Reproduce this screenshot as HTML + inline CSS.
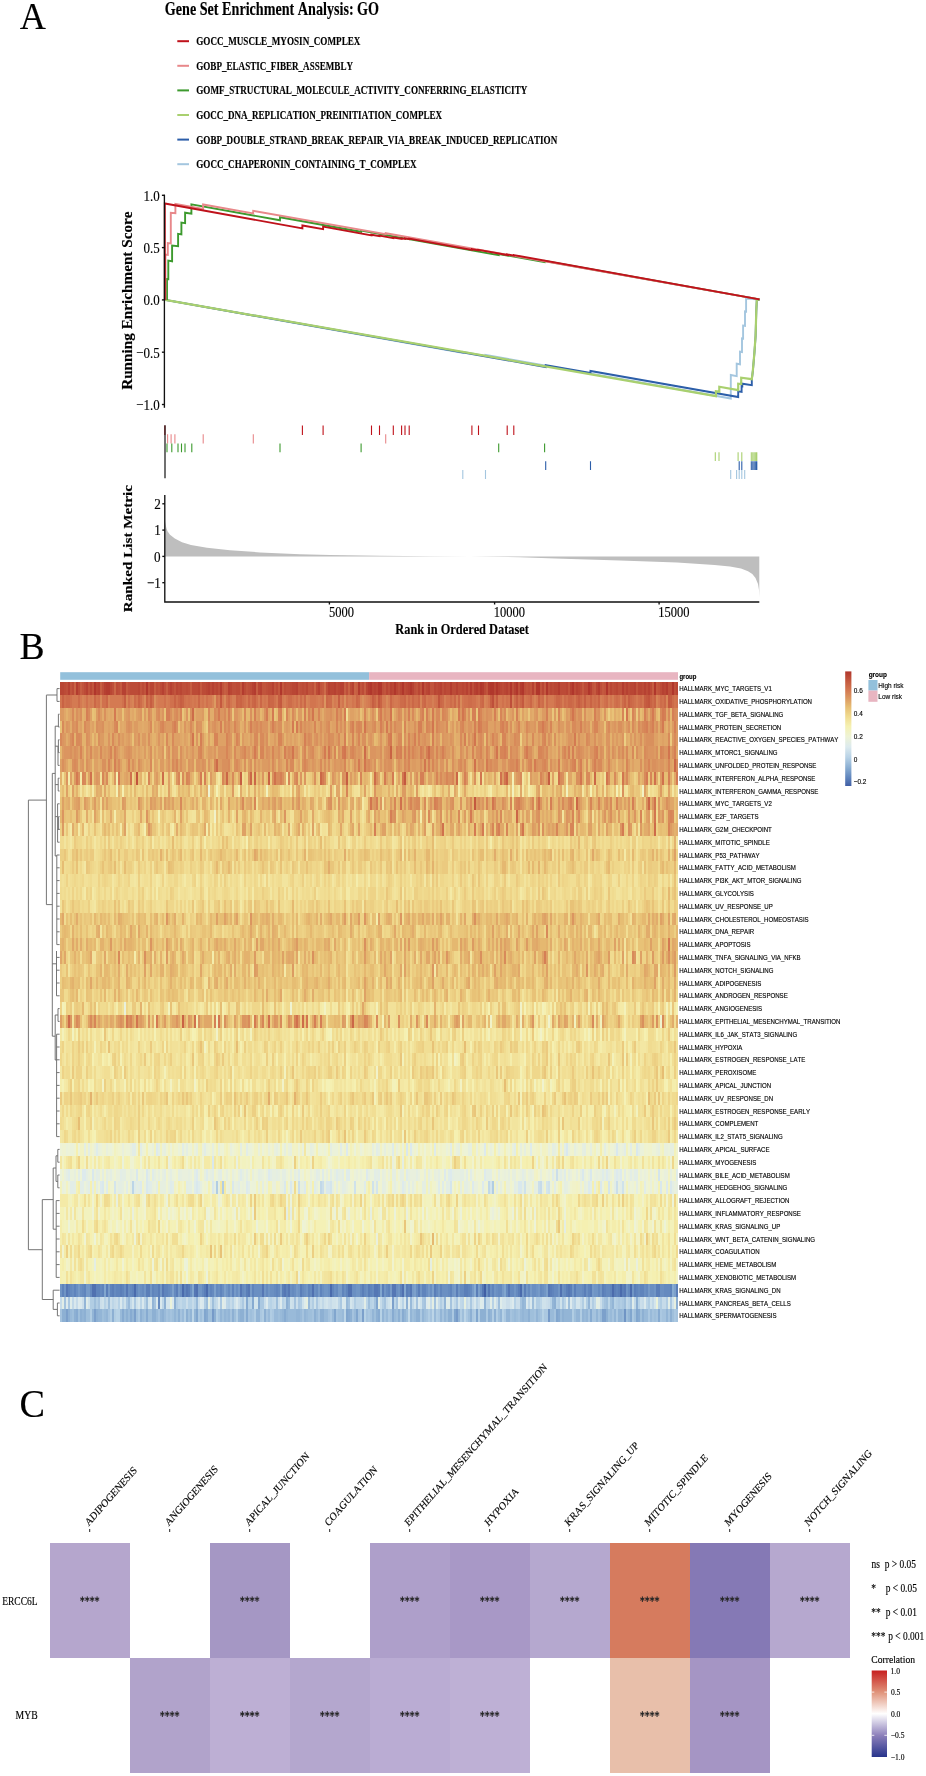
<!DOCTYPE html>
<html><head><meta charset="utf-8"><style>
html,body{margin:0;padding:0;background:#fff;width:926px;height:1776px;overflow:hidden}
svg{display:block;will-change:transform}
text{font-family:"Liberation Serif",serif;font-kerning:none;stroke:#000;stroke-width:0.18px;stroke-opacity:0.8}
.ss{font-family:"Liberation Sans",sans-serif}
</style></head><body>
<svg width="926" height="1776" viewBox="0 0 926 1776">
<rect width="926" height="1776" fill="#fff"/>
<text transform="translate(19.65 29.00) scale(0.9588 1)" font-size="37.870">A</text>
<text transform="translate(164.81 14.70) scale(0.7666 1)" font-size="18.448" font-weight="bold">Gene Set Enrichment Analysis: GO</text>
<rect x="177.3" y="40.20" width="11.7" height="2" fill="#bf121b"/>
<text transform="translate(196.25 45.20) scale(0.7856 1)" font-size="11.629" font-weight="bold">GOCC_MUSCLE_MYOSIN_COMPLEX</text>
<rect x="177.3" y="64.80" width="11.7" height="2" fill="#e8888a"/>
<text transform="translate(196.26 69.80) scale(0.7808 1)" font-size="11.629" font-weight="bold">GOBP_ELASTIC_FIBER_ASSEMBLY</text>
<rect x="177.3" y="89.40" width="11.7" height="2" fill="#3d9a2e"/>
<text transform="translate(196.25 94.40) scale(0.7845 1)" font-size="11.629" font-weight="bold">GOMF_STRUCTURAL_MOLECULE_ACTIVITY_CONFERRING_ELASTICITY</text>
<rect x="177.3" y="114.00" width="11.7" height="2" fill="#a9d06f"/>
<text transform="translate(196.26 119.00) scale(0.7794 1)" font-size="11.629" font-weight="bold">GOCC_DNA_REPLICATION_PREINITIATION_COMPLEX</text>
<rect x="177.3" y="138.60" width="11.7" height="2" fill="#2c5ea9"/>
<text transform="translate(196.26 143.60) scale(0.7828 1)" font-size="11.629" font-weight="bold">GOBP_DOUBLE_STRAND_BREAK_REPAIR_VIA_BREAK_INDUCED_REPLICATION</text>
<rect x="177.3" y="163.20" width="11.7" height="2" fill="#a4c6df"/>
<text transform="translate(196.26 168.20) scale(0.7826 1)" font-size="11.629" font-weight="bold">GOCC_CHAPERONIN_CONTAINING_T_COMPLEX</text>
<text transform="translate(131.80 389.86) rotate(-90) scale(1.0669 1)" font-size="14.268" font-weight="bold">Running Enrichment Score</text>
<g fill="none" stroke-width="1.9" stroke-linejoin="miter">
<path d="M165.20 299.90 462.80 352.83 462.80 351.83 485.50 355.87 485.50 354.87 730.80 398.50 730.80 375.00 736.70 376.20 736.70 363.70 740.00 364.30 740.00 351.60 742.00 352.00 742.00 338.40 743.10 338.60 743.10 325.50 745.00 325.80 745.00 311.50 746.10 311.70 746.10 298.60 759.50 299.50" stroke="#a4c6df"/>
<path d="M165.20 299.90 545.70 367.04 545.70 365.04 590.50 372.94 590.50 370.94 738.20 397.00 738.20 391.30 741.60 391.90 741.60 386.00 742.30 386.20 742.30 383.70 751.80 385.20 751.80 380.00 752.90 370.50 754.40 353.00 755.60 336.00 756.30 311.00 756.80 300.20 759.50 299.60" stroke="#2c5ea9"/>
<path d="M165.20 299.90 715.90 396.20 715.90 391.30 719.30 391.70 719.30 386.70 738.20 390.20 738.20 383.70 741.20 384.00 741.20 377.70 751.80 379.20 752.90 370.10 754.40 352.70 755.60 335.40 756.30 310.40 756.80 300.00 759.50 299.60" stroke="#a9d06f" stroke-width="2.2"/>
<path d="M167.00 299.90 167.00 279.00 168.30 279.20 168.30 260.60 172.10 261.30 172.10 245.50 178.10 246.20 178.10 233.90 181.40 234.40 181.40 222.60 185.10 223.20 185.10 212.70 191.40 213.60 191.40 204.40 280.00 220.25 280.00 217.25 361.10 231.75 361.10 230.55 498.70 255.16 498.70 253.96 544.60 262.17 544.60 260.97 759.50 299.40" stroke="#3d9a2e"/>
<path d="M165.40 299.90 165.40 254.60 167.80 254.90 167.80 243.00 170.80 243.40 170.80 212.70 175.40 213.20 175.40 204.00 203.10 208.90 203.10 204.50 253.20 213.37 253.20 210.77 385.70 234.23 385.70 233.23 759.50 299.40" stroke="#e8888a"/>
<path d="M164.80 299.90 164.80 203.50 302.40 228.35 302.40 225.45 323.10 229.19 323.10 226.59 371.50 235.33 371.50 234.73 379.50 236.17 379.50 235.57 393.30 238.07 393.30 237.47 401.60 238.96 401.60 238.36 405.00 238.98 405.00 238.38 409.20 239.14 409.20 238.54 471.90 249.86 471.90 249.26 478.50 250.45 478.50 249.85 507.20 255.04 507.20 254.44 513.80 255.63 513.80 255.03 759.50 299.40" stroke="#bf121b"/>
</g>
<g stroke="#111" stroke-width="1.35" fill="none">
<path d="M164.4 194.6V407.8"/>
<path d="M161.9 195.30H164.4"/>
<path d="M161.9 247.60H164.4"/>
<path d="M161.9 299.90H164.4"/>
<path d="M161.9 352.20H164.4"/>
<path d="M161.9 404.50H164.4"/>
</g>
<text transform="translate(143.51 200.60) scale(0.8350 1)" font-size="15.600">1.0</text>
<text transform="translate(143.53 252.90) scale(0.8350 1)" font-size="15.600">0.5</text>
<text transform="translate(143.51 305.20) scale(0.8350 1)" font-size="15.600">0.0</text>
<text transform="translate(136.18 357.50) scale(0.8350 1)" font-size="15.600">−0.5</text>
<text transform="translate(136.17 409.80) scale(0.8350 1)" font-size="15.600">−1.0</text>
<g stroke-width="1.1">
<path d="M164.9 425.5V435.0M302.4 425.5V435.0M323.1 425.5V435.0M371.5 425.5V435.0M379.5 425.5V435.0M393.3 425.5V435.0M401.6 425.5V435.0M405.0 425.5V435.0M409.2 425.5V435.0M471.9 425.5V435.0M478.5 425.5V435.0M507.2 425.5V435.0M513.8 425.5V435.0" stroke="#bf121b"/>
<path d="M167.6 434.2V443.5M171.1 434.2V443.5M174.9 434.2V443.5M203.2 434.2V443.5M253.3 434.2V443.5M385.7 434.2V443.5" stroke="#e8888a"/>
<path d="M167.0 443.5V452.2M171.8 443.5V452.2M178.0 443.5V452.2M181.5 443.5V452.2M185.0 443.5V452.2M191.8 443.5V452.2M280.0 443.5V452.2M361.1 443.5V452.2M498.7 443.5V452.2M544.6 443.5V452.2" stroke="#3d9a2e"/>
<path d="M715.3 452.2V460.9M719.0 452.2V460.9M738.1 452.2V460.9M741.8 452.2V460.9M751.3 452.2V460.9M752.8 452.2V460.9M754.2 452.2V460.9M755.7 452.2V460.9M756.8 452.2V460.9" stroke="#a9d06f"/>
<path d="M545.7 461.2V469.9M590.5 461.2V469.9M739.2 461.2V469.9M741.8 461.2V469.9M751.3 461.2V469.9M752.8 461.2V469.9M754.2 461.2V469.9M755.7 461.2V469.9M756.8 461.2V469.9" stroke="#2c5ea9"/>
<path d="M462.8 469.9V479.0M485.5 469.9V479.0M730.7 469.9V479.0M736.6 469.9V479.0M739.2 469.9V479.0M741.8 469.9V479.0M744.7 469.9V479.0" stroke="#a4c6df"/>
</g>
<path d="M165 425.3V478.3" stroke="#111" stroke-width="1.2"/>
<path d="M164.8 556.4 L164.8 520.5 L165.6 524.5 L166.5 528.5 L167.5 531.3 L170.0 534.8 L174.8 538.6 L182.0 542.3 L191.0 545.0 L207.0 547.8 L230.0 550.2 L260.0 552.4 L300.0 554.2 L330.0 555.0 L380.0 555.8 L430.0 556.2 L470.0 556.5 L520.0 557.2 L563.0 558.8 L620.0 560.6 L677.0 562.4 L714.5 565.0 L730.0 566.6 L741.0 568.6 L748.0 571.2 L752.3 574.0 L755.5 578.0 L758.0 584.0 L759.0 590.0 L759.3 597.2 L759.3 556.4Z" fill="#bebebe"/>
<g stroke="#111" stroke-width="1.35" fill="none">
<path d="M164.8 495.0V602.0H759.3"/>
<path d="M162.3 503.80H164.8"/>
<path d="M162.3 530.10H164.8"/>
<path d="M162.3 556.40H164.8"/>
<path d="M162.3 582.70H164.8"/>
<path d="M329.4 602V604.5"/>
<path d="M494.6 602V604.5"/>
<path d="M659.1 602V604.5"/>
</g>
<text transform="translate(154.25 509.00) scale(0.8600 1)" font-size="15.300">2</text>
<text transform="translate(154.31 535.30) scale(0.8600 1)" font-size="15.300">1</text>
<text transform="translate(154.02 561.60) scale(0.8600 1)" font-size="15.300">0</text>
<text transform="translate(146.89 587.90) scale(0.8600 1)" font-size="15.300">−1</text>
<text transform="translate(329.07 617.30) scale(0.8000 1)" font-size="15.600">5000</text>
<text transform="translate(493.80 617.30) scale(0.8000 1)" font-size="15.600">10000</text>
<text transform="translate(658.30 617.30) scale(0.8000 1)" font-size="15.600">15000</text>
<text transform="translate(132.10 612.26) rotate(-90) scale(1.1713 1)" font-size="12.971" font-weight="bold">Ranked List Metric</text>
<text transform="translate(395.29 633.90) scale(0.8259 1)" font-size="14.989" font-weight="bold">Rank in Ordered Dataset</text>
<text transform="translate(19.41 658.60) scale(0.9945 1)" font-size="37.875">B</text>
<rect x="60.2" y="672.2" width="308.9" height="7.6" fill="#93c0db"/>
<rect x="369.1" y="672.2" width="308.9" height="7.6" fill="#e8b5c1"/>
<g stroke-width="12.80" fill="none" shape-rendering="crispEdges">
<path stroke="#b94634" d="M60.2 688.60h4.00M90.2 688.60h2.00M96.2 688.60h2.00M110.2 688.60h2.00M138.2 688.60h2.00M150.2 688.60h4.00M176.2 688.60h2.00M180.2 688.60h2.00M198.2 688.60h2.00M206.2 688.60h2.00M216.1 688.60h2.00M230.1 688.60h2.00M258.1 688.60h2.00M292.1 688.60h4.00M306.1 688.60h2.00M330.1 688.60h4.00M338.1 688.60h2.00M366.1 688.60h2.00M372.1 688.60h2.00M376.1 688.60h2.00M386.1 688.60h2.00M392.1 688.60h2.00M396.1 688.60h2.00M400.1 688.60h2.00M406.1 688.60h2.00M418.1 688.60h2.00M426.1 688.60h2.00M434.1 688.60h2.00M438.1 688.60h2.00M444.1 688.60h2.00M462.1 688.60h2.00M478.1 688.60h2.00M494.1 688.60h2.00M500.1 688.60h2.00M504.1 688.60h2.00M542.0 688.60h2.00M550.0 688.60h2.00M554.0 688.60h4.00M566.0 688.60h2.00M578.0 688.60h2.00M596.0 688.60h2.00M610.0 688.60h2.00M616.0 688.60h2.00M630.0 688.60h4.00M638.0 688.60h4.00M664.0 688.60h2.00M676.0 688.60h2.00"/>
<path stroke="#bc4b37" d="M64.2 688.60h2.00M72.2 688.60h2.00M78.2 688.60h2.00M84.2 688.60h2.00M116.2 688.60h2.00M130.2 688.60h8.00M142.2 688.60h2.00M160.2 688.60h2.00M168.2 688.60h2.00M172.2 688.60h2.00M178.2 688.60h2.00M186.2 688.60h2.00M192.2 688.60h6.00M202.2 688.60h4.00M210.2 688.60h2.00M214.2 688.60h2.00M236.1 688.60h4.00M244.1 688.60h2.00M250.1 688.60h2.00M268.1 688.60h4.00M276.1 688.60h2.00M284.1 688.60h2.00M290.1 688.60h2.00M302.1 688.60h2.00M316.1 688.60h2.00M336.1 688.60h2.00M350.1 688.60h2.00M362.1 688.60h2.00M404.1 688.60h2.00M436.1 688.60h2.00M446.1 688.60h4.00M452.1 688.60h4.00M458.1 688.60h4.00M464.1 688.60h2.00M484.1 688.60h2.00M502.1 688.60h2.00M508.1 688.60h2.00M552.0 688.60h2.00M560.0 688.60h6.00M574.0 688.60h2.00M580.0 688.60h2.00M584.0 688.60h4.00M614.0 688.60h2.00M624.0 688.60h2.00M628.0 688.60h2.00M642.0 688.60h2.00M646.0 688.60h2.00M650.0 688.60h2.00M660.0 688.60h2.00"/>
<path stroke="#be4f3a" d="M66.2 688.60h2.00M102.2 688.60h2.00M112.2 688.60h2.00M118.2 688.60h2.00M128.2 688.60h2.00M156.2 688.60h2.00M164.2 688.60h2.00M182.2 688.60h4.00M188.2 688.60h2.00M218.1 688.60h2.00M232.1 688.60h4.00M248.1 688.60h2.00M266.1 688.60h2.00M286.1 688.60h4.00M300.1 688.60h2.00M304.1 688.60h2.00M312.1 688.60h2.00M326.1 688.60h2.00M346.1 688.60h2.00M382.1 688.60h2.00M388.1 688.60h2.00M398.1 688.60h2.00M414.1 688.60h2.00M424.1 688.60h2.00M442.1 688.60h2.00M468.1 688.60h2.00M472.1 688.60h2.00M512.1 688.60h2.00M518.1 688.60h2.00M524.0 688.60h2.00M528.0 688.60h2.00M548.0 688.60h2.00M600.0 688.60h2.00M612.0 688.60h2.00M618.0 688.60h4.00M668.0 688.60h4.00M674.0 688.60h2.00M492.1 701.40h2.00M510.1 701.40h2.00"/>
<path stroke="#b64132" d="M68.2 688.60h2.00M86.2 688.60h2.00M98.2 688.60h2.00M104.2 688.60h2.00M122.2 688.60h4.00M162.2 688.60h2.00M170.2 688.60h2.00M208.2 688.60h2.00M212.2 688.60h2.00M228.1 688.60h2.00M252.1 688.60h2.00M260.1 688.60h2.00M272.1 688.60h2.00M296.1 688.60h2.00M318.1 688.60h2.00M328.1 688.60h2.00M334.1 688.60h2.00M340.1 688.60h4.00M352.1 688.60h2.00M374.1 688.60h2.00M390.1 688.60h2.00M408.1 688.60h2.00M412.1 688.60h2.00M428.1 688.60h2.00M440.1 688.60h2.00M456.1 688.60h2.00M466.1 688.60h2.00M474.1 688.60h2.00M498.1 688.60h2.00M506.1 688.60h2.00M514.1 688.60h2.00M532.0 688.60h2.00M570.0 688.60h2.00M576.0 688.60h2.00M590.0 688.60h2.00M626.0 688.60h2.00M634.0 688.60h2.00M644.0 688.60h2.00M648.0 688.60h2.00M662.0 688.60h2.00"/>
<path stroke="#c1543c" d="M70.2 688.60h2.00M82.2 688.60h2.00M88.2 688.60h2.00M92.2 688.60h2.00M140.2 688.60h2.00M144.2 688.60h2.00M148.2 688.60h2.00M158.2 688.60h2.00M174.2 688.60h2.00M222.1 688.60h2.00M246.1 688.60h2.00M262.1 688.60h4.00M274.1 688.60h2.00M298.1 688.60h2.00M308.1 688.60h4.00M320.1 688.60h2.00M360.1 688.60h2.00M384.1 688.60h2.00M416.1 688.60h2.00M420.1 688.60h2.00M430.1 688.60h4.00M486.1 688.60h2.00M526.0 688.60h2.00M530.0 688.60h2.00M540.0 688.60h2.00M568.0 688.60h2.00M592.0 688.60h2.00M604.0 688.60h2.00M608.0 688.60h2.00M636.0 688.60h2.00M658.0 688.60h2.00M438.1 701.40h2.00M648.0 701.40h2.00M136.2 778.20h2.00"/>
<path stroke="#c96344" d="M74.2 688.60h2.00M314.1 688.60h2.00M348.1 688.60h2.00M354.1 688.60h2.00M62.2 701.40h2.00M138.2 701.40h2.00M146.2 701.40h2.00M174.2 701.40h2.00M182.2 701.40h2.00M236.1 701.40h2.00M240.1 701.40h2.00M254.1 701.40h2.00M268.1 701.40h2.00M380.1 701.40h2.00M538.0 701.40h2.00M590.0 701.40h2.00M598.0 701.40h2.00M624.0 701.40h2.00M650.0 701.40h2.00M654.0 701.40h2.00M390.1 752.60h2.00M268.1 778.20h2.00M506.1 778.20h2.00M182.2 1021.40h2.00"/>
<path stroke="#b33c2f" d="M76.2 688.60h2.00M106.2 688.60h4.00M220.1 688.60h2.00M242.1 688.60h2.00M254.1 688.60h2.00M358.1 688.60h2.00M368.1 688.60h2.00M450.1 688.60h2.00M470.1 688.60h2.00M476.1 688.60h2.00M482.1 688.60h2.00M488.1 688.60h2.00M520.1 688.60h2.00M558.0 688.60h2.00M598.0 688.60h2.00M622.0 688.60h2.00M666.0 688.60h2.00"/>
<path stroke="#c65e42" d="M80.2 688.60h2.00M100.2 688.60h2.00M154.2 688.60h2.00M166.2 688.60h2.00M190.2 688.60h2.00M224.1 688.60h2.00M256.1 688.60h2.00M344.1 688.60h2.00M356.1 688.60h2.00M364.1 688.60h2.00M652.0 688.60h2.00M124.2 701.40h2.00M150.2 701.40h2.00M180.2 701.40h2.00M278.1 701.40h2.00M338.1 701.40h2.00M372.1 701.40h2.00M490.1 701.40h2.00M496.1 701.40h2.00M516.1 701.40h2.00M578.0 701.40h2.00M584.0 701.40h2.00M628.0 701.40h2.00M644.0 701.40h2.00M670.0 701.40h2.00M240.1 778.20h2.00M346.1 778.20h2.00M548.0 778.20h2.00"/>
<path stroke="#b0362c" d="M94.2 688.60h2.00M496.1 688.60h2.00M510.1 688.60h2.00M516.1 688.60h2.00M522.1 688.60h2.00M538.0 688.60h2.00M572.0 688.60h2.00M606.0 688.60h2.00"/>
<path stroke="#cb6747" d="M114.2 688.60h2.00M94.2 701.40h2.00M106.2 701.40h2.00M178.2 701.40h2.00M198.2 701.40h2.00M228.1 701.40h2.00M238.1 701.40h2.00M248.1 701.40h2.00M252.1 701.40h2.00M260.1 701.40h2.00M270.1 701.40h4.00M304.1 701.40h2.00M326.1 701.40h2.00M356.1 701.40h2.00M374.1 701.40h2.00M390.1 701.40h2.00M404.1 701.40h2.00M412.1 701.40h2.00M418.1 701.40h2.00M424.1 701.40h2.00M440.1 701.40h2.00M454.1 701.40h2.00M458.1 701.40h2.00M482.1 701.40h2.00M520.1 701.40h2.00M530.0 701.40h2.00M556.0 701.40h4.00M568.0 701.40h4.00M576.0 701.40h2.00M580.0 701.40h2.00M630.0 701.40h2.00M664.0 701.40h2.00M674.0 765.40h2.00M226.1 778.20h2.00M250.1 778.20h2.00M254.1 778.20h2.00M320.1 778.20h2.00M456.1 778.20h2.00M594.0 778.20h2.00M576.0 803.80h2.00M648.0 803.80h2.00M516.1 816.60h2.00M352.1 1021.40h2.00"/>
<path stroke="#c4593f" d="M120.2 688.60h2.00M126.2 688.60h2.00M200.2 688.60h2.00M226.1 688.60h2.00M240.1 688.60h2.00M278.1 688.60h2.00M282.1 688.60h2.00M322.1 688.60h2.00M534.0 688.60h2.00M544.0 688.60h2.00M582.0 688.60h2.00M594.0 688.60h2.00M602.0 688.60h2.00M656.0 688.60h2.00M220.1 701.40h2.00M280.1 701.40h2.00M378.1 701.40h2.00M522.1 701.40h2.00M646.0 701.40h2.00M668.0 701.40h2.00M404.1 778.20h2.00M474.1 803.80h2.00"/>
<path stroke="#b0372c" d="M146.2 688.60h2.00M280.1 688.60h2.00M370.1 688.60h2.00M378.1 688.60h4.00M394.1 688.60h2.00M402.1 688.60h2.00M410.1 688.60h2.00M422.1 688.60h2.00M480.1 688.60h2.00M490.1 688.60h4.00M536.0 688.60h2.00M546.0 688.60h2.00M588.0 688.60h2.00M654.0 688.60h2.00M672.0 688.60h2.00"/>
<path stroke="#cd6c4a" d="M324.1 688.60h2.00M66.2 701.40h4.00M78.2 701.40h2.00M134.2 701.40h2.00M140.2 701.40h2.00M152.2 701.40h2.00M242.1 701.40h2.00M288.1 701.40h4.00M300.1 701.40h2.00M328.1 701.40h4.00M358.1 701.40h2.00M400.1 701.40h4.00M408.1 701.40h2.00M422.1 701.40h2.00M442.1 701.40h2.00M450.1 701.40h2.00M468.1 701.40h4.00M480.1 701.40h2.00M514.1 701.40h2.00M542.0 701.40h2.00M546.0 701.40h2.00M560.0 701.40h2.00M564.0 701.40h2.00M572.0 701.40h2.00M594.0 701.40h2.00M606.0 701.40h2.00M616.0 701.40h2.00M622.0 701.40h2.00M632.0 701.40h2.00M640.0 701.40h2.00M652.0 701.40h2.00M660.0 701.40h2.00M672.0 701.40h2.00M192.2 714.20h2.00M364.1 752.60h2.00M428.1 752.60h2.00M216.1 765.40h2.00M162.2 778.20h2.00M374.1 778.20h2.00M654.0 829.40h2.00M68.2 1021.40h2.00M302.1 1021.40h2.00"/>
<path stroke="#d2754f" d="M60.2 701.40h2.00M96.2 701.40h2.00M136.2 701.40h2.00M186.2 701.40h2.00M190.2 701.40h2.00M194.2 701.40h2.00M202.2 701.40h2.00M230.1 701.40h2.00M250.1 701.40h2.00M264.1 701.40h2.00M286.1 701.40h2.00M292.1 701.40h2.00M310.1 701.40h6.00M342.1 701.40h2.00M346.1 701.40h2.00M352.1 701.40h2.00M376.1 701.40h2.00M392.1 701.40h2.00M398.1 701.40h2.00M410.1 701.40h2.00M428.1 701.40h4.00M434.1 701.40h2.00M446.1 701.40h4.00M452.1 701.40h2.00M462.1 701.40h2.00M488.1 701.40h2.00M508.1 701.40h2.00M526.0 701.40h2.00M574.0 701.40h2.00M610.0 701.40h2.00M626.0 701.40h2.00M642.0 701.40h2.00M674.0 701.40h2.00M312.1 714.20h2.00M390.1 714.20h2.00M462.1 714.20h2.00M572.0 714.20h2.00M626.0 714.20h2.00M364.1 727.00h2.00M432.1 727.00h2.00M192.2 739.80h2.00M474.1 739.80h2.00M292.1 752.60h2.00M328.1 752.60h2.00M344.1 752.60h2.00M496.1 752.60h2.00M668.0 752.60h2.00M364.1 765.40h2.00M424.1 765.40h2.00M402.1 778.20h2.00M480.1 778.20h2.00M504.1 778.20h2.00M580.0 778.20h2.00M606.0 778.20h2.00M622.0 778.20h2.00M370.1 803.80h2.00M492.1 803.80h2.00M654.0 816.60h2.00M522.1 829.40h2.00M136.2 1021.40h2.00M218.1 1021.40h2.00M306.1 1021.40h2.00"/>
<path stroke="#d0714d" d="M64.2 701.40h2.00M70.2 701.40h2.00M86.2 701.40h2.00M98.2 701.40h2.00M102.2 701.40h4.00M122.2 701.40h2.00M128.2 701.40h2.00M148.2 701.40h2.00M164.2 701.40h2.00M170.2 701.40h4.00M176.2 701.40h2.00M184.2 701.40h2.00M188.2 701.40h2.00M206.2 701.40h2.00M216.1 701.40h2.00M226.1 701.40h2.00M244.1 701.40h2.00M256.1 701.40h2.00M274.1 701.40h2.00M296.1 701.40h2.00M322.1 701.40h2.00M370.1 701.40h2.00M414.1 701.40h4.00M436.1 701.40h2.00M464.1 701.40h4.00M472.1 701.40h4.00M494.1 701.40h2.00M502.1 701.40h2.00M506.1 701.40h2.00M518.1 701.40h2.00M528.0 701.40h2.00M540.0 701.40h2.00M554.0 701.40h2.00M566.0 701.40h2.00M582.0 701.40h2.00M586.0 701.40h4.00M592.0 701.40h2.00M596.0 701.40h2.00M604.0 701.40h2.00M614.0 701.40h2.00M618.0 701.40h2.00M634.0 701.40h2.00M638.0 701.40h2.00M662.0 701.40h2.00M676.0 701.40h2.00M474.1 765.40h2.00M90.2 778.20h2.00M130.2 778.20h2.00M274.1 778.20h2.00M500.1 778.20h2.00M558.0 778.20h2.00M654.0 778.20h2.00M662.0 778.20h2.00M400.1 803.80h2.00M538.0 803.80h2.00M654.0 803.80h2.00M442.1 829.40h2.00M194.2 1021.40h2.00M268.1 1021.40h2.00M296.1 1021.40h2.00"/>
<path stroke="#d47a52" d="M72.2 701.40h6.00M80.2 701.40h2.00M90.2 701.40h2.00M110.2 701.40h12.00M142.2 701.40h2.00M158.2 701.40h6.00M168.2 701.40h2.00M192.2 701.40h2.00M196.2 701.40h2.00M200.2 701.40h2.00M208.2 701.40h4.00M218.1 701.40h2.00M222.1 701.40h2.00M246.1 701.40h2.00M262.1 701.40h2.00M266.1 701.40h2.00M276.1 701.40h2.00M282.1 701.40h2.00M294.1 701.40h2.00M302.1 701.40h2.00M316.1 701.40h2.00M320.1 701.40h2.00M334.1 701.40h2.00M354.1 701.40h2.00M368.1 701.40h2.00M382.1 701.40h4.00M394.1 701.40h4.00M406.1 701.40h2.00M426.1 701.40h2.00M476.1 701.40h2.00M498.1 701.40h4.00M504.1 701.40h2.00M524.0 701.40h2.00M532.0 701.40h2.00M536.0 701.40h2.00M548.0 701.40h6.00M562.0 701.40h2.00M602.0 701.40h2.00M636.0 701.40h2.00M658.0 701.40h2.00M114.2 714.20h2.00M218.1 714.20h2.00M266.1 714.20h2.00M272.1 714.20h2.00M344.1 714.20h2.00M380.1 714.20h2.00M432.1 714.20h2.00M458.1 714.20h2.00M478.1 714.20h2.00M652.0 714.20h2.00M662.0 714.20h2.00M292.1 727.00h2.00M296.1 727.00h2.00M386.1 727.00h2.00M478.1 727.00h2.00M542.0 727.00h2.00M662.0 727.00h2.00M390.1 739.80h2.00M574.0 739.80h2.00M254.1 752.60h2.00M324.1 752.60h2.00M342.1 752.60h2.00M526.0 752.60h2.00M358.1 765.40h2.00M486.1 765.40h2.00M534.0 765.40h2.00M76.2 778.20h2.00M118.2 778.20h2.00M200.2 778.20h2.00M322.1 778.20h2.00M384.1 778.20h2.00M392.1 778.20h2.00M646.0 778.20h2.00M676.0 778.20h2.00M470.1 816.60h2.00M474.1 829.40h2.00M482.1 829.40h2.00M622.0 829.40h2.00M668.0 944.60h2.00M126.2 1021.40h2.00M156.2 1021.40h2.00M254.1 1021.40h2.00"/>
<path stroke="#d78557" d="M82.2 701.40h2.00M108.2 701.40h2.00M126.2 701.40h2.00M132.2 701.40h2.00M212.2 701.40h2.00M306.1 701.40h2.00M332.1 701.40h2.00M360.1 701.40h2.00M364.1 701.40h2.00M420.1 701.40h2.00M484.1 701.40h2.00M534.0 701.40h2.00M656.0 701.40h2.00M666.0 701.40h2.00M180.2 714.20h2.00M278.1 714.20h2.00M286.1 714.20h2.00M308.1 714.20h2.00M318.1 714.20h2.00M364.1 714.20h2.00M442.1 714.20h2.00M464.1 714.20h2.00M480.1 714.20h2.00M500.1 714.20h2.00M558.0 714.20h2.00M622.0 714.20h2.00M632.0 714.20h2.00M116.2 727.00h2.00M162.2 727.00h2.00M234.1 727.00h2.00M300.1 727.00h2.00M314.1 727.00h2.00M336.1 727.00h2.00M358.1 727.00h2.00M390.1 727.00h2.00M404.1 727.00h2.00M426.1 727.00h2.00M436.1 727.00h2.00M462.1 727.00h2.00M500.1 727.00h2.00M506.1 727.00h2.00M518.1 727.00h2.00M550.0 727.00h2.00M594.0 727.00h4.00M644.0 727.00h2.00M72.2 739.80h2.00M214.2 739.80h4.00M226.1 739.80h2.00M236.1 739.80h2.00M278.1 739.80h4.00M352.1 739.80h2.00M358.1 739.80h2.00M408.1 739.80h2.00M418.1 739.80h2.00M492.1 739.80h2.00M502.1 739.80h4.00M544.0 739.80h2.00M80.2 752.60h2.00M110.2 752.60h2.00M114.2 752.60h2.00M200.2 752.60h2.00M226.1 752.60h2.00M244.1 752.60h2.00M260.1 752.60h4.00M272.1 752.60h2.00M304.1 752.60h2.00M334.1 752.60h2.00M352.1 752.60h2.00M398.1 752.60h2.00M412.1 752.60h2.00M436.1 752.60h2.00M472.1 752.60h2.00M480.1 752.60h2.00M486.1 752.60h2.00M500.1 752.60h4.00M538.0 752.60h4.00M564.0 752.60h2.00M594.0 752.60h2.00M660.0 752.60h2.00M108.2 765.40h2.00M128.2 765.40h2.00M176.2 765.40h2.00M214.2 765.40h2.00M286.1 765.40h2.00M304.1 765.40h2.00M344.1 765.40h2.00M408.1 765.40h2.00M432.1 765.40h2.00M530.0 765.40h2.00M544.0 765.40h2.00M572.0 765.40h2.00M626.0 765.40h2.00M648.0 765.40h2.00M668.0 765.40h2.00M82.2 778.20h2.00M102.2 778.20h2.00M148.2 778.20h2.00M178.2 778.20h2.00M186.2 778.20h2.00M222.1 778.20h2.00M288.1 778.20h2.00M296.1 778.20h2.00M360.1 778.20h2.00M436.1 778.20h2.00M446.1 778.20h2.00M452.1 778.20h2.00M540.0 778.20h2.00M650.0 778.20h2.00M346.1 791.00h2.00M254.1 803.80h2.00M394.1 803.80h2.00M410.1 803.80h2.00M436.1 803.80h2.00M486.1 803.80h2.00M510.1 803.80h2.00M516.1 803.80h2.00M532.0 803.80h2.00M590.0 803.80h2.00M598.0 803.80h2.00M616.0 803.80h2.00M572.0 816.60h2.00M640.0 816.60h2.00M670.0 816.60h2.00M492.1 829.40h2.00M506.1 829.40h2.00M556.0 829.40h2.00M570.0 829.40h4.00M668.0 829.40h2.00M94.2 1021.40h2.00M130.2 1021.40h2.00M262.1 1021.40h2.00M294.1 1021.40h2.00M364.1 1021.40h2.00"/>
<path stroke="#d57f55" d="M84.2 701.40h2.00M88.2 701.40h2.00M92.2 701.40h2.00M130.2 701.40h2.00M156.2 701.40h2.00M166.2 701.40h2.00M204.2 701.40h2.00M232.1 701.40h4.00M258.1 701.40h2.00M284.1 701.40h2.00M298.1 701.40h2.00M308.1 701.40h2.00M318.1 701.40h2.00M336.1 701.40h2.00M340.1 701.40h2.00M348.1 701.40h4.00M366.1 701.40h2.00M388.1 701.40h2.00M432.1 701.40h2.00M444.1 701.40h2.00M456.1 701.40h2.00M478.1 701.40h2.00M486.1 701.40h2.00M512.1 701.40h2.00M600.0 701.40h2.00M608.0 701.40h2.00M612.0 701.40h2.00M620.0 701.40h2.00M86.2 714.20h2.00M166.2 714.20h4.00M228.1 714.20h2.00M254.1 714.20h2.00M280.1 714.20h2.00M304.1 714.20h2.00M336.1 714.20h2.00M408.1 714.20h2.00M422.1 714.20h2.00M426.1 714.20h2.00M472.1 714.20h4.00M494.1 714.20h2.00M516.1 714.20h2.00M546.0 714.20h2.00M594.0 714.20h2.00M644.0 714.20h2.00M664.0 714.20h2.00M672.0 714.20h2.00M174.2 727.00h2.00M220.1 727.00h2.00M250.1 727.00h2.00M272.1 727.00h2.00M352.1 727.00h2.00M380.1 727.00h2.00M418.1 727.00h4.00M474.1 727.00h2.00M480.1 727.00h2.00M502.1 727.00h2.00M580.0 727.00h2.00M646.0 727.00h2.00M652.0 727.00h2.00M674.0 727.00h2.00M200.2 739.80h2.00M304.1 739.80h2.00M344.1 739.80h2.00M388.1 739.80h2.00M414.1 739.80h2.00M432.1 739.80h2.00M464.1 739.80h2.00M284.1 752.60h2.00M396.1 752.60h2.00M400.1 752.60h2.00M404.1 752.60h2.00M408.1 752.60h2.00M420.1 752.60h2.00M426.1 752.60h2.00M442.1 752.60h2.00M504.1 752.60h2.00M568.0 752.60h2.00M572.0 752.60h2.00M596.0 752.60h2.00M674.0 752.60h2.00M114.2 765.40h2.00M428.1 765.40h2.00M516.1 765.40h2.00M558.0 765.40h2.00M574.0 765.40h2.00M580.0 765.40h2.00M594.0 765.40h2.00M204.2 778.20h2.00M280.1 778.20h2.00M420.1 778.20h4.00M464.1 778.20h2.00M668.0 778.20h2.00M376.1 803.80h2.00M434.1 803.80h2.00M518.1 803.80h2.00M550.0 803.80h2.00M570.0 803.80h2.00M632.0 803.80h2.00M390.1 816.60h2.00M374.1 829.40h2.00M498.1 829.40h2.00M544.0 957.40h2.00M214.2 1021.40h2.00M314.1 1021.40h2.00M320.1 1021.40h2.00"/>
<path stroke="#d88a5a" d="M100.2 701.40h2.00M144.2 701.40h2.00M224.1 701.40h2.00M386.1 701.40h2.00M460.1 701.40h2.00M544.0 701.40h2.00M72.2 714.20h2.00M88.2 714.20h2.00M98.2 714.20h2.00M148.2 714.20h2.00M158.2 714.20h2.00M176.2 714.20h2.00M208.2 714.20h2.00M214.2 714.20h2.00M224.1 714.20h2.00M244.1 714.20h2.00M292.1 714.20h2.00M340.1 714.20h2.00M378.1 714.20h2.00M384.1 714.20h2.00M398.1 714.20h2.00M412.1 714.20h2.00M420.1 714.20h2.00M436.1 714.20h4.00M444.1 714.20h2.00M504.1 714.20h2.00M570.0 714.20h2.00M574.0 714.20h2.00M660.0 714.20h2.00M668.0 714.20h2.00M674.0 714.20h2.00M62.2 727.00h2.00M76.2 727.00h2.00M84.2 727.00h2.00M114.2 727.00h2.00M150.2 727.00h2.00M160.2 727.00h2.00M172.2 727.00h2.00M190.2 727.00h2.00M224.1 727.00h2.00M228.1 727.00h2.00M256.1 727.00h2.00M260.1 727.00h2.00M328.1 727.00h2.00M344.1 727.00h2.00M350.1 727.00h2.00M356.1 727.00h2.00M360.1 727.00h2.00M374.1 727.00h2.00M394.1 727.00h2.00M428.1 727.00h2.00M446.1 727.00h2.00M460.1 727.00h2.00M486.1 727.00h2.00M526.0 727.00h2.00M538.0 727.00h4.00M544.0 727.00h2.00M572.0 727.00h4.00M608.0 727.00h2.00M632.0 727.00h2.00M638.0 727.00h2.00M642.0 727.00h2.00M650.0 727.00h2.00M60.2 739.80h2.00M76.2 739.80h4.00M112.2 739.80h2.00M166.2 739.80h2.00M172.2 739.80h2.00M254.1 739.80h4.00M260.1 739.80h4.00M308.1 739.80h2.00M328.1 739.80h2.00M338.1 739.80h2.00M398.1 739.80h4.00M460.1 739.80h2.00M480.1 739.80h2.00M486.1 739.80h2.00M514.1 739.80h2.00M532.0 739.80h2.00M542.0 739.80h2.00M586.0 739.80h2.00M668.0 739.80h2.00M674.0 739.80h2.00M90.2 752.60h2.00M100.2 752.60h2.00M198.2 752.60h2.00M234.1 752.60h2.00M288.1 752.60h2.00M312.1 752.60h2.00M350.1 752.60h2.00M388.1 752.60h2.00M422.1 752.60h2.00M430.1 752.60h4.00M506.1 752.60h2.00M510.1 752.60h2.00M524.0 752.60h2.00M542.0 752.60h2.00M546.0 752.60h2.00M578.0 752.60h2.00M622.0 752.60h2.00M626.0 752.60h2.00M632.0 752.60h2.00M644.0 752.60h2.00M662.0 752.60h2.00M74.2 765.40h2.00M118.2 765.40h2.00M150.2 765.40h2.00M172.2 765.40h2.00M228.1 765.40h2.00M236.1 765.40h2.00M272.1 765.40h2.00M290.1 765.40h4.00M320.1 765.40h2.00M368.1 765.40h2.00M404.1 765.40h2.00M460.1 765.40h2.00M464.1 765.40h2.00M490.1 765.40h2.00M510.1 765.40h4.00M528.0 765.40h2.00M542.0 765.40h2.00M598.0 765.40h4.00M608.0 765.40h2.00M676.0 765.40h2.00M84.2 778.20h2.00M106.2 778.20h2.00M182.2 778.20h2.00M188.2 778.20h2.00M232.1 778.20h2.00M276.1 778.20h4.00M324.1 778.20h2.00M440.1 778.20h2.00M520.1 778.20h2.00M560.0 778.20h2.00M586.0 778.20h4.00M608.0 778.20h2.00M614.0 778.20h2.00M626.0 778.20h2.00M644.0 778.20h2.00M180.2 803.80h2.00M242.1 803.80h2.00M416.1 803.80h4.00M424.1 803.80h2.00M470.1 803.80h2.00M494.1 803.80h2.00M562.0 803.80h2.00M568.0 803.80h2.00M610.0 803.80h2.00M428.1 816.60h2.00M458.1 816.60h2.00M500.1 816.60h2.00M578.0 816.60h2.00M668.0 816.60h2.00M672.0 816.60h2.00M496.1 829.40h2.00M546.0 931.80h2.00M118.2 957.40h2.00M504.1 957.40h2.00M632.0 957.40h2.00M76.2 1021.40h2.00M90.2 1021.40h2.00M248.1 1021.40h2.00M280.1 1021.40h2.00M366.1 1021.40h2.00M376.1 1021.40h2.00M426.1 1021.40h2.00M592.0 1021.40h2.00M662.0 1021.40h2.00"/>
<path stroke="#d9905d" d="M154.2 701.40h2.00M344.1 701.40h2.00M362.1 701.40h2.00M76.2 714.20h2.00M80.2 714.20h2.00M104.2 714.20h2.00M156.2 714.20h2.00M170.2 714.20h2.00M174.2 714.20h2.00M190.2 714.20h2.00M216.1 714.20h2.00M250.1 714.20h2.00M264.1 714.20h2.00M330.1 714.20h2.00M372.1 714.20h2.00M400.1 714.20h2.00M404.1 714.20h2.00M446.1 714.20h2.00M468.1 714.20h2.00M486.1 714.20h2.00M578.0 714.20h4.00M584.0 714.20h2.00M598.0 714.20h2.00M650.0 714.20h2.00M676.0 714.20h2.00M72.2 727.00h2.00M96.2 727.00h2.00M102.2 727.00h2.00M128.2 727.00h2.00M176.2 727.00h2.00M196.2 727.00h2.00M214.2 727.00h2.00M254.1 727.00h2.00M274.1 727.00h2.00M278.1 727.00h4.00M304.1 727.00h2.00M320.1 727.00h2.00M326.1 727.00h2.00M340.1 727.00h2.00M372.1 727.00h2.00M382.1 727.00h2.00M414.1 727.00h2.00M438.1 727.00h2.00M482.1 727.00h4.00M504.1 727.00h2.00M510.1 727.00h2.00M546.0 727.00h2.00M558.0 727.00h2.00M584.0 727.00h2.00M618.0 727.00h4.00M628.0 727.00h2.00M656.0 727.00h2.00M660.0 727.00h2.00M70.2 739.80h2.00M80.2 739.80h2.00M86.2 739.80h2.00M98.2 739.80h2.00M118.2 739.80h2.00M138.2 739.80h2.00M148.2 739.80h2.00M228.1 739.80h2.00M238.1 739.80h2.00M266.1 739.80h2.00M310.1 739.80h2.00M316.1 739.80h2.00M330.1 739.80h4.00M362.1 739.80h4.00M404.1 739.80h2.00M424.1 739.80h2.00M468.1 739.80h2.00M472.1 739.80h2.00M478.1 739.80h2.00M496.1 739.80h2.00M516.1 739.80h4.00M548.0 739.80h2.00M554.0 739.80h2.00M578.0 739.80h2.00M588.0 739.80h2.00M594.0 739.80h2.00M640.0 739.80h2.00M646.0 739.80h8.00M70.2 752.60h2.00M74.2 752.60h2.00M128.2 752.60h2.00M150.2 752.60h2.00M168.2 752.60h2.00M172.2 752.60h2.00M180.2 752.60h2.00M242.1 752.60h2.00M256.1 752.60h2.00M266.1 752.60h2.00M278.1 752.60h2.00M290.1 752.60h2.00M310.1 752.60h2.00M330.1 752.60h2.00M338.1 752.60h2.00M354.1 752.60h2.00M380.1 752.60h2.00M386.1 752.60h2.00M414.1 752.60h2.00M440.1 752.60h2.00M444.1 752.60h2.00M452.1 752.60h2.00M460.1 752.60h2.00M466.1 752.60h2.00M476.1 752.60h4.00M494.1 752.60h2.00M516.1 752.60h2.00M528.0 752.60h4.00M562.0 752.60h2.00M576.0 752.60h2.00M580.0 752.60h2.00M600.0 752.60h2.00M608.0 752.60h2.00M612.0 752.60h2.00M618.0 752.60h2.00M636.0 752.60h2.00M646.0 752.60h2.00M656.0 752.60h2.00M672.0 752.60h2.00M62.2 765.40h2.00M72.2 765.40h2.00M76.2 765.40h2.00M86.2 765.40h2.00M102.2 765.40h4.00M132.2 765.40h2.00M138.2 765.40h2.00M180.2 765.40h2.00M202.2 765.40h2.00M222.1 765.40h6.00M234.1 765.40h2.00M244.1 765.40h2.00M250.1 765.40h2.00M254.1 765.40h2.00M302.1 765.40h2.00M306.1 765.40h2.00M324.1 765.40h2.00M328.1 765.40h2.00M354.1 765.40h2.00M366.1 765.40h2.00M374.1 765.40h2.00M384.1 765.40h2.00M388.1 765.40h4.00M398.1 765.40h2.00M420.1 765.40h2.00M436.1 765.40h2.00M446.1 765.40h2.00M452.1 765.40h2.00M458.1 765.40h2.00M478.1 765.40h2.00M482.1 765.40h2.00M488.1 765.40h2.00M494.1 765.40h4.00M508.1 765.40h2.00M514.1 765.40h2.00M518.1 765.40h2.00M536.0 765.40h2.00M546.0 765.40h2.00M550.0 765.40h2.00M566.0 765.40h2.00M570.0 765.40h2.00M578.0 765.40h2.00M586.0 765.40h2.00M592.0 765.40h2.00M640.0 765.40h2.00M644.0 765.40h2.00M652.0 765.40h4.00M78.2 778.20h2.00M248.1 778.20h2.00M272.1 778.20h2.00M282.1 778.20h2.00M294.1 778.20h2.00M314.1 778.20h2.00M342.1 778.20h2.00M376.1 778.20h2.00M416.1 778.20h2.00M448.1 778.20h4.00M474.1 778.20h2.00M562.0 778.20h2.00M576.0 778.20h4.00M622.0 791.00h2.00M330.1 803.80h2.00M414.1 803.80h2.00M440.1 803.80h2.00M452.1 803.80h2.00M478.1 803.80h2.00M502.1 803.80h2.00M514.1 803.80h2.00M520.1 803.80h2.00M536.0 803.80h2.00M606.0 803.80h2.00M646.0 803.80h2.00M666.0 803.80h2.00M394.1 816.60h2.00M440.1 816.60h2.00M538.0 816.60h2.00M610.0 816.60h2.00M538.0 829.40h2.00M542.0 829.40h2.00M628.0 829.40h2.00M474.1 919.00h2.00M364.1 944.60h2.00M144.2 957.40h2.00M312.1 957.40h2.00M480.1 957.40h2.00M668.0 957.40h2.00M120.2 1021.40h2.00M128.2 1021.40h2.00M198.2 1021.40h2.00M224.1 1021.40h2.00M288.1 1021.40h2.00M398.1 1021.40h2.00M642.0 1021.40h2.00M656.0 1021.40h2.00"/>
<path stroke="#dc9b62" d="M214.2 701.40h2.00M60.2 714.20h4.00M78.2 714.20h2.00M96.2 714.20h2.00M100.2 714.20h2.00M126.2 714.20h2.00M138.2 714.20h2.00M144.2 714.20h2.00M178.2 714.20h2.00M202.2 714.20h2.00M258.1 714.20h2.00M294.1 714.20h2.00M298.1 714.20h4.00M324.1 714.20h2.00M332.1 714.20h2.00M382.1 714.20h2.00M396.1 714.20h2.00M428.1 714.20h2.00M484.1 714.20h2.00M502.1 714.20h2.00M534.0 714.20h2.00M542.0 714.20h4.00M554.0 714.20h2.00M566.0 714.20h2.00M576.0 714.20h2.00M638.0 714.20h2.00M68.2 727.00h2.00M134.2 727.00h4.00M148.2 727.00h2.00M158.2 727.00h2.00M166.2 727.00h6.00M192.2 727.00h2.00M216.1 727.00h2.00M230.1 727.00h2.00M238.1 727.00h2.00M248.1 727.00h2.00M276.1 727.00h2.00M286.1 727.00h2.00M302.1 727.00h2.00M306.1 727.00h2.00M310.1 727.00h2.00M324.1 727.00h2.00M368.1 727.00h4.00M408.1 727.00h2.00M422.1 727.00h2.00M444.1 727.00h2.00M452.1 727.00h2.00M456.1 727.00h2.00M464.1 727.00h2.00M476.1 727.00h2.00M530.0 727.00h4.00M560.0 727.00h4.00M582.0 727.00h2.00M586.0 727.00h2.00M598.0 727.00h2.00M612.0 727.00h2.00M622.0 727.00h2.00M626.0 727.00h2.00M634.0 727.00h2.00M654.0 727.00h2.00M668.0 727.00h2.00M672.0 727.00h2.00M676.0 727.00h2.00M64.2 739.80h2.00M100.2 739.80h4.00M122.2 739.80h2.00M128.2 739.80h2.00M134.2 739.80h2.00M142.2 739.80h4.00M202.2 739.80h2.00M242.1 739.80h2.00M250.1 739.80h2.00M264.1 739.80h2.00M274.1 739.80h2.00M282.1 739.80h2.00M326.1 739.80h2.00M336.1 739.80h2.00M356.1 739.80h2.00M368.1 739.80h2.00M386.1 739.80h2.00M396.1 739.80h2.00M410.1 739.80h2.00M420.1 739.80h2.00M426.1 739.80h4.00M438.1 739.80h2.00M444.1 739.80h4.00M452.1 739.80h2.00M490.1 739.80h2.00M506.1 739.80h2.00M510.1 739.80h4.00M538.0 739.80h2.00M550.0 739.80h2.00M572.0 739.80h2.00M598.0 739.80h4.00M612.0 739.80h2.00M616.0 739.80h2.00M630.0 739.80h2.00M672.0 739.80h2.00M676.0 739.80h2.00M62.2 752.60h2.00M72.2 752.60h2.00M94.2 752.60h4.00M104.2 752.60h2.00M124.2 752.60h2.00M144.2 752.60h2.00M166.2 752.60h2.00M186.2 752.60h2.00M202.2 752.60h2.00M208.2 752.60h4.00M230.1 752.60h2.00M246.1 752.60h2.00M274.1 752.60h4.00M294.1 752.60h2.00M340.1 752.60h2.00M356.1 752.60h2.00M360.1 752.60h2.00M366.1 752.60h2.00M376.1 752.60h4.00M406.1 752.60h2.00M418.1 752.60h2.00M424.1 752.60h2.00M438.1 752.60h2.00M446.1 752.60h4.00M462.1 752.60h2.00M482.1 752.60h2.00M566.0 752.60h2.00M586.0 752.60h2.00M606.0 752.60h2.00M614.0 752.60h2.00M620.0 752.60h2.00M654.0 752.60h2.00M64.2 765.40h2.00M80.2 765.40h2.00M88.2 765.40h2.00M110.2 765.40h2.00M116.2 765.40h2.00M140.2 765.40h2.00M160.2 765.40h4.00M190.2 765.40h2.00M200.2 765.40h2.00M218.1 765.40h4.00M248.1 765.40h2.00M258.1 765.40h2.00M262.1 765.40h6.00M274.1 765.40h2.00M280.1 765.40h2.00M308.1 765.40h2.00M314.1 765.40h2.00M336.1 765.40h4.00M342.1 765.40h2.00M360.1 765.40h2.00M400.1 765.40h2.00M412.1 765.40h4.00M434.1 765.40h2.00M462.1 765.40h2.00M526.0 765.40h2.00M554.0 765.40h2.00M562.0 765.40h2.00M622.0 765.40h2.00M628.0 765.40h2.00M650.0 765.40h2.00M658.0 765.40h2.00M666.0 765.40h2.00M74.2 778.20h2.00M98.2 778.20h2.00M156.2 778.20h2.00M210.2 778.20h2.00M224.1 778.20h2.00M350.1 778.20h2.00M410.1 778.20h2.00M442.1 778.20h2.00M502.1 778.20h2.00M516.1 778.20h2.00M530.0 778.20h2.00M660.0 778.20h2.00M232.1 791.00h2.00M330.1 791.00h2.00M402.1 791.00h4.00M416.1 791.00h2.00M660.0 791.00h2.00M78.2 803.80h2.00M84.2 803.80h2.00M94.2 803.80h2.00M122.2 803.80h2.00M150.2 803.80h2.00M164.2 803.80h2.00M274.1 803.80h2.00M280.1 803.80h2.00M292.1 803.80h2.00M372.1 803.80h2.00M390.1 803.80h2.00M412.1 803.80h2.00M466.1 803.80h2.00M476.1 803.80h2.00M504.1 803.80h2.00M522.1 803.80h2.00M530.0 803.80h2.00M604.0 803.80h2.00M668.0 803.80h2.00M76.2 816.60h2.00M412.1 816.60h2.00M450.1 816.60h2.00M464.1 816.60h2.00M568.0 816.60h2.00M618.0 816.60h2.00M648.0 816.60h2.00M658.0 816.60h2.00M62.2 829.40h2.00M424.1 829.40h2.00M432.1 829.40h2.00M440.1 829.40h2.00M532.0 829.40h2.00M630.0 829.40h2.00M640.0 829.40h2.00M670.0 829.40h2.00M344.1 919.00h2.00M358.1 919.00h2.00M110.2 944.60h2.00M166.2 944.60h2.00M256.1 944.60h2.00M296.1 944.60h2.00M408.1 944.60h2.00M432.1 944.60h2.00M472.1 944.60h2.00M526.0 944.60h2.00M166.2 957.40h2.00M254.1 957.40h2.00M364.1 957.40h2.00M608.0 957.40h2.00M652.0 957.40h2.00M662.0 957.40h2.00M674.0 957.40h2.00M254.1 970.20h2.00M292.1 970.20h2.00M674.0 970.20h2.00M118.2 1021.40h2.00M122.2 1021.40h2.00M140.2 1021.40h2.00M164.2 1021.40h2.00M246.1 1021.40h2.00M276.1 1021.40h2.00M342.1 1021.40h2.00M456.1 1021.40h2.00M652.0 1021.40h2.00"/>
<path stroke="#db9560" d="M324.1 701.40h2.00M128.2 714.20h2.00M140.2 714.20h2.00M150.2 714.20h2.00M162.2 714.20h2.00M186.2 714.20h2.00M220.1 714.20h4.00M230.1 714.20h2.00M234.1 714.20h4.00M310.1 714.20h2.00M326.1 714.20h4.00M338.1 714.20h2.00M386.1 714.20h4.00M460.1 714.20h2.00M482.1 714.20h2.00M488.1 714.20h4.00M512.1 714.20h2.00M536.0 714.20h2.00M596.0 714.20h2.00M604.0 714.20h2.00M634.0 714.20h2.00M646.0 714.20h2.00M654.0 714.20h2.00M66.2 727.00h2.00M74.2 727.00h2.00M86.2 727.00h4.00M98.2 727.00h4.00M126.2 727.00h2.00M130.2 727.00h2.00M164.2 727.00h2.00M184.2 727.00h2.00M198.2 727.00h4.00M208.2 727.00h2.00M212.2 727.00h2.00M226.1 727.00h2.00M236.1 727.00h2.00M244.1 727.00h2.00M252.1 727.00h2.00M258.1 727.00h2.00M262.1 727.00h6.00M270.1 727.00h2.00M308.1 727.00h2.00M366.1 727.00h2.00M396.1 727.00h6.00M430.1 727.00h2.00M440.1 727.00h4.00M468.1 727.00h4.00M494.1 727.00h2.00M516.1 727.00h2.00M528.0 727.00h2.00M534.0 727.00h2.00M566.0 727.00h4.00M576.0 727.00h4.00M588.0 727.00h2.00M592.0 727.00h2.00M606.0 727.00h2.00M614.0 727.00h2.00M640.0 727.00h2.00M648.0 727.00h2.00M62.2 739.80h2.00M88.2 739.80h2.00M108.2 739.80h2.00M158.2 739.80h2.00M190.2 739.80h2.00M196.2 739.80h2.00M230.1 739.80h2.00M306.1 739.80h2.00M314.1 739.80h2.00M320.1 739.80h2.00M324.1 739.80h2.00M370.1 739.80h2.00M380.1 739.80h2.00M412.1 739.80h2.00M422.1 739.80h2.00M436.1 739.80h2.00M442.1 739.80h2.00M450.1 739.80h2.00M482.1 739.80h2.00M494.1 739.80h2.00M526.0 739.80h2.00M568.0 739.80h4.00M606.0 739.80h4.00M622.0 739.80h2.00M634.0 739.80h2.00M644.0 739.80h2.00M64.2 752.60h6.00M76.2 752.60h2.00M86.2 752.60h2.00M108.2 752.60h2.00M116.2 752.60h2.00M126.2 752.60h2.00M130.2 752.60h2.00M162.2 752.60h2.00M174.2 752.60h4.00M192.2 752.60h2.00M214.2 752.60h2.00M218.1 752.60h8.00M228.1 752.60h2.00M240.1 752.60h2.00M248.1 752.60h2.00M252.1 752.60h2.00M268.1 752.60h2.00M286.1 752.60h2.00M296.1 752.60h2.00M302.1 752.60h2.00M308.1 752.60h2.00M322.1 752.60h2.00M346.1 752.60h2.00M358.1 752.60h2.00M370.1 752.60h6.00M384.1 752.60h2.00M410.1 752.60h2.00M416.1 752.60h2.00M488.1 752.60h2.00M512.1 752.60h4.00M544.0 752.60h2.00M558.0 752.60h2.00M582.0 752.60h2.00M590.0 752.60h4.00M602.0 752.60h2.00M648.0 752.60h6.00M664.0 752.60h4.00M82.2 765.40h2.00M168.2 765.40h2.00M174.2 765.40h2.00M188.2 765.40h2.00M192.2 765.40h2.00M196.2 765.40h4.00M204.2 765.40h2.00M208.2 765.40h2.00M238.1 765.40h2.00M268.1 765.40h2.00M278.1 765.40h2.00M312.1 765.40h2.00M334.1 765.40h2.00M340.1 765.40h2.00M370.1 765.40h2.00M380.1 765.40h2.00M386.1 765.40h2.00M406.1 765.40h2.00M440.1 765.40h4.00M480.1 765.40h2.00M492.1 765.40h2.00M502.1 765.40h4.00M522.1 765.40h2.00M538.0 765.40h4.00M564.0 765.40h2.00M596.0 765.40h2.00M646.0 765.40h2.00M656.0 765.40h2.00M660.0 765.40h4.00M66.2 778.20h2.00M96.2 778.20h2.00M114.2 778.20h2.00M176.2 778.20h2.00M262.1 778.20h2.00M300.1 778.20h2.00M304.1 778.20h2.00M332.1 778.20h2.00M344.1 778.20h2.00M444.1 778.20h2.00M466.1 778.20h2.00M518.1 778.20h2.00M542.0 778.20h2.00M546.0 778.20h2.00M374.1 791.00h2.00M138.2 803.80h2.00M298.1 803.80h2.00M328.1 803.80h2.00M338.1 803.80h2.00M374.1 803.80h2.00M380.1 803.80h2.00M404.1 803.80h2.00M408.1 803.80h2.00M430.1 803.80h2.00M438.1 803.80h2.00M450.1 803.80h2.00M460.1 803.80h2.00M482.1 803.80h2.00M540.0 803.80h2.00M558.0 803.80h2.00M572.0 803.80h2.00M578.0 803.80h2.00M628.0 803.80h2.00M652.0 803.80h2.00M658.0 803.80h2.00M62.2 816.60h2.00M146.2 816.60h2.00M284.1 816.60h2.00M392.1 816.60h2.00M414.1 816.60h2.00M496.1 816.60h2.00M536.0 816.60h2.00M558.0 816.60h2.00M566.0 816.60h2.00M604.0 816.60h2.00M628.0 816.60h2.00M634.0 816.60h2.00M662.0 816.60h2.00M148.2 829.40h2.00M520.1 829.40h2.00M566.0 829.40h2.00M620.0 829.40h2.00M166.2 919.00h2.00M250.1 919.00h2.00M364.1 919.00h2.00M400.1 919.00h2.00M572.0 919.00h2.00M150.2 944.60h2.00M446.1 957.40h2.00M634.0 957.40h2.00M432.1 970.20h2.00M586.0 970.20h2.00M70.2 1021.40h2.00M78.2 1021.40h2.00M148.2 1021.40h2.00M176.2 1021.40h2.00M188.2 1021.40h2.00M242.1 1021.40h4.00M274.1 1021.40h2.00M298.1 1021.40h2.00M350.1 1021.40h2.00M416.1 1021.40h2.00M532.0 1021.40h2.00"/>
<path stroke="#e0a768" d="M64.2 714.20h2.00M68.2 714.20h2.00M74.2 714.20h2.00M106.2 714.20h2.00M110.2 714.20h2.00M132.2 714.20h2.00M240.1 714.20h2.00M268.1 714.20h2.00M342.1 714.20h2.00M354.1 714.20h2.00M366.1 714.20h2.00M394.1 714.20h2.00M410.1 714.20h2.00M418.1 714.20h2.00M448.1 714.20h2.00M452.1 714.20h2.00M466.1 714.20h2.00M492.1 714.20h2.00M508.1 714.20h2.00M518.1 714.20h2.00M530.0 714.20h2.00M548.0 714.20h2.00M560.0 714.20h2.00M588.0 714.20h4.00M666.0 714.20h2.00M64.2 727.00h2.00M78.2 727.00h2.00M90.2 727.00h2.00M104.2 727.00h4.00M110.2 727.00h2.00M120.2 727.00h2.00M124.2 727.00h2.00M132.2 727.00h2.00M138.2 727.00h4.00M144.2 727.00h4.00M156.2 727.00h2.00M180.2 727.00h2.00M186.2 727.00h2.00M316.1 727.00h2.00M330.1 727.00h2.00M376.1 727.00h2.00M384.1 727.00h2.00M434.1 727.00h2.00M450.1 727.00h2.00M458.1 727.00h2.00M508.1 727.00h2.00M520.1 727.00h2.00M552.0 727.00h2.00M556.0 727.00h2.00M570.0 727.00h2.00M664.0 727.00h2.00M90.2 739.80h2.00M94.2 739.80h2.00M116.2 739.80h2.00M124.2 739.80h2.00M130.2 739.80h2.00M150.2 739.80h2.00M156.2 739.80h2.00M160.2 739.80h2.00M168.2 739.80h2.00M180.2 739.80h2.00M186.2 739.80h2.00M244.1 739.80h4.00M252.1 739.80h2.00M270.1 739.80h4.00M276.1 739.80h2.00M288.1 739.80h2.00M296.1 739.80h2.00M300.1 739.80h2.00M312.1 739.80h2.00M322.1 739.80h2.00M340.1 739.80h4.00M350.1 739.80h2.00M360.1 739.80h2.00M378.1 739.80h2.00M394.1 739.80h2.00M406.1 739.80h2.00M434.1 739.80h2.00M476.1 739.80h2.00M488.1 739.80h2.00M498.1 739.80h2.00M508.1 739.80h2.00M522.1 739.80h2.00M534.0 739.80h4.00M540.0 739.80h2.00M546.0 739.80h2.00M562.0 739.80h2.00M576.0 739.80h2.00M584.0 739.80h2.00M596.0 739.80h2.00M602.0 739.80h2.00M614.0 739.80h2.00M618.0 739.80h2.00M636.0 739.80h2.00M642.0 739.80h2.00M660.0 739.80h2.00M664.0 739.80h4.00M92.2 752.60h2.00M98.2 752.60h2.00M112.2 752.60h2.00M122.2 752.60h2.00M132.2 752.60h2.00M140.2 752.60h2.00M188.2 752.60h2.00M194.2 752.60h4.00M206.2 752.60h2.00M250.1 752.60h2.00M298.1 752.60h2.00M316.1 752.60h2.00M332.1 752.60h2.00M394.1 752.60h2.00M402.1 752.60h2.00M450.1 752.60h2.00M454.1 752.60h2.00M468.1 752.60h2.00M474.1 752.60h2.00M484.1 752.60h2.00M492.1 752.60h2.00M498.1 752.60h2.00M522.1 752.60h2.00M548.0 752.60h2.00M554.0 752.60h2.00M570.0 752.60h2.00M574.0 752.60h2.00M588.0 752.60h2.00M624.0 752.60h2.00M676.0 752.60h2.00M66.2 765.40h2.00M100.2 765.40h2.00M106.2 765.40h2.00M130.2 765.40h2.00M142.2 765.40h2.00M146.2 765.40h2.00M156.2 765.40h2.00M210.2 765.40h2.00M230.1 765.40h2.00M256.1 765.40h2.00M260.1 765.40h2.00M270.1 765.40h2.00M282.1 765.40h2.00M316.1 765.40h2.00M322.1 765.40h2.00M326.1 765.40h2.00M352.1 765.40h2.00M362.1 765.40h2.00M378.1 765.40h2.00M382.1 765.40h2.00M402.1 765.40h2.00M456.1 765.40h2.00M466.1 765.40h2.00M472.1 765.40h2.00M476.1 765.40h2.00M498.1 765.40h4.00M506.1 765.40h2.00M532.0 765.40h2.00M556.0 765.40h2.00M582.0 765.40h2.00M590.0 765.40h2.00M614.0 765.40h2.00M618.0 765.40h4.00M672.0 765.40h2.00M104.2 778.20h2.00M124.2 778.20h2.00M154.2 778.20h2.00M198.2 778.20h2.00M228.1 778.20h2.00M238.1 778.20h2.00M258.1 778.20h2.00M284.1 778.20h2.00M338.1 778.20h2.00M424.1 778.20h2.00M454.1 778.20h2.00M462.1 778.20h2.00M534.0 778.20h4.00M544.0 778.20h2.00M568.0 778.20h4.00M582.0 778.20h2.00M674.0 778.20h2.00M104.2 791.00h2.00M336.1 791.00h4.00M454.1 791.00h2.00M464.1 791.00h2.00M520.1 791.00h2.00M560.0 791.00h2.00M74.2 803.80h2.00M86.2 803.80h2.00M140.2 803.80h2.00M152.2 803.80h2.00M220.1 803.80h2.00M240.1 803.80h2.00M262.1 803.80h2.00M278.1 803.80h2.00M310.1 803.80h2.00M342.1 803.80h2.00M352.1 803.80h2.00M358.1 803.80h2.00M368.1 803.80h2.00M384.1 803.80h2.00M468.1 803.80h2.00M488.1 803.80h2.00M498.1 803.80h2.00M524.0 803.80h2.00M588.0 803.80h2.00M600.0 803.80h2.00M608.0 803.80h2.00M618.0 803.80h2.00M634.0 803.80h2.00M664.0 803.80h2.00M670.0 803.80h4.00M124.2 816.60h2.00M140.2 816.60h2.00M274.1 816.60h2.00M312.1 816.60h2.00M342.1 816.60h2.00M368.1 816.60h2.00M378.1 816.60h2.00M436.1 816.60h2.00M472.1 816.60h2.00M508.1 816.60h2.00M522.1 816.60h2.00M528.0 816.60h2.00M550.0 816.60h2.00M602.0 816.60h2.00M660.0 816.60h2.00M204.2 829.40h2.00M288.1 829.40h2.00M298.1 829.40h2.00M340.1 829.40h2.00M352.1 829.40h2.00M410.1 829.40h2.00M450.1 829.40h4.00M468.1 829.40h2.00M500.1 829.40h4.00M576.0 829.40h2.00M598.0 829.40h2.00M672.0 829.40h2.00M254.1 855.00h2.00M592.0 855.00h2.00M62.2 919.00h2.00M330.1 919.00h2.00M350.1 919.00h2.00M408.1 919.00h2.00M422.1 919.00h2.00M432.1 919.00h2.00M464.1 919.00h2.00M496.1 919.00h2.00M506.1 919.00h2.00M542.0 919.00h2.00M550.0 919.00h2.00M598.0 919.00h2.00M648.0 919.00h2.00M674.0 919.00h2.00M130.2 931.80h2.00M138.2 931.80h2.00M250.1 931.80h2.00M394.1 931.80h2.00M518.1 931.80h2.00M532.0 931.80h2.00M72.2 944.60h2.00M124.2 944.60h2.00M216.1 944.60h2.00M234.1 944.60h2.00M260.1 944.60h4.00M278.1 944.60h2.00M328.1 944.60h2.00M334.1 944.60h2.00M400.1 944.60h2.00M464.1 944.60h2.00M496.1 944.60h2.00M536.0 944.60h2.00M564.0 944.60h2.00M598.0 944.60h2.00M618.0 944.60h2.00M672.0 944.60h2.00M60.2 957.40h2.00M64.2 957.40h2.00M90.2 957.40h2.00M104.2 957.40h2.00M182.2 957.40h2.00M288.1 957.40h2.00M292.1 957.40h2.00M296.1 957.40h2.00M380.1 957.40h2.00M404.1 957.40h2.00M420.1 957.40h2.00M426.1 957.40h4.00M438.1 957.40h2.00M468.1 957.40h2.00M500.1 957.40h2.00M574.0 957.40h2.00M672.0 957.40h2.00M150.2 970.20h2.00M200.2 970.20h2.00M384.1 970.20h2.00M400.1 970.20h2.00M500.1 970.20h2.00M518.1 970.20h2.00M644.0 970.20h2.00M654.0 970.20h4.00M90.2 983.00h2.00M386.1 983.00h2.00M468.1 983.00h2.00M280.1 995.80h2.00M362.1 1008.60h2.00M66.2 1021.40h2.00M74.2 1021.40h2.00M92.2 1021.40h2.00M110.2 1021.40h2.00M116.2 1021.40h2.00M142.2 1021.40h2.00M172.2 1021.40h4.00M178.2 1021.40h2.00M204.2 1021.40h8.00M312.1 1021.40h2.00M360.1 1021.40h2.00M368.1 1021.40h2.00M434.1 1021.40h2.00M454.1 1021.40h2.00M458.1 1021.40h2.00M502.1 1021.40h4.00M552.0 1021.40h2.00M566.0 1021.40h2.00M618.0 1021.40h2.00"/>
<path stroke="#e3b26d" d="M66.2 714.20h2.00M82.2 714.20h2.00M134.2 714.20h2.00M146.2 714.20h2.00M152.2 714.20h2.00M184.2 714.20h2.00M252.1 714.20h2.00M270.1 714.20h2.00M290.1 714.20h2.00M306.1 714.20h2.00M362.1 714.20h2.00M402.1 714.20h2.00M454.1 714.20h2.00M524.0 714.20h2.00M538.0 714.20h2.00M564.0 714.20h2.00M592.0 714.20h2.00M618.0 714.20h2.00M628.0 714.20h2.00M642.0 714.20h2.00M82.2 727.00h2.00M94.2 727.00h2.00M182.2 727.00h2.00M202.2 727.00h2.00M240.1 727.00h2.00M246.1 727.00h2.00M454.1 727.00h2.00M512.1 727.00h2.00M590.0 727.00h2.00M630.0 727.00h2.00M666.0 727.00h2.00M670.0 727.00h2.00M74.2 739.80h2.00M82.2 739.80h4.00M152.2 739.80h4.00M188.2 739.80h2.00M204.2 739.80h2.00M212.2 739.80h2.00M268.1 739.80h2.00M284.1 739.80h2.00M298.1 739.80h2.00M366.1 739.80h2.00M384.1 739.80h2.00M392.1 739.80h2.00M454.1 739.80h2.00M466.1 739.80h2.00M556.0 739.80h2.00M560.0 739.80h2.00M604.0 739.80h2.00M610.0 739.80h2.00M628.0 739.80h2.00M146.2 752.60h2.00M156.2 752.60h2.00M170.2 752.60h2.00M204.2 752.60h2.00M232.1 752.60h2.00M318.1 752.60h2.00M362.1 752.60h2.00M456.1 752.60h4.00M490.1 752.60h2.00M508.1 752.60h2.00M534.0 752.60h2.00M556.0 752.60h2.00M642.0 752.60h2.00M658.0 752.60h2.00M70.2 765.40h2.00M112.2 765.40h2.00M122.2 765.40h4.00M136.2 765.40h2.00M144.2 765.40h2.00M164.2 765.40h2.00M212.2 765.40h2.00M242.1 765.40h2.00M276.1 765.40h2.00M346.1 765.40h2.00M444.1 765.40h2.00M450.1 765.40h2.00M524.0 765.40h2.00M548.0 765.40h2.00M560.0 765.40h2.00M576.0 765.40h2.00M604.0 765.40h2.00M624.0 765.40h2.00M60.2 778.20h2.00M122.2 778.20h2.00M140.2 778.20h2.00M158.2 778.20h2.00M212.2 778.20h4.00M230.1 778.20h2.00M352.1 778.20h2.00M356.1 778.20h2.00M364.1 778.20h2.00M388.1 778.20h2.00M484.1 778.20h2.00M488.1 778.20h2.00M510.1 778.20h2.00M76.2 791.00h2.00M98.2 791.00h2.00M118.2 791.00h2.00M188.2 791.00h2.00M200.2 791.00h2.00M206.2 791.00h2.00M388.1 791.00h2.00M410.1 791.00h2.00M552.0 791.00h2.00M556.0 791.00h2.00M574.0 791.00h2.00M580.0 791.00h2.00M586.0 791.00h2.00M602.0 791.00h2.00M606.0 791.00h2.00M66.2 803.80h2.00M72.2 803.80h2.00M88.2 803.80h2.00M92.2 803.80h2.00M98.2 803.80h2.00M146.2 803.80h2.00M156.2 803.80h2.00M170.2 803.80h2.00M184.2 803.80h2.00M202.2 803.80h4.00M210.2 803.80h2.00M264.1 803.80h4.00M304.1 803.80h2.00M334.1 803.80h2.00M392.1 803.80h2.00M398.1 803.80h2.00M402.1 803.80h2.00M422.1 803.80h2.00M472.1 803.80h2.00M490.1 803.80h2.00M542.0 803.80h2.00M582.0 803.80h2.00M626.0 803.80h2.00M650.0 803.80h2.00M676.0 803.80h2.00M78.2 816.60h2.00M174.2 816.60h2.00M228.1 816.60h2.00M244.1 816.60h2.00M260.1 816.60h2.00M272.1 816.60h2.00M388.1 816.60h2.00M422.1 816.60h2.00M430.1 816.60h2.00M438.1 816.60h2.00M468.1 816.60h2.00M482.1 816.60h2.00M490.1 816.60h2.00M494.1 816.60h2.00M506.1 816.60h2.00M564.0 816.60h2.00M580.0 816.60h2.00M588.0 816.60h2.00M612.0 816.60h2.00M632.0 816.60h2.00M274.1 829.40h2.00M302.1 829.40h2.00M350.1 829.40h2.00M380.1 829.40h2.00M398.1 829.40h2.00M406.1 829.40h2.00M418.1 829.40h2.00M436.1 829.40h4.00M456.1 829.40h2.00M478.1 829.40h2.00M536.0 829.40h2.00M558.0 829.40h2.00M674.0 829.40h2.00M674.0 842.20h2.00M160.2 855.00h2.00M256.1 855.00h2.00M304.1 855.00h2.00M400.1 855.00h2.00M414.1 855.00h2.00M550.0 855.00h2.00M572.0 855.00h2.00M652.0 855.00h2.00M668.0 855.00h2.00M432.1 867.80h2.00M538.0 867.80h2.00M120.2 919.00h2.00M156.2 919.00h2.00M182.2 919.00h2.00M226.1 919.00h2.00M230.1 919.00h2.00M234.1 919.00h2.00M262.1 919.00h2.00M268.1 919.00h2.00M308.1 919.00h2.00M316.1 919.00h2.00M328.1 919.00h2.00M342.1 919.00h2.00M386.1 919.00h2.00M390.1 919.00h2.00M406.1 919.00h2.00M412.1 919.00h2.00M418.1 919.00h2.00M426.1 919.00h4.00M436.1 919.00h2.00M446.1 919.00h4.00M460.1 919.00h2.00M504.1 919.00h2.00M508.1 919.00h2.00M516.1 919.00h2.00M526.0 919.00h2.00M534.0 919.00h2.00M564.0 919.00h4.00M570.0 919.00h2.00M574.0 919.00h2.00M580.0 919.00h2.00M632.0 919.00h2.00M72.2 931.80h2.00M96.2 931.80h2.00M146.2 931.80h2.00M260.1 931.80h2.00M268.1 931.80h2.00M274.1 931.80h2.00M378.1 931.80h4.00M498.1 931.80h2.00M576.0 931.80h2.00M580.0 931.80h2.00M638.0 931.80h2.00M654.0 931.80h2.00M668.0 931.80h2.00M62.2 944.60h2.00M100.2 944.60h4.00M120.2 944.60h2.00M128.2 944.60h4.00M168.2 944.60h2.00M176.2 944.60h2.00M192.2 944.60h2.00M200.2 944.60h2.00M208.2 944.60h2.00M214.2 944.60h2.00M220.1 944.60h2.00M244.1 944.60h2.00M250.1 944.60h2.00M268.1 944.60h2.00M292.1 944.60h2.00M304.1 944.60h2.00M326.1 944.60h2.00M380.1 944.60h2.00M388.1 944.60h2.00M396.1 944.60h2.00M418.1 944.60h2.00M422.1 944.60h2.00M466.1 944.60h2.00M538.0 944.60h2.00M546.0 944.60h2.00M566.0 944.60h2.00M572.0 944.60h2.00M590.0 944.60h2.00M622.0 944.60h2.00M664.0 944.60h2.00M74.2 957.40h2.00M114.2 957.40h2.00M138.2 957.40h2.00M160.2 957.40h2.00M192.2 957.40h2.00M218.1 957.40h2.00M226.1 957.40h2.00M244.1 957.40h6.00M272.1 957.40h2.00M278.1 957.40h2.00M308.1 957.40h2.00M330.1 957.40h2.00M432.1 957.40h2.00M448.1 957.40h2.00M464.1 957.40h4.00M474.1 957.40h2.00M478.1 957.40h2.00M492.1 957.40h2.00M496.1 957.40h2.00M508.1 957.40h2.00M558.0 957.40h2.00M594.0 957.40h2.00M600.0 957.40h2.00M646.0 957.40h2.00M100.2 970.20h2.00M160.2 970.20h4.00M172.2 970.20h2.00M248.1 970.20h2.00M272.1 970.20h2.00M472.1 970.20h2.00M478.1 970.20h2.00M486.1 970.20h2.00M512.1 970.20h4.00M542.0 970.20h2.00M600.0 970.20h2.00M660.0 970.20h2.00M668.0 970.20h2.00M72.2 983.00h2.00M118.2 983.00h2.00M126.2 983.00h2.00M170.2 983.00h2.00M208.2 983.00h2.00M214.2 983.00h2.00M244.1 983.00h2.00M258.1 983.00h2.00M306.1 983.00h2.00M316.1 983.00h2.00M372.1 983.00h2.00M398.1 983.00h2.00M420.1 983.00h2.00M466.1 983.00h2.00M494.1 983.00h2.00M544.0 983.00h2.00M572.0 983.00h2.00M632.0 983.00h2.00M644.0 983.00h2.00M114.2 995.80h2.00M118.2 995.80h2.00M446.1 995.80h2.00M460.1 995.80h2.00M488.1 995.80h2.00M570.0 995.80h2.00M586.0 995.80h2.00M662.0 995.80h2.00M674.0 995.80h2.00M140.2 1008.60h2.00M434.1 1008.60h2.00M100.2 1021.40h2.00M104.2 1021.40h2.00M158.2 1021.40h2.00M162.2 1021.40h2.00M170.2 1021.40h2.00M220.1 1021.40h2.00M370.1 1021.40h2.00M440.1 1021.40h2.00M484.1 1021.40h2.00M530.0 1021.40h2.00M572.0 1021.40h2.00M676.0 1021.40h2.00M90.2 1098.20h2.00M294.1 1098.20h2.00"/>
<path stroke="#dea165" d="M70.2 714.20h2.00M90.2 714.20h2.00M118.2 714.20h4.00M124.2 714.20h2.00M136.2 714.20h2.00M160.2 714.20h2.00M172.2 714.20h2.00M196.2 714.20h6.00M226.1 714.20h2.00M238.1 714.20h2.00M256.1 714.20h2.00M288.1 714.20h2.00M314.1 714.20h4.00M320.1 714.20h2.00M334.1 714.20h2.00M350.1 714.20h4.00M358.1 714.20h2.00M370.1 714.20h2.00M374.1 714.20h2.00M406.1 714.20h2.00M414.1 714.20h2.00M434.1 714.20h2.00M496.1 714.20h2.00M510.1 714.20h2.00M522.1 714.20h2.00M550.0 714.20h2.00M568.0 714.20h2.00M80.2 727.00h2.00M92.2 727.00h2.00M108.2 727.00h2.00M112.2 727.00h2.00M154.2 727.00h2.00M188.2 727.00h2.00M210.2 727.00h2.00M218.1 727.00h2.00M232.1 727.00h2.00M284.1 727.00h2.00M288.1 727.00h2.00M298.1 727.00h2.00M312.1 727.00h2.00M318.1 727.00h2.00M322.1 727.00h2.00M332.1 727.00h4.00M338.1 727.00h2.00M342.1 727.00h2.00M348.1 727.00h2.00M354.1 727.00h2.00M378.1 727.00h2.00M388.1 727.00h2.00M392.1 727.00h2.00M410.1 727.00h4.00M416.1 727.00h2.00M466.1 727.00h2.00M472.1 727.00h2.00M488.1 727.00h6.00M496.1 727.00h4.00M514.1 727.00h2.00M524.0 727.00h2.00M548.0 727.00h2.00M600.0 727.00h4.00M610.0 727.00h2.00M616.0 727.00h2.00M68.2 739.80h2.00M114.2 739.80h2.00M120.2 739.80h2.00M126.2 739.80h2.00M136.2 739.80h2.00M162.2 739.80h2.00M174.2 739.80h6.00M184.2 739.80h2.00M208.2 739.80h2.00M218.1 739.80h8.00M234.1 739.80h2.00M286.1 739.80h2.00M290.1 739.80h2.00M294.1 739.80h2.00M302.1 739.80h2.00M318.1 739.80h2.00M334.1 739.80h2.00M348.1 739.80h2.00M372.1 739.80h2.00M416.1 739.80h2.00M448.1 739.80h2.00M462.1 739.80h2.00M470.1 739.80h2.00M558.0 739.80h2.00M566.0 739.80h2.00M580.0 739.80h4.00M590.0 739.80h4.00M620.0 739.80h2.00M638.0 739.80h2.00M654.0 739.80h4.00M662.0 739.80h2.00M78.2 752.60h2.00M82.2 752.60h2.00M88.2 752.60h2.00M102.2 752.60h2.00M106.2 752.60h2.00M118.2 752.60h2.00M134.2 752.60h2.00M138.2 752.60h2.00M148.2 752.60h2.00M154.2 752.60h2.00M158.2 752.60h4.00M182.2 752.60h2.00M190.2 752.60h2.00M212.2 752.60h2.00M236.1 752.60h4.00M264.1 752.60h2.00M270.1 752.60h2.00M280.1 752.60h2.00M314.1 752.60h2.00M320.1 752.60h2.00M326.1 752.60h2.00M348.1 752.60h2.00M392.1 752.60h2.00M434.1 752.60h2.00M518.1 752.60h2.00M532.0 752.60h2.00M550.0 752.60h2.00M584.0 752.60h2.00M598.0 752.60h2.00M638.0 752.60h4.00M670.0 752.60h2.00M60.2 765.40h2.00M90.2 765.40h2.00M94.2 765.40h4.00M120.2 765.40h2.00M126.2 765.40h2.00M134.2 765.40h2.00M154.2 765.40h2.00M166.2 765.40h2.00M178.2 765.40h2.00M182.2 765.40h4.00M240.1 765.40h2.00M288.1 765.40h2.00M298.1 765.40h2.00M310.1 765.40h2.00M318.1 765.40h2.00M332.1 765.40h2.00M348.1 765.40h2.00M356.1 765.40h2.00M372.1 765.40h2.00M392.1 765.40h2.00M396.1 765.40h2.00M410.1 765.40h2.00M416.1 765.40h4.00M422.1 765.40h2.00M426.1 765.40h2.00M430.1 765.40h2.00M454.1 765.40h2.00M552.0 765.40h2.00M568.0 765.40h2.00M602.0 765.40h2.00M606.0 765.40h2.00M610.0 765.40h2.00M632.0 765.40h2.00M664.0 765.40h2.00M670.0 765.40h2.00M70.2 778.20h2.00M88.2 778.20h2.00M94.2 778.20h2.00M126.2 778.20h2.00M168.2 778.20h2.00M334.1 778.20h2.00M354.1 778.20h2.00M378.1 778.20h2.00M386.1 778.20h2.00M398.1 778.20h2.00M414.1 778.20h2.00M428.1 778.20h4.00M434.1 778.20h2.00M438.1 778.20h2.00M494.1 778.20h2.00M552.0 778.20h2.00M624.0 778.20h2.00M638.0 778.20h2.00M66.2 791.00h2.00M72.2 791.00h2.00M168.2 791.00h2.00M298.1 791.00h2.00M364.1 791.00h2.00M538.0 791.00h2.00M644.0 791.00h2.00M668.0 791.00h2.00M62.2 803.80h2.00M76.2 803.80h2.00M102.2 803.80h2.00M106.2 803.80h2.00M124.2 803.80h2.00M154.2 803.80h2.00M160.2 803.80h2.00M168.2 803.80h2.00M172.2 803.80h2.00M228.1 803.80h2.00M250.1 803.80h2.00M268.1 803.80h2.00M272.1 803.80h2.00M296.1 803.80h2.00M446.1 803.80h2.00M480.1 803.80h2.00M546.0 803.80h2.00M564.0 803.80h4.00M580.0 803.80h2.00M620.0 803.80h2.00M624.0 803.80h2.00M94.2 816.60h2.00M180.2 816.60h2.00M236.1 816.60h2.00M300.1 816.60h2.00M350.1 816.60h2.00M374.1 816.60h2.00M402.1 816.60h2.00M424.1 816.60h2.00M446.1 816.60h2.00M492.1 816.60h2.00M526.0 816.60h2.00M532.0 816.60h2.00M560.0 816.60h2.00M576.0 816.60h2.00M590.0 816.60h2.00M608.0 816.60h2.00M646.0 816.60h2.00M124.2 829.40h2.00M242.1 829.40h4.00M250.1 829.40h2.00M312.1 829.40h2.00M358.1 829.40h2.00M382.1 829.40h4.00M458.1 829.40h2.00M480.1 829.40h2.00M490.1 829.40h2.00M516.1 829.40h2.00M534.0 829.40h2.00M548.0 829.40h2.00M552.0 829.40h2.00M588.0 829.40h4.00M606.0 829.40h2.00M648.0 829.40h2.00M674.0 855.00h2.00M216.1 919.00h2.00M224.1 919.00h2.00M236.1 919.00h2.00M378.1 919.00h2.00M440.1 919.00h2.00M544.0 919.00h2.00M660.0 919.00h2.00M668.0 919.00h2.00M492.1 931.80h2.00M536.0 931.80h2.00M404.1 944.60h2.00M436.1 944.60h2.00M460.1 944.60h2.00M500.1 944.60h2.00M504.1 944.60h2.00M516.1 944.60h2.00M614.0 944.60h2.00M650.0 944.60h2.00M662.0 944.60h2.00M282.1 957.40h2.00M390.1 957.40h2.00M434.1 957.40h2.00M534.0 957.40h2.00M542.0 957.40h2.00M546.0 957.40h2.00M598.0 957.40h2.00M622.0 957.40h2.00M640.0 957.40h2.00M144.2 970.20h2.00M256.1 970.20h2.00M404.1 970.20h2.00M494.1 970.20h2.00M546.0 970.20h2.00M364.1 983.00h2.00M432.1 983.00h2.00M654.0 983.00h2.00M364.1 995.80h2.00M60.2 1021.40h2.00M88.2 1021.40h2.00M98.2 1021.40h2.00M132.2 1021.40h2.00M138.2 1021.40h2.00M190.2 1021.40h2.00M234.1 1021.40h2.00M256.1 1021.40h2.00M260.1 1021.40h2.00M290.1 1021.40h2.00M344.1 1021.40h2.00M358.1 1021.40h2.00M362.1 1021.40h2.00M388.1 1021.40h2.00M462.1 1021.40h2.00M558.0 1021.40h2.00M564.0 1021.40h2.00M578.0 1021.40h2.00M602.0 1021.40h2.00M640.0 1021.40h2.00"/>
<path stroke="#e1ac6b" d="M84.2 714.20h2.00M102.2 714.20h2.00M108.2 714.20h2.00M112.2 714.20h2.00M116.2 714.20h2.00M130.2 714.20h2.00M154.2 714.20h2.00M194.2 714.20h2.00M210.2 714.20h4.00M262.1 714.20h2.00M322.1 714.20h2.00M348.1 714.20h2.00M356.1 714.20h2.00M430.1 714.20h2.00M440.1 714.20h2.00M526.0 714.20h2.00M532.0 714.20h2.00M540.0 714.20h2.00M586.0 714.20h2.00M600.0 714.20h2.00M614.0 714.20h2.00M648.0 714.20h2.00M70.2 727.00h2.00M122.2 727.00h2.00M142.2 727.00h2.00M222.1 727.00h2.00M242.1 727.00h2.00M268.1 727.00h2.00M290.1 727.00h2.00M362.1 727.00h2.00M406.1 727.00h2.00M424.1 727.00h2.00M522.1 727.00h2.00M536.0 727.00h2.00M554.0 727.00h2.00M564.0 727.00h2.00M624.0 727.00h2.00M636.0 727.00h2.00M658.0 727.00h2.00M66.2 739.80h2.00M104.2 739.80h4.00M110.2 739.80h2.00M140.2 739.80h2.00M146.2 739.80h2.00M170.2 739.80h2.00M182.2 739.80h2.00M248.1 739.80h2.00M258.1 739.80h2.00M292.1 739.80h2.00M354.1 739.80h2.00M382.1 739.80h2.00M456.1 739.80h4.00M524.0 739.80h2.00M528.0 739.80h4.00M564.0 739.80h2.00M626.0 739.80h2.00M632.0 739.80h2.00M658.0 739.80h2.00M120.2 752.60h2.00M136.2 752.60h2.00M142.2 752.60h2.00M184.2 752.60h2.00M216.1 752.60h2.00M282.1 752.60h2.00M306.1 752.60h2.00M382.1 752.60h2.00M464.1 752.60h2.00M470.1 752.60h2.00M536.0 752.60h2.00M552.0 752.60h2.00M560.0 752.60h2.00M610.0 752.60h2.00M616.0 752.60h2.00M628.0 752.60h4.00M78.2 765.40h2.00M98.2 765.40h2.00M148.2 765.40h2.00M170.2 765.40h2.00M284.1 765.40h2.00M296.1 765.40h2.00M330.1 765.40h2.00M438.1 765.40h2.00M484.1 765.40h2.00M612.0 765.40h2.00M630.0 765.40h2.00M634.0 765.40h6.00M642.0 765.40h2.00M120.2 778.20h2.00M128.2 778.20h2.00M190.2 778.20h2.00M390.1 778.20h2.00M406.1 778.20h2.00M508.1 778.20h2.00M514.1 778.20h2.00M532.0 778.20h2.00M616.0 778.20h2.00M628.0 778.20h2.00M642.0 778.20h2.00M656.0 778.20h2.00M670.0 778.20h2.00M96.2 791.00h2.00M100.2 791.00h2.00M152.2 791.00h2.00M156.2 791.00h2.00M240.1 791.00h2.00M254.1 791.00h2.00M296.1 791.00h2.00M396.1 791.00h2.00M448.1 791.00h2.00M536.0 791.00h2.00M596.0 791.00h2.00M68.2 803.80h2.00M166.2 803.80h2.00M192.2 803.80h2.00M196.2 803.80h2.00M236.1 803.80h2.00M246.1 803.80h4.00M302.1 803.80h2.00M312.1 803.80h2.00M326.1 803.80h2.00M344.1 803.80h2.00M350.1 803.80h2.00M428.1 803.80h2.00M432.1 803.80h2.00M448.1 803.80h2.00M496.1 803.80h2.00M500.1 803.80h2.00M506.1 803.80h2.00M528.0 803.80h2.00M552.0 803.80h2.00M560.0 803.80h2.00M592.0 803.80h2.00M596.0 803.80h2.00M642.0 803.80h2.00M662.0 803.80h2.00M86.2 816.60h2.00M110.2 816.60h2.00M338.1 816.60h2.00M404.1 816.60h2.00M418.1 816.60h2.00M480.1 816.60h2.00M488.1 816.60h2.00M504.1 816.60h2.00M510.1 816.60h2.00M518.1 816.60h2.00M534.0 816.60h2.00M542.0 816.60h2.00M546.0 816.60h2.00M570.0 816.60h2.00M598.0 816.60h2.00M614.0 816.60h2.00M652.0 816.60h2.00M72.2 829.40h2.00M150.2 829.40h2.00M176.2 829.40h2.00M412.1 829.40h2.00M486.1 829.40h2.00M546.0 829.40h2.00M550.0 829.40h2.00M554.0 829.40h2.00M564.0 829.40h2.00M644.0 829.40h4.00M676.0 829.40h2.00M344.1 855.00h2.00M494.1 855.00h2.00M510.1 855.00h2.00M328.1 867.80h2.00M76.2 919.00h2.00M118.2 919.00h2.00M174.2 919.00h2.00M266.1 919.00h2.00M272.1 919.00h2.00M320.1 919.00h2.00M388.1 919.00h2.00M472.1 919.00h2.00M478.1 919.00h2.00M546.0 919.00h2.00M618.0 919.00h2.00M652.0 919.00h2.00M656.0 919.00h2.00M662.0 919.00h2.00M672.0 919.00h2.00M98.2 931.80h2.00M272.1 931.80h2.00M350.1 931.80h2.00M412.1 931.80h2.00M506.1 931.80h2.00M558.0 931.80h2.00M646.0 931.80h4.00M76.2 944.60h2.00M80.2 944.60h2.00M86.2 944.60h2.00M180.2 944.60h2.00M224.1 944.60h2.00M272.1 944.60h2.00M294.1 944.60h2.00M324.1 944.60h2.00M370.1 944.60h2.00M420.1 944.60h2.00M478.1 944.60h2.00M488.1 944.60h2.00M492.1 944.60h2.00M506.1 944.60h4.00M532.0 944.60h4.00M550.0 944.60h2.00M580.0 944.60h2.00M674.0 944.60h2.00M150.2 957.40h2.00M154.2 957.40h2.00M172.2 957.40h2.00M202.2 957.40h2.00M228.1 957.40h2.00M234.1 957.40h2.00M286.1 957.40h2.00M290.1 957.40h2.00M304.1 957.40h2.00M384.1 957.40h2.00M414.1 957.40h2.00M460.1 957.40h2.00M510.1 957.40h2.00M586.0 957.40h2.00M596.0 957.40h2.00M666.0 957.40h2.00M118.2 970.20h2.00M126.2 970.20h2.00M170.2 970.20h2.00M230.1 970.20h2.00M234.1 970.20h2.00M436.1 970.20h2.00M482.1 970.20h2.00M576.0 970.20h2.00M594.0 970.20h2.00M602.0 970.20h2.00M626.0 970.20h2.00M646.0 970.20h2.00M216.1 983.00h2.00M226.1 983.00h2.00M328.1 983.00h2.00M390.1 983.00h2.00M442.1 983.00h2.00M496.1 983.00h2.00M546.0 983.00h2.00M598.0 983.00h2.00M662.0 983.00h2.00M674.0 983.00h2.00M266.1 995.80h2.00M304.1 995.80h2.00M312.1 995.80h2.00M106.2 1021.40h2.00M112.2 1021.40h2.00M152.2 1021.40h2.00M184.2 1021.40h2.00M200.2 1021.40h2.00M226.1 1021.40h2.00M272.1 1021.40h2.00M316.1 1021.40h2.00M410.1 1021.40h2.00M498.1 1021.40h2.00M516.1 1021.40h2.00M522.1 1021.40h2.00M596.0 1021.40h2.00M672.0 1021.40h2.00M268.1 1098.20h2.00"/>
<path stroke="#e8c277" d="M92.2 714.20h2.00M122.2 714.20h2.00M164.2 714.20h2.00M188.2 714.20h2.00M206.2 714.20h2.00M360.1 714.20h2.00M498.1 714.20h2.00M556.0 714.20h2.00M562.0 714.20h2.00M612.0 714.20h2.00M658.0 714.20h2.00M60.2 727.00h2.00M178.2 727.00h2.00M204.2 727.00h2.00M402.1 727.00h2.00M604.0 727.00h2.00M132.2 739.80h2.00M346.1 739.80h2.00M484.1 739.80h2.00M394.1 765.40h2.00M64.2 778.20h2.00M112.2 778.20h2.00M196.2 778.20h2.00M256.1 778.20h2.00M326.1 778.20h2.00M368.1 778.20h2.00M400.1 778.20h2.00M408.1 778.20h2.00M426.1 778.20h2.00M486.1 778.20h2.00M572.0 778.20h2.00M632.0 778.20h2.00M130.2 791.00h2.00M186.2 791.00h2.00M204.2 791.00h2.00M262.1 791.00h2.00M350.1 791.00h2.00M360.1 791.00h2.00M400.1 791.00h2.00M434.1 791.00h2.00M546.0 791.00h2.00M564.0 791.00h2.00M576.0 791.00h2.00M614.0 791.00h2.00M60.2 803.80h2.00M80.2 803.80h2.00M112.2 803.80h4.00M130.2 803.80h2.00M148.2 803.80h2.00M186.2 803.80h2.00M212.2 803.80h2.00M222.1 803.80h2.00M234.1 803.80h2.00M238.1 803.80h2.00M282.1 803.80h2.00M290.1 803.80h2.00M454.1 803.80h4.00M612.0 803.80h2.00M638.0 803.80h4.00M660.0 803.80h2.00M64.2 816.60h2.00M98.2 816.60h2.00M120.2 816.60h2.00M152.2 816.60h2.00M198.2 816.60h2.00M222.1 816.60h2.00M246.1 816.60h2.00M294.1 816.60h4.00M324.1 816.60h2.00M330.1 816.60h2.00M380.1 816.60h4.00M444.1 816.60h2.00M448.1 816.60h2.00M456.1 816.60h2.00M582.0 816.60h2.00M620.0 816.60h2.00M626.0 816.60h2.00M76.2 829.40h2.00M94.2 829.40h2.00M116.2 829.40h2.00M168.2 829.40h2.00M192.2 829.40h2.00M202.2 829.40h2.00M236.1 829.40h2.00M258.1 829.40h2.00M276.1 829.40h2.00M330.1 829.40h2.00M388.1 829.40h2.00M408.1 829.40h2.00M414.1 829.40h2.00M448.1 829.40h2.00M470.1 829.40h2.00M488.1 829.40h2.00M524.0 829.40h2.00M568.0 829.40h2.00M592.0 829.40h2.00M614.0 829.40h4.00M658.0 829.40h2.00M662.0 829.40h4.00M222.1 842.20h2.00M226.1 842.20h2.00M118.2 855.00h2.00M142.2 855.00h2.00M172.2 855.00h2.00M192.2 855.00h2.00M244.1 855.00h2.00M264.1 855.00h2.00M276.1 855.00h2.00M288.1 855.00h2.00M308.1 855.00h4.00M324.1 855.00h2.00M328.1 855.00h2.00M348.1 855.00h2.00M366.1 855.00h2.00M388.1 855.00h2.00M472.1 855.00h2.00M534.0 855.00h2.00M542.0 855.00h2.00M558.0 855.00h2.00M578.0 855.00h2.00M586.0 855.00h2.00M598.0 855.00h2.00M660.0 855.00h2.00M76.2 867.80h2.00M102.2 867.80h2.00M170.2 867.80h2.00M262.1 867.80h2.00M280.1 867.80h2.00M306.1 867.80h2.00M324.1 867.80h2.00M390.1 867.80h2.00M396.1 867.80h2.00M428.1 867.80h2.00M558.0 867.80h2.00M606.0 867.80h2.00M644.0 867.80h2.00M660.0 867.80h2.00M666.0 867.80h2.00M674.0 880.60h2.00M674.0 893.40h2.00M114.2 906.20h2.00M224.1 906.20h2.00M254.1 906.20h2.00M266.1 906.20h2.00M278.1 906.20h2.00M328.1 906.20h2.00M344.1 906.20h2.00M364.1 906.20h2.00M408.1 906.20h2.00M440.1 906.20h2.00M472.1 906.20h2.00M522.1 906.20h2.00M526.0 906.20h2.00M570.0 906.20h4.00M646.0 906.20h2.00M652.0 906.20h2.00M668.0 906.20h2.00M66.2 919.00h2.00M74.2 919.00h2.00M80.2 919.00h2.00M90.2 919.00h2.00M102.2 919.00h2.00M124.2 919.00h4.00M132.2 919.00h2.00M140.2 919.00h4.00M198.2 919.00h2.00M218.1 919.00h2.00M228.1 919.00h2.00M244.1 919.00h2.00M282.1 919.00h2.00M304.1 919.00h2.00M314.1 919.00h2.00M324.1 919.00h2.00M332.1 919.00h2.00M374.1 919.00h2.00M384.1 919.00h2.00M424.1 919.00h2.00M452.1 919.00h2.00M494.1 919.00h2.00M522.1 919.00h2.00M536.0 919.00h2.00M558.0 919.00h2.00M576.0 919.00h4.00M584.0 919.00h4.00M590.0 919.00h6.00M626.0 919.00h2.00M640.0 919.00h2.00M68.2 931.80h2.00M76.2 931.80h2.00M86.2 931.80h2.00M108.2 931.80h4.00M122.2 931.80h2.00M140.2 931.80h2.00M202.2 931.80h4.00M232.1 931.80h2.00M240.1 931.80h2.00M244.1 931.80h2.00M254.1 931.80h2.00M266.1 931.80h2.00M370.1 931.80h2.00M376.1 931.80h2.00M392.1 931.80h2.00M398.1 931.80h2.00M406.1 931.80h4.00M464.1 931.80h2.00M480.1 931.80h2.00M490.1 931.80h2.00M500.1 931.80h2.00M504.1 931.80h2.00M516.1 931.80h2.00M538.0 931.80h2.00M568.0 931.80h2.00M578.0 931.80h2.00M614.0 931.80h2.00M620.0 931.80h4.00M640.0 931.80h2.00M670.0 931.80h4.00M74.2 944.60h2.00M92.2 944.60h2.00M104.2 944.60h2.00M118.2 944.60h2.00M198.2 944.60h2.00M232.1 944.60h2.00M236.1 944.60h2.00M266.1 944.60h2.00M270.1 944.60h2.00M280.1 944.60h2.00M286.1 944.60h2.00M290.1 944.60h2.00M302.1 944.60h2.00M322.1 944.60h2.00M352.1 944.60h4.00M362.1 944.60h2.00M406.1 944.60h2.00M412.1 944.60h2.00M426.1 944.60h2.00M430.1 944.60h2.00M442.1 944.60h2.00M446.1 944.60h2.00M476.1 944.60h2.00M490.1 944.60h2.00M558.0 944.60h2.00M570.0 944.60h2.00M594.0 944.60h4.00M628.0 944.60h2.00M638.0 944.60h6.00M648.0 944.60h2.00M660.0 944.60h2.00M666.0 944.60h2.00M670.0 944.60h2.00M62.2 957.40h2.00M72.2 957.40h2.00M82.2 957.40h2.00M100.2 957.40h2.00M108.2 957.40h2.00M112.2 957.40h2.00M132.2 957.40h2.00M180.2 957.40h2.00M188.2 957.40h2.00M204.2 957.40h2.00M210.2 957.40h2.00M224.1 957.40h2.00M250.1 957.40h2.00M280.1 957.40h2.00M300.1 957.40h2.00M320.1 957.40h2.00M326.1 957.40h2.00M358.1 957.40h2.00M362.1 957.40h2.00M382.1 957.40h2.00M386.1 957.40h2.00M398.1 957.40h4.00M424.1 957.40h2.00M436.1 957.40h2.00M444.1 957.40h2.00M450.1 957.40h2.00M484.1 957.40h2.00M506.1 957.40h2.00M516.1 957.40h2.00M528.0 957.40h2.00M532.0 957.40h2.00M664.0 957.40h2.00M66.2 970.20h2.00M74.2 970.20h2.00M78.2 970.20h2.00M88.2 970.20h2.00M96.2 970.20h4.00M134.2 970.20h2.00M156.2 970.20h2.00M166.2 970.20h4.00M180.2 970.20h2.00M184.2 970.20h2.00M216.1 970.20h2.00M258.1 970.20h4.00M266.1 970.20h2.00M276.1 970.20h2.00M312.1 970.20h2.00M336.1 970.20h2.00M344.1 970.20h2.00M354.1 970.20h2.00M382.1 970.20h2.00M388.1 970.20h2.00M416.1 970.20h2.00M424.1 970.20h2.00M430.1 970.20h2.00M452.1 970.20h2.00M456.1 970.20h2.00M484.1 970.20h2.00M492.1 970.20h2.00M496.1 970.20h2.00M508.1 970.20h2.00M538.0 970.20h2.00M544.0 970.20h2.00M550.0 970.20h2.00M554.0 970.20h2.00M562.0 970.20h4.00M592.0 970.20h2.00M620.0 970.20h2.00M640.0 970.20h4.00M672.0 970.20h2.00M64.2 983.00h2.00M74.2 983.00h4.00M106.2 983.00h2.00M114.2 983.00h4.00M130.2 983.00h2.00M160.2 983.00h2.00M168.2 983.00h2.00M174.2 983.00h2.00M184.2 983.00h2.00M198.2 983.00h2.00M220.1 983.00h2.00M230.1 983.00h2.00M238.1 983.00h2.00M260.1 983.00h4.00M266.1 983.00h2.00M278.1 983.00h2.00M286.1 983.00h2.00M296.1 983.00h2.00M308.1 983.00h6.00M318.1 983.00h2.00M322.1 983.00h4.00M330.1 983.00h2.00M356.1 983.00h2.00M362.1 983.00h2.00M400.1 983.00h2.00M408.1 983.00h2.00M414.1 983.00h2.00M418.1 983.00h2.00M440.1 983.00h2.00M456.1 983.00h2.00M464.1 983.00h2.00M508.1 983.00h2.00M558.0 983.00h4.00M568.0 983.00h2.00M576.0 983.00h2.00M592.0 983.00h2.00M612.0 983.00h4.00M634.0 983.00h2.00M640.0 983.00h2.00M648.0 983.00h2.00M70.2 995.80h2.00M86.2 995.80h2.00M100.2 995.80h2.00M150.2 995.80h2.00M160.2 995.80h2.00M174.2 995.80h4.00M202.2 995.80h2.00M210.2 995.80h2.00M224.1 995.80h2.00M232.1 995.80h2.00M238.1 995.80h2.00M302.1 995.80h2.00M322.1 995.80h2.00M334.1 995.80h2.00M344.1 995.80h2.00M372.1 995.80h2.00M386.1 995.80h2.00M398.1 995.80h2.00M462.1 995.80h2.00M472.1 995.80h4.00M486.1 995.80h2.00M532.0 995.80h4.00M544.0 995.80h2.00M558.0 995.80h2.00M566.0 995.80h4.00M578.0 995.80h2.00M646.0 995.80h2.00M656.0 995.80h2.00M90.2 1008.60h2.00M94.2 1008.60h2.00M148.2 1008.60h2.00M170.2 1008.60h2.00M178.2 1008.60h2.00M236.1 1008.60h2.00M274.1 1008.60h2.00M380.1 1008.60h2.00M502.1 1008.60h4.00M560.0 1008.60h2.00M564.0 1008.60h2.00M80.2 1021.40h2.00M102.2 1021.40h2.00M166.2 1021.40h2.00M192.2 1021.40h2.00M228.1 1021.40h2.00M304.1 1021.40h2.00M330.1 1021.40h4.00M430.1 1021.40h4.00M436.1 1021.40h2.00M452.1 1021.40h2.00M478.1 1021.40h2.00M482.1 1021.40h2.00M500.1 1021.40h2.00M518.1 1021.40h2.00M562.0 1021.40h2.00M576.0 1021.40h2.00M590.0 1021.40h2.00M606.0 1021.40h2.00M616.0 1021.40h2.00M670.0 1021.40h2.00M108.2 1047.00h2.00M200.2 1047.00h2.00M432.1 1047.00h2.00M592.0 1072.60h2.00M234.1 1098.20h2.00M564.0 1098.20h2.00M244.1 1111.00h2.00M542.0 1111.00h2.00M344.1 1136.60h2.00M210.2 1251.80h2.00M220.1 1251.80h2.00"/>
<path stroke="#e6bd73" d="M94.2 714.20h2.00M142.2 714.20h2.00M204.2 714.20h2.00M242.1 714.20h2.00M276.1 714.20h2.00M296.1 714.20h2.00M302.1 714.20h2.00M392.1 714.20h2.00M450.1 714.20h2.00M470.1 714.20h2.00M506.1 714.20h2.00M520.1 714.20h2.00M620.0 714.20h2.00M640.0 714.20h2.00M118.2 727.00h2.00M294.1 727.00h2.00M92.2 739.80h2.00M206.2 739.80h2.00M240.1 739.80h2.00M374.1 739.80h2.00M300.1 752.60h2.00M336.1 752.60h2.00M604.0 752.60h2.00M634.0 752.60h2.00M92.2 765.40h2.00M194.2 765.40h2.00M300.1 765.40h2.00M376.1 765.40h2.00M588.0 765.40h2.00M616.0 765.40h2.00M138.2 778.20h2.00M206.2 778.20h2.00M260.1 778.20h2.00M266.1 778.20h2.00M330.1 778.20h2.00M348.1 778.20h2.00M362.1 778.20h2.00M372.1 778.20h2.00M382.1 778.20h2.00M396.1 778.20h2.00M574.0 778.20h2.00M610.0 778.20h4.00M630.0 778.20h2.00M652.0 778.20h2.00M664.0 778.20h4.00M62.2 791.00h2.00M108.2 791.00h2.00M146.2 791.00h2.00M182.2 791.00h2.00M194.2 791.00h2.00M212.2 791.00h2.00M248.1 791.00h2.00M274.1 791.00h4.00M342.1 791.00h2.00M392.1 791.00h2.00M408.1 791.00h2.00M412.1 791.00h2.00M542.0 791.00h4.00M630.0 791.00h2.00M646.0 791.00h2.00M658.0 791.00h2.00M96.2 803.80h2.00M104.2 803.80h2.00M118.2 803.80h2.00M174.2 803.80h2.00M178.2 803.80h2.00M182.2 803.80h2.00M230.1 803.80h4.00M244.1 803.80h2.00M286.1 803.80h2.00M294.1 803.80h2.00M300.1 803.80h2.00M340.1 803.80h2.00M378.1 803.80h2.00M386.1 803.80h4.00M396.1 803.80h2.00M442.1 803.80h2.00M544.0 803.80h2.00M554.0 803.80h2.00M630.0 803.80h2.00M674.0 803.80h2.00M70.2 816.60h2.00M102.2 816.60h2.00M206.2 816.60h2.00M298.1 816.60h2.00M306.1 816.60h2.00M326.1 816.60h2.00M340.1 816.60h2.00M358.1 816.60h2.00M384.1 816.60h2.00M398.1 816.60h2.00M476.1 816.60h2.00M552.0 816.60h2.00M556.0 816.60h2.00M606.0 816.60h2.00M622.0 816.60h2.00M630.0 816.60h2.00M636.0 816.60h2.00M644.0 816.60h2.00M676.0 816.60h2.00M108.2 829.40h2.00M122.2 829.40h2.00M146.2 829.40h2.00M208.2 829.40h2.00M446.1 829.40h2.00M464.1 829.40h2.00M510.1 829.40h2.00M528.0 829.40h2.00M544.0 829.40h2.00M584.0 829.40h2.00M594.0 829.40h2.00M602.0 829.40h2.00M642.0 829.40h2.00M652.0 829.40h2.00M660.0 829.40h2.00M666.0 829.40h2.00M172.2 842.20h2.00M320.1 842.20h2.00M432.1 842.20h2.00M76.2 855.00h2.00M110.2 855.00h2.00M166.2 855.00h2.00M280.1 855.00h2.00M364.1 855.00h2.00M380.1 855.00h2.00M404.1 855.00h2.00M408.1 855.00h2.00M432.1 855.00h2.00M480.1 855.00h4.00M502.1 855.00h2.00M526.0 855.00h2.00M548.0 855.00h2.00M562.0 855.00h2.00M596.0 855.00h2.00M608.0 855.00h2.00M618.0 855.00h2.00M672.0 855.00h2.00M62.2 867.80h2.00M114.2 867.80h2.00M124.2 867.80h2.00M168.2 867.80h2.00M414.1 867.80h2.00M572.0 867.80h2.00M396.1 906.20h2.00M70.2 919.00h2.00M104.2 919.00h2.00M108.2 919.00h2.00M122.2 919.00h2.00M144.2 919.00h2.00M150.2 919.00h2.00M162.2 919.00h2.00M172.2 919.00h2.00M220.1 919.00h4.00M252.1 919.00h2.00M256.1 919.00h2.00M292.1 919.00h2.00M310.1 919.00h2.00M326.1 919.00h2.00M372.1 919.00h2.00M438.1 919.00h2.00M480.1 919.00h2.00M488.1 919.00h2.00M512.1 919.00h4.00M532.0 919.00h2.00M540.0 919.00h2.00M554.0 919.00h2.00M582.0 919.00h2.00M604.0 919.00h2.00M608.0 919.00h4.00M620.0 919.00h4.00M62.2 931.80h2.00M66.2 931.80h2.00M80.2 931.80h2.00M124.2 931.80h2.00M132.2 931.80h4.00M248.1 931.80h2.00M252.1 931.80h2.00M292.1 931.80h2.00M296.1 931.80h2.00M332.1 931.80h2.00M340.1 931.80h2.00M352.1 931.80h2.00M358.1 931.80h2.00M368.1 931.80h2.00M404.1 931.80h2.00M414.1 931.80h2.00M438.1 931.80h2.00M450.1 931.80h2.00M466.1 931.80h2.00M474.1 931.80h2.00M486.1 931.80h2.00M496.1 931.80h2.00M522.1 931.80h2.00M530.0 931.80h2.00M550.0 931.80h2.00M564.0 931.80h2.00M584.0 931.80h2.00M598.0 931.80h4.00M610.0 931.80h2.00M656.0 931.80h2.00M660.0 931.80h4.00M64.2 944.60h2.00M88.2 944.60h2.00M108.2 944.60h2.00M114.2 944.60h2.00M134.2 944.60h2.00M138.2 944.60h2.00M142.2 944.60h4.00M156.2 944.60h2.00M174.2 944.60h2.00M182.2 944.60h2.00M190.2 944.60h2.00M222.1 944.60h2.00M226.1 944.60h2.00M230.1 944.60h2.00M264.1 944.60h2.00M276.1 944.60h2.00M298.1 944.60h2.00M312.1 944.60h2.00M320.1 944.60h2.00M338.1 944.60h2.00M358.1 944.60h2.00M390.1 944.60h2.00M414.1 944.60h2.00M434.1 944.60h2.00M438.1 944.60h2.00M486.1 944.60h2.00M510.1 944.60h2.00M524.0 944.60h2.00M528.0 944.60h2.00M574.0 944.60h2.00M578.0 944.60h2.00M586.0 944.60h2.00M600.0 944.60h2.00M632.0 944.60h2.00M646.0 944.60h2.00M652.0 944.60h6.00M78.2 957.40h2.00M86.2 957.40h2.00M110.2 957.40h2.00M122.2 957.40h2.00M128.2 957.40h2.00M190.2 957.40h2.00M200.2 957.40h2.00M214.2 957.40h2.00M242.1 957.40h2.00M276.1 957.40h2.00M316.1 957.40h2.00M324.1 957.40h2.00M336.1 957.40h2.00M344.1 957.40h2.00M360.1 957.40h2.00M368.1 957.40h2.00M388.1 957.40h2.00M396.1 957.40h2.00M408.1 957.40h2.00M482.1 957.40h2.00M486.1 957.40h2.00M512.1 957.40h2.00M572.0 957.40h2.00M576.0 957.40h2.00M582.0 957.40h2.00M590.0 957.40h2.00M604.0 957.40h4.00M614.0 957.40h2.00M626.0 957.40h2.00M108.2 970.20h2.00M114.2 970.20h2.00M130.2 970.20h2.00M176.2 970.20h2.00M182.2 970.20h2.00M262.1 970.20h2.00M274.1 970.20h2.00M304.1 970.20h2.00M370.1 970.20h4.00M380.1 970.20h2.00M386.1 970.20h2.00M390.1 970.20h2.00M460.1 970.20h2.00M480.1 970.20h2.00M488.1 970.20h2.00M502.1 970.20h2.00M510.1 970.20h2.00M558.0 970.20h2.00M578.0 970.20h2.00M582.0 970.20h2.00M590.0 970.20h2.00M622.0 970.20h2.00M664.0 970.20h2.00M62.2 983.00h2.00M78.2 983.00h2.00M86.2 983.00h2.00M138.2 983.00h2.00M180.2 983.00h2.00M192.2 983.00h2.00M200.2 983.00h2.00M234.1 983.00h4.00M248.1 983.00h2.00M254.1 983.00h2.00M280.1 983.00h2.00M292.1 983.00h4.00M302.1 983.00h2.00M326.1 983.00h2.00M338.1 983.00h2.00M342.1 983.00h2.00M388.1 983.00h2.00M404.1 983.00h2.00M416.1 983.00h2.00M430.1 983.00h2.00M478.1 983.00h2.00M498.1 983.00h2.00M502.1 983.00h2.00M516.1 983.00h2.00M522.1 983.00h2.00M526.0 983.00h4.00M618.0 983.00h2.00M626.0 983.00h2.00M646.0 983.00h2.00M650.0 983.00h4.00M72.2 995.80h2.00M168.2 995.80h2.00M172.2 995.80h2.00M274.1 995.80h2.00M278.1 995.80h2.00M292.1 995.80h2.00M306.1 995.80h2.00M328.1 995.80h2.00M352.1 995.80h2.00M366.1 995.80h4.00M414.1 995.80h2.00M422.1 995.80h2.00M426.1 995.80h2.00M444.1 995.80h2.00M478.1 995.80h2.00M512.1 995.80h4.00M592.0 995.80h2.00M666.0 995.80h2.00M220.1 1008.60h2.00M262.1 1008.60h2.00M602.0 1008.60h2.00M606.0 1008.60h2.00M62.2 1021.40h2.00M108.2 1021.40h2.00M250.1 1021.40h2.00M278.1 1021.40h2.00M286.1 1021.40h2.00M324.1 1021.40h2.00M336.1 1021.40h2.00M418.1 1021.40h2.00M424.1 1021.40h2.00M488.1 1021.40h2.00M496.1 1021.40h2.00M506.1 1021.40h2.00M646.0 1021.40h2.00M650.0 1021.40h2.00M236.1 1047.00h2.00M464.1 1047.00h2.00M662.0 1072.60h2.00M504.1 1085.40h2.00M648.0 1098.20h2.00M78.2 1123.80h2.00"/>
<path stroke="#e9c67b" d="M182.2 714.20h2.00M232.1 714.20h2.00M274.1 714.20h2.00M476.1 714.20h2.00M528.0 714.20h2.00M552.0 714.20h2.00M402.1 739.80h2.00M152.2 765.40h2.00M72.2 778.20h2.00M86.2 778.20h2.00M144.2 778.20h2.00M236.1 778.20h2.00M252.1 778.20h2.00M298.1 778.20h2.00M316.1 778.20h2.00M492.1 778.20h2.00M526.0 778.20h2.00M596.0 778.20h4.00M602.0 778.20h2.00M74.2 791.00h2.00M126.2 791.00h2.00M142.2 791.00h2.00M180.2 791.00h2.00M184.2 791.00h2.00M210.2 791.00h2.00M222.1 791.00h2.00M270.1 791.00h2.00M278.1 791.00h2.00M300.1 791.00h2.00M344.1 791.00h2.00M382.1 791.00h4.00M406.1 791.00h2.00M462.1 791.00h2.00M496.1 791.00h2.00M510.1 791.00h2.00M550.0 791.00h2.00M608.0 791.00h2.00M636.0 791.00h4.00M662.0 791.00h2.00M116.2 803.80h2.00M126.2 803.80h2.00M134.2 803.80h2.00M188.2 803.80h2.00M194.2 803.80h2.00M206.2 803.80h2.00M252.1 803.80h2.00M306.1 803.80h2.00M332.1 803.80h2.00M462.1 803.80h4.00M66.2 816.60h4.00M80.2 816.60h2.00M122.2 816.60h2.00M162.2 816.60h2.00M182.2 816.60h2.00M186.2 816.60h2.00M196.2 816.60h2.00M252.1 816.60h2.00M266.1 816.60h4.00M282.1 816.60h2.00M302.1 816.60h2.00M356.1 816.60h2.00M416.1 816.60h2.00M478.1 816.60h2.00M524.0 816.60h2.00M600.0 816.60h2.00M66.2 829.40h2.00M102.2 829.40h2.00M112.2 829.40h2.00M136.2 829.40h2.00M152.2 829.40h4.00M162.2 829.40h2.00M182.2 829.40h2.00M194.2 829.40h4.00M248.1 829.40h2.00M280.1 829.40h2.00M294.1 829.40h2.00M304.1 829.40h2.00M316.1 829.40h2.00M368.1 829.40h2.00M376.1 829.40h2.00M396.1 829.40h2.00M472.1 829.40h2.00M494.1 829.40h2.00M508.1 829.40h2.00M578.0 829.40h2.00M650.0 829.40h2.00M200.2 842.20h2.00M338.1 842.20h2.00M400.1 842.20h2.00M502.1 842.20h2.00M512.1 842.20h2.00M516.1 842.20h2.00M594.0 842.20h2.00M64.2 855.00h2.00M72.2 855.00h2.00M80.2 855.00h2.00M104.2 855.00h2.00M136.2 855.00h2.00M152.2 855.00h2.00M178.2 855.00h2.00M210.2 855.00h2.00M218.1 855.00h2.00M222.1 855.00h4.00M248.1 855.00h2.00M252.1 855.00h2.00M266.1 855.00h2.00M296.1 855.00h2.00M312.1 855.00h2.00M320.1 855.00h2.00M352.1 855.00h2.00M360.1 855.00h2.00M368.1 855.00h2.00M398.1 855.00h2.00M452.1 855.00h2.00M478.1 855.00h2.00M486.1 855.00h2.00M504.1 855.00h4.00M530.0 855.00h2.00M538.0 855.00h2.00M546.0 855.00h2.00M610.0 855.00h2.00M642.0 855.00h2.00M648.0 855.00h4.00M86.2 867.80h2.00M110.2 867.80h2.00M156.2 867.80h2.00M172.2 867.80h2.00M222.1 867.80h2.00M230.1 867.80h2.00M270.1 867.80h2.00M292.1 867.80h2.00M326.1 867.80h2.00M330.1 867.80h4.00M338.1 867.80h2.00M352.1 867.80h2.00M370.1 867.80h2.00M380.1 867.80h2.00M386.1 867.80h2.00M420.1 867.80h2.00M436.1 867.80h2.00M460.1 867.80h2.00M464.1 867.80h2.00M468.1 867.80h2.00M478.1 867.80h2.00M512.1 867.80h2.00M546.0 867.80h2.00M570.0 867.80h2.00M472.1 880.60h2.00M478.1 880.60h2.00M386.1 893.40h2.00M400.1 893.40h2.00M542.0 893.40h2.00M608.0 893.40h2.00M62.2 906.20h2.00M72.2 906.20h2.00M118.2 906.20h2.00M128.2 906.20h2.00M166.2 906.20h2.00M192.2 906.20h2.00M202.2 906.20h2.00M218.1 906.20h2.00M230.1 906.20h2.00M250.1 906.20h2.00M316.1 906.20h2.00M404.1 906.20h2.00M412.1 906.20h2.00M452.1 906.20h2.00M474.1 906.20h2.00M482.1 906.20h2.00M502.1 906.20h2.00M510.1 906.20h2.00M578.0 906.20h2.00M628.0 906.20h2.00M648.0 906.20h2.00M662.0 906.20h2.00M84.2 919.00h2.00M96.2 919.00h2.00M128.2 919.00h2.00M136.2 919.00h2.00M212.2 919.00h4.00M246.1 919.00h2.00M274.1 919.00h2.00M286.1 919.00h2.00M312.1 919.00h2.00M334.1 919.00h2.00M352.1 919.00h2.00M368.1 919.00h2.00M394.1 919.00h2.00M398.1 919.00h2.00M430.1 919.00h2.00M482.1 919.00h4.00M492.1 919.00h2.00M560.0 919.00h4.00M606.0 919.00h2.00M638.0 919.00h2.00M650.0 919.00h2.00M664.0 919.00h2.00M102.2 931.80h2.00M116.2 931.80h2.00M128.2 931.80h2.00M142.2 931.80h2.00M152.2 931.80h2.00M156.2 931.80h2.00M164.2 931.80h2.00M170.2 931.80h4.00M176.2 931.80h2.00M190.2 931.80h2.00M208.2 931.80h2.00M258.1 931.80h2.00M262.1 931.80h2.00M280.1 931.80h4.00M286.1 931.80h2.00M306.1 931.80h4.00M312.1 931.80h2.00M318.1 931.80h4.00M328.1 931.80h4.00M342.1 931.80h4.00M366.1 931.80h2.00M372.1 931.80h2.00M430.1 931.80h2.00M434.1 931.80h2.00M458.1 931.80h6.00M472.1 931.80h2.00M514.1 931.80h2.00M528.0 931.80h2.00M534.0 931.80h2.00M540.0 931.80h4.00M624.0 931.80h2.00M628.0 931.80h4.00M634.0 931.80h2.00M644.0 931.80h2.00M664.0 931.80h2.00M68.2 944.60h4.00M82.2 944.60h2.00M106.2 944.60h2.00M112.2 944.60h2.00M148.2 944.60h2.00M158.2 944.60h4.00M188.2 944.60h2.00M202.2 944.60h2.00M212.2 944.60h2.00M240.1 944.60h2.00M258.1 944.60h2.00M310.1 944.60h2.00M336.1 944.60h2.00M342.1 944.60h2.00M384.1 944.60h2.00M410.1 944.60h2.00M450.1 944.60h2.00M494.1 944.60h2.00M498.1 944.60h2.00M530.0 944.60h2.00M548.0 944.60h2.00M554.0 944.60h2.00M604.0 944.60h2.00M610.0 944.60h2.00M70.2 957.40h2.00M76.2 957.40h2.00M84.2 957.40h2.00M98.2 957.40h2.00M130.2 957.40h2.00M142.2 957.40h2.00M206.2 957.40h4.00M236.1 957.40h2.00M252.1 957.40h2.00M284.1 957.40h2.00M294.1 957.40h2.00M322.1 957.40h2.00M338.1 957.40h2.00M342.1 957.40h2.00M354.1 957.40h2.00M378.1 957.40h2.00M406.1 957.40h2.00M412.1 957.40h2.00M462.1 957.40h2.00M472.1 957.40h2.00M488.1 957.40h2.00M514.1 957.40h2.00M526.0 957.40h2.00M550.0 957.40h2.00M562.0 957.40h4.00M568.0 957.40h2.00M580.0 957.40h2.00M592.0 957.40h2.00M654.0 957.40h2.00M676.0 957.40h2.00M80.2 970.20h2.00M112.2 970.20h2.00M138.2 970.20h2.00M192.2 970.20h2.00M212.2 970.20h2.00M228.1 970.20h2.00M238.1 970.20h2.00M264.1 970.20h2.00M280.1 970.20h2.00M286.1 970.20h4.00M316.1 970.20h2.00M324.1 970.20h4.00M342.1 970.20h2.00M358.1 970.20h2.00M368.1 970.20h2.00M398.1 970.20h2.00M406.1 970.20h2.00M418.1 970.20h2.00M440.1 970.20h2.00M464.1 970.20h2.00M498.1 970.20h2.00M526.0 970.20h4.00M650.0 970.20h2.00M666.0 970.20h2.00M66.2 983.00h2.00M88.2 983.00h2.00M100.2 983.00h2.00M110.2 983.00h2.00M142.2 983.00h2.00M148.2 983.00h2.00M172.2 983.00h2.00M196.2 983.00h2.00M242.1 983.00h2.00M250.1 983.00h2.00M268.1 983.00h2.00M272.1 983.00h2.00M284.1 983.00h2.00M334.1 983.00h2.00M350.1 983.00h2.00M354.1 983.00h2.00M368.1 983.00h4.00M378.1 983.00h2.00M412.1 983.00h2.00M422.1 983.00h2.00M444.1 983.00h4.00M450.1 983.00h2.00M472.1 983.00h2.00M476.1 983.00h2.00M488.1 983.00h2.00M512.1 983.00h2.00M520.1 983.00h2.00M530.0 983.00h2.00M534.0 983.00h2.00M562.0 983.00h4.00M570.0 983.00h2.00M580.0 983.00h2.00M584.0 983.00h2.00M594.0 983.00h4.00M600.0 983.00h2.00M638.0 983.00h2.00M642.0 983.00h2.00M666.0 983.00h2.00M60.2 995.80h4.00M88.2 995.80h4.00M120.2 995.80h2.00M126.2 995.80h2.00M132.2 995.80h2.00M144.2 995.80h2.00M162.2 995.80h2.00M166.2 995.80h2.00M170.2 995.80h2.00M188.2 995.80h2.00M206.2 995.80h2.00M226.1 995.80h2.00M256.1 995.80h2.00M296.1 995.80h2.00M318.1 995.80h4.00M338.1 995.80h2.00M370.1 995.80h2.00M380.1 995.80h2.00M388.1 995.80h2.00M394.1 995.80h2.00M404.1 995.80h2.00M432.1 995.80h2.00M436.1 995.80h2.00M464.1 995.80h2.00M476.1 995.80h2.00M492.1 995.80h2.00M496.1 995.80h2.00M502.1 995.80h2.00M562.0 995.80h2.00M594.0 995.80h2.00M600.0 995.80h2.00M606.0 995.80h2.00M618.0 995.80h2.00M622.0 995.80h2.00M632.0 995.80h2.00M654.0 995.80h2.00M672.0 995.80h2.00M238.1 1008.60h2.00M364.1 1008.60h2.00M386.1 1008.60h2.00M458.1 1008.60h2.00M498.1 1008.60h2.00M614.0 1008.60h2.00M642.0 1008.60h2.00M672.0 1008.60h2.00M86.2 1021.40h2.00M114.2 1021.40h2.00M124.2 1021.40h2.00M160.2 1021.40h2.00M180.2 1021.40h2.00M292.1 1021.40h2.00M310.1 1021.40h2.00M328.1 1021.40h2.00M444.1 1021.40h2.00M476.1 1021.40h2.00M554.0 1021.40h2.00M580.0 1021.40h2.00M664.0 1021.40h2.00M104.2 1034.20h2.00M430.1 1034.20h2.00M674.0 1047.00h2.00M192.2 1059.80h2.00M400.1 1059.80h2.00M558.0 1059.80h2.00M608.0 1059.80h2.00M622.0 1059.80h2.00M292.1 1072.60h2.00M432.1 1072.60h2.00M496.1 1072.60h2.00M544.0 1072.60h2.00M656.0 1072.60h2.00M70.2 1098.20h2.00M142.2 1098.20h2.00M166.2 1098.20h2.00M182.2 1098.20h2.00M186.2 1098.20h2.00M286.1 1098.20h2.00M306.1 1098.20h2.00M352.1 1098.20h2.00M372.1 1098.20h2.00M386.1 1098.20h2.00M416.1 1098.20h2.00M424.1 1098.20h4.00M452.1 1098.20h2.00M518.1 1098.20h2.00M658.0 1098.20h2.00M400.1 1111.00h2.00M474.1 1111.00h2.00M510.1 1111.00h2.00M214.2 1123.80h2.00M432.1 1123.80h2.00M562.0 1123.80h2.00M652.0 1123.80h2.00M404.1 1136.60h2.00M404.1 1226.20h2.00M558.0 1226.20h2.00M420.1 1239.00h2.00"/>
<path stroke="#e5b870" d="M246.1 714.20h4.00M260.1 714.20h2.00M282.1 714.20h2.00M368.1 714.20h2.00M416.1 714.20h2.00M424.1 714.20h2.00M456.1 714.20h2.00M514.1 714.20h2.00M582.0 714.20h2.00M602.0 714.20h2.00M606.0 714.20h2.00M610.0 714.20h2.00M616.0 714.20h2.00M656.0 714.20h2.00M670.0 714.20h2.00M152.2 727.00h2.00M194.2 727.00h2.00M282.1 727.00h2.00M346.1 727.00h2.00M448.1 727.00h2.00M96.2 739.80h2.00M164.2 739.80h2.00M194.2 739.80h2.00M198.2 739.80h2.00M210.2 739.80h2.00M232.1 739.80h2.00M376.1 739.80h2.00M430.1 739.80h2.00M440.1 739.80h2.00M500.1 739.80h2.00M552.0 739.80h2.00M60.2 752.60h2.00M84.2 752.60h2.00M152.2 752.60h2.00M178.2 752.60h2.00M258.1 752.60h2.00M368.1 752.60h2.00M520.1 752.60h2.00M68.2 765.40h2.00M84.2 765.40h2.00M158.2 765.40h2.00M186.2 765.40h2.00M206.2 765.40h2.00M232.1 765.40h2.00M246.1 765.40h2.00M252.1 765.40h2.00M294.1 765.40h2.00M350.1 765.40h2.00M448.1 765.40h2.00M468.1 765.40h4.00M520.1 765.40h2.00M584.0 765.40h2.00M134.2 778.20h2.00M150.2 778.20h2.00M184.2 778.20h2.00M192.2 778.20h2.00M234.1 778.20h2.00M292.1 778.20h2.00M312.1 778.20h2.00M336.1 778.20h2.00M366.1 778.20h2.00M418.1 778.20h2.00M432.1 778.20h2.00M472.1 778.20h2.00M490.1 778.20h2.00M538.0 778.20h2.00M564.0 778.20h2.00M590.0 778.20h2.00M640.0 778.20h2.00M134.2 791.00h2.00M154.2 791.00h2.00M178.2 791.00h2.00M258.1 791.00h2.00M272.1 791.00h2.00M292.1 791.00h2.00M376.1 791.00h6.00M442.1 791.00h2.00M456.1 791.00h2.00M506.1 791.00h2.00M558.0 791.00h2.00M578.0 791.00h2.00M632.0 791.00h2.00M64.2 803.80h2.00M108.2 803.80h4.00M142.2 803.80h2.00M158.2 803.80h2.00M176.2 803.80h2.00M190.2 803.80h2.00M216.1 803.80h2.00M258.1 803.80h4.00M270.1 803.80h2.00M276.1 803.80h2.00M284.1 803.80h2.00M288.1 803.80h2.00M318.1 803.80h4.00M346.1 803.80h2.00M356.1 803.80h2.00M360.1 803.80h2.00M406.1 803.80h2.00M444.1 803.80h2.00M484.1 803.80h2.00M526.0 803.80h2.00M556.0 803.80h2.00M584.0 803.80h2.00M594.0 803.80h2.00M602.0 803.80h2.00M614.0 803.80h2.00M622.0 803.80h2.00M60.2 816.60h2.00M96.2 816.60h2.00M148.2 816.60h2.00M204.2 816.60h2.00M242.1 816.60h2.00M250.1 816.60h2.00M280.1 816.60h2.00M304.1 816.60h2.00M328.1 816.60h2.00M366.1 816.60h2.00M376.1 816.60h2.00M400.1 816.60h2.00M406.1 816.60h6.00M452.1 816.60h4.00M462.1 816.60h2.00M498.1 816.60h2.00M540.0 816.60h2.00M544.0 816.60h2.00M548.0 816.60h2.00M594.0 816.60h2.00M666.0 816.60h2.00M82.2 829.40h2.00M104.2 829.40h2.00M138.2 829.40h2.00M180.2 829.40h2.00M264.1 829.40h2.00M278.1 829.40h2.00M296.1 829.40h2.00M318.1 829.40h2.00M328.1 829.40h2.00M370.1 829.40h2.00M390.1 829.40h2.00M394.1 829.40h2.00M422.1 829.40h2.00M460.1 829.40h2.00M512.1 829.40h2.00M530.0 829.40h2.00M560.0 829.40h4.00M580.0 829.40h4.00M608.0 829.40h4.00M636.0 829.40h2.00M578.0 842.20h2.00M180.2 855.00h2.00M200.2 855.00h2.00M220.1 855.00h2.00M236.1 855.00h2.00M260.1 855.00h2.00M426.1 855.00h4.00M516.1 855.00h2.00M544.0 855.00h2.00M570.0 855.00h2.00M632.0 855.00h2.00M656.0 855.00h2.00M216.1 867.80h2.00M228.1 867.80h2.00M426.1 867.80h2.00M502.1 867.80h4.00M528.0 867.80h2.00M532.0 867.80h2.00M544.0 867.80h2.00M608.0 867.80h2.00M662.0 867.80h2.00M674.0 867.80h2.00M668.0 893.40h2.00M292.1 906.20h2.00M60.2 919.00h2.00M94.2 919.00h2.00M100.2 919.00h2.00M114.2 919.00h2.00M138.2 919.00h2.00M154.2 919.00h2.00M168.2 919.00h2.00M196.2 919.00h2.00M200.2 919.00h2.00M210.2 919.00h2.00M254.1 919.00h2.00M260.1 919.00h2.00M264.1 919.00h2.00M278.1 919.00h4.00M296.1 919.00h2.00M306.1 919.00h2.00M336.1 919.00h4.00M354.1 919.00h4.00M366.1 919.00h2.00M404.1 919.00h2.00M414.1 919.00h2.00M420.1 919.00h2.00M442.1 919.00h2.00M476.1 919.00h2.00M486.1 919.00h2.00M490.1 919.00h2.00M500.1 919.00h4.00M538.0 919.00h2.00M596.0 919.00h2.00M634.0 919.00h2.00M642.0 919.00h4.00M654.0 919.00h2.00M64.2 931.80h2.00M106.2 931.80h2.00M120.2 931.80h2.00M150.2 931.80h2.00M174.2 931.80h2.00M210.2 931.80h2.00M242.1 931.80h2.00M276.1 931.80h2.00M284.1 931.80h2.00M310.1 931.80h2.00M338.1 931.80h2.00M402.1 931.80h2.00M410.1 931.80h2.00M424.1 931.80h2.00M440.1 931.80h2.00M470.1 931.80h2.00M478.1 931.80h2.00M488.1 931.80h2.00M510.1 931.80h2.00M570.0 931.80h4.00M588.0 931.80h4.00M604.0 931.80h2.00M616.0 931.80h2.00M652.0 931.80h2.00M676.0 931.80h2.00M60.2 944.60h2.00M90.2 944.60h2.00M94.2 944.60h2.00M126.2 944.60h2.00M132.2 944.60h2.00M152.2 944.60h2.00M162.2 944.60h2.00M170.2 944.60h2.00M218.1 944.60h2.00M238.1 944.60h2.00M248.1 944.60h2.00M274.1 944.60h2.00M288.1 944.60h2.00M300.1 944.60h2.00M306.1 944.60h2.00M316.1 944.60h4.00M344.1 944.60h2.00M366.1 944.60h2.00M372.1 944.60h2.00M382.1 944.60h2.00M386.1 944.60h2.00M394.1 944.60h2.00M424.1 944.60h2.00M428.1 944.60h2.00M452.1 944.60h6.00M462.1 944.60h2.00M474.1 944.60h2.00M480.1 944.60h2.00M502.1 944.60h2.00M518.1 944.60h2.00M540.0 944.60h6.00M560.0 944.60h2.00M576.0 944.60h2.00M584.0 944.60h2.00M592.0 944.60h2.00M606.0 944.60h4.00M626.0 944.60h2.00M644.0 944.60h2.00M676.0 944.60h2.00M88.2 957.40h2.00M146.2 957.40h4.00M170.2 957.40h2.00M174.2 957.40h2.00M184.2 957.40h2.00M232.1 957.40h2.00M238.1 957.40h2.00M264.1 957.40h6.00M274.1 957.40h2.00M314.1 957.40h2.00M328.1 957.40h2.00M352.1 957.40h2.00M366.1 957.40h2.00M374.1 957.40h2.00M442.1 957.40h2.00M476.1 957.40h2.00M490.1 957.40h2.00M502.1 957.40h2.00M518.1 957.40h2.00M522.1 957.40h2.00M538.0 957.40h4.00M566.0 957.40h2.00M578.0 957.40h2.00M660.0 957.40h2.00M670.0 957.40h2.00M104.2 970.20h4.00M174.2 970.20h2.00M214.2 970.20h2.00M218.1 970.20h4.00M224.1 970.20h2.00M242.1 970.20h4.00M278.1 970.20h2.00M282.1 970.20h2.00M302.1 970.20h2.00M306.1 970.20h2.00M320.1 970.20h2.00M328.1 970.20h2.00M338.1 970.20h2.00M364.1 970.20h2.00M408.1 970.20h2.00M420.1 970.20h2.00M446.1 970.20h2.00M454.1 970.20h2.00M468.1 970.20h2.00M474.1 970.20h2.00M504.1 970.20h2.00M516.1 970.20h2.00M532.0 970.20h2.00M572.0 970.20h4.00M596.0 970.20h2.00M608.0 970.20h2.00M648.0 970.20h2.00M662.0 970.20h2.00M70.2 983.00h2.00M96.2 983.00h2.00M102.2 983.00h4.00M108.2 983.00h2.00M128.2 983.00h2.00M144.2 983.00h2.00M190.2 983.00h2.00M224.1 983.00h2.00M274.1 983.00h2.00M304.1 983.00h2.00M314.1 983.00h2.00M344.1 983.00h2.00M358.1 983.00h2.00M366.1 983.00h2.00M380.1 983.00h2.00M428.1 983.00h2.00M452.1 983.00h2.00M474.1 983.00h2.00M500.1 983.00h2.00M504.1 983.00h2.00M510.1 983.00h2.00M518.1 983.00h2.00M532.0 983.00h2.00M550.0 983.00h2.00M566.0 983.00h2.00M578.0 983.00h2.00M608.0 983.00h2.00M668.0 983.00h2.00M76.2 995.80h2.00M104.2 995.80h2.00M136.2 995.80h2.00M254.1 995.80h2.00M262.1 995.80h2.00M400.1 995.80h2.00M434.1 995.80h2.00M518.1 995.80h2.00M542.0 995.80h2.00M584.0 995.80h2.00M598.0 995.80h2.00M652.0 995.80h2.00M668.0 995.80h2.00M82.2 1008.60h2.00M96.2 1021.40h2.00M134.2 1021.40h2.00M144.2 1021.40h2.00M202.2 1021.40h2.00M236.1 1021.40h2.00M240.1 1021.40h2.00M266.1 1021.40h2.00M322.1 1021.40h2.00M334.1 1021.40h2.00M338.1 1021.40h2.00M354.1 1021.40h4.00M384.1 1021.40h2.00M468.1 1021.40h4.00M508.1 1021.40h2.00M560.0 1021.40h2.00M604.0 1021.40h2.00M644.0 1021.40h2.00M432.1 1239.00h2.00"/>
<path stroke="#eccf83" d="M284.1 714.20h2.00M608.0 714.20h2.00M206.2 727.00h2.00M520.1 739.80h2.00M624.0 739.80h2.00M160.2 778.20h2.00M244.1 778.20h2.00M270.1 778.20h2.00M302.1 778.20h2.00M308.1 778.20h2.00M318.1 778.20h2.00M412.1 778.20h2.00M460.1 778.20h2.00M468.1 778.20h2.00M592.0 778.20h2.00M672.0 778.20h2.00M68.2 791.00h2.00M78.2 791.00h2.00M82.2 791.00h2.00M90.2 791.00h2.00M106.2 791.00h2.00M114.2 791.00h2.00M136.2 791.00h2.00M160.2 791.00h2.00M202.2 791.00h2.00M228.1 791.00h2.00M244.1 791.00h2.00M260.1 791.00h2.00M268.1 791.00h2.00M322.1 791.00h2.00M332.1 791.00h2.00M362.1 791.00h2.00M432.1 791.00h2.00M444.1 791.00h4.00M472.1 791.00h2.00M484.1 791.00h2.00M554.0 791.00h2.00M570.0 791.00h2.00M584.0 791.00h2.00M674.0 791.00h2.00M120.2 803.80h2.00M136.2 803.80h2.00M144.2 803.80h2.00M162.2 803.80h2.00M586.0 803.80h2.00M636.0 803.80h2.00M132.2 816.60h2.00M138.2 816.60h2.00M142.2 816.60h2.00M160.2 816.60h2.00M164.2 816.60h2.00M220.1 816.60h2.00M230.1 816.60h2.00M264.1 816.60h2.00M314.1 816.60h2.00M332.1 816.60h2.00M352.1 816.60h2.00M370.1 816.60h2.00M386.1 816.60h2.00M434.1 816.60h2.00M466.1 816.60h2.00M486.1 816.60h2.00M512.1 816.60h2.00M574.0 816.60h2.00M638.0 816.60h2.00M674.0 816.60h2.00M60.2 829.40h2.00M88.2 829.40h2.00M118.2 829.40h2.00M238.1 829.40h2.00M246.1 829.40h2.00M254.1 829.40h2.00M260.1 829.40h2.00M284.1 829.40h2.00M338.1 829.40h2.00M342.1 829.40h2.00M356.1 829.40h2.00M372.1 829.40h2.00M386.1 829.40h2.00M400.1 829.40h2.00M504.1 829.40h2.00M514.1 829.40h2.00M526.0 829.40h2.00M586.0 829.40h2.00M618.0 829.40h2.00M86.2 842.20h2.00M104.2 842.20h2.00M120.2 842.20h2.00M136.2 842.20h2.00M142.2 842.20h2.00M150.2 842.20h2.00M180.2 842.20h2.00M192.2 842.20h2.00M248.1 842.20h2.00M256.1 842.20h2.00M282.1 842.20h2.00M290.1 842.20h2.00M308.1 842.20h2.00M344.1 842.20h2.00M386.1 842.20h2.00M404.1 842.20h2.00M408.1 842.20h2.00M412.1 842.20h2.00M444.1 842.20h2.00M478.1 842.20h2.00M494.1 842.20h2.00M510.1 842.20h2.00M538.0 842.20h2.00M574.0 842.20h2.00M584.0 842.20h2.00M610.0 842.20h2.00M632.0 842.20h4.00M650.0 842.20h2.00M60.2 855.00h4.00M84.2 855.00h2.00M102.2 855.00h2.00M114.2 855.00h2.00M132.2 855.00h2.00M150.2 855.00h2.00M154.2 855.00h2.00M170.2 855.00h2.00M184.2 855.00h2.00M204.2 855.00h2.00M208.2 855.00h2.00M214.2 855.00h2.00M228.1 855.00h2.00M242.1 855.00h2.00M258.1 855.00h2.00M274.1 855.00h2.00M286.1 855.00h2.00M290.1 855.00h2.00M316.1 855.00h2.00M330.1 855.00h2.00M336.1 855.00h2.00M372.1 855.00h2.00M376.1 855.00h2.00M384.1 855.00h2.00M410.1 855.00h2.00M418.1 855.00h4.00M440.1 855.00h4.00M454.1 855.00h4.00M460.1 855.00h2.00M464.1 855.00h2.00M468.1 855.00h2.00M474.1 855.00h2.00M488.1 855.00h2.00M528.0 855.00h2.00M540.0 855.00h2.00M566.0 855.00h2.00M576.0 855.00h2.00M606.0 855.00h2.00M626.0 855.00h2.00M100.2 867.80h2.00M118.2 867.80h2.00M128.2 867.80h4.00M150.2 867.80h2.00M154.2 867.80h2.00M180.2 867.80h2.00M190.2 867.80h2.00M202.2 867.80h2.00M218.1 867.80h2.00M224.1 867.80h2.00M248.1 867.80h2.00M260.1 867.80h2.00M264.1 867.80h4.00M286.1 867.80h2.00M294.1 867.80h2.00M300.1 867.80h4.00M310.1 867.80h2.00M364.1 867.80h2.00M374.1 867.80h2.00M440.1 867.80h2.00M462.1 867.80h2.00M480.1 867.80h2.00M486.1 867.80h2.00M496.1 867.80h2.00M522.1 867.80h2.00M526.0 867.80h2.00M534.0 867.80h2.00M542.0 867.80h2.00M552.0 867.80h4.00M566.0 867.80h2.00M580.0 867.80h2.00M592.0 867.80h2.00M612.0 867.80h2.00M628.0 867.80h2.00M638.0 867.80h2.00M652.0 867.80h6.00M664.0 867.80h2.00M670.0 867.80h4.00M138.2 880.60h2.00M224.1 880.60h2.00M302.1 880.60h2.00M388.1 880.60h2.00M400.1 880.60h2.00M420.1 880.60h2.00M426.1 880.60h2.00M538.0 880.60h2.00M578.0 880.60h2.00M618.0 880.60h2.00M648.0 880.60h2.00M654.0 880.60h2.00M142.2 893.40h2.00M170.2 893.40h2.00M200.2 893.40h2.00M262.1 893.40h2.00M278.1 893.40h2.00M314.1 893.40h2.00M404.1 893.40h2.00M414.1 893.40h4.00M432.1 893.40h2.00M446.1 893.40h2.00M494.1 893.40h2.00M504.1 893.40h2.00M544.0 893.40h2.00M578.0 893.40h4.00M586.0 893.40h2.00M594.0 893.40h2.00M600.0 893.40h2.00M78.2 906.20h2.00M88.2 906.20h2.00M102.2 906.20h2.00M132.2 906.20h2.00M142.2 906.20h2.00M150.2 906.20h2.00M200.2 906.20h2.00M208.2 906.20h2.00M214.2 906.20h4.00M234.1 906.20h2.00M244.1 906.20h2.00M308.1 906.20h4.00M318.1 906.20h2.00M358.1 906.20h4.00M370.1 906.20h4.00M400.1 906.20h2.00M418.1 906.20h2.00M428.1 906.20h2.00M446.1 906.20h2.00M464.1 906.20h2.00M478.1 906.20h2.00M490.1 906.20h2.00M494.1 906.20h4.00M504.1 906.20h4.00M528.0 906.20h2.00M532.0 906.20h2.00M540.0 906.20h2.00M546.0 906.20h2.00M576.0 906.20h2.00M588.0 906.20h2.00M592.0 906.20h2.00M600.0 906.20h2.00M622.0 906.20h2.00M68.2 919.00h2.00M72.2 919.00h2.00M82.2 919.00h2.00M98.2 919.00h2.00M110.2 919.00h2.00M130.2 919.00h2.00M152.2 919.00h2.00M178.2 919.00h4.00M190.2 919.00h2.00M204.2 919.00h2.00M242.1 919.00h2.00M300.1 919.00h2.00M340.1 919.00h2.00M382.1 919.00h2.00M458.1 919.00h2.00M616.0 919.00h2.00M636.0 919.00h2.00M658.0 919.00h2.00M78.2 931.80h2.00M82.2 931.80h4.00M92.2 931.80h2.00M158.2 931.80h2.00M162.2 931.80h2.00M168.2 931.80h2.00M196.2 931.80h4.00M212.2 931.80h2.00M218.1 931.80h2.00M228.1 931.80h2.00M234.1 931.80h2.00M238.1 931.80h2.00M264.1 931.80h2.00M270.1 931.80h2.00M298.1 931.80h4.00M304.1 931.80h2.00M314.1 931.80h2.00M326.1 931.80h2.00M346.1 931.80h4.00M362.1 931.80h2.00M374.1 931.80h2.00M396.1 931.80h2.00M422.1 931.80h2.00M436.1 931.80h2.00M442.1 931.80h2.00M454.1 931.80h4.00M468.1 931.80h2.00M476.1 931.80h2.00M548.0 931.80h2.00M552.0 931.80h4.00M574.0 931.80h2.00M582.0 931.80h2.00M592.0 931.80h2.00M612.0 931.80h2.00M632.0 931.80h2.00M642.0 931.80h2.00M658.0 931.80h2.00M674.0 931.80h2.00M84.2 944.60h2.00M98.2 944.60h2.00M136.2 944.60h2.00M140.2 944.60h2.00M164.2 944.60h2.00M186.2 944.60h2.00M196.2 944.60h2.00M346.1 944.60h2.00M350.1 944.60h2.00M360.1 944.60h2.00M398.1 944.60h2.00M416.1 944.60h2.00M458.1 944.60h2.00M482.1 944.60h2.00M514.1 944.60h2.00M520.1 944.60h2.00M602.0 944.60h2.00M616.0 944.60h2.00M634.0 944.60h2.00M222.1 957.40h2.00M258.1 957.40h2.00M270.1 957.40h2.00M318.1 957.40h2.00M332.1 957.40h2.00M372.1 957.40h2.00M520.1 957.40h2.00M530.0 957.40h2.00M536.0 957.40h2.00M554.0 957.40h2.00M90.2 970.20h2.00M110.2 970.20h2.00M120.2 970.20h2.00M136.2 970.20h2.00M142.2 970.20h2.00M152.2 970.20h2.00M190.2 970.20h2.00M222.1 970.20h2.00M236.1 970.20h2.00M240.1 970.20h2.00M246.1 970.20h2.00M290.1 970.20h2.00M314.1 970.20h2.00M330.1 970.20h4.00M350.1 970.20h4.00M360.1 970.20h2.00M376.1 970.20h2.00M414.1 970.20h2.00M442.1 970.20h4.00M470.1 970.20h2.00M522.1 970.20h2.00M534.0 970.20h2.00M548.0 970.20h2.00M610.0 970.20h2.00M616.0 970.20h2.00M630.0 970.20h4.00M676.0 970.20h2.00M60.2 983.00h2.00M94.2 983.00h2.00M156.2 983.00h2.00M166.2 983.00h2.00M182.2 983.00h2.00M188.2 983.00h2.00M218.1 983.00h2.00M228.1 983.00h2.00M240.1 983.00h2.00M252.1 983.00h2.00M276.1 983.00h2.00M332.1 983.00h2.00M434.1 983.00h4.00M462.1 983.00h2.00M480.1 983.00h2.00M540.0 983.00h2.00M574.0 983.00h2.00M582.0 983.00h2.00M620.0 983.00h2.00M670.0 983.00h4.00M68.2 995.80h2.00M80.2 995.80h2.00M96.2 995.80h2.00M108.2 995.80h2.00M122.2 995.80h2.00M142.2 995.80h2.00M152.2 995.80h2.00M190.2 995.80h4.00M212.2 995.80h2.00M222.1 995.80h2.00M236.1 995.80h2.00M240.1 995.80h2.00M244.1 995.80h2.00M248.1 995.80h2.00M258.1 995.80h4.00M270.1 995.80h4.00M290.1 995.80h2.00M294.1 995.80h2.00M300.1 995.80h2.00M314.1 995.80h4.00M326.1 995.80h2.00M348.1 995.80h2.00M354.1 995.80h2.00M392.1 995.80h2.00M396.1 995.80h2.00M424.1 995.80h2.00M452.1 995.80h2.00M482.1 995.80h2.00M504.1 995.80h2.00M526.0 995.80h2.00M572.0 995.80h2.00M582.0 995.80h2.00M626.0 995.80h4.00M634.0 995.80h2.00M66.2 1008.60h2.00M74.2 1008.60h2.00M78.2 1008.60h2.00M160.2 1008.60h2.00M360.1 1008.60h2.00M384.1 1008.60h2.00M400.1 1008.60h2.00M410.1 1008.60h2.00M462.1 1008.60h2.00M480.1 1008.60h2.00M490.1 1008.60h2.00M516.1 1008.60h2.00M556.0 1008.60h2.00M562.0 1008.60h2.00M572.0 1008.60h2.00M586.0 1008.60h2.00M590.0 1008.60h2.00M596.0 1008.60h2.00M604.0 1008.60h2.00M150.2 1021.40h2.00M168.2 1021.40h2.00M264.1 1021.40h2.00M300.1 1021.40h2.00M318.1 1021.40h2.00M340.1 1021.40h2.00M348.1 1021.40h2.00M386.1 1021.40h2.00M402.1 1021.40h2.00M442.1 1021.40h2.00M446.1 1021.40h2.00M450.1 1021.40h2.00M544.0 1021.40h2.00M610.0 1021.40h2.00M628.0 1021.40h2.00M638.0 1021.40h2.00M668.0 1021.40h2.00M78.2 1034.20h2.00M180.2 1034.20h2.00M220.1 1034.20h2.00M236.1 1034.20h2.00M254.1 1034.20h2.00M408.1 1034.20h2.00M454.1 1034.20h2.00M462.1 1034.20h2.00M602.0 1034.20h2.00M82.2 1047.00h2.00M86.2 1047.00h2.00M214.2 1047.00h2.00M244.1 1047.00h2.00M264.1 1047.00h2.00M280.1 1047.00h2.00M296.1 1047.00h2.00M318.1 1047.00h2.00M332.1 1047.00h2.00M338.1 1047.00h2.00M344.1 1047.00h2.00M354.1 1047.00h2.00M364.1 1047.00h2.00M378.1 1047.00h2.00M388.1 1047.00h2.00M400.1 1047.00h2.00M422.1 1047.00h2.00M446.1 1047.00h2.00M474.1 1047.00h2.00M478.1 1047.00h2.00M514.1 1047.00h4.00M542.0 1047.00h2.00M576.0 1047.00h2.00M78.2 1059.80h2.00M114.2 1059.80h2.00M170.2 1059.80h2.00M266.1 1059.80h2.00M272.1 1059.80h2.00M344.1 1059.80h2.00M414.1 1059.80h2.00M460.1 1059.80h2.00M654.0 1059.80h2.00M86.2 1072.60h2.00M114.2 1072.60h2.00M230.1 1072.60h2.00M280.1 1072.60h2.00M314.1 1072.60h2.00M328.1 1072.60h4.00M390.1 1072.60h2.00M464.1 1072.60h2.00M506.1 1072.60h2.00M542.0 1072.60h2.00M550.0 1072.60h2.00M558.0 1072.60h2.00M586.0 1072.60h2.00M598.0 1072.60h2.00M674.0 1072.60h2.00M70.2 1085.40h2.00M104.2 1085.40h2.00M206.2 1085.40h2.00M268.1 1085.40h2.00M572.0 1085.40h4.00M78.2 1098.20h2.00M112.2 1098.20h2.00M118.2 1098.20h2.00M190.2 1098.20h2.00M226.1 1098.20h2.00M230.1 1098.20h2.00M240.1 1098.20h2.00M254.1 1098.20h4.00M276.1 1098.20h2.00M340.1 1098.20h2.00M350.1 1098.20h2.00M378.1 1098.20h2.00M400.1 1098.20h2.00M428.1 1098.20h2.00M434.1 1098.20h2.00M454.1 1098.20h2.00M532.0 1098.20h2.00M562.0 1098.20h2.00M570.0 1098.20h2.00M576.0 1098.20h2.00M598.0 1098.20h2.00M138.2 1111.00h2.00M208.2 1111.00h2.00M234.1 1111.00h2.00M238.1 1111.00h2.00M252.1 1111.00h4.00M280.1 1111.00h2.00M320.1 1111.00h2.00M436.1 1111.00h2.00M480.1 1111.00h2.00M492.1 1111.00h2.00M526.0 1111.00h2.00M534.0 1111.00h2.00M580.0 1111.00h2.00M594.0 1111.00h2.00M138.2 1123.80h2.00M192.2 1123.80h2.00M256.1 1123.80h2.00M262.1 1123.80h2.00M266.1 1123.80h2.00M350.1 1123.80h2.00M558.0 1123.80h2.00M578.0 1123.80h2.00M608.0 1123.80h2.00M668.0 1123.80h2.00M138.2 1136.60h2.00M266.1 1136.60h2.00M414.1 1136.60h2.00M526.0 1136.60h2.00M546.0 1136.60h2.00M558.0 1136.60h2.00M634.0 1136.60h2.00M294.1 1162.20h2.00M454.1 1162.20h2.00M298.1 1200.60h2.00M602.0 1200.60h2.00M622.0 1200.60h2.00M306.1 1239.00h2.00M66.2 1251.80h2.00M312.1 1251.80h2.00M386.1 1251.80h2.00M464.1 1277.40h2.00"/>
<path stroke="#f1de94" d="M346.1 714.20h2.00M216.1 778.20h2.00M242.1 778.20h2.00M88.2 791.00h2.00M234.1 791.00h2.00M294.1 791.00h2.00M394.1 791.00h2.00M414.1 791.00h2.00M474.1 791.00h2.00M478.1 791.00h2.00M532.0 791.00h2.00M540.0 791.00h2.00M100.2 803.80h2.00M218.1 803.80h2.00M324.1 803.80h2.00M134.2 816.60h2.00M188.2 816.60h2.00M318.1 816.60h2.00M354.1 816.60h2.00M372.1 816.60h2.00M484.1 816.60h2.00M586.0 816.60h2.00M90.2 829.40h2.00M164.2 829.40h2.00M186.2 829.40h2.00M218.1 829.40h2.00M230.1 829.40h2.00M262.1 829.40h2.00M266.1 829.40h2.00M300.1 829.40h2.00M306.1 829.40h2.00M346.1 829.40h2.00M362.1 829.40h2.00M402.1 829.40h2.00M426.1 829.40h4.00M518.1 829.40h2.00M574.0 829.40h2.00M634.0 829.40h2.00M72.2 842.20h2.00M82.2 842.20h2.00M92.2 842.20h2.00M96.2 842.20h2.00M102.2 842.20h2.00M130.2 842.20h2.00M134.2 842.20h2.00M144.2 842.20h2.00M156.2 842.20h2.00M162.2 842.20h2.00M174.2 842.20h2.00M182.2 842.20h2.00M190.2 842.20h2.00M208.2 842.20h2.00M214.2 842.20h2.00M220.1 842.20h2.00M244.1 842.20h2.00M288.1 842.20h2.00M330.1 842.20h4.00M340.1 842.20h2.00M368.1 842.20h2.00M374.1 842.20h2.00M378.1 842.20h2.00M384.1 842.20h2.00M406.1 842.20h2.00M410.1 842.20h2.00M416.1 842.20h2.00M446.1 842.20h2.00M456.1 842.20h4.00M462.1 842.20h2.00M466.1 842.20h2.00M476.1 842.20h2.00M550.0 842.20h2.00M560.0 842.20h2.00M566.0 842.20h2.00M582.0 842.20h2.00M600.0 842.20h2.00M604.0 842.20h2.00M614.0 842.20h2.00M618.0 842.20h2.00M622.0 842.20h2.00M640.0 842.20h2.00M70.2 855.00h2.00M96.2 855.00h2.00M116.2 855.00h2.00M164.2 855.00h2.00M194.2 855.00h2.00M246.1 855.00h2.00M294.1 855.00h2.00M406.1 855.00h2.00M484.1 855.00h2.00M524.0 855.00h2.00M604.0 855.00h2.00M64.2 867.80h2.00M78.2 867.80h2.00M96.2 867.80h2.00M136.2 867.80h2.00M148.2 867.80h2.00M184.2 867.80h2.00M188.2 867.80h2.00M196.2 867.80h2.00M206.2 867.80h2.00M242.1 867.80h2.00M282.1 867.80h2.00M320.1 867.80h2.00M340.1 867.80h2.00M366.1 867.80h2.00M382.1 867.80h4.00M408.1 867.80h2.00M448.1 867.80h2.00M454.1 867.80h2.00M482.1 867.80h4.00M508.1 867.80h2.00M560.0 867.80h2.00M564.0 867.80h2.00M602.0 867.80h2.00M622.0 867.80h2.00M634.0 867.80h2.00M60.2 880.60h2.00M64.2 880.60h2.00M70.2 880.60h2.00M78.2 880.60h2.00M88.2 880.60h2.00M100.2 880.60h2.00M116.2 880.60h2.00M144.2 880.60h4.00M172.2 880.60h2.00M180.2 880.60h2.00M202.2 880.60h2.00M208.2 880.60h2.00M234.1 880.60h2.00M248.1 880.60h2.00M276.1 880.60h2.00M288.1 880.60h2.00M298.1 880.60h2.00M308.1 880.60h2.00M314.1 880.60h2.00M322.1 880.60h2.00M326.1 880.60h2.00M354.1 880.60h2.00M378.1 880.60h2.00M396.1 880.60h2.00M402.1 880.60h2.00M406.1 880.60h2.00M448.1 880.60h4.00M470.1 880.60h2.00M536.0 880.60h2.00M552.0 880.60h4.00M570.0 880.60h6.00M582.0 880.60h2.00M606.0 880.60h2.00M646.0 880.60h2.00M62.2 893.40h2.00M78.2 893.40h2.00M96.2 893.40h2.00M100.2 893.40h2.00M122.2 893.40h2.00M160.2 893.40h2.00M174.2 893.40h4.00M184.2 893.40h2.00M194.2 893.40h2.00M210.2 893.40h2.00M216.1 893.40h2.00M234.1 893.40h2.00M244.1 893.40h2.00M304.1 893.40h2.00M320.1 893.40h4.00M326.1 893.40h2.00M330.1 893.40h2.00M336.1 893.40h2.00M350.1 893.40h4.00M362.1 893.40h2.00M384.1 893.40h2.00M410.1 893.40h2.00M434.1 893.40h2.00M440.1 893.40h2.00M452.1 893.40h2.00M456.1 893.40h2.00M468.1 893.40h2.00M490.1 893.40h2.00M512.1 893.40h2.00M518.1 893.40h2.00M558.0 893.40h2.00M582.0 893.40h2.00M610.0 893.40h2.00M614.0 893.40h2.00M624.0 893.40h2.00M654.0 893.40h2.00M666.0 893.40h2.00M152.2 906.20h2.00M160.2 906.20h2.00M164.2 906.20h2.00M190.2 906.20h2.00M204.2 906.20h2.00M246.1 906.20h2.00M286.1 906.20h2.00M294.1 906.20h2.00M298.1 906.20h2.00M306.1 906.20h2.00M332.1 906.20h2.00M346.1 906.20h2.00M388.1 906.20h2.00M450.1 906.20h2.00M484.1 906.20h2.00M498.1 906.20h2.00M534.0 906.20h2.00M562.0 906.20h2.00M596.0 906.20h2.00M602.0 906.20h2.00M614.0 906.20h2.00M620.0 906.20h2.00M188.2 919.00h2.00M206.2 919.00h2.00M240.1 919.00h2.00M298.1 919.00h2.00M370.1 919.00h2.00M402.1 919.00h2.00M588.0 919.00h2.00M160.2 931.80h2.00M182.2 931.80h2.00M188.2 931.80h2.00M222.1 931.80h2.00M256.1 931.80h2.00M626.0 931.80h2.00M252.1 944.60h2.00M636.0 944.60h2.00M68.2 957.40h2.00M152.2 957.40h2.00M164.2 957.40h2.00M194.2 957.40h2.00M262.1 957.40h2.00M356.1 957.40h2.00M416.1 957.40h2.00M84.2 970.20h2.00M210.2 970.20h2.00M392.1 970.20h2.00M458.1 970.20h2.00M490.1 970.20h2.00M580.0 970.20h2.00M194.2 983.00h2.00M630.0 983.00h2.00M106.2 995.80h2.00M140.2 995.80h2.00M148.2 995.80h2.00M158.2 995.80h2.00M184.2 995.80h2.00M418.1 995.80h2.00M430.1 995.80h2.00M448.1 995.80h2.00M498.1 995.80h2.00M506.1 995.80h2.00M614.0 995.80h2.00M630.0 995.80h2.00M658.0 995.80h2.00M664.0 995.80h2.00M138.2 1008.60h2.00M154.2 1008.60h2.00M164.2 1008.60h2.00M176.2 1008.60h2.00M192.2 1008.60h2.00M242.1 1008.60h2.00M268.1 1008.60h2.00M350.1 1008.60h2.00M368.1 1008.60h2.00M402.1 1008.60h2.00M414.1 1008.60h4.00M426.1 1008.60h4.00M436.1 1008.60h2.00M452.1 1008.60h4.00M470.1 1008.60h2.00M478.1 1008.60h2.00M492.1 1008.60h2.00M510.1 1008.60h2.00M522.1 1008.60h2.00M584.0 1008.60h2.00M630.0 1008.60h4.00M646.0 1008.60h2.00M282.1 1021.40h2.00M394.1 1021.40h2.00M428.1 1021.40h2.00M438.1 1021.40h2.00M492.1 1021.40h4.00M556.0 1021.40h2.00M586.0 1021.40h2.00M630.0 1021.40h2.00M674.0 1021.40h2.00M70.2 1034.20h2.00M82.2 1034.20h2.00M170.2 1034.20h2.00M208.2 1034.20h2.00M218.1 1034.20h2.00M252.1 1034.20h2.00M274.1 1034.20h2.00M280.1 1034.20h2.00M294.1 1034.20h2.00M300.1 1034.20h2.00M320.1 1034.20h2.00M332.1 1034.20h2.00M352.1 1034.20h2.00M368.1 1034.20h2.00M374.1 1034.20h2.00M398.1 1034.20h2.00M414.1 1034.20h2.00M422.1 1034.20h2.00M432.1 1034.20h2.00M484.1 1034.20h2.00M510.1 1034.20h2.00M516.1 1034.20h4.00M572.0 1034.20h2.00M578.0 1034.20h2.00M598.0 1034.20h2.00M674.0 1034.20h2.00M74.2 1047.00h2.00M102.2 1047.00h2.00M116.2 1047.00h2.00M170.2 1047.00h2.00M180.2 1047.00h4.00M196.2 1047.00h2.00M256.1 1047.00h2.00M278.1 1047.00h2.00M282.1 1047.00h2.00M288.1 1047.00h2.00M292.1 1047.00h4.00M298.1 1047.00h2.00M302.1 1047.00h2.00M306.1 1047.00h2.00M310.1 1047.00h2.00M316.1 1047.00h2.00M324.1 1047.00h2.00M342.1 1047.00h2.00M350.1 1047.00h2.00M370.1 1047.00h2.00M380.1 1047.00h4.00M404.1 1047.00h2.00M414.1 1047.00h2.00M424.1 1047.00h8.00M462.1 1047.00h2.00M476.1 1047.00h2.00M484.1 1047.00h4.00M498.1 1047.00h2.00M528.0 1047.00h2.00M532.0 1047.00h2.00M550.0 1047.00h2.00M562.0 1047.00h2.00M572.0 1047.00h2.00M584.0 1047.00h2.00M610.0 1047.00h2.00M618.0 1047.00h2.00M626.0 1047.00h2.00M652.0 1047.00h4.00M74.2 1059.80h2.00M82.2 1059.80h2.00M138.2 1059.80h2.00M184.2 1059.80h2.00M208.2 1059.80h2.00M242.1 1059.80h4.00M256.1 1059.80h4.00M278.1 1059.80h4.00M288.1 1059.80h2.00M326.1 1059.80h2.00M332.1 1059.80h2.00M358.1 1059.80h4.00M366.1 1059.80h2.00M384.1 1059.80h2.00M398.1 1059.80h2.00M404.1 1059.80h2.00M416.1 1059.80h2.00M420.1 1059.80h2.00M452.1 1059.80h2.00M474.1 1059.80h2.00M504.1 1059.80h2.00M526.0 1059.80h4.00M578.0 1059.80h2.00M600.0 1059.80h2.00M610.0 1059.80h2.00M632.0 1059.80h2.00M646.0 1059.80h2.00M650.0 1059.80h2.00M658.0 1059.80h2.00M668.0 1059.80h2.00M672.0 1059.80h2.00M676.0 1059.80h2.00M64.2 1072.60h2.00M88.2 1072.60h2.00M104.2 1072.60h6.00M168.2 1072.60h2.00M172.2 1072.60h2.00M176.2 1072.60h4.00M204.2 1072.60h2.00M210.2 1072.60h4.00M220.1 1072.60h2.00M246.1 1072.60h4.00M278.1 1072.60h2.00M282.1 1072.60h2.00M296.1 1072.60h2.00M324.1 1072.60h2.00M332.1 1072.60h2.00M354.1 1072.60h2.00M374.1 1072.60h2.00M386.1 1072.60h4.00M396.1 1072.60h2.00M492.1 1072.60h2.00M504.1 1072.60h2.00M518.1 1072.60h2.00M546.0 1072.60h2.00M562.0 1072.60h4.00M568.0 1072.60h2.00M578.0 1072.60h2.00M582.0 1072.60h2.00M602.0 1072.60h2.00M626.0 1072.60h2.00M632.0 1072.60h2.00M650.0 1072.60h2.00M666.0 1072.60h2.00M100.2 1085.40h2.00M134.2 1085.40h2.00M138.2 1085.40h2.00M158.2 1085.40h2.00M164.2 1085.40h2.00M180.2 1085.40h4.00M198.2 1085.40h2.00M208.2 1085.40h2.00M212.2 1085.40h2.00M252.1 1085.40h4.00M266.1 1085.40h2.00M284.1 1085.40h2.00M308.1 1085.40h2.00M316.1 1085.40h2.00M384.1 1085.40h2.00M408.1 1085.40h2.00M416.1 1085.40h2.00M462.1 1085.40h2.00M476.1 1085.40h2.00M492.1 1085.40h2.00M514.1 1085.40h2.00M562.0 1085.40h2.00M584.0 1085.40h2.00M596.0 1085.40h2.00M640.0 1085.40h2.00M660.0 1085.40h2.00M106.2 1098.20h2.00M122.2 1098.20h2.00M192.2 1098.20h2.00M202.2 1098.20h2.00M216.1 1098.20h4.00M238.1 1098.20h2.00M242.1 1098.20h2.00M258.1 1098.20h2.00M270.1 1098.20h2.00M278.1 1098.20h2.00M288.1 1098.20h2.00M292.1 1098.20h2.00M316.1 1098.20h4.00M322.1 1098.20h2.00M360.1 1098.20h2.00M366.1 1098.20h4.00M396.1 1098.20h2.00M418.1 1098.20h4.00M474.1 1098.20h2.00M482.1 1098.20h2.00M492.1 1098.20h4.00M566.0 1098.20h2.00M584.0 1098.20h2.00M618.0 1098.20h2.00M638.0 1098.20h2.00M664.0 1098.20h2.00M72.2 1111.00h2.00M124.2 1111.00h2.00M130.2 1111.00h2.00M154.2 1111.00h2.00M212.2 1111.00h2.00M216.1 1111.00h2.00M226.1 1111.00h2.00M230.1 1111.00h2.00M248.1 1111.00h4.00M260.1 1111.00h2.00M266.1 1111.00h2.00M272.1 1111.00h2.00M286.1 1111.00h2.00M314.1 1111.00h2.00M324.1 1111.00h2.00M336.1 1111.00h2.00M350.1 1111.00h2.00M358.1 1111.00h2.00M372.1 1111.00h4.00M386.1 1111.00h2.00M420.1 1111.00h2.00M424.1 1111.00h2.00M450.1 1111.00h2.00M460.1 1111.00h2.00M488.1 1111.00h2.00M522.1 1111.00h2.00M536.0 1111.00h2.00M586.0 1111.00h2.00M598.0 1111.00h2.00M622.0 1111.00h2.00M638.0 1111.00h2.00M642.0 1111.00h2.00M664.0 1111.00h4.00M62.2 1123.80h2.00M72.2 1123.80h2.00M86.2 1123.80h4.00M102.2 1123.80h2.00M108.2 1123.80h4.00M126.2 1123.80h4.00M134.2 1123.80h2.00M156.2 1123.80h2.00M160.2 1123.80h2.00M170.2 1123.80h2.00M178.2 1123.80h2.00M184.2 1123.80h2.00M200.2 1123.80h2.00M218.1 1123.80h2.00M234.1 1123.80h2.00M250.1 1123.80h2.00M272.1 1123.80h4.00M280.1 1123.80h2.00M314.1 1123.80h2.00M380.1 1123.80h2.00M398.1 1123.80h2.00M444.1 1123.80h4.00M458.1 1123.80h2.00M472.1 1123.80h2.00M480.1 1123.80h2.00M528.0 1123.80h2.00M544.0 1123.80h2.00M550.0 1123.80h2.00M570.0 1123.80h2.00M598.0 1123.80h2.00M604.0 1123.80h2.00M622.0 1123.80h2.00M626.0 1123.80h2.00M646.0 1123.80h2.00M660.0 1123.80h4.00M88.2 1136.60h2.00M104.2 1136.60h2.00M108.2 1136.60h2.00M132.2 1136.60h2.00M160.2 1136.60h2.00M168.2 1136.60h2.00M188.2 1136.60h2.00M200.2 1136.60h2.00M254.1 1136.60h2.00M296.1 1136.60h2.00M304.1 1136.60h2.00M308.1 1136.60h2.00M312.1 1136.60h2.00M320.1 1136.60h2.00M342.1 1136.60h2.00M380.1 1136.60h2.00M386.1 1136.60h2.00M398.1 1136.60h2.00M416.1 1136.60h2.00M422.1 1136.60h2.00M428.1 1136.60h2.00M432.1 1136.60h2.00M440.1 1136.60h4.00M452.1 1136.60h2.00M472.1 1136.60h4.00M492.1 1136.60h2.00M504.1 1136.60h2.00M510.1 1136.60h2.00M542.0 1136.60h2.00M586.0 1136.60h2.00M614.0 1136.60h2.00M648.0 1136.60h4.00M656.0 1136.60h2.00M666.0 1136.60h2.00M70.2 1162.20h2.00M86.2 1162.20h2.00M220.1 1162.20h2.00M456.1 1162.20h4.00M464.1 1162.20h2.00M84.2 1200.60h2.00M108.2 1200.60h2.00M138.2 1200.60h2.00M154.2 1200.60h2.00M176.2 1200.60h2.00M188.2 1200.60h2.00M282.1 1200.60h4.00M332.1 1200.60h2.00M364.1 1200.60h2.00M404.1 1200.60h2.00M414.1 1200.60h2.00M434.1 1200.60h2.00M446.1 1200.60h2.00M484.1 1200.60h2.00M552.0 1200.60h2.00M584.0 1200.60h2.00M592.0 1200.60h4.00M330.1 1213.40h2.00M650.0 1213.40h2.00M94.2 1226.20h2.00M148.2 1226.20h2.00M338.1 1226.20h2.00M506.1 1226.20h2.00M166.2 1239.00h2.00M172.2 1239.00h6.00M304.1 1239.00h2.00M330.1 1239.00h2.00M486.1 1239.00h2.00M546.0 1239.00h2.00M574.0 1239.00h2.00M656.0 1239.00h2.00M674.0 1239.00h2.00M88.2 1251.80h2.00M110.2 1251.80h2.00M230.1 1251.80h2.00M262.1 1251.80h4.00M320.1 1251.80h2.00M338.1 1251.80h2.00M342.1 1251.80h2.00M350.1 1251.80h2.00M358.1 1251.80h2.00M364.1 1251.80h2.00M378.1 1251.80h2.00M418.1 1251.80h2.00M422.1 1251.80h2.00M426.1 1251.80h2.00M458.1 1251.80h2.00M502.1 1251.80h2.00M572.0 1251.80h2.00M594.0 1251.80h2.00M634.0 1251.80h2.00M652.0 1251.80h2.00M156.2 1264.60h2.00M272.1 1264.60h2.00M428.1 1264.60h2.00M544.0 1264.60h2.00M126.2 1277.40h2.00M150.2 1277.40h2.00M180.2 1277.40h2.00M262.1 1277.40h2.00M400.1 1277.40h2.00M576.0 1277.40h2.00M644.0 1277.40h2.00M660.0 1277.40h2.00"/>
<path stroke="#ebca7f" d="M376.1 714.20h2.00M630.0 714.20h2.00M636.0 714.20h2.00M670.0 739.80h2.00M164.2 752.60h2.00M92.2 778.20h2.00M108.2 778.20h2.00M170.2 778.20h2.00M174.2 778.20h2.00M264.1 778.20h2.00M310.1 778.20h2.00M496.1 778.20h2.00M584.0 778.20h2.00M618.0 778.20h2.00M636.0 778.20h2.00M648.0 778.20h2.00M60.2 791.00h2.00M94.2 791.00h2.00M120.2 791.00h2.00M124.2 791.00h2.00M170.2 791.00h2.00M196.2 791.00h2.00M220.1 791.00h2.00M226.1 791.00h2.00M230.1 791.00h2.00M302.1 791.00h2.00M314.1 791.00h2.00M318.1 791.00h2.00M348.1 791.00h2.00M368.1 791.00h2.00M386.1 791.00h2.00M390.1 791.00h2.00M440.1 791.00h2.00M466.1 791.00h2.00M524.0 791.00h2.00M548.0 791.00h2.00M568.0 791.00h2.00M572.0 791.00h2.00M588.0 791.00h2.00M592.0 791.00h2.00M598.0 791.00h2.00M628.0 791.00h2.00M634.0 791.00h2.00M670.0 791.00h2.00M70.2 803.80h2.00M82.2 803.80h2.00M90.2 803.80h2.00M128.2 803.80h2.00M132.2 803.80h2.00M198.2 803.80h2.00M308.1 803.80h2.00M314.1 803.80h2.00M420.1 803.80h2.00M458.1 803.80h2.00M508.1 803.80h2.00M534.0 803.80h2.00M548.0 803.80h2.00M644.0 803.80h2.00M72.2 816.60h4.00M90.2 816.60h2.00M106.2 816.60h4.00M112.2 816.60h2.00M116.2 816.60h4.00M172.2 816.60h2.00M208.2 816.60h2.00M216.1 816.60h2.00M262.1 816.60h2.00M322.1 816.60h2.00M474.1 816.60h2.00M502.1 816.60h2.00M514.1 816.60h2.00M520.1 816.60h2.00M554.0 816.60h2.00M616.0 816.60h2.00M664.0 816.60h2.00M74.2 829.40h2.00M106.2 829.40h2.00M134.2 829.40h2.00M166.2 829.40h2.00M184.2 829.40h2.00M190.2 829.40h2.00M200.2 829.40h2.00M216.1 829.40h2.00M220.1 829.40h2.00M256.1 829.40h2.00M268.1 829.40h2.00M308.1 829.40h2.00M348.1 829.40h2.00M366.1 829.40h2.00M378.1 829.40h2.00M434.1 829.40h2.00M444.1 829.40h2.00M462.1 829.40h2.00M476.1 829.40h2.00M600.0 829.40h2.00M624.0 829.40h2.00M74.2 842.20h2.00M108.2 842.20h2.00M280.1 842.20h2.00M296.1 842.20h2.00M304.1 842.20h2.00M324.1 842.20h2.00M364.1 842.20h2.00M380.1 842.20h2.00M414.1 842.20h2.00M426.1 842.20h2.00M452.1 842.20h2.00M486.1 842.20h2.00M532.0 842.20h2.00M570.0 842.20h2.00M586.0 842.20h2.00M592.0 842.20h2.00M668.0 842.20h2.00M74.2 855.00h2.00M86.2 855.00h2.00M90.2 855.00h4.00M108.2 855.00h2.00M124.2 855.00h4.00M138.2 855.00h2.00M148.2 855.00h2.00M156.2 855.00h2.00M162.2 855.00h2.00M174.2 855.00h2.00M190.2 855.00h2.00M216.1 855.00h2.00M230.1 855.00h2.00M234.1 855.00h2.00M262.1 855.00h2.00M270.1 855.00h2.00M282.1 855.00h2.00M302.1 855.00h2.00M314.1 855.00h2.00M318.1 855.00h2.00M334.1 855.00h2.00M358.1 855.00h2.00M362.1 855.00h2.00M382.1 855.00h2.00M386.1 855.00h2.00M390.1 855.00h2.00M396.1 855.00h2.00M412.1 855.00h2.00M424.1 855.00h2.00M436.1 855.00h2.00M444.1 855.00h4.00M492.1 855.00h2.00M496.1 855.00h2.00M500.1 855.00h2.00M512.1 855.00h2.00M522.1 855.00h2.00M532.0 855.00h2.00M536.0 855.00h2.00M554.0 855.00h2.00M590.0 855.00h2.00M594.0 855.00h2.00M622.0 855.00h2.00M628.0 855.00h2.00M640.0 855.00h2.00M644.0 855.00h2.00M662.0 855.00h2.00M72.2 867.80h2.00M88.2 867.80h2.00M108.2 867.80h2.00M138.2 867.80h2.00M200.2 867.80h2.00M214.2 867.80h2.00M226.1 867.80h2.00M234.1 867.80h2.00M238.1 867.80h2.00M244.1 867.80h2.00M272.1 867.80h2.00M342.1 867.80h4.00M358.1 867.80h4.00M388.1 867.80h2.00M400.1 867.80h2.00M404.1 867.80h2.00M442.1 867.80h6.00M452.1 867.80h2.00M494.1 867.80h2.00M500.1 867.80h2.00M506.1 867.80h2.00M510.1 867.80h2.00M514.1 867.80h2.00M568.0 867.80h2.00M574.0 867.80h2.00M584.0 867.80h4.00M632.0 867.80h2.00M640.0 867.80h2.00M648.0 867.80h4.00M668.0 867.80h2.00M432.1 880.60h2.00M436.1 880.60h2.00M460.1 880.60h2.00M504.1 880.60h2.00M516.1 880.60h2.00M558.0 880.60h2.00M464.1 893.40h2.00M472.1 893.40h2.00M502.1 893.40h2.00M538.0 893.40h2.00M644.0 893.40h2.00M652.0 893.40h2.00M662.0 893.40h2.00M672.0 893.40h2.00M138.2 906.20h2.00M236.1 906.20h2.00M248.1 906.20h2.00M256.1 906.20h4.00M270.1 906.20h4.00M312.1 906.20h2.00M352.1 906.20h2.00M356.1 906.20h2.00M386.1 906.20h2.00M420.1 906.20h2.00M424.1 906.20h4.00M432.1 906.20h2.00M436.1 906.20h2.00M480.1 906.20h2.00M486.1 906.20h2.00M536.0 906.20h4.00M550.0 906.20h2.00M566.0 906.20h2.00M574.0 906.20h2.00M580.0 906.20h2.00M608.0 906.20h2.00M644.0 906.20h2.00M674.0 906.20h2.00M78.2 919.00h2.00M86.2 919.00h4.00M106.2 919.00h2.00M116.2 919.00h2.00M160.2 919.00h2.00M170.2 919.00h2.00M184.2 919.00h2.00M202.2 919.00h2.00M208.2 919.00h2.00M238.1 919.00h2.00M258.1 919.00h2.00M270.1 919.00h2.00M276.1 919.00h2.00M288.1 919.00h2.00M302.1 919.00h2.00M346.1 919.00h2.00M410.1 919.00h2.00M416.1 919.00h2.00M454.1 919.00h2.00M462.1 919.00h2.00M498.1 919.00h2.00M510.1 919.00h2.00M548.0 919.00h2.00M552.0 919.00h2.00M624.0 919.00h2.00M646.0 919.00h2.00M666.0 919.00h2.00M60.2 931.80h2.00M74.2 931.80h2.00M118.2 931.80h2.00M144.2 931.80h2.00M154.2 931.80h2.00M166.2 931.80h2.00M178.2 931.80h2.00M186.2 931.80h2.00M192.2 931.80h4.00M200.2 931.80h2.00M206.2 931.80h2.00M220.1 931.80h2.00M246.1 931.80h2.00M288.1 931.80h2.00M316.1 931.80h2.00M322.1 931.80h2.00M334.1 931.80h2.00M390.1 931.80h2.00M420.1 931.80h2.00M428.1 931.80h2.00M432.1 931.80h2.00M448.1 931.80h2.00M452.1 931.80h2.00M482.1 931.80h2.00M494.1 931.80h2.00M502.1 931.80h2.00M520.1 931.80h2.00M524.0 931.80h2.00M556.0 931.80h2.00M560.0 931.80h4.00M602.0 931.80h2.00M608.0 931.80h2.00M618.0 931.80h2.00M666.0 931.80h2.00M78.2 944.60h2.00M116.2 944.60h2.00M122.2 944.60h2.00M154.2 944.60h2.00M204.2 944.60h2.00M210.2 944.60h2.00M228.1 944.60h2.00M246.1 944.60h2.00M254.1 944.60h2.00M284.1 944.60h2.00M308.1 944.60h2.00M314.1 944.60h2.00M330.1 944.60h2.00M356.1 944.60h2.00M368.1 944.60h2.00M374.1 944.60h2.00M378.1 944.60h2.00M468.1 944.60h4.00M512.1 944.60h2.00M522.1 944.60h2.00M562.0 944.60h2.00M582.0 944.60h2.00M612.0 944.60h2.00M620.0 944.60h2.00M96.2 957.40h2.00M116.2 957.40h2.00M124.2 957.40h4.00M136.2 957.40h2.00M156.2 957.40h2.00M216.1 957.40h2.00M230.1 957.40h2.00M256.1 957.40h2.00M260.1 957.40h2.00M302.1 957.40h2.00M306.1 957.40h2.00M310.1 957.40h2.00M340.1 957.40h2.00M370.1 957.40h2.00M418.1 957.40h2.00M422.1 957.40h2.00M430.1 957.40h2.00M452.1 957.40h2.00M498.1 957.40h2.00M570.0 957.40h2.00M584.0 957.40h2.00M602.0 957.40h2.00M618.0 957.40h2.00M648.0 957.40h2.00M656.0 957.40h2.00M60.2 970.20h2.00M72.2 970.20h2.00M76.2 970.20h2.00M82.2 970.20h2.00M116.2 970.20h2.00M128.2 970.20h2.00M132.2 970.20h2.00M148.2 970.20h2.00M154.2 970.20h2.00M158.2 970.20h2.00M186.2 970.20h2.00M202.2 970.20h2.00M208.2 970.20h2.00M268.1 970.20h4.00M296.1 970.20h2.00M300.1 970.20h2.00M308.1 970.20h4.00M318.1 970.20h2.00M340.1 970.20h2.00M356.1 970.20h2.00M362.1 970.20h2.00M366.1 970.20h2.00M374.1 970.20h2.00M394.1 970.20h4.00M412.1 970.20h2.00M422.1 970.20h2.00M426.1 970.20h2.00M438.1 970.20h2.00M462.1 970.20h2.00M506.1 970.20h2.00M530.0 970.20h2.00M540.0 970.20h2.00M566.0 970.20h4.00M584.0 970.20h2.00M598.0 970.20h2.00M634.0 970.20h2.00M652.0 970.20h2.00M68.2 983.00h2.00M82.2 983.00h2.00M92.2 983.00h2.00M98.2 983.00h2.00M154.2 983.00h2.00M178.2 983.00h2.00M210.2 983.00h2.00M246.1 983.00h2.00M256.1 983.00h2.00M270.1 983.00h2.00M282.1 983.00h2.00M288.1 983.00h4.00M298.1 983.00h2.00M320.1 983.00h2.00M352.1 983.00h2.00M374.1 983.00h2.00M396.1 983.00h2.00M426.1 983.00h2.00M438.1 983.00h2.00M460.1 983.00h2.00M482.1 983.00h2.00M486.1 983.00h2.00M542.0 983.00h2.00M548.0 983.00h2.00M554.0 983.00h2.00M590.0 983.00h2.00M616.0 983.00h2.00M636.0 983.00h2.00M656.0 983.00h2.00M660.0 983.00h2.00M664.0 983.00h2.00M74.2 995.80h2.00M138.2 995.80h2.00M146.2 995.80h2.00M180.2 995.80h4.00M198.2 995.80h4.00M218.1 995.80h4.00M230.1 995.80h2.00M234.1 995.80h2.00M242.1 995.80h2.00M250.1 995.80h2.00M268.1 995.80h2.00M276.1 995.80h2.00M308.1 995.80h2.00M336.1 995.80h2.00M342.1 995.80h2.00M360.1 995.80h2.00M384.1 995.80h2.00M390.1 995.80h2.00M416.1 995.80h2.00M420.1 995.80h2.00M428.1 995.80h2.00M440.1 995.80h2.00M454.1 995.80h2.00M470.1 995.80h2.00M480.1 995.80h2.00M490.1 995.80h2.00M494.1 995.80h2.00M516.1 995.80h2.00M538.0 995.80h2.00M546.0 995.80h2.00M554.0 995.80h2.00M574.0 995.80h4.00M602.0 995.80h2.00M608.0 995.80h2.00M616.0 995.80h2.00M642.0 995.80h4.00M648.0 995.80h2.00M660.0 995.80h2.00M70.2 1008.60h2.00M76.2 1008.60h2.00M132.2 1008.60h4.00M162.2 1008.60h2.00M206.2 1008.60h2.00M228.1 1008.60h2.00M338.1 1008.60h2.00M352.1 1008.60h2.00M518.1 1008.60h2.00M612.0 1008.60h2.00M634.0 1008.60h2.00M652.0 1008.60h2.00M662.0 1008.60h2.00M186.2 1021.40h2.00M230.1 1021.40h2.00M270.1 1021.40h2.00M466.1 1021.40h2.00M510.1 1021.40h2.00M528.0 1021.40h2.00M538.0 1021.40h2.00M570.0 1021.40h2.00M588.0 1021.40h2.00M614.0 1021.40h2.00M620.0 1021.40h2.00M632.0 1021.40h2.00M648.0 1021.40h2.00M658.0 1021.40h2.00M380.1 1034.20h2.00M532.0 1034.20h2.00M668.0 1034.20h2.00M78.2 1047.00h2.00M150.2 1047.00h2.00M500.1 1047.00h2.00M510.1 1047.00h2.00M546.0 1047.00h2.00M578.0 1047.00h2.00M622.0 1047.00h2.00M634.0 1047.00h2.00M144.2 1059.80h2.00M216.1 1059.80h2.00M222.1 1059.80h2.00M462.1 1059.80h2.00M546.0 1059.80h2.00M626.0 1059.80h2.00M72.2 1072.60h2.00M124.2 1072.60h2.00M336.1 1072.60h2.00M364.1 1072.60h2.00M412.1 1072.60h2.00M420.1 1072.60h2.00M426.1 1072.60h2.00M500.1 1072.60h2.00M572.0 1072.60h2.00M296.1 1085.40h2.00M398.1 1085.40h2.00M656.0 1085.40h2.00M60.2 1098.20h2.00M80.2 1098.20h2.00M96.2 1098.20h2.00M220.1 1098.20h2.00M246.1 1098.20h2.00M274.1 1098.20h2.00M296.1 1098.20h2.00M320.1 1098.20h2.00M364.1 1098.20h2.00M380.1 1098.20h2.00M390.1 1098.20h2.00M440.1 1098.20h2.00M526.0 1098.20h2.00M554.0 1098.20h2.00M574.0 1098.20h2.00M590.0 1098.20h2.00M602.0 1098.20h2.00M606.0 1098.20h2.00M654.0 1098.20h2.00M302.1 1111.00h2.00M472.1 1111.00h2.00M544.0 1111.00h2.00M644.0 1111.00h2.00M652.0 1111.00h2.00M336.1 1123.80h2.00M486.1 1123.80h2.00M674.0 1123.80h2.00M300.1 1136.60h2.00M328.1 1136.60h2.00M364.1 1136.60h2.00M668.0 1136.60h2.00M254.1 1200.60h2.00M254.1 1213.40h2.00M254.1 1239.00h2.00M280.1 1239.00h2.00M646.0 1239.00h2.00M430.1 1251.80h2.00"/>
<path stroke="#eed387" d="M624.0 714.20h2.00M152.2 778.20h2.00M166.2 778.20h2.00M306.1 778.20h2.00M380.1 778.20h2.00M550.0 778.20h2.00M600.0 778.20h2.00M634.0 778.20h2.00M658.0 778.20h2.00M64.2 791.00h2.00M102.2 791.00h2.00M140.2 791.00h2.00M148.2 791.00h4.00M164.2 791.00h2.00M190.2 791.00h2.00M242.1 791.00h2.00M256.1 791.00h2.00M264.1 791.00h2.00M284.1 791.00h2.00M288.1 791.00h2.00M306.1 791.00h2.00M316.1 791.00h2.00M324.1 791.00h2.00M372.1 791.00h2.00M398.1 791.00h2.00M418.1 791.00h2.00M494.1 791.00h2.00M498.1 791.00h2.00M504.1 791.00h2.00M514.1 791.00h2.00M526.0 791.00h2.00M600.0 791.00h2.00M610.0 791.00h2.00M618.0 791.00h2.00M226.1 803.80h2.00M322.1 803.80h2.00M426.1 803.80h2.00M574.0 803.80h2.00M656.0 803.80h2.00M88.2 816.60h2.00M136.2 816.60h2.00M150.2 816.60h2.00M154.2 816.60h2.00M170.2 816.60h2.00M202.2 816.60h2.00M226.1 816.60h2.00M286.1 816.60h4.00M316.1 816.60h2.00M320.1 816.60h2.00M344.1 816.60h2.00M396.1 816.60h2.00M442.1 816.60h2.00M460.1 816.60h2.00M530.0 816.60h2.00M584.0 816.60h2.00M596.0 816.60h2.00M624.0 816.60h2.00M80.2 829.40h2.00M156.2 829.40h2.00M160.2 829.40h2.00M174.2 829.40h2.00M178.2 829.40h2.00M270.1 829.40h2.00M292.1 829.40h2.00M336.1 829.40h2.00M364.1 829.40h2.00M420.1 829.40h2.00M454.1 829.40h2.00M626.0 829.40h2.00M632.0 829.40h2.00M656.0 829.40h2.00M76.2 842.20h2.00M90.2 842.20h2.00M116.2 842.20h2.00M168.2 842.20h2.00M176.2 842.20h2.00M218.1 842.20h2.00M224.1 842.20h2.00M254.1 842.20h2.00M260.1 842.20h2.00M286.1 842.20h2.00M310.1 842.20h2.00M314.1 842.20h2.00M318.1 842.20h2.00M328.1 842.20h2.00M342.1 842.20h2.00M352.1 842.20h4.00M388.1 842.20h2.00M398.1 842.20h2.00M418.1 842.20h2.00M428.1 842.20h4.00M440.1 842.20h4.00M460.1 842.20h2.00M464.1 842.20h2.00M474.1 842.20h2.00M480.1 842.20h4.00M496.1 842.20h2.00M504.1 842.20h2.00M508.1 842.20h2.00M518.1 842.20h2.00M528.0 842.20h2.00M542.0 842.20h4.00M628.0 842.20h2.00M642.0 842.20h2.00M654.0 842.20h2.00M662.0 842.20h2.00M66.2 855.00h2.00M78.2 855.00h2.00M88.2 855.00h2.00M106.2 855.00h2.00M202.2 855.00h2.00M212.2 855.00h2.00M226.1 855.00h2.00M238.1 855.00h2.00M250.1 855.00h2.00M268.1 855.00h2.00M284.1 855.00h2.00M322.1 855.00h2.00M326.1 855.00h2.00M338.1 855.00h4.00M350.1 855.00h2.00M378.1 855.00h2.00M416.1 855.00h2.00M422.1 855.00h2.00M430.1 855.00h2.00M438.1 855.00h2.00M462.1 855.00h2.00M490.1 855.00h2.00M498.1 855.00h2.00M518.1 855.00h2.00M580.0 855.00h2.00M600.0 855.00h2.00M620.0 855.00h2.00M634.0 855.00h2.00M654.0 855.00h2.00M658.0 855.00h2.00M676.0 855.00h2.00M90.2 867.80h2.00M104.2 867.80h4.00M112.2 867.80h2.00M126.2 867.80h2.00M144.2 867.80h2.00M158.2 867.80h4.00M166.2 867.80h2.00M174.2 867.80h4.00M182.2 867.80h2.00M212.2 867.80h2.00M250.1 867.80h2.00M254.1 867.80h2.00M258.1 867.80h2.00M274.1 867.80h2.00M296.1 867.80h2.00M304.1 867.80h2.00M308.1 867.80h2.00M316.1 867.80h2.00M334.1 867.80h2.00M350.1 867.80h2.00M354.1 867.80h2.00M372.1 867.80h2.00M378.1 867.80h2.00M398.1 867.80h2.00M410.1 867.80h4.00M416.1 867.80h4.00M422.1 867.80h2.00M430.1 867.80h2.00M434.1 867.80h2.00M438.1 867.80h2.00M458.1 867.80h2.00M474.1 867.80h2.00M518.1 867.80h2.00M536.0 867.80h2.00M548.0 867.80h2.00M590.0 867.80h2.00M598.0 867.80h2.00M604.0 867.80h2.00M624.0 867.80h2.00M66.2 880.60h2.00M98.2 880.60h2.00M104.2 880.60h2.00M118.2 880.60h2.00M128.2 880.60h2.00M150.2 880.60h2.00M162.2 880.60h2.00M194.2 880.60h2.00M200.2 880.60h2.00M214.2 880.60h2.00M244.1 880.60h2.00M266.1 880.60h2.00M292.1 880.60h2.00M316.1 880.60h2.00M324.1 880.60h2.00M328.1 880.60h2.00M338.1 880.60h2.00M390.1 880.60h2.00M416.1 880.60h2.00M452.1 880.60h2.00M464.1 880.60h2.00M474.1 880.60h2.00M486.1 880.60h2.00M494.1 880.60h4.00M518.1 880.60h2.00M532.0 880.60h2.00M542.0 880.60h2.00M546.0 880.60h2.00M550.0 880.60h2.00M562.0 880.60h2.00M576.0 880.60h2.00M584.0 880.60h2.00M594.0 880.60h2.00M600.0 880.60h2.00M608.0 880.60h2.00M632.0 880.60h2.00M640.0 880.60h2.00M650.0 880.60h2.00M656.0 880.60h2.00M668.0 880.60h2.00M72.2 893.40h2.00M86.2 893.40h2.00M90.2 893.40h2.00M116.2 893.40h2.00M138.2 893.40h2.00M172.2 893.40h2.00M292.1 893.40h2.00M364.1 893.40h2.00M370.1 893.40h6.00M388.1 893.40h2.00M428.1 893.40h2.00M436.1 893.40h2.00M454.1 893.40h2.00M478.1 893.40h2.00M482.1 893.40h2.00M500.1 893.40h2.00M510.1 893.40h2.00M516.1 893.40h2.00M526.0 893.40h2.00M574.0 893.40h2.00M596.0 893.40h2.00M64.2 906.20h2.00M70.2 906.20h2.00M74.2 906.20h4.00M98.2 906.20h2.00M104.2 906.20h2.00M108.2 906.20h2.00M130.2 906.20h2.00M180.2 906.20h2.00M198.2 906.20h2.00M226.1 906.20h4.00M264.1 906.20h2.00M296.1 906.20h2.00M300.1 906.20h2.00M304.1 906.20h2.00M324.1 906.20h2.00M334.1 906.20h2.00M366.1 906.20h4.00M384.1 906.20h2.00M406.1 906.20h2.00M416.1 906.20h2.00M434.1 906.20h2.00M438.1 906.20h2.00M444.1 906.20h2.00M462.1 906.20h2.00M466.1 906.20h4.00M488.1 906.20h2.00M492.1 906.20h2.00M500.1 906.20h2.00M508.1 906.20h2.00M516.1 906.20h2.00M524.0 906.20h2.00M544.0 906.20h2.00M586.0 906.20h2.00M594.0 906.20h2.00M598.0 906.20h2.00M606.0 906.20h2.00M630.0 906.20h2.00M634.0 906.20h2.00M642.0 906.20h2.00M650.0 906.20h2.00M654.0 906.20h4.00M676.0 906.20h2.00M164.2 919.00h2.00M192.2 919.00h2.00M232.1 919.00h2.00M290.1 919.00h2.00M294.1 919.00h2.00M318.1 919.00h2.00M322.1 919.00h2.00M360.1 919.00h4.00M380.1 919.00h2.00M434.1 919.00h2.00M444.1 919.00h2.00M450.1 919.00h2.00M466.1 919.00h6.00M518.1 919.00h4.00M556.0 919.00h2.00M602.0 919.00h2.00M612.0 919.00h4.00M628.0 919.00h2.00M676.0 919.00h2.00M88.2 931.80h2.00M94.2 931.80h2.00M104.2 931.80h2.00M112.2 931.80h2.00M148.2 931.80h2.00M180.2 931.80h2.00M216.1 931.80h2.00M224.1 931.80h2.00M230.1 931.80h2.00M236.1 931.80h2.00M302.1 931.80h2.00M336.1 931.80h2.00M356.1 931.80h2.00M384.1 931.80h2.00M426.1 931.80h2.00M526.0 931.80h2.00M566.0 931.80h2.00M636.0 931.80h2.00M650.0 931.80h2.00M66.2 944.60h2.00M172.2 944.60h2.00M178.2 944.60h2.00M194.2 944.60h2.00M242.1 944.60h2.00M282.1 944.60h2.00M392.1 944.60h2.00M440.1 944.60h2.00M444.1 944.60h2.00M552.0 944.60h2.00M588.0 944.60h2.00M630.0 944.60h2.00M66.2 957.40h2.00M102.2 957.40h2.00M162.2 957.40h2.00M168.2 957.40h2.00M334.1 957.40h2.00M350.1 957.40h2.00M402.1 957.40h2.00M556.0 957.40h2.00M642.0 957.40h4.00M650.0 957.40h2.00M62.2 970.20h2.00M70.2 970.20h2.00M94.2 970.20h2.00M124.2 970.20h2.00M140.2 970.20h2.00M146.2 970.20h2.00M188.2 970.20h2.00M196.2 970.20h4.00M204.2 970.20h2.00M226.1 970.20h2.00M322.1 970.20h2.00M348.1 970.20h2.00M428.1 970.20h2.00M450.1 970.20h2.00M466.1 970.20h2.00M476.1 970.20h2.00M536.0 970.20h2.00M552.0 970.20h2.00M556.0 970.20h2.00M604.0 970.20h2.00M628.0 970.20h2.00M636.0 970.20h4.00M670.0 970.20h2.00M112.2 983.00h2.00M122.2 983.00h2.00M136.2 983.00h2.00M146.2 983.00h2.00M150.2 983.00h2.00M162.2 983.00h2.00M176.2 983.00h2.00M202.2 983.00h2.00M222.1 983.00h2.00M336.1 983.00h2.00M340.1 983.00h2.00M360.1 983.00h2.00M384.1 983.00h2.00M406.1 983.00h2.00M492.1 983.00h2.00M506.1 983.00h2.00M538.0 983.00h2.00M552.0 983.00h2.00M586.0 983.00h2.00M602.0 983.00h2.00M606.0 983.00h2.00M610.0 983.00h2.00M622.0 983.00h2.00M676.0 983.00h2.00M94.2 995.80h2.00M112.2 995.80h2.00M116.2 995.80h2.00M130.2 995.80h2.00M156.2 995.80h2.00M164.2 995.80h2.00M178.2 995.80h2.00M216.1 995.80h2.00M228.1 995.80h2.00M252.1 995.80h2.00M286.1 995.80h2.00M324.1 995.80h2.00M374.1 995.80h6.00M408.1 995.80h6.00M450.1 995.80h2.00M530.0 995.80h2.00M540.0 995.80h2.00M596.0 995.80h2.00M612.0 995.80h2.00M60.2 1008.60h2.00M68.2 1008.60h2.00M80.2 1008.60h2.00M98.2 1008.60h2.00M112.2 1008.60h2.00M180.2 1008.60h4.00M186.2 1008.60h2.00M266.1 1008.60h2.00M278.1 1008.60h2.00M356.1 1008.60h2.00M404.1 1008.60h2.00M418.1 1008.60h2.00M442.1 1008.60h2.00M464.1 1008.60h2.00M514.1 1008.60h2.00M532.0 1008.60h2.00M552.0 1008.60h2.00M558.0 1008.60h2.00M570.0 1008.60h2.00M580.0 1008.60h2.00M608.0 1008.60h2.00M640.0 1008.60h2.00M644.0 1008.60h2.00M648.0 1008.60h4.00M660.0 1008.60h2.00M64.2 1021.40h2.00M84.2 1021.40h2.00M238.1 1021.40h2.00M380.1 1021.40h2.00M400.1 1021.40h2.00M406.1 1021.40h2.00M464.1 1021.40h2.00M480.1 1021.40h2.00M524.0 1021.40h2.00M568.0 1021.40h2.00M584.0 1021.40h2.00M598.0 1021.40h2.00M608.0 1021.40h2.00M612.0 1021.40h2.00M634.0 1021.40h2.00M268.1 1034.20h2.00M322.1 1034.20h2.00M420.1 1034.20h2.00M452.1 1034.20h2.00M502.1 1034.20h2.00M592.0 1034.20h2.00M606.0 1034.20h2.00M62.2 1047.00h2.00M72.2 1047.00h2.00M100.2 1047.00h2.00M138.2 1047.00h2.00M162.2 1047.00h2.00M166.2 1047.00h2.00M184.2 1047.00h2.00M198.2 1047.00h2.00M224.1 1047.00h2.00M266.1 1047.00h2.00M274.1 1047.00h2.00M308.1 1047.00h2.00M312.1 1047.00h2.00M328.1 1047.00h2.00M366.1 1047.00h2.00M386.1 1047.00h2.00M418.1 1047.00h4.00M480.1 1047.00h2.00M494.1 1047.00h2.00M502.1 1047.00h2.00M534.0 1047.00h2.00M544.0 1047.00h2.00M660.0 1047.00h2.00M72.2 1059.80h2.00M112.2 1059.80h2.00M158.2 1059.80h2.00M202.2 1059.80h2.00M218.1 1059.80h2.00M296.1 1059.80h2.00M302.1 1059.80h2.00M328.1 1059.80h2.00M364.1 1059.80h2.00M368.1 1059.80h2.00M436.1 1059.80h2.00M472.1 1059.80h2.00M480.1 1059.80h2.00M532.0 1059.80h2.00M538.0 1059.80h2.00M570.0 1059.80h2.00M592.0 1059.80h2.00M644.0 1059.80h2.00M652.0 1059.80h2.00M656.0 1059.80h2.00M674.0 1059.80h2.00M62.2 1072.60h2.00M76.2 1072.60h6.00M154.2 1072.60h2.00M184.2 1072.60h2.00M216.1 1072.60h2.00M250.1 1072.60h2.00M308.1 1072.60h2.00M318.1 1072.60h2.00M342.1 1072.60h2.00M350.1 1072.60h2.00M366.1 1072.60h2.00M422.1 1072.60h2.00M428.1 1072.60h4.00M436.1 1072.60h2.00M442.1 1072.60h2.00M462.1 1072.60h2.00M476.1 1072.60h2.00M480.1 1072.60h2.00M508.1 1072.60h2.00M526.0 1072.60h2.00M622.0 1072.60h2.00M654.0 1072.60h2.00M660.0 1072.60h2.00M78.2 1085.40h2.00M156.2 1085.40h2.00M220.1 1085.40h2.00M306.1 1085.40h2.00M312.1 1085.40h2.00M386.1 1085.40h2.00M558.0 1085.40h2.00M618.0 1085.40h2.00M652.0 1085.40h2.00M64.2 1098.20h4.00M74.2 1098.20h4.00M84.2 1098.20h2.00M102.2 1098.20h2.00M128.2 1098.20h2.00M132.2 1098.20h2.00M138.2 1098.20h2.00M148.2 1098.20h4.00M160.2 1098.20h2.00M164.2 1098.20h2.00M172.2 1098.20h2.00M178.2 1098.20h2.00M200.2 1098.20h2.00M228.1 1098.20h2.00M236.1 1098.20h2.00M260.1 1098.20h2.00M266.1 1098.20h2.00M284.1 1098.20h2.00M298.1 1098.20h2.00M362.1 1098.20h2.00M384.1 1098.20h2.00M410.1 1098.20h2.00M430.1 1098.20h2.00M446.1 1098.20h2.00M462.1 1098.20h2.00M508.1 1098.20h2.00M522.1 1098.20h2.00M530.0 1098.20h2.00M544.0 1098.20h2.00M568.0 1098.20h2.00M616.0 1098.20h2.00M630.0 1098.20h2.00M662.0 1098.20h2.00M668.0 1098.20h2.00M80.2 1111.00h2.00M88.2 1111.00h2.00M214.2 1111.00h2.00M222.1 1111.00h2.00M292.1 1111.00h2.00M328.1 1111.00h2.00M344.1 1111.00h2.00M422.1 1111.00h2.00M426.1 1111.00h4.00M446.1 1111.00h2.00M464.1 1111.00h2.00M486.1 1111.00h2.00M496.1 1111.00h2.00M516.1 1111.00h2.00M572.0 1111.00h2.00M90.2 1123.80h2.00M114.2 1123.80h2.00M216.1 1123.80h2.00M224.1 1123.80h2.00M228.1 1123.80h2.00M264.1 1123.80h2.00M286.1 1123.80h2.00M302.1 1123.80h2.00M306.1 1123.80h2.00M326.1 1123.80h4.00M338.1 1123.80h2.00M352.1 1123.80h2.00M358.1 1123.80h2.00M364.1 1123.80h2.00M420.1 1123.80h2.00M476.1 1123.80h2.00M502.1 1123.80h2.00M600.0 1123.80h2.00M110.2 1136.60h2.00M150.2 1136.60h2.00M166.2 1136.60h2.00M174.2 1136.60h2.00M314.1 1136.60h2.00M322.1 1136.60h2.00M326.1 1136.60h2.00M338.1 1136.60h2.00M352.1 1136.60h2.00M426.1 1136.60h2.00M462.1 1136.60h2.00M478.1 1136.60h2.00M572.0 1136.60h2.00M596.0 1136.60h2.00M652.0 1136.60h4.00M78.2 1162.20h2.00M312.1 1162.20h2.00M532.0 1162.20h2.00M606.0 1162.20h2.00M200.2 1200.60h2.00M250.1 1200.60h2.00M280.1 1200.60h2.00M360.1 1200.60h2.00M402.1 1200.60h2.00M456.1 1200.60h2.00M284.1 1213.40h2.00M200.2 1239.00h2.00M328.1 1239.00h2.00M364.1 1239.00h2.00M474.1 1239.00h2.00M478.1 1239.00h2.00M572.0 1239.00h2.00M266.1 1251.80h2.00M440.1 1251.80h2.00M432.1 1277.40h2.00"/>
<path stroke="#f2e199" d="M62.2 778.20h2.00M100.2 778.20h2.00M146.2 778.20h2.00M328.1 778.20h2.00M394.1 778.20h2.00M470.1 778.20h2.00M478.1 778.20h2.00M482.1 778.20h2.00M158.2 791.00h2.00M162.2 791.00h2.00M172.2 791.00h2.00M218.1 791.00h2.00M236.1 791.00h2.00M282.1 791.00h2.00M354.1 791.00h4.00M420.1 791.00h2.00M426.1 791.00h2.00M450.1 791.00h2.00M624.0 791.00h2.00M652.0 791.00h2.00M256.1 803.80h2.00M92.2 816.60h2.00M176.2 816.60h2.00M190.2 816.60h2.00M200.2 816.60h2.00M212.2 816.60h2.00M290.1 816.60h4.00M432.1 816.60h2.00M592.0 816.60h2.00M650.0 816.60h2.00M68.2 829.40h2.00M100.2 829.40h2.00M132.2 829.40h2.00M142.2 829.40h2.00M158.2 829.40h2.00M228.1 829.40h2.00M234.1 829.40h2.00M322.1 829.40h4.00M484.1 829.40h2.00M68.2 842.20h2.00M84.2 842.20h2.00M98.2 842.20h2.00M194.2 842.20h2.00M198.2 842.20h2.00M240.1 842.20h2.00M252.1 842.20h2.00M272.1 842.20h4.00M294.1 842.20h2.00M298.1 842.20h4.00M316.1 842.20h2.00M322.1 842.20h2.00M350.1 842.20h2.00M360.1 842.20h2.00M396.1 842.20h2.00M484.1 842.20h2.00M488.1 842.20h2.00M498.1 842.20h2.00M530.0 842.20h2.00M556.0 842.20h2.00M564.0 842.20h2.00M568.0 842.20h2.00M590.0 842.20h2.00M68.2 855.00h2.00M94.2 855.00h2.00M146.2 855.00h2.00M206.2 855.00h2.00M240.1 855.00h2.00M278.1 855.00h2.00M306.1 855.00h2.00M392.1 855.00h2.00M450.1 855.00h2.00M470.1 855.00h2.00M552.0 855.00h2.00M588.0 855.00h2.00M630.0 855.00h2.00M636.0 855.00h2.00M82.2 867.80h2.00M146.2 867.80h2.00M204.2 867.80h2.00M220.1 867.80h2.00M252.1 867.80h2.00M268.1 867.80h2.00M276.1 867.80h2.00M290.1 867.80h2.00M346.1 867.80h4.00M368.1 867.80h2.00M588.0 867.80h2.00M630.0 867.80h2.00M636.0 867.80h2.00M62.2 880.60h2.00M68.2 880.60h2.00M84.2 880.60h4.00M92.2 880.60h6.00M114.2 880.60h2.00M122.2 880.60h2.00M142.2 880.60h2.00M148.2 880.60h2.00M154.2 880.60h2.00M160.2 880.60h2.00M166.2 880.60h2.00M178.2 880.60h2.00M186.2 880.60h4.00M212.2 880.60h2.00M232.1 880.60h2.00M238.1 880.60h2.00M246.1 880.60h2.00M252.1 880.60h2.00M262.1 880.60h2.00M270.1 880.60h2.00M274.1 880.60h2.00M294.1 880.60h4.00M334.1 880.60h2.00M340.1 880.60h2.00M348.1 880.60h2.00M358.1 880.60h4.00M366.1 880.60h2.00M384.1 880.60h2.00M438.1 880.60h2.00M454.1 880.60h2.00M476.1 880.60h2.00M492.1 880.60h2.00M500.1 880.60h2.00M506.1 880.60h2.00M528.0 880.60h2.00M548.0 880.60h2.00M602.0 880.60h2.00M616.0 880.60h2.00M622.0 880.60h4.00M628.0 880.60h4.00M664.0 880.60h4.00M66.2 893.40h2.00M70.2 893.40h2.00M74.2 893.40h2.00M102.2 893.40h2.00M106.2 893.40h4.00M120.2 893.40h2.00M128.2 893.40h4.00M134.2 893.40h2.00M144.2 893.40h2.00M148.2 893.40h2.00M162.2 893.40h4.00M168.2 893.40h2.00M180.2 893.40h4.00M186.2 893.40h2.00M192.2 893.40h2.00M196.2 893.40h4.00M218.1 893.40h4.00M230.1 893.40h2.00M238.1 893.40h2.00M274.1 893.40h4.00M294.1 893.40h2.00M300.1 893.40h2.00M310.1 893.40h2.00M318.1 893.40h2.00M332.1 893.40h2.00M338.1 893.40h2.00M354.1 893.40h4.00M392.1 893.40h2.00M396.1 893.40h2.00M406.1 893.40h2.00M448.1 893.40h2.00M470.1 893.40h2.00M484.1 893.40h2.00M496.1 893.40h2.00M524.0 893.40h2.00M540.0 893.40h2.00M556.0 893.40h2.00M560.0 893.40h2.00M570.0 893.40h2.00M576.0 893.40h2.00M606.0 893.40h2.00M620.0 893.40h2.00M636.0 893.40h4.00M660.0 893.40h2.00M60.2 906.20h2.00M66.2 906.20h2.00M90.2 906.20h2.00M120.2 906.20h2.00M136.2 906.20h2.00M144.2 906.20h2.00M156.2 906.20h4.00M162.2 906.20h2.00M174.2 906.20h2.00M178.2 906.20h2.00M182.2 906.20h2.00M210.2 906.20h4.00M220.1 906.20h2.00M242.1 906.20h2.00M276.1 906.20h2.00M284.1 906.20h2.00M348.1 906.20h2.00M382.1 906.20h2.00M410.1 906.20h2.00M458.1 906.20h2.00M476.1 906.20h2.00M552.0 906.20h2.00M604.0 906.20h2.00M624.0 906.20h2.00M658.0 906.20h2.00M664.0 906.20h2.00M630.0 919.00h2.00M508.1 931.80h2.00M346.1 957.40h2.00M552.0 957.40h2.00M636.0 957.40h2.00M252.1 970.20h2.00M402.1 970.20h2.00M658.0 983.00h2.00M78.2 995.80h2.00M84.2 995.80h2.00M128.2 995.80h2.00M194.2 995.80h2.00M282.1 995.80h2.00M298.1 995.80h2.00M382.1 995.80h2.00M466.1 995.80h2.00M552.0 995.80h2.00M588.0 995.80h2.00M620.0 995.80h2.00M84.2 1008.60h4.00M122.2 1008.60h2.00M128.2 1008.60h2.00M136.2 1008.60h2.00M156.2 1008.60h4.00M166.2 1008.60h2.00M218.1 1008.60h2.00M226.1 1008.60h2.00M230.1 1008.60h4.00M250.1 1008.60h2.00M276.1 1008.60h2.00M284.1 1008.60h2.00M296.1 1008.60h2.00M316.1 1008.60h2.00M340.1 1008.60h2.00M344.1 1008.60h2.00M374.1 1008.60h2.00M388.1 1008.60h8.00M438.1 1008.60h2.00M448.1 1008.60h2.00M456.1 1008.60h2.00M500.1 1008.60h2.00M526.0 1008.60h2.00M530.0 1008.60h2.00M548.0 1008.60h2.00M568.0 1008.60h2.00M592.0 1008.60h2.00M626.0 1008.60h2.00M664.0 1008.60h2.00M72.2 1021.40h2.00M212.2 1021.40h2.00M308.1 1021.40h2.00M374.1 1021.40h2.00M390.1 1021.40h4.00M408.1 1021.40h2.00M526.0 1021.40h2.00M534.0 1021.40h2.00M582.0 1021.40h2.00M626.0 1021.40h2.00M96.2 1034.20h4.00M106.2 1034.20h2.00M132.2 1034.20h2.00M140.2 1034.20h2.00M144.2 1034.20h2.00M148.2 1034.20h2.00M152.2 1034.20h2.00M162.2 1034.20h2.00M186.2 1034.20h2.00M206.2 1034.20h2.00M226.1 1034.20h2.00M230.1 1034.20h2.00M240.1 1034.20h2.00M246.1 1034.20h2.00M258.1 1034.20h2.00M262.1 1034.20h2.00M266.1 1034.20h2.00M270.1 1034.20h2.00M284.1 1034.20h2.00M288.1 1034.20h2.00M304.1 1034.20h2.00M310.1 1034.20h2.00M314.1 1034.20h2.00M344.1 1034.20h2.00M356.1 1034.20h2.00M362.1 1034.20h2.00M370.1 1034.20h2.00M378.1 1034.20h2.00M390.1 1034.20h2.00M394.1 1034.20h2.00M416.1 1034.20h2.00M426.1 1034.20h2.00M446.1 1034.20h2.00M458.1 1034.20h2.00M474.1 1034.20h4.00M490.1 1034.20h2.00M496.1 1034.20h2.00M506.1 1034.20h2.00M544.0 1034.20h2.00M558.0 1034.20h2.00M564.0 1034.20h2.00M614.0 1034.20h2.00M620.0 1034.20h2.00M654.0 1034.20h2.00M666.0 1034.20h2.00M66.2 1047.00h4.00M88.2 1047.00h2.00M92.2 1047.00h2.00M96.2 1047.00h2.00M110.2 1047.00h2.00M124.2 1047.00h2.00M130.2 1047.00h2.00M140.2 1047.00h2.00M146.2 1047.00h4.00M154.2 1047.00h2.00M160.2 1047.00h2.00M172.2 1047.00h6.00M220.1 1047.00h2.00M262.1 1047.00h2.00M270.1 1047.00h2.00M314.1 1047.00h2.00M320.1 1047.00h2.00M330.1 1047.00h2.00M368.1 1047.00h2.00M390.1 1047.00h4.00M396.1 1047.00h2.00M436.1 1047.00h2.00M440.1 1047.00h2.00M458.1 1047.00h2.00M466.1 1047.00h4.00M472.1 1047.00h2.00M506.1 1047.00h2.00M536.0 1047.00h2.00M566.0 1047.00h2.00M586.0 1047.00h2.00M590.0 1047.00h2.00M606.0 1047.00h4.00M620.0 1047.00h2.00M638.0 1047.00h2.00M656.0 1047.00h2.00M676.0 1047.00h2.00M62.2 1059.80h2.00M68.2 1059.80h2.00M98.2 1059.80h4.00M116.2 1059.80h2.00M126.2 1059.80h2.00M136.2 1059.80h2.00M142.2 1059.80h2.00M172.2 1059.80h4.00M190.2 1059.80h2.00M220.1 1059.80h2.00M224.1 1059.80h2.00M248.1 1059.80h2.00M254.1 1059.80h2.00M274.1 1059.80h2.00M286.1 1059.80h2.00M300.1 1059.80h2.00M308.1 1059.80h2.00M318.1 1059.80h2.00M322.1 1059.80h2.00M340.1 1059.80h2.00M352.1 1059.80h4.00M362.1 1059.80h2.00M372.1 1059.80h2.00M378.1 1059.80h2.00M392.1 1059.80h4.00M418.1 1059.80h2.00M422.1 1059.80h2.00M426.1 1059.80h2.00M444.1 1059.80h4.00M476.1 1059.80h2.00M486.1 1059.80h2.00M490.1 1059.80h2.00M500.1 1059.80h4.00M506.1 1059.80h2.00M512.1 1059.80h6.00M568.0 1059.80h2.00M586.0 1059.80h2.00M594.0 1059.80h2.00M602.0 1059.80h4.00M620.0 1059.80h2.00M648.0 1059.80h2.00M74.2 1072.60h2.00M102.2 1072.60h2.00M118.2 1072.60h2.00M132.2 1072.60h2.00M144.2 1072.60h4.00M150.2 1072.60h2.00M170.2 1072.60h2.00M174.2 1072.60h2.00M190.2 1072.60h2.00M198.2 1072.60h2.00M218.1 1072.60h2.00M234.1 1072.60h4.00M240.1 1072.60h2.00M244.1 1072.60h2.00M252.1 1072.60h2.00M260.1 1072.60h2.00M266.1 1072.60h2.00M300.1 1072.60h2.00M304.1 1072.60h2.00M362.1 1072.60h2.00M418.1 1072.60h2.00M446.1 1072.60h2.00M452.1 1072.60h4.00M458.1 1072.60h2.00M486.1 1072.60h2.00M490.1 1072.60h2.00M540.0 1072.60h2.00M566.0 1072.60h2.00M580.0 1072.60h2.00M588.0 1072.60h2.00M618.0 1072.60h2.00M628.0 1072.60h2.00M640.0 1072.60h2.00M652.0 1072.60h2.00M676.0 1072.60h2.00M86.2 1085.40h2.00M98.2 1085.40h2.00M106.2 1085.40h4.00M116.2 1085.40h4.00M154.2 1085.40h2.00M176.2 1085.40h2.00M184.2 1085.40h2.00M192.2 1085.40h2.00M202.2 1085.40h2.00M226.1 1085.40h2.00M262.1 1085.40h2.00M270.1 1085.40h2.00M278.1 1085.40h2.00M314.1 1085.40h2.00M356.1 1085.40h2.00M362.1 1085.40h2.00M368.1 1085.40h2.00M380.1 1085.40h2.00M422.1 1085.40h2.00M456.1 1085.40h2.00M464.1 1085.40h2.00M484.1 1085.40h2.00M502.1 1085.40h2.00M532.0 1085.40h2.00M548.0 1085.40h2.00M586.0 1085.40h4.00M622.0 1085.40h2.00M632.0 1085.40h2.00M642.0 1085.40h2.00M650.0 1085.40h2.00M654.0 1085.40h2.00M658.0 1085.40h2.00M662.0 1085.40h2.00M670.0 1085.40h2.00M86.2 1098.20h2.00M92.2 1098.20h2.00M114.2 1098.20h2.00M158.2 1098.20h2.00M174.2 1098.20h2.00M194.2 1098.20h2.00M198.2 1098.20h2.00M204.2 1098.20h2.00M208.2 1098.20h2.00M312.1 1098.20h4.00M330.1 1098.20h2.00M336.1 1098.20h2.00M436.1 1098.20h2.00M448.1 1098.20h2.00M460.1 1098.20h2.00M466.1 1098.20h2.00M478.1 1098.20h2.00M486.1 1098.20h2.00M496.1 1098.20h2.00M510.1 1098.20h2.00M528.0 1098.20h2.00M560.0 1098.20h2.00M586.0 1098.20h2.00M600.0 1098.20h2.00M620.0 1098.20h2.00M628.0 1098.20h2.00M640.0 1098.20h2.00M644.0 1098.20h2.00M670.0 1098.20h2.00M60.2 1111.00h2.00M74.2 1111.00h2.00M94.2 1111.00h2.00M98.2 1111.00h2.00M112.2 1111.00h2.00M132.2 1111.00h2.00M150.2 1111.00h2.00M156.2 1111.00h4.00M166.2 1111.00h4.00M176.2 1111.00h2.00M184.2 1111.00h2.00M236.1 1111.00h2.00M256.1 1111.00h2.00M268.1 1111.00h2.00M296.1 1111.00h2.00M318.1 1111.00h2.00M322.1 1111.00h2.00M354.1 1111.00h2.00M364.1 1111.00h2.00M370.1 1111.00h2.00M392.1 1111.00h2.00M398.1 1111.00h2.00M404.1 1111.00h2.00M412.1 1111.00h2.00M418.1 1111.00h2.00M454.1 1111.00h2.00M466.1 1111.00h2.00M478.1 1111.00h2.00M482.1 1111.00h2.00M508.1 1111.00h2.00M518.1 1111.00h2.00M552.0 1111.00h2.00M564.0 1111.00h4.00M570.0 1111.00h2.00M576.0 1111.00h2.00M606.0 1111.00h2.00M640.0 1111.00h2.00M672.0 1111.00h2.00M676.0 1111.00h2.00M96.2 1123.80h2.00M124.2 1123.80h2.00M136.2 1123.80h2.00M142.2 1123.80h2.00M150.2 1123.80h2.00M174.2 1123.80h2.00M190.2 1123.80h2.00M226.1 1123.80h2.00M230.1 1123.80h2.00M248.1 1123.80h2.00M258.1 1123.80h2.00M276.1 1123.80h2.00M294.1 1123.80h2.00M300.1 1123.80h2.00M332.1 1123.80h2.00M342.1 1123.80h2.00M366.1 1123.80h2.00M378.1 1123.80h2.00M388.1 1123.80h2.00M404.1 1123.80h2.00M410.1 1123.80h2.00M428.1 1123.80h2.00M434.1 1123.80h4.00M440.1 1123.80h2.00M460.1 1123.80h2.00M468.1 1123.80h2.00M490.1 1123.80h2.00M534.0 1123.80h2.00M538.0 1123.80h2.00M548.0 1123.80h2.00M572.0 1123.80h6.00M586.0 1123.80h2.00M616.0 1123.80h2.00M640.0 1123.80h2.00M644.0 1123.80h2.00M76.2 1136.60h2.00M80.2 1136.60h2.00M98.2 1136.60h6.00M130.2 1136.60h2.00M178.2 1136.60h2.00M222.1 1136.60h2.00M232.1 1136.60h2.00M260.1 1136.60h2.00M272.1 1136.60h4.00M280.1 1136.60h2.00M290.1 1136.60h2.00M306.1 1136.60h2.00M310.1 1136.60h2.00M324.1 1136.60h2.00M336.1 1136.60h2.00M394.1 1136.60h2.00M468.1 1136.60h2.00M502.1 1136.60h2.00M516.1 1136.60h2.00M534.0 1136.60h4.00M550.0 1136.60h2.00M574.0 1136.60h2.00M660.0 1136.60h2.00M664.0 1136.60h2.00M68.2 1162.20h2.00M166.2 1162.20h2.00M280.1 1162.20h2.00M370.1 1162.20h2.00M382.1 1162.20h2.00M504.1 1162.20h2.00M572.0 1162.20h2.00M614.0 1162.20h2.00M642.0 1162.20h2.00M658.0 1162.20h2.00M136.2 1200.60h2.00M146.2 1200.60h2.00M198.2 1200.60h2.00M226.1 1200.60h2.00M318.1 1200.60h2.00M336.1 1200.60h2.00M354.1 1200.60h2.00M378.1 1200.60h2.00M382.1 1200.60h2.00M390.1 1200.60h2.00M416.1 1200.60h2.00M440.1 1200.60h2.00M464.1 1200.60h2.00M504.1 1200.60h2.00M514.1 1200.60h2.00M540.0 1200.60h2.00M606.0 1200.60h2.00M612.0 1200.60h2.00M626.0 1200.60h2.00M630.0 1200.60h2.00M650.0 1200.60h2.00M654.0 1200.60h2.00M670.0 1200.60h2.00M96.2 1213.40h2.00M120.2 1213.40h2.00M154.2 1213.40h2.00M344.1 1213.40h2.00M364.1 1213.40h2.00M548.0 1213.40h2.00M630.0 1213.40h2.00M104.2 1226.20h2.00M130.2 1226.20h2.00M240.1 1226.20h2.00M276.1 1226.20h2.00M374.1 1226.20h2.00M388.1 1226.20h2.00M454.1 1226.20h2.00M606.0 1226.20h2.00M622.0 1226.20h2.00M654.0 1226.20h2.00M78.2 1239.00h2.00M110.2 1239.00h2.00M224.1 1239.00h4.00M238.1 1239.00h2.00M296.1 1239.00h2.00M344.1 1239.00h2.00M462.1 1239.00h4.00M468.1 1239.00h2.00M480.1 1239.00h2.00M494.1 1239.00h2.00M502.1 1239.00h2.00M512.1 1239.00h2.00M542.0 1239.00h2.00M550.0 1239.00h2.00M668.0 1239.00h2.00M60.2 1251.80h2.00M74.2 1251.80h2.00M98.2 1251.80h2.00M118.2 1251.80h2.00M122.2 1251.80h2.00M158.2 1251.80h2.00M218.1 1251.80h2.00M242.1 1251.80h2.00M276.1 1251.80h2.00M296.1 1251.80h2.00M348.1 1251.80h2.00M368.1 1251.80h2.00M446.1 1251.80h4.00M456.1 1251.80h2.00M462.1 1251.80h4.00M484.1 1251.80h2.00M560.0 1251.80h2.00M642.0 1251.80h2.00M646.0 1251.80h2.00M658.0 1251.80h2.00M668.0 1251.80h2.00M74.2 1264.60h2.00M78.2 1264.60h2.00M138.2 1264.60h2.00M280.1 1264.60h2.00M292.1 1264.60h2.00M364.1 1264.60h2.00M474.1 1264.60h2.00M534.0 1264.60h2.00M642.0 1264.60h2.00M674.0 1264.60h2.00M66.2 1277.40h2.00M70.2 1277.40h2.00M170.2 1277.40h4.00M198.2 1277.40h2.00M270.1 1277.40h2.00M328.1 1277.40h2.00M342.1 1277.40h2.00M356.1 1277.40h2.00M474.1 1277.40h2.00M502.1 1277.40h2.00M518.1 1277.40h2.00M526.0 1277.40h2.00M544.0 1277.40h4.00M558.0 1277.40h2.00M592.0 1277.40h4.00M600.0 1277.40h2.00"/>
<path stroke="#f4edac" d="M68.2 778.20h2.00M490.1 791.00h2.00M528.0 791.00h2.00M114.2 816.60h2.00M420.1 816.60h2.00M172.2 829.40h2.00M206.2 829.40h2.00M204.2 842.20h2.00M490.1 842.20h2.00M356.1 880.60h2.00M156.2 893.40h2.00M376.1 919.00h2.00M134.2 957.40h2.00M212.2 957.40h2.00M96.2 1008.60h2.00M116.2 1008.60h2.00M212.2 1008.60h2.00M282.1 1008.60h2.00M322.1 1008.60h2.00M346.1 1008.60h2.00M550.0 1008.60h2.00M554.0 1008.60h2.00M594.0 1008.60h2.00M598.0 1008.60h2.00M460.1 1021.40h2.00M666.0 1021.40h2.00M88.2 1034.20h2.00M108.2 1034.20h2.00M182.2 1034.20h2.00M202.2 1034.20h2.00M228.1 1034.20h2.00M244.1 1034.20h2.00M308.1 1034.20h2.00M342.1 1034.20h2.00M392.1 1034.20h2.00M436.1 1034.20h2.00M450.1 1034.20h2.00M460.1 1034.20h2.00M482.1 1034.20h2.00M486.1 1034.20h2.00M524.0 1034.20h2.00M554.0 1034.20h2.00M590.0 1034.20h2.00M608.0 1034.20h2.00M622.0 1034.20h2.00M646.0 1034.20h2.00M672.0 1034.20h2.00M194.2 1047.00h2.00M206.2 1047.00h2.00M232.1 1047.00h2.00M336.1 1047.00h2.00M394.1 1047.00h2.00M568.0 1047.00h2.00M600.0 1047.00h2.00M624.0 1047.00h2.00M628.0 1047.00h2.00M84.2 1059.80h2.00M186.2 1059.80h2.00M194.2 1059.80h2.00M212.2 1059.80h2.00M298.1 1059.80h2.00M310.1 1059.80h2.00M380.1 1059.80h2.00M434.1 1059.80h2.00M458.1 1059.80h2.00M466.1 1059.80h2.00M484.1 1059.80h2.00M510.1 1059.80h2.00M554.0 1059.80h2.00M670.0 1059.80h2.00M112.2 1072.60h2.00M152.2 1072.60h2.00M182.2 1072.60h2.00M348.1 1072.60h2.00M450.1 1072.60h2.00M616.0 1072.60h2.00M636.0 1072.60h2.00M60.2 1085.40h2.00M90.2 1085.40h2.00M142.2 1085.40h2.00M204.2 1085.40h2.00M244.1 1085.40h2.00M264.1 1085.40h2.00M290.1 1085.40h2.00M332.1 1085.40h2.00M346.1 1085.40h2.00M352.1 1085.40h2.00M370.1 1085.40h2.00M432.1 1085.40h2.00M446.1 1085.40h2.00M508.1 1085.40h2.00M518.1 1085.40h2.00M544.0 1085.40h2.00M554.0 1085.40h2.00M564.0 1085.40h2.00M672.0 1085.40h4.00M406.1 1098.20h2.00M488.1 1098.20h2.00M550.0 1098.20h2.00M92.2 1111.00h2.00M104.2 1111.00h2.00M188.2 1111.00h2.00M198.2 1111.00h2.00M206.2 1111.00h2.00M264.1 1111.00h2.00M274.1 1111.00h2.00M284.1 1111.00h2.00M288.1 1111.00h4.00M310.1 1111.00h2.00M356.1 1111.00h2.00M470.1 1111.00h2.00M494.1 1111.00h2.00M498.1 1111.00h2.00M582.0 1111.00h4.00M588.0 1111.00h6.00M626.0 1111.00h4.00M66.2 1123.80h2.00M194.2 1123.80h2.00M212.2 1123.80h2.00M222.1 1123.80h2.00M246.1 1123.80h2.00M260.1 1123.80h2.00M356.1 1123.80h2.00M372.1 1123.80h2.00M456.1 1123.80h2.00M484.1 1123.80h2.00M530.0 1123.80h2.00M580.0 1123.80h2.00M614.0 1123.80h2.00M620.0 1123.80h2.00M624.0 1123.80h2.00M628.0 1123.80h4.00M658.0 1123.80h2.00M84.2 1136.60h4.00M176.2 1136.60h2.00M190.2 1136.60h2.00M202.2 1136.60h2.00M294.1 1136.60h2.00M346.1 1136.60h2.00M464.1 1136.60h2.00M518.1 1136.60h6.00M548.0 1136.60h2.00M556.0 1136.60h2.00M604.0 1136.60h2.00M618.0 1136.60h2.00M624.0 1136.60h2.00M670.0 1136.60h2.00M600.0 1149.40h2.00M104.2 1162.20h2.00M120.2 1162.20h2.00M154.2 1162.20h2.00M178.2 1162.20h2.00M218.1 1162.20h2.00M238.1 1162.20h2.00M252.1 1162.20h2.00M296.1 1162.20h2.00M300.1 1162.20h2.00M318.1 1162.20h2.00M354.1 1162.20h2.00M362.1 1162.20h2.00M430.1 1162.20h2.00M496.1 1162.20h2.00M506.1 1162.20h2.00M512.1 1162.20h2.00M516.1 1162.20h2.00M526.0 1162.20h2.00M538.0 1162.20h2.00M616.0 1162.20h4.00M628.0 1162.20h2.00M636.0 1162.20h2.00M664.0 1162.20h2.00M668.0 1162.20h2.00M78.2 1187.80h2.00M368.1 1187.80h2.00M82.2 1200.60h2.00M98.2 1200.60h2.00M102.2 1200.60h2.00M110.2 1200.60h2.00M180.2 1200.60h2.00M204.2 1200.60h4.00M240.1 1200.60h2.00M256.1 1200.60h2.00M268.1 1200.60h2.00M276.1 1200.60h2.00M310.1 1200.60h2.00M316.1 1200.60h2.00M326.1 1200.60h2.00M346.1 1200.60h2.00M358.1 1200.60h2.00M398.1 1200.60h2.00M470.1 1200.60h2.00M498.1 1200.60h2.00M568.0 1200.60h4.00M590.0 1200.60h2.00M614.0 1200.60h2.00M108.2 1213.40h2.00M130.2 1213.40h2.00M136.2 1213.40h2.00M148.2 1213.40h2.00M160.2 1213.40h2.00M198.2 1213.40h2.00M202.2 1213.40h2.00M240.1 1213.40h2.00M244.1 1213.40h2.00M250.1 1213.40h2.00M258.1 1213.40h2.00M282.1 1213.40h2.00M354.1 1213.40h2.00M362.1 1213.40h2.00M368.1 1213.40h2.00M398.1 1213.40h2.00M416.1 1213.40h2.00M424.1 1213.40h2.00M456.1 1213.40h2.00M480.1 1213.40h2.00M504.1 1213.40h2.00M542.0 1213.40h2.00M554.0 1213.40h2.00M570.0 1213.40h2.00M584.0 1213.40h4.00M600.0 1213.40h2.00M622.0 1213.40h2.00M676.0 1213.40h2.00M60.2 1226.20h2.00M98.2 1226.20h2.00M124.2 1226.20h2.00M182.2 1226.20h2.00M238.1 1226.20h2.00M244.1 1226.20h2.00M250.1 1226.20h2.00M270.1 1226.20h2.00M274.1 1226.20h2.00M280.1 1226.20h4.00M294.1 1226.20h2.00M334.1 1226.20h2.00M346.1 1226.20h2.00M360.1 1226.20h2.00M382.1 1226.20h2.00M434.1 1226.20h2.00M514.1 1226.20h2.00M520.1 1226.20h2.00M530.0 1226.20h2.00M594.0 1226.20h4.00M608.0 1226.20h2.00M612.0 1226.20h4.00M668.0 1226.20h2.00M60.2 1239.00h2.00M76.2 1239.00h2.00M96.2 1239.00h2.00M128.2 1239.00h2.00M146.2 1239.00h4.00M152.2 1239.00h2.00M170.2 1239.00h2.00M180.2 1239.00h2.00M188.2 1239.00h2.00M220.1 1239.00h2.00M228.1 1239.00h2.00M232.1 1239.00h2.00M278.1 1239.00h2.00M294.1 1239.00h2.00M310.1 1239.00h2.00M316.1 1239.00h2.00M326.1 1239.00h2.00M338.1 1239.00h2.00M374.1 1239.00h2.00M386.1 1239.00h2.00M396.1 1239.00h2.00M406.1 1239.00h2.00M414.1 1239.00h2.00M444.1 1239.00h2.00M506.1 1239.00h2.00M522.1 1239.00h2.00M554.0 1239.00h2.00M570.0 1239.00h2.00M584.0 1239.00h2.00M590.0 1239.00h2.00M628.0 1239.00h2.00M666.0 1239.00h2.00M80.2 1251.80h2.00M94.2 1251.80h4.00M142.2 1251.80h4.00M160.2 1251.80h2.00M172.2 1251.80h4.00M188.2 1251.80h2.00M202.2 1251.80h4.00M240.1 1251.80h2.00M256.1 1251.80h2.00M282.1 1251.80h4.00M288.1 1251.80h2.00M298.1 1251.80h2.00M314.1 1251.80h2.00M336.1 1251.80h2.00M354.1 1251.80h4.00M360.1 1251.80h2.00M370.1 1251.80h4.00M400.1 1251.80h2.00M432.1 1251.80h2.00M470.1 1251.80h2.00M474.1 1251.80h2.00M480.1 1251.80h2.00M490.1 1251.80h2.00M494.1 1251.80h2.00M504.1 1251.80h2.00M514.1 1251.80h2.00M524.0 1251.80h2.00M542.0 1251.80h2.00M568.0 1251.80h2.00M578.0 1251.80h2.00M618.0 1251.80h2.00M644.0 1251.80h2.00M650.0 1251.80h2.00M664.0 1251.80h2.00M674.0 1251.80h2.00M62.2 1264.60h2.00M108.2 1264.60h2.00M140.2 1264.60h2.00M148.2 1264.60h2.00M202.2 1264.60h2.00M222.1 1264.60h2.00M236.1 1264.60h2.00M258.1 1264.60h2.00M274.1 1264.60h2.00M290.1 1264.60h2.00M320.1 1264.60h2.00M324.1 1264.60h4.00M366.1 1264.60h2.00M394.1 1264.60h2.00M400.1 1264.60h2.00M416.1 1264.60h2.00M424.1 1264.60h2.00M432.1 1264.60h2.00M446.1 1264.60h2.00M476.1 1264.60h2.00M482.1 1264.60h2.00M496.1 1264.60h2.00M516.1 1264.60h2.00M520.1 1264.60h2.00M558.0 1264.60h2.00M74.2 1277.40h2.00M78.2 1277.40h2.00M108.2 1277.40h2.00M112.2 1277.40h2.00M118.2 1277.40h2.00M124.2 1277.40h2.00M160.2 1277.40h2.00M212.2 1277.40h2.00M228.1 1277.40h2.00M246.1 1277.40h2.00M252.1 1277.40h2.00M286.1 1277.40h2.00M292.1 1277.40h2.00M304.1 1277.40h2.00M338.1 1277.40h2.00M350.1 1277.40h4.00M358.1 1277.40h2.00M380.1 1277.40h4.00M398.1 1277.40h2.00M438.1 1277.40h2.00M442.1 1277.40h2.00M486.1 1277.40h2.00M500.1 1277.40h2.00M514.1 1277.40h4.00M562.0 1277.40h2.00M566.0 1277.40h2.00M580.0 1277.40h2.00M608.0 1277.40h4.00M622.0 1277.40h4.00M642.0 1277.40h2.00M656.0 1277.40h2.00M664.0 1277.40h2.00M668.0 1277.40h2.00M674.0 1277.40h2.00"/>
<path stroke="#f4eaa7" d="M80.2 778.20h2.00M172.2 778.20h2.00M286.1 778.20h2.00M92.2 791.00h2.00M290.1 791.00h2.00M428.1 791.00h2.00M458.1 791.00h2.00M522.1 791.00h2.00M362.1 803.80h2.00M70.2 829.40h2.00M78.2 829.40h2.00M120.2 829.40h2.00M210.2 829.40h2.00M214.2 829.40h2.00M152.2 842.20h2.00M268.1 842.20h2.00M348.1 842.20h2.00M402.1 842.20h2.00M548.0 842.20h2.00M402.1 855.00h2.00M624.0 855.00h2.00M156.2 880.60h2.00M184.2 880.60h2.00M196.2 880.60h2.00M240.1 880.60h2.00M264.1 880.60h2.00M368.1 880.60h2.00M588.0 880.60h2.00M84.2 893.40h2.00M92.2 893.40h2.00M112.2 893.40h2.00M206.2 893.40h2.00M252.1 893.40h2.00M346.1 893.40h4.00M402.1 893.40h2.00M450.1 893.40h2.00M520.1 893.40h2.00M548.0 893.40h2.00M588.0 893.40h2.00M240.1 906.20h2.00M284.1 970.20h2.00M434.1 970.20h2.00M142.2 1008.60h2.00M146.2 1008.60h2.00M174.2 1008.60h2.00M200.2 1008.60h2.00M208.2 1008.60h2.00M224.1 1008.60h2.00M304.1 1008.60h2.00M320.1 1008.60h2.00M326.1 1008.60h4.00M332.1 1008.60h2.00M336.1 1008.60h2.00M412.1 1008.60h2.00M444.1 1008.60h2.00M482.1 1008.60h2.00M538.0 1008.60h2.00M620.0 1008.60h4.00M638.0 1008.60h2.00M154.2 1021.40h2.00M346.1 1021.40h2.00M448.1 1021.40h2.00M486.1 1021.40h2.00M536.0 1021.40h2.00M624.0 1021.40h2.00M64.2 1034.20h2.00M94.2 1034.20h2.00M114.2 1034.20h4.00M128.2 1034.20h2.00M142.2 1034.20h2.00M168.2 1034.20h2.00M172.2 1034.20h2.00M176.2 1034.20h2.00M190.2 1034.20h2.00M196.2 1034.20h2.00M290.1 1034.20h4.00M316.1 1034.20h4.00M348.1 1034.20h2.00M354.1 1034.20h2.00M372.1 1034.20h2.00M376.1 1034.20h2.00M396.1 1034.20h2.00M418.1 1034.20h2.00M464.1 1034.20h2.00M468.1 1034.20h2.00M472.1 1034.20h2.00M494.1 1034.20h2.00M522.1 1034.20h2.00M536.0 1034.20h2.00M566.0 1034.20h2.00M586.0 1034.20h2.00M660.0 1034.20h2.00M106.2 1047.00h2.00M120.2 1047.00h2.00M128.2 1047.00h2.00M144.2 1047.00h2.00M156.2 1047.00h2.00M188.2 1047.00h2.00M212.2 1047.00h2.00M284.1 1047.00h2.00M290.1 1047.00h2.00M410.1 1047.00h2.00M448.1 1047.00h2.00M524.0 1047.00h2.00M530.0 1047.00h2.00M554.0 1047.00h2.00M564.0 1047.00h2.00M582.0 1047.00h2.00M588.0 1047.00h2.00M598.0 1047.00h2.00M630.0 1047.00h2.00M666.0 1047.00h2.00M104.2 1059.80h2.00M110.2 1059.80h2.00M134.2 1059.80h2.00M148.2 1059.80h2.00M152.2 1059.80h2.00M188.2 1059.80h2.00M204.2 1059.80h2.00M210.2 1059.80h2.00M230.1 1059.80h2.00M240.1 1059.80h2.00M252.1 1059.80h2.00M262.1 1059.80h4.00M270.1 1059.80h2.00M342.1 1059.80h2.00M348.1 1059.80h2.00M356.1 1059.80h2.00M374.1 1059.80h4.00M488.1 1059.80h2.00M498.1 1059.80h2.00M520.1 1059.80h4.00M548.0 1059.80h2.00M576.0 1059.80h2.00M582.0 1059.80h2.00M598.0 1059.80h2.00M614.0 1059.80h2.00M188.2 1072.60h2.00M372.1 1072.60h2.00M384.1 1072.60h2.00M392.1 1072.60h2.00M398.1 1072.60h2.00M468.1 1072.60h4.00M522.1 1072.60h2.00M530.0 1072.60h2.00M548.0 1072.60h2.00M624.0 1072.60h2.00M638.0 1072.60h2.00M664.0 1072.60h2.00M670.0 1072.60h2.00M64.2 1085.40h2.00M160.2 1085.40h2.00M168.2 1085.40h2.00M186.2 1085.40h2.00M256.1 1085.40h4.00M288.1 1085.40h2.00M324.1 1085.40h2.00M342.1 1085.40h2.00M348.1 1085.40h2.00M404.1 1085.40h4.00M410.1 1085.40h2.00M444.1 1085.40h2.00M452.1 1085.40h2.00M480.1 1085.40h2.00M500.1 1085.40h2.00M516.1 1085.40h2.00M528.0 1085.40h2.00M540.0 1085.40h2.00M566.0 1085.40h4.00M638.0 1085.40h2.00M130.2 1098.20h2.00M168.2 1098.20h2.00M222.1 1098.20h2.00M232.1 1098.20h2.00M272.1 1098.20h2.00M376.1 1098.20h2.00M438.1 1098.20h2.00M472.1 1098.20h2.00M538.0 1098.20h2.00M542.0 1098.20h2.00M578.0 1098.20h2.00M614.0 1098.20h2.00M146.2 1111.00h2.00M152.2 1111.00h2.00M174.2 1111.00h2.00M186.2 1111.00h2.00M232.1 1111.00h2.00M246.1 1111.00h2.00M294.1 1111.00h2.00M304.1 1111.00h2.00M330.1 1111.00h4.00M362.1 1111.00h2.00M376.1 1111.00h2.00M380.1 1111.00h4.00M406.1 1111.00h2.00M410.1 1111.00h2.00M430.1 1111.00h2.00M434.1 1111.00h2.00M458.1 1111.00h2.00M484.1 1111.00h2.00M524.0 1111.00h2.00M530.0 1111.00h2.00M562.0 1111.00h2.00M610.0 1111.00h2.00M616.0 1111.00h2.00M624.0 1111.00h2.00M646.0 1111.00h2.00M112.2 1123.80h2.00M120.2 1123.80h2.00M154.2 1123.80h2.00M252.1 1123.80h2.00M282.1 1123.80h2.00M288.1 1123.80h2.00M312.1 1123.80h2.00M450.1 1123.80h2.00M482.1 1123.80h2.00M536.0 1123.80h2.00M554.0 1123.80h2.00M588.0 1123.80h2.00M618.0 1123.80h2.00M670.0 1123.80h2.00M90.2 1136.60h2.00M120.2 1136.60h2.00M134.2 1136.60h2.00M186.2 1136.60h2.00M212.2 1136.60h2.00M240.1 1136.60h2.00M252.1 1136.60h2.00M262.1 1136.60h2.00M268.1 1136.60h2.00M276.1 1136.60h2.00M288.1 1136.60h2.00M332.1 1136.60h4.00M370.1 1136.60h2.00M378.1 1136.60h2.00M382.1 1136.60h2.00M410.1 1136.60h2.00M446.1 1136.60h2.00M458.1 1136.60h2.00M470.1 1136.60h2.00M476.1 1136.60h2.00M480.1 1136.60h2.00M484.1 1136.60h2.00M512.1 1136.60h2.00M524.0 1136.60h2.00M552.0 1136.60h2.00M576.0 1136.60h2.00M582.0 1136.60h2.00M588.0 1136.60h2.00M606.0 1136.60h2.00M620.0 1136.60h2.00M636.0 1136.60h2.00M642.0 1136.60h2.00M558.0 1149.40h2.00M94.2 1162.20h2.00M98.2 1162.20h2.00M106.2 1162.20h2.00M174.2 1162.20h2.00M190.2 1162.20h2.00M198.2 1162.20h2.00M204.2 1162.20h6.00M224.1 1162.20h2.00M234.1 1162.20h2.00M268.1 1162.20h2.00M282.1 1162.20h2.00M306.1 1162.20h2.00M320.1 1162.20h2.00M348.1 1162.20h2.00M366.1 1162.20h2.00M378.1 1162.20h4.00M404.1 1162.20h2.00M410.1 1162.20h2.00M474.1 1162.20h2.00M480.1 1162.20h2.00M518.1 1162.20h2.00M576.0 1162.20h2.00M584.0 1162.20h2.00M648.0 1162.20h2.00M224.1 1187.80h2.00M598.0 1187.80h2.00M60.2 1200.60h8.00M114.2 1200.60h2.00M120.2 1200.60h2.00M150.2 1200.60h2.00M162.2 1200.60h2.00M186.2 1200.60h2.00M194.2 1200.60h2.00M212.2 1200.60h4.00M224.1 1200.60h2.00M234.1 1200.60h2.00M244.1 1200.60h2.00M294.1 1200.60h2.00M302.1 1200.60h4.00M322.1 1200.60h2.00M344.1 1200.60h2.00M356.1 1200.60h2.00M376.1 1200.60h2.00M408.1 1200.60h2.00M442.1 1200.60h2.00M466.1 1200.60h2.00M472.1 1200.60h2.00M478.1 1200.60h2.00M500.1 1200.60h4.00M506.1 1200.60h2.00M518.1 1200.60h2.00M526.0 1200.60h2.00M536.0 1200.60h2.00M542.0 1200.60h2.00M554.0 1200.60h2.00M580.0 1200.60h2.00M624.0 1200.60h2.00M656.0 1200.60h2.00M70.2 1213.40h2.00M94.2 1213.40h2.00M146.2 1213.40h2.00M150.2 1213.40h2.00M178.2 1213.40h2.00M192.2 1213.40h2.00M268.1 1213.40h6.00M288.1 1213.40h2.00M308.1 1213.40h2.00M372.1 1213.40h2.00M388.1 1213.40h2.00M446.1 1213.40h2.00M486.1 1213.40h2.00M518.1 1213.40h2.00M540.0 1213.40h2.00M552.0 1213.40h2.00M590.0 1213.40h2.00M626.0 1213.40h2.00M632.0 1213.40h2.00M670.0 1213.40h2.00M76.2 1226.20h2.00M84.2 1226.20h2.00M106.2 1226.20h2.00M136.2 1226.20h2.00M168.2 1226.20h2.00M248.1 1226.20h2.00M284.1 1226.20h2.00M296.1 1226.20h2.00M314.1 1226.20h2.00M416.1 1226.20h2.00M420.1 1226.20h2.00M536.0 1226.20h2.00M544.0 1226.20h2.00M562.0 1226.20h2.00M570.0 1226.20h2.00M618.0 1226.20h2.00M102.2 1239.00h2.00M112.2 1239.00h2.00M158.2 1239.00h4.00M212.2 1239.00h4.00M240.1 1239.00h2.00M250.1 1239.00h2.00M282.1 1239.00h2.00M340.1 1239.00h2.00M366.1 1239.00h4.00M416.1 1239.00h2.00M426.1 1239.00h2.00M460.1 1239.00h2.00M504.1 1239.00h2.00M516.1 1239.00h2.00M530.0 1239.00h4.00M558.0 1239.00h2.00M594.0 1239.00h2.00M618.0 1239.00h2.00M622.0 1239.00h2.00M64.2 1251.80h2.00M114.2 1251.80h2.00M124.2 1251.80h8.00M134.2 1251.80h4.00M164.2 1251.80h2.00M186.2 1251.80h2.00M192.2 1251.80h2.00M200.2 1251.80h2.00M208.2 1251.80h2.00M226.1 1251.80h2.00M234.1 1251.80h2.00M268.1 1251.80h2.00M274.1 1251.80h2.00M278.1 1251.80h2.00M286.1 1251.80h2.00M316.1 1251.80h2.00M324.1 1251.80h2.00M340.1 1251.80h2.00M388.1 1251.80h4.00M394.1 1251.80h2.00M406.1 1251.80h2.00M434.1 1251.80h4.00M468.1 1251.80h2.00M516.1 1251.80h2.00M552.0 1251.80h2.00M558.0 1251.80h2.00M562.0 1251.80h2.00M566.0 1251.80h2.00M574.0 1251.80h2.00M592.0 1251.80h2.00M606.0 1251.80h6.00M620.0 1251.80h2.00M636.0 1251.80h2.00M656.0 1251.80h2.00M672.0 1251.80h2.00M104.2 1264.60h2.00M126.2 1264.60h2.00M180.2 1264.60h2.00M190.2 1264.60h2.00M216.1 1264.60h2.00M226.1 1264.60h2.00M238.1 1264.60h2.00M250.1 1264.60h2.00M260.1 1264.60h2.00M266.1 1264.60h2.00M328.1 1264.60h2.00M354.1 1264.60h2.00M358.1 1264.60h2.00M388.1 1264.60h4.00M404.1 1264.60h6.00M420.1 1264.60h2.00M436.1 1264.60h2.00M442.1 1264.60h2.00M480.1 1264.60h2.00M486.1 1264.60h2.00M510.1 1264.60h2.00M532.0 1264.60h2.00M574.0 1264.60h2.00M580.0 1264.60h2.00M610.0 1264.60h2.00M646.0 1264.60h2.00M656.0 1264.60h2.00M668.0 1264.60h2.00M72.2 1277.40h2.00M86.2 1277.40h2.00M104.2 1277.40h2.00M116.2 1277.40h2.00M120.2 1277.40h2.00M156.2 1277.40h2.00M168.2 1277.40h2.00M192.2 1277.40h2.00M202.2 1277.40h2.00M214.2 1277.40h2.00M232.1 1277.40h4.00M238.1 1277.40h2.00M258.1 1277.40h2.00M280.1 1277.40h2.00M294.1 1277.40h2.00M318.1 1277.40h2.00M332.1 1277.40h2.00M364.1 1277.40h2.00M374.1 1277.40h2.00M378.1 1277.40h2.00M384.1 1277.40h2.00M420.1 1277.40h4.00M426.1 1277.40h2.00M436.1 1277.40h2.00M472.1 1277.40h2.00M504.1 1277.40h6.00M534.0 1277.40h2.00M572.0 1277.40h2.00M578.0 1277.40h2.00M640.0 1277.40h2.00"/>
<path stroke="#efd78b" d="M110.2 778.20h2.00M132.2 778.20h2.00M164.2 778.20h2.00M194.2 778.20h2.00M202.2 778.20h2.00M220.1 778.20h2.00M246.1 778.20h2.00M290.1 778.20h2.00M340.1 778.20h2.00M358.1 778.20h2.00M476.1 778.20h2.00M524.0 778.20h2.00M554.0 778.20h2.00M620.0 778.20h2.00M110.2 791.00h4.00M128.2 791.00h2.00M138.2 791.00h2.00M176.2 791.00h2.00M198.2 791.00h2.00M250.1 791.00h4.00M312.1 791.00h2.00M366.1 791.00h2.00M438.1 791.00h2.00M460.1 791.00h2.00M468.1 791.00h4.00M476.1 791.00h2.00M480.1 791.00h2.00M492.1 791.00h2.00M500.1 791.00h2.00M534.0 791.00h2.00M656.0 791.00h2.00M666.0 791.00h2.00M200.2 803.80h2.00M208.2 803.80h2.00M224.1 803.80h2.00M316.1 803.80h2.00M336.1 803.80h2.00M348.1 803.80h2.00M366.1 803.80h2.00M512.1 803.80h2.00M144.2 816.60h2.00M156.2 816.60h2.00M168.2 816.60h2.00M178.2 816.60h2.00M184.2 816.60h2.00M234.1 816.60h2.00M238.1 816.60h4.00M248.1 816.60h2.00M254.1 816.60h2.00M258.1 816.60h2.00M276.1 816.60h2.00M308.1 816.60h2.00M346.1 816.60h4.00M642.0 816.60h2.00M96.2 829.40h2.00M110.2 829.40h2.00M114.2 829.40h2.00M128.2 829.40h2.00M188.2 829.40h2.00M198.2 829.40h2.00M212.2 829.40h2.00M222.1 829.40h2.00M232.1 829.40h2.00M252.1 829.40h2.00M272.1 829.40h2.00M286.1 829.40h2.00M360.1 829.40h2.00M404.1 829.40h2.00M416.1 829.40h2.00M430.1 829.40h2.00M540.0 829.40h2.00M604.0 829.40h2.00M612.0 829.40h2.00M78.2 842.20h4.00M100.2 842.20h2.00M114.2 842.20h2.00M122.2 842.20h2.00M128.2 842.20h2.00M138.2 842.20h2.00M158.2 842.20h2.00M228.1 842.20h4.00M234.1 842.20h2.00M238.1 842.20h2.00M250.1 842.20h2.00M266.1 842.20h2.00M270.1 842.20h2.00M278.1 842.20h2.00M284.1 842.20h2.00M326.1 842.20h2.00M370.1 842.20h2.00M390.1 842.20h2.00M422.1 842.20h4.00M436.1 842.20h4.00M450.1 842.20h2.00M472.1 842.20h2.00M506.1 842.20h2.00M514.1 842.20h2.00M552.0 842.20h2.00M558.0 842.20h2.00M562.0 842.20h2.00M572.0 842.20h2.00M576.0 842.20h2.00M598.0 842.20h2.00M602.0 842.20h2.00M612.0 842.20h2.00M616.0 842.20h2.00M620.0 842.20h2.00M626.0 842.20h2.00M644.0 842.20h6.00M652.0 842.20h2.00M656.0 842.20h2.00M664.0 842.20h2.00M672.0 842.20h2.00M82.2 855.00h2.00M100.2 855.00h2.00M112.2 855.00h2.00M120.2 855.00h4.00M128.2 855.00h4.00M134.2 855.00h2.00M158.2 855.00h2.00M176.2 855.00h2.00M188.2 855.00h2.00M196.2 855.00h4.00M232.1 855.00h2.00M272.1 855.00h2.00M292.1 855.00h2.00M298.1 855.00h4.00M342.1 855.00h2.00M354.1 855.00h4.00M370.1 855.00h2.00M374.1 855.00h2.00M394.1 855.00h2.00M434.1 855.00h2.00M448.1 855.00h2.00M466.1 855.00h2.00M476.1 855.00h2.00M564.0 855.00h2.00M568.0 855.00h2.00M574.0 855.00h2.00M582.0 855.00h2.00M602.0 855.00h2.00M612.0 855.00h2.00M616.0 855.00h2.00M638.0 855.00h2.00M646.0 855.00h2.00M664.0 855.00h4.00M670.0 855.00h2.00M60.2 867.80h2.00M70.2 867.80h2.00M74.2 867.80h2.00M80.2 867.80h2.00M92.2 867.80h2.00M98.2 867.80h2.00M122.2 867.80h2.00M132.2 867.80h2.00M140.2 867.80h2.00M162.2 867.80h2.00M178.2 867.80h2.00M192.2 867.80h4.00M198.2 867.80h2.00M208.2 867.80h2.00M246.1 867.80h2.00M278.1 867.80h2.00M284.1 867.80h2.00M288.1 867.80h2.00M312.1 867.80h4.00M318.1 867.80h2.00M322.1 867.80h2.00M336.1 867.80h2.00M362.1 867.80h2.00M394.1 867.80h2.00M402.1 867.80h2.00M424.1 867.80h2.00M456.1 867.80h2.00M476.1 867.80h2.00M488.1 867.80h6.00M516.1 867.80h2.00M524.0 867.80h2.00M530.0 867.80h2.00M540.0 867.80h2.00M550.0 867.80h2.00M562.0 867.80h2.00M576.0 867.80h4.00M582.0 867.80h2.00M596.0 867.80h2.00M610.0 867.80h2.00M614.0 867.80h6.00M626.0 867.80h2.00M646.0 867.80h2.00M74.2 880.60h2.00M82.2 880.60h2.00M102.2 880.60h2.00M106.2 880.60h2.00M174.2 880.60h4.00M192.2 880.60h2.00M216.1 880.60h2.00M220.1 880.60h2.00M254.1 880.60h2.00M260.1 880.60h2.00M290.1 880.60h2.00M310.1 880.60h2.00M318.1 880.60h2.00M336.1 880.60h2.00M342.1 880.60h2.00M364.1 880.60h2.00M370.1 880.60h2.00M380.1 880.60h2.00M386.1 880.60h2.00M404.1 880.60h2.00M418.1 880.60h2.00M422.1 880.60h2.00M428.1 880.60h2.00M440.1 880.60h4.00M480.1 880.60h2.00M498.1 880.60h2.00M502.1 880.60h2.00M530.0 880.60h2.00M534.0 880.60h2.00M540.0 880.60h2.00M564.0 880.60h4.00M586.0 880.60h2.00M592.0 880.60h2.00M596.0 880.60h4.00M610.0 880.60h2.00M626.0 880.60h2.00M642.0 880.60h4.00M652.0 880.60h2.00M662.0 880.60h2.00M672.0 880.60h2.00M76.2 893.40h2.00M80.2 893.40h2.00M98.2 893.40h2.00M104.2 893.40h2.00M110.2 893.40h2.00M150.2 893.40h2.00M202.2 893.40h2.00M208.2 893.40h2.00M214.2 893.40h2.00M224.1 893.40h4.00M236.1 893.40h2.00M248.1 893.40h2.00M254.1 893.40h4.00M264.1 893.40h4.00M282.1 893.40h2.00M286.1 893.40h2.00M296.1 893.40h2.00M328.1 893.40h2.00M334.1 893.40h2.00M344.1 893.40h2.00M358.1 893.40h4.00M368.1 893.40h2.00M380.1 893.40h4.00M390.1 893.40h2.00M418.1 893.40h4.00M424.1 893.40h4.00M438.1 893.40h2.00M462.1 893.40h2.00M466.1 893.40h2.00M476.1 893.40h2.00M480.1 893.40h2.00M492.1 893.40h2.00M498.1 893.40h2.00M528.0 893.40h2.00M532.0 893.40h2.00M546.0 893.40h2.00M554.0 893.40h2.00M564.0 893.40h2.00M572.0 893.40h2.00M592.0 893.40h2.00M598.0 893.40h2.00M632.0 893.40h2.00M640.0 893.40h2.00M646.0 893.40h6.00M664.0 893.40h2.00M82.2 906.20h2.00M100.2 906.20h2.00M110.2 906.20h2.00M116.2 906.20h2.00M140.2 906.20h2.00M148.2 906.20h2.00M168.2 906.20h6.00M176.2 906.20h2.00M184.2 906.20h2.00M188.2 906.20h2.00M222.1 906.20h2.00M238.1 906.20h2.00M260.1 906.20h4.00M268.1 906.20h2.00M290.1 906.20h2.00M320.1 906.20h2.00M336.1 906.20h4.00M342.1 906.20h2.00M350.1 906.20h2.00M354.1 906.20h2.00M374.1 906.20h2.00M378.1 906.20h4.00M392.1 906.20h4.00M414.1 906.20h2.00M422.1 906.20h2.00M430.1 906.20h2.00M442.1 906.20h2.00M448.1 906.20h2.00M454.1 906.20h2.00M518.1 906.20h2.00M542.0 906.20h2.00M548.0 906.20h2.00M554.0 906.20h2.00M558.0 906.20h2.00M564.0 906.20h2.00M590.0 906.20h2.00M612.0 906.20h2.00M616.0 906.20h2.00M638.0 906.20h2.00M666.0 906.20h2.00M92.2 919.00h2.00M112.2 919.00h2.00M146.2 919.00h4.00M158.2 919.00h2.00M176.2 919.00h2.00M248.1 919.00h2.00M284.1 919.00h2.00M392.1 919.00h2.00M524.0 919.00h2.00M528.0 919.00h4.00M600.0 919.00h2.00M670.0 919.00h2.00M70.2 931.80h2.00M90.2 931.80h2.00M126.2 931.80h2.00M226.1 931.80h2.00M278.1 931.80h2.00M290.1 931.80h2.00M324.1 931.80h2.00M354.1 931.80h2.00M360.1 931.80h2.00M364.1 931.80h2.00M386.1 931.80h4.00M400.1 931.80h2.00M418.1 931.80h2.00M444.1 931.80h2.00M512.1 931.80h2.00M544.0 931.80h2.00M606.0 931.80h2.00M184.2 944.60h2.00M206.2 944.60h2.00M332.1 944.60h2.00M340.1 944.60h2.00M402.1 944.60h2.00M448.1 944.60h2.00M484.1 944.60h2.00M556.0 944.60h2.00M120.2 957.40h2.00M158.2 957.40h2.00M176.2 957.40h4.00M196.2 957.40h4.00M220.1 957.40h2.00M394.1 957.40h2.00M410.1 957.40h2.00M454.1 957.40h4.00M494.1 957.40h2.00M548.0 957.40h2.00M560.0 957.40h2.00M588.0 957.40h2.00M616.0 957.40h2.00M658.0 957.40h2.00M64.2 970.20h2.00M86.2 970.20h2.00M92.2 970.20h2.00M102.2 970.20h2.00M164.2 970.20h2.00M178.2 970.20h2.00M206.2 970.20h2.00M250.1 970.20h2.00M298.1 970.20h2.00M334.1 970.20h2.00M378.1 970.20h2.00M410.1 970.20h2.00M524.0 970.20h2.00M560.0 970.20h2.00M570.0 970.20h2.00M588.0 970.20h2.00M606.0 970.20h2.00M614.0 970.20h2.00M618.0 970.20h2.00M80.2 983.00h2.00M120.2 983.00h2.00M124.2 983.00h2.00M132.2 983.00h4.00M140.2 983.00h2.00M152.2 983.00h2.00M164.2 983.00h2.00M186.2 983.00h2.00M212.2 983.00h2.00M232.1 983.00h2.00M382.1 983.00h2.00M392.1 983.00h4.00M448.1 983.00h2.00M458.1 983.00h2.00M470.1 983.00h2.00M490.1 983.00h2.00M514.1 983.00h2.00M524.0 983.00h2.00M556.0 983.00h2.00M604.0 983.00h2.00M624.0 983.00h2.00M628.0 983.00h2.00M82.2 995.80h2.00M98.2 995.80h2.00M102.2 995.80h2.00M110.2 995.80h2.00M124.2 995.80h2.00M134.2 995.80h2.00M154.2 995.80h2.00M208.2 995.80h2.00M214.2 995.80h2.00M264.1 995.80h2.00M284.1 995.80h2.00M288.1 995.80h2.00M310.1 995.80h2.00M330.1 995.80h4.00M340.1 995.80h2.00M350.1 995.80h2.00M358.1 995.80h2.00M438.1 995.80h2.00M458.1 995.80h2.00M500.1 995.80h2.00M510.1 995.80h2.00M520.1 995.80h2.00M550.0 995.80h2.00M560.0 995.80h2.00M564.0 995.80h2.00M580.0 995.80h2.00M590.0 995.80h2.00M624.0 995.80h2.00M636.0 995.80h2.00M640.0 995.80h2.00M650.0 995.80h2.00M88.2 1008.60h2.00M92.2 1008.60h2.00M106.2 1008.60h2.00M118.2 1008.60h4.00M126.2 1008.60h2.00M152.2 1008.60h2.00M184.2 1008.60h2.00M210.2 1008.60h2.00M214.2 1008.60h2.00M244.1 1008.60h2.00M252.1 1008.60h8.00M302.1 1008.60h2.00M318.1 1008.60h2.00M342.1 1008.60h2.00M366.1 1008.60h2.00M396.1 1008.60h2.00M420.1 1008.60h2.00M466.1 1008.60h2.00M472.1 1008.60h4.00M484.1 1008.60h2.00M578.0 1008.60h2.00M616.0 1008.60h2.00M232.1 1021.40h2.00M258.1 1021.40h2.00M284.1 1021.40h2.00M372.1 1021.40h2.00M412.1 1021.40h2.00M474.1 1021.40h2.00M514.1 1021.40h2.00M622.0 1021.40h2.00M636.0 1021.40h2.00M654.0 1021.40h2.00M68.2 1034.20h2.00M112.2 1034.20h2.00M120.2 1034.20h2.00M204.2 1034.20h2.00M210.2 1034.20h2.00M256.1 1034.20h2.00M278.1 1034.20h2.00M306.1 1034.20h2.00M312.1 1034.20h2.00M336.1 1034.20h2.00M340.1 1034.20h2.00M350.1 1034.20h2.00M358.1 1034.20h2.00M382.1 1034.20h2.00M386.1 1034.20h2.00M410.1 1034.20h2.00M440.1 1034.20h2.00M504.1 1034.20h2.00M508.1 1034.20h2.00M514.1 1034.20h2.00M552.0 1034.20h2.00M562.0 1034.20h2.00M570.0 1034.20h2.00M574.0 1034.20h2.00M596.0 1034.20h2.00M610.0 1034.20h4.00M618.0 1034.20h2.00M638.0 1034.20h2.00M662.0 1034.20h2.00M118.2 1047.00h2.00M192.2 1047.00h2.00M202.2 1047.00h2.00M208.2 1047.00h2.00M216.1 1047.00h2.00M356.1 1047.00h2.00M398.1 1047.00h2.00M416.1 1047.00h2.00M438.1 1047.00h2.00M442.1 1047.00h4.00M452.1 1047.00h2.00M496.1 1047.00h2.00M512.1 1047.00h2.00M526.0 1047.00h2.00M558.0 1047.00h2.00M580.0 1047.00h2.00M594.0 1047.00h2.00M632.0 1047.00h2.00M668.0 1047.00h4.00M60.2 1059.80h2.00M88.2 1059.80h2.00M118.2 1059.80h2.00M130.2 1059.80h2.00M140.2 1059.80h2.00M154.2 1059.80h4.00M164.2 1059.80h2.00M198.2 1059.80h4.00M214.2 1059.80h2.00M228.1 1059.80h2.00M234.1 1059.80h4.00M250.1 1059.80h2.00M336.1 1059.80h2.00M412.1 1059.80h2.00M432.1 1059.80h2.00M478.1 1059.80h2.00M494.1 1059.80h4.00M542.0 1059.80h4.00M550.0 1059.80h2.00M566.0 1059.80h2.00M574.0 1059.80h2.00M590.0 1059.80h2.00M116.2 1072.60h2.00M158.2 1072.60h2.00M180.2 1072.60h2.00M202.2 1072.60h2.00M214.2 1072.60h2.00M272.1 1072.60h2.00M286.1 1072.60h2.00M302.1 1072.60h2.00M306.1 1072.60h2.00M310.1 1072.60h4.00M344.1 1072.60h2.00M378.1 1072.60h4.00M414.1 1072.60h2.00M424.1 1072.60h2.00M460.1 1072.60h2.00M488.1 1072.60h2.00M510.1 1072.60h4.00M532.0 1072.60h8.00M606.0 1072.60h4.00M644.0 1072.60h2.00M648.0 1072.60h2.00M668.0 1072.60h2.00M110.2 1085.40h2.00M130.2 1085.40h2.00M230.1 1085.40h2.00M286.1 1085.40h2.00M294.1 1085.40h2.00M360.1 1085.40h2.00M418.1 1085.40h4.00M428.1 1085.40h2.00M438.1 1085.40h2.00M454.1 1085.40h2.00M510.1 1085.40h2.00M530.0 1085.40h2.00M570.0 1085.40h2.00M648.0 1085.40h2.00M68.2 1098.20h2.00M82.2 1098.20h2.00M88.2 1098.20h2.00M94.2 1098.20h2.00M100.2 1098.20h2.00M108.2 1098.20h4.00M116.2 1098.20h2.00M134.2 1098.20h2.00M146.2 1098.20h2.00M152.2 1098.20h4.00M184.2 1098.20h2.00M188.2 1098.20h2.00M224.1 1098.20h2.00M244.1 1098.20h2.00M252.1 1098.20h2.00M264.1 1098.20h2.00M280.1 1098.20h4.00M302.1 1098.20h4.00M308.1 1098.20h2.00M324.1 1098.20h2.00M332.1 1098.20h2.00M338.1 1098.20h2.00M356.1 1098.20h2.00M370.1 1098.20h2.00M388.1 1098.20h2.00M398.1 1098.20h2.00M402.1 1098.20h2.00M470.1 1098.20h2.00M504.1 1098.20h4.00M552.0 1098.20h2.00M572.0 1098.20h2.00M610.0 1098.20h2.00M650.0 1098.20h2.00M676.0 1098.20h2.00M62.2 1111.00h2.00M70.2 1111.00h2.00M78.2 1111.00h2.00M86.2 1111.00h2.00M114.2 1111.00h4.00M142.2 1111.00h2.00M192.2 1111.00h2.00M200.2 1111.00h2.00M220.1 1111.00h2.00M262.1 1111.00h2.00M278.1 1111.00h2.00M308.1 1111.00h2.00M408.1 1111.00h2.00M444.1 1111.00h2.00M462.1 1111.00h2.00M504.1 1111.00h2.00M538.0 1111.00h2.00M546.0 1111.00h2.00M550.0 1111.00h2.00M608.0 1111.00h2.00M650.0 1111.00h2.00M660.0 1111.00h2.00M674.0 1111.00h2.00M76.2 1123.80h2.00M104.2 1123.80h2.00M116.2 1123.80h4.00M130.2 1123.80h2.00M148.2 1123.80h2.00M158.2 1123.80h2.00M168.2 1123.80h2.00M244.1 1123.80h2.00M292.1 1123.80h2.00M320.1 1123.80h2.00M330.1 1123.80h2.00M344.1 1123.80h2.00M368.1 1123.80h2.00M386.1 1123.80h2.00M400.1 1123.80h2.00M418.1 1123.80h2.00M426.1 1123.80h2.00M462.1 1123.80h4.00M492.1 1123.80h4.00M500.1 1123.80h2.00M508.1 1123.80h2.00M542.0 1123.80h2.00M596.0 1123.80h2.00M656.0 1123.80h2.00M664.0 1123.80h2.00M672.0 1123.80h2.00M64.2 1136.60h2.00M74.2 1136.60h2.00M78.2 1136.60h2.00M114.2 1136.60h2.00M118.2 1136.60h2.00M128.2 1136.60h2.00M170.2 1136.60h4.00M180.2 1136.60h2.00M192.2 1136.60h2.00M216.1 1136.60h2.00M278.1 1136.60h2.00M292.1 1136.60h2.00M372.1 1136.60h2.00M390.1 1136.60h2.00M424.1 1136.60h2.00M436.1 1136.60h2.00M460.1 1136.60h2.00M496.1 1136.60h2.00M506.1 1136.60h2.00M594.0 1136.60h2.00M612.0 1136.60h2.00M640.0 1136.60h2.00M674.0 1136.60h2.00M398.1 1162.20h2.00M562.0 1162.20h2.00M598.0 1162.20h2.00M672.0 1162.20h2.00M96.2 1200.60h2.00M148.2 1200.60h2.00M272.1 1200.60h2.00M392.1 1200.60h2.00M448.1 1200.60h2.00M556.0 1200.60h2.00M578.0 1200.60h2.00M596.0 1200.60h2.00M674.0 1200.60h2.00M558.0 1213.40h2.00M646.0 1213.40h2.00M96.2 1226.20h2.00M158.2 1226.20h2.00M298.1 1226.20h2.00M116.2 1239.00h2.00M138.2 1239.00h2.00M324.1 1239.00h2.00M526.0 1239.00h2.00M78.2 1251.80h2.00M90.2 1251.80h2.00M112.2 1251.80h2.00M120.2 1251.80h2.00M182.2 1251.80h2.00M214.2 1251.80h2.00M410.1 1251.80h2.00M570.0 1251.80h2.00M654.0 1251.80h2.00M478.1 1264.60h2.00M598.0 1264.60h2.00M296.1 1277.40h2.00M480.1 1277.40h2.00"/>
<path stroke="#f5f0b1" d="M116.2 778.20h2.00M122.2 791.00h2.00M238.1 791.00h2.00M590.0 791.00h2.00M620.0 791.00h2.00M144.2 829.40h2.00M246.1 842.20h2.00M64.2 1008.60h2.00M222.1 1008.60h2.00M348.1 1008.60h2.00M488.1 1008.60h2.00M544.0 1008.60h2.00M658.0 1008.60h2.00M676.0 1008.60h2.00M76.2 1034.20h2.00M102.2 1034.20h2.00M138.2 1034.20h2.00M194.2 1034.20h2.00M222.1 1034.20h2.00M232.1 1034.20h2.00M302.1 1034.20h2.00M326.1 1034.20h2.00M404.1 1034.20h2.00M438.1 1034.20h2.00M512.1 1034.20h2.00M528.0 1034.20h2.00M534.0 1034.20h2.00M542.0 1034.20h2.00M556.0 1034.20h2.00M636.0 1034.20h2.00M644.0 1034.20h2.00M656.0 1034.20h2.00M222.1 1047.00h2.00M240.1 1047.00h2.00M376.1 1047.00h2.00M470.1 1047.00h2.00M552.0 1047.00h2.00M92.2 1059.80h2.00M102.2 1059.80h2.00M108.2 1059.80h2.00M276.1 1059.80h2.00M284.1 1059.80h2.00M346.1 1059.80h2.00M448.1 1059.80h2.00M636.0 1059.80h2.00M346.1 1072.60h2.00M410.1 1072.60h2.00M440.1 1072.60h2.00M556.0 1072.60h2.00M610.0 1072.60h2.00M630.0 1072.60h2.00M72.2 1085.40h2.00M92.2 1085.40h2.00M132.2 1085.40h2.00M140.2 1085.40h2.00M146.2 1085.40h2.00M150.2 1085.40h2.00M196.2 1085.40h2.00M222.1 1085.40h2.00M228.1 1085.40h2.00M276.1 1085.40h2.00M310.1 1085.40h2.00M330.1 1085.40h2.00M354.1 1085.40h2.00M396.1 1085.40h2.00M412.1 1085.40h2.00M472.1 1085.40h2.00M538.0 1085.40h2.00M552.0 1085.40h2.00M636.0 1085.40h2.00M664.0 1085.40h2.00M212.2 1098.20h2.00M328.1 1098.20h2.00M412.1 1098.20h2.00M646.0 1098.20h2.00M84.2 1111.00h2.00M204.2 1111.00h2.00M218.1 1111.00h2.00M258.1 1111.00h2.00M276.1 1111.00h2.00M346.1 1111.00h2.00M416.1 1111.00h2.00M448.1 1111.00h2.00M520.1 1111.00h2.00M602.0 1111.00h2.00M670.0 1111.00h2.00M84.2 1123.80h2.00M232.1 1123.80h2.00M376.1 1123.80h2.00M384.1 1123.80h2.00M532.0 1123.80h2.00M560.0 1123.80h2.00M92.2 1136.60h2.00M136.2 1136.60h2.00M152.2 1136.60h2.00M242.1 1136.60h2.00M282.1 1136.60h2.00M376.1 1136.60h2.00M392.1 1136.60h2.00M406.1 1136.60h2.00M454.1 1136.60h4.00M508.1 1136.60h2.00M532.0 1136.60h2.00M554.0 1136.60h2.00M562.0 1136.60h2.00M568.0 1136.60h2.00M584.0 1136.60h2.00M602.0 1136.60h2.00M76.2 1149.40h2.00M494.1 1149.40h2.00M516.1 1149.40h2.00M64.2 1162.20h2.00M72.2 1162.20h2.00M82.2 1162.20h2.00M90.2 1162.20h2.00M100.2 1162.20h2.00M118.2 1162.20h2.00M126.2 1162.20h2.00M138.2 1162.20h2.00M164.2 1162.20h2.00M172.2 1162.20h2.00M210.2 1162.20h2.00M226.1 1162.20h2.00M302.1 1162.20h2.00M308.1 1162.20h2.00M314.1 1162.20h4.00M340.1 1162.20h4.00M346.1 1162.20h2.00M350.1 1162.20h2.00M360.1 1162.20h2.00M364.1 1162.20h2.00M400.1 1162.20h2.00M426.1 1162.20h2.00M434.1 1162.20h2.00M438.1 1162.20h2.00M448.1 1162.20h2.00M462.1 1162.20h2.00M484.1 1162.20h2.00M522.1 1162.20h4.00M528.0 1162.20h4.00M560.0 1162.20h2.00M568.0 1162.20h2.00M574.0 1162.20h2.00M578.0 1162.20h4.00M592.0 1162.20h2.00M604.0 1162.20h2.00M622.0 1162.20h2.00M656.0 1162.20h2.00M660.0 1162.20h2.00M90.2 1187.80h2.00M178.2 1187.80h2.00M312.1 1187.80h2.00M390.1 1187.80h2.00M560.0 1187.80h2.00M592.0 1187.80h2.00M72.2 1200.60h2.00M80.2 1200.60h2.00M90.2 1200.60h2.00M94.2 1200.60h2.00M124.2 1200.60h4.00M130.2 1200.60h2.00M178.2 1200.60h2.00M208.2 1200.60h2.00M222.1 1200.60h2.00M260.1 1200.60h2.00M306.1 1200.60h2.00M314.1 1200.60h2.00M348.1 1200.60h2.00M366.1 1200.60h4.00M372.1 1200.60h2.00M412.1 1200.60h2.00M432.1 1200.60h2.00M444.1 1200.60h2.00M452.1 1200.60h2.00M510.1 1200.60h2.00M548.0 1200.60h2.00M566.0 1200.60h2.00M574.0 1200.60h4.00M600.0 1200.60h2.00M628.0 1200.60h2.00M638.0 1200.60h2.00M644.0 1200.60h2.00M118.2 1213.40h2.00M156.2 1213.40h2.00M200.2 1213.40h2.00M216.1 1213.40h2.00M220.1 1213.40h2.00M226.1 1213.40h2.00M242.1 1213.40h2.00M262.1 1213.40h2.00M276.1 1213.40h2.00M280.1 1213.40h2.00M296.1 1213.40h2.00M310.1 1213.40h2.00M390.1 1213.40h4.00M396.1 1213.40h2.00M420.1 1213.40h2.00M436.1 1213.40h2.00M462.1 1213.40h4.00M468.1 1213.40h2.00M472.1 1213.40h2.00M502.1 1213.40h2.00M566.0 1213.40h2.00M572.0 1213.40h2.00M576.0 1213.40h2.00M596.0 1213.40h2.00M606.0 1213.40h4.00M628.0 1213.40h2.00M642.0 1213.40h2.00M660.0 1213.40h2.00M88.2 1226.20h4.00M100.2 1226.20h2.00M140.2 1226.20h2.00M144.2 1226.20h4.00M162.2 1226.20h2.00M196.2 1226.20h2.00M206.2 1226.20h2.00M254.1 1226.20h2.00M268.1 1226.20h2.00M272.1 1226.20h2.00M292.1 1226.20h2.00M348.1 1226.20h2.00M354.1 1226.20h6.00M368.1 1226.20h2.00M390.1 1226.20h2.00M398.1 1226.20h2.00M402.1 1226.20h2.00M440.1 1226.20h2.00M444.1 1226.20h2.00M486.1 1226.20h2.00M522.1 1226.20h2.00M526.0 1226.20h2.00M538.0 1226.20h4.00M566.0 1226.20h2.00M578.0 1226.20h2.00M582.0 1226.20h6.00M624.0 1226.20h2.00M632.0 1226.20h2.00M640.0 1226.20h2.00M74.2 1239.00h2.00M82.2 1239.00h2.00M90.2 1239.00h2.00M108.2 1239.00h2.00M130.2 1239.00h2.00M164.2 1239.00h2.00M190.2 1239.00h4.00M198.2 1239.00h2.00M204.2 1239.00h2.00M208.2 1239.00h2.00M216.1 1239.00h2.00M284.1 1239.00h2.00M334.1 1239.00h2.00M354.1 1239.00h2.00M358.1 1239.00h2.00M362.1 1239.00h2.00M392.1 1239.00h2.00M402.1 1239.00h2.00M442.1 1239.00h2.00M484.1 1239.00h2.00M490.1 1239.00h2.00M524.0 1239.00h2.00M540.0 1239.00h2.00M560.0 1239.00h2.00M568.0 1239.00h2.00M580.0 1239.00h2.00M606.0 1239.00h2.00M664.0 1239.00h2.00M138.2 1251.80h2.00M146.2 1251.80h2.00M154.2 1251.80h2.00M194.2 1251.80h2.00M212.2 1251.80h2.00M228.1 1251.80h2.00M246.1 1251.80h2.00M254.1 1251.80h2.00M280.1 1251.80h2.00M292.1 1251.80h2.00M308.1 1251.80h2.00M318.1 1251.80h2.00M382.1 1251.80h2.00M412.1 1251.80h2.00M424.1 1251.80h2.00M428.1 1251.80h2.00M492.1 1251.80h2.00M500.1 1251.80h2.00M512.1 1251.80h2.00M534.0 1251.80h4.00M580.0 1251.80h4.00M586.0 1251.80h2.00M666.0 1251.80h2.00M60.2 1264.60h2.00M114.2 1264.60h2.00M120.2 1264.60h2.00M130.2 1264.60h2.00M136.2 1264.60h2.00M208.2 1264.60h2.00M214.2 1264.60h2.00M224.1 1264.60h2.00M228.1 1264.60h2.00M252.1 1264.60h2.00M264.1 1264.60h2.00M268.1 1264.60h2.00M296.1 1264.60h2.00M304.1 1264.60h2.00M330.1 1264.60h2.00M338.1 1264.60h2.00M342.1 1264.60h2.00M350.1 1264.60h2.00M370.1 1264.60h2.00M378.1 1264.60h2.00M410.1 1264.60h2.00M418.1 1264.60h2.00M426.1 1264.60h2.00M472.1 1264.60h2.00M564.0 1264.60h2.00M568.0 1264.60h2.00M576.0 1264.60h4.00M592.0 1264.60h4.00M652.0 1264.60h2.00M60.2 1277.40h2.00M68.2 1277.40h2.00M90.2 1277.40h2.00M110.2 1277.40h2.00M148.2 1277.40h2.00M174.2 1277.40h2.00M184.2 1277.40h2.00M188.2 1277.40h2.00M218.1 1277.40h2.00M222.1 1277.40h2.00M230.1 1277.40h2.00M250.1 1277.40h2.00M264.1 1277.40h2.00M272.1 1277.40h4.00M282.1 1277.40h2.00M300.1 1277.40h2.00M306.1 1277.40h2.00M310.1 1277.40h2.00M334.1 1277.40h2.00M340.1 1277.40h2.00M372.1 1277.40h2.00M390.1 1277.40h2.00M408.1 1277.40h2.00M430.1 1277.40h2.00M440.1 1277.40h2.00M444.1 1277.40h2.00M498.1 1277.40h2.00M530.0 1277.40h2.00M542.0 1277.40h2.00M554.0 1277.40h2.00M564.0 1277.40h2.00M588.0 1277.40h2.00M606.0 1277.40h2.00M612.0 1277.40h2.00M618.0 1277.40h2.00M634.0 1277.40h2.00M648.0 1277.40h2.00M652.0 1277.40h4.00"/>
<path stroke="#f0db90" d="M142.2 778.20h2.00M180.2 778.20h2.00M208.2 778.20h2.00M498.1 778.20h2.00M556.0 778.20h2.00M70.2 791.00h2.00M84.2 791.00h2.00M132.2 791.00h2.00M144.2 791.00h2.00M166.2 791.00h2.00M192.2 791.00h2.00M214.2 791.00h2.00M280.1 791.00h2.00M286.1 791.00h2.00M310.1 791.00h2.00M320.1 791.00h2.00M328.1 791.00h2.00M352.1 791.00h2.00M424.1 791.00h2.00M436.1 791.00h2.00M482.1 791.00h2.00M486.1 791.00h2.00M502.1 791.00h2.00M516.1 791.00h2.00M562.0 791.00h2.00M594.0 791.00h2.00M612.0 791.00h2.00M640.0 791.00h2.00M650.0 791.00h2.00M654.0 791.00h2.00M664.0 791.00h2.00M676.0 791.00h2.00M214.2 803.80h2.00M354.1 803.80h2.00M364.1 803.80h2.00M82.2 816.60h4.00M104.2 816.60h2.00M126.2 816.60h6.00M166.2 816.60h2.00M224.1 816.60h2.00M256.1 816.60h2.00M270.1 816.60h2.00M310.1 816.60h2.00M334.1 816.60h4.00M360.1 816.60h2.00M364.1 816.60h2.00M426.1 816.60h2.00M656.0 816.60h2.00M64.2 829.40h2.00M92.2 829.40h2.00M98.2 829.40h2.00M140.2 829.40h2.00M240.1 829.40h2.00M332.1 829.40h4.00M344.1 829.40h2.00M354.1 829.40h2.00M392.1 829.40h2.00M466.1 829.40h2.00M596.0 829.40h2.00M60.2 842.20h4.00M66.2 842.20h2.00M88.2 842.20h2.00M110.2 842.20h2.00M118.2 842.20h2.00M124.2 842.20h2.00M140.2 842.20h2.00M148.2 842.20h2.00M154.2 842.20h2.00M166.2 842.20h2.00M170.2 842.20h2.00M178.2 842.20h2.00M188.2 842.20h2.00M202.2 842.20h2.00M206.2 842.20h2.00M212.2 842.20h2.00M216.1 842.20h2.00M236.1 842.20h2.00M258.1 842.20h2.00M262.1 842.20h4.00M276.1 842.20h2.00M292.1 842.20h2.00M302.1 842.20h2.00M312.1 842.20h2.00M358.1 842.20h2.00M362.1 842.20h2.00M366.1 842.20h2.00M372.1 842.20h2.00M382.1 842.20h2.00M448.1 842.20h2.00M454.1 842.20h2.00M468.1 842.20h2.00M492.1 842.20h2.00M500.1 842.20h2.00M522.1 842.20h2.00M526.0 842.20h2.00M534.0 842.20h4.00M540.0 842.20h2.00M546.0 842.20h2.00M554.0 842.20h2.00M580.0 842.20h2.00M588.0 842.20h2.00M596.0 842.20h2.00M606.0 842.20h4.00M624.0 842.20h2.00M638.0 842.20h2.00M660.0 842.20h2.00M98.2 855.00h2.00M144.2 855.00h2.00M168.2 855.00h2.00M182.2 855.00h2.00M186.2 855.00h2.00M332.1 855.00h2.00M346.1 855.00h2.00M458.1 855.00h2.00M508.1 855.00h2.00M514.1 855.00h2.00M556.0 855.00h2.00M560.0 855.00h2.00M584.0 855.00h2.00M614.0 855.00h2.00M66.2 867.80h4.00M94.2 867.80h2.00M116.2 867.80h2.00M142.2 867.80h2.00M186.2 867.80h2.00M236.1 867.80h2.00M240.1 867.80h2.00M256.1 867.80h2.00M356.1 867.80h2.00M376.1 867.80h2.00M406.1 867.80h2.00M450.1 867.80h2.00M466.1 867.80h2.00M470.1 867.80h4.00M498.1 867.80h2.00M556.0 867.80h2.00M594.0 867.80h2.00M600.0 867.80h2.00M620.0 867.80h2.00M658.0 867.80h2.00M676.0 867.80h2.00M72.2 880.60h2.00M76.2 880.60h2.00M80.2 880.60h2.00M90.2 880.60h2.00M108.2 880.60h4.00M120.2 880.60h2.00M124.2 880.60h4.00M168.2 880.60h4.00M210.2 880.60h2.00M226.1 880.60h2.00M230.1 880.60h2.00M236.1 880.60h2.00M250.1 880.60h2.00M256.1 880.60h2.00M272.1 880.60h2.00M278.1 880.60h4.00M300.1 880.60h2.00M306.1 880.60h2.00M330.1 880.60h2.00M344.1 880.60h2.00M352.1 880.60h2.00M372.1 880.60h4.00M392.1 880.60h2.00M398.1 880.60h2.00M408.1 880.60h2.00M412.1 880.60h4.00M434.1 880.60h2.00M444.1 880.60h4.00M458.1 880.60h2.00M462.1 880.60h2.00M466.1 880.60h2.00M482.1 880.60h2.00M510.1 880.60h6.00M520.1 880.60h4.00M526.0 880.60h2.00M544.0 880.60h2.00M560.0 880.60h2.00M568.0 880.60h2.00M580.0 880.60h2.00M638.0 880.60h2.00M60.2 893.40h2.00M64.2 893.40h2.00M68.2 893.40h2.00M88.2 893.40h2.00M114.2 893.40h2.00M118.2 893.40h2.00M124.2 893.40h4.00M132.2 893.40h2.00M140.2 893.40h2.00M154.2 893.40h2.00M158.2 893.40h2.00M166.2 893.40h2.00M212.2 893.40h2.00M222.1 893.40h2.00M228.1 893.40h2.00M250.1 893.40h2.00M258.1 893.40h4.00M268.1 893.40h2.00M272.1 893.40h2.00M280.1 893.40h2.00M302.1 893.40h2.00M306.1 893.40h4.00M312.1 893.40h2.00M324.1 893.40h2.00M342.1 893.40h2.00M378.1 893.40h2.00M398.1 893.40h2.00M408.1 893.40h2.00M422.1 893.40h2.00M430.1 893.40h2.00M442.1 893.40h4.00M460.1 893.40h2.00M474.1 893.40h2.00M486.1 893.40h2.00M506.1 893.40h4.00M514.1 893.40h2.00M534.0 893.40h2.00M550.0 893.40h4.00M562.0 893.40h2.00M566.0 893.40h4.00M590.0 893.40h2.00M602.0 893.40h2.00M612.0 893.40h2.00M622.0 893.40h2.00M626.0 893.40h2.00M634.0 893.40h2.00M642.0 893.40h2.00M656.0 893.40h2.00M670.0 893.40h2.00M676.0 893.40h2.00M68.2 906.20h2.00M80.2 906.20h2.00M84.2 906.20h4.00M96.2 906.20h2.00M106.2 906.20h2.00M112.2 906.20h2.00M122.2 906.20h2.00M126.2 906.20h2.00M146.2 906.20h2.00M154.2 906.20h2.00M196.2 906.20h2.00M274.1 906.20h2.00M280.1 906.20h4.00M288.1 906.20h2.00M302.1 906.20h2.00M314.1 906.20h2.00M322.1 906.20h2.00M326.1 906.20h2.00M330.1 906.20h2.00M340.1 906.20h2.00M376.1 906.20h2.00M390.1 906.20h2.00M398.1 906.20h2.00M460.1 906.20h2.00M470.1 906.20h2.00M514.1 906.20h2.00M520.1 906.20h2.00M530.0 906.20h2.00M556.0 906.20h2.00M560.0 906.20h2.00M568.0 906.20h2.00M582.0 906.20h4.00M610.0 906.20h2.00M618.0 906.20h2.00M626.0 906.20h2.00M632.0 906.20h2.00M640.0 906.20h2.00M660.0 906.20h2.00M670.0 906.20h4.00M64.2 919.00h2.00M134.2 919.00h2.00M186.2 919.00h2.00M194.2 919.00h2.00M348.1 919.00h2.00M396.1 919.00h2.00M568.0 919.00h2.00M114.2 931.80h2.00M136.2 931.80h2.00M184.2 931.80h2.00M214.2 931.80h2.00M294.1 931.80h2.00M382.1 931.80h2.00M416.1 931.80h2.00M446.1 931.80h2.00M484.1 931.80h2.00M586.0 931.80h2.00M596.0 931.80h2.00M96.2 944.60h2.00M146.2 944.60h2.00M376.1 944.60h2.00M568.0 944.60h2.00M658.0 944.60h2.00M80.2 957.40h2.00M106.2 957.40h2.00M140.2 957.40h2.00M186.2 957.40h2.00M240.1 957.40h2.00M348.1 957.40h2.00M440.1 957.40h2.00M458.1 957.40h2.00M524.0 957.40h2.00M610.0 957.40h4.00M620.0 957.40h2.00M628.0 957.40h4.00M638.0 957.40h2.00M122.2 970.20h2.00M194.2 970.20h2.00M232.1 970.20h2.00M294.1 970.20h2.00M448.1 970.20h2.00M520.1 970.20h2.00M612.0 970.20h2.00M624.0 970.20h2.00M84.2 983.00h2.00M158.2 983.00h2.00M264.1 983.00h2.00M300.1 983.00h2.00M346.1 983.00h4.00M410.1 983.00h2.00M424.1 983.00h2.00M454.1 983.00h2.00M484.1 983.00h2.00M536.0 983.00h2.00M588.0 983.00h2.00M64.2 995.80h4.00M92.2 995.80h2.00M196.2 995.80h2.00M246.1 995.80h2.00M362.1 995.80h2.00M442.1 995.80h2.00M456.1 995.80h2.00M468.1 995.80h2.00M484.1 995.80h2.00M508.1 995.80h2.00M524.0 995.80h2.00M528.0 995.80h2.00M536.0 995.80h2.00M548.0 995.80h2.00M604.0 995.80h2.00M610.0 995.80h2.00M638.0 995.80h2.00M670.0 995.80h2.00M676.0 995.80h2.00M100.2 1008.60h6.00M110.2 1008.60h2.00M144.2 1008.60h2.00M150.2 1008.60h2.00M188.2 1008.60h4.00M196.2 1008.60h2.00M204.2 1008.60h2.00M248.1 1008.60h2.00M264.1 1008.60h2.00M280.1 1008.60h2.00M286.1 1008.60h4.00M292.1 1008.60h4.00M298.1 1008.60h2.00M306.1 1008.60h2.00M312.1 1008.60h2.00M330.1 1008.60h2.00M378.1 1008.60h2.00M382.1 1008.60h2.00M398.1 1008.60h2.00M408.1 1008.60h2.00M422.1 1008.60h2.00M440.1 1008.60h2.00M446.1 1008.60h2.00M460.1 1008.60h2.00M476.1 1008.60h2.00M506.1 1008.60h2.00M512.1 1008.60h2.00M536.0 1008.60h2.00M566.0 1008.60h2.00M610.0 1008.60h2.00M628.0 1008.60h2.00M656.0 1008.60h2.00M668.0 1008.60h2.00M82.2 1021.40h2.00M146.2 1021.40h2.00M378.1 1021.40h2.00M396.1 1021.40h2.00M404.1 1021.40h2.00M414.1 1021.40h2.00M420.1 1021.40h2.00M472.1 1021.40h2.00M86.2 1034.20h2.00M90.2 1034.20h2.00M126.2 1034.20h2.00M130.2 1034.20h2.00M160.2 1034.20h2.00M166.2 1034.20h2.00M188.2 1034.20h2.00M198.2 1034.20h4.00M234.1 1034.20h2.00M242.1 1034.20h2.00M260.1 1034.20h2.00M264.1 1034.20h2.00M276.1 1034.20h2.00M296.1 1034.20h2.00M428.1 1034.20h2.00M434.1 1034.20h2.00M448.1 1034.20h2.00M480.1 1034.20h2.00M526.0 1034.20h2.00M560.0 1034.20h2.00M616.0 1034.20h2.00M648.0 1034.20h6.00M60.2 1047.00h2.00M76.2 1047.00h2.00M80.2 1047.00h2.00M90.2 1047.00h2.00M104.2 1047.00h2.00M114.2 1047.00h2.00M122.2 1047.00h2.00M126.2 1047.00h2.00M228.1 1047.00h2.00M234.1 1047.00h2.00M248.1 1047.00h4.00M254.1 1047.00h2.00M272.1 1047.00h2.00M304.1 1047.00h2.00M340.1 1047.00h2.00M352.1 1047.00h2.00M358.1 1047.00h2.00M362.1 1047.00h2.00M372.1 1047.00h2.00M384.1 1047.00h2.00M408.1 1047.00h2.00M434.1 1047.00h2.00M488.1 1047.00h2.00M504.1 1047.00h2.00M522.1 1047.00h2.00M596.0 1047.00h2.00M616.0 1047.00h2.00M648.0 1047.00h4.00M662.0 1047.00h2.00M672.0 1047.00h2.00M66.2 1059.80h2.00M76.2 1059.80h2.00M80.2 1059.80h2.00M86.2 1059.80h2.00M90.2 1059.80h2.00M124.2 1059.80h2.00M150.2 1059.80h2.00M168.2 1059.80h2.00M180.2 1059.80h2.00M292.1 1059.80h2.00M304.1 1059.80h2.00M320.1 1059.80h2.00M324.1 1059.80h2.00M334.1 1059.80h2.00M370.1 1059.80h2.00M386.1 1059.80h6.00M408.1 1059.80h2.00M424.1 1059.80h2.00M440.1 1059.80h2.00M464.1 1059.80h2.00M492.1 1059.80h2.00M534.0 1059.80h2.00M572.0 1059.80h2.00M584.0 1059.80h2.00M634.0 1059.80h2.00M638.0 1059.80h2.00M660.0 1059.80h2.00M66.2 1072.60h4.00M90.2 1072.60h2.00M94.2 1072.60h2.00M120.2 1072.60h2.00M126.2 1072.60h2.00M130.2 1072.60h2.00M138.2 1072.60h2.00M148.2 1072.60h2.00M156.2 1072.60h2.00M192.2 1072.60h2.00M196.2 1072.60h2.00M200.2 1072.60h2.00M224.1 1072.60h2.00M228.1 1072.60h2.00M238.1 1072.60h2.00M254.1 1072.60h4.00M262.1 1072.60h4.00M270.1 1072.60h2.00M274.1 1072.60h2.00M290.1 1072.60h2.00M320.1 1072.60h2.00M326.1 1072.60h2.00M338.1 1072.60h2.00M358.1 1072.60h2.00M394.1 1072.60h2.00M400.1 1072.60h2.00M404.1 1072.60h2.00M408.1 1072.60h2.00M416.1 1072.60h2.00M444.1 1072.60h2.00M472.1 1072.60h4.00M478.1 1072.60h2.00M514.1 1072.60h4.00M528.0 1072.60h2.00M570.0 1072.60h2.00M574.0 1072.60h2.00M590.0 1072.60h2.00M594.0 1072.60h4.00M600.0 1072.60h2.00M612.0 1072.60h2.00M642.0 1072.60h2.00M646.0 1072.60h2.00M68.2 1085.40h2.00M74.2 1085.40h4.00M82.2 1085.40h2.00M94.2 1085.40h2.00M126.2 1085.40h2.00M144.2 1085.40h2.00M210.2 1085.40h2.00M214.2 1085.40h2.00M224.1 1085.40h2.00M234.1 1085.40h2.00M242.1 1085.40h2.00M274.1 1085.40h2.00M298.1 1085.40h2.00M378.1 1085.40h2.00M382.1 1085.40h2.00M424.1 1085.40h4.00M490.1 1085.40h2.00M506.1 1085.40h2.00M526.0 1085.40h2.00M556.0 1085.40h2.00M578.0 1085.40h2.00M590.0 1085.40h4.00M602.0 1085.40h2.00M606.0 1085.40h2.00M610.0 1085.40h2.00M626.0 1085.40h2.00M634.0 1085.40h2.00M72.2 1098.20h2.00M98.2 1098.20h2.00M104.2 1098.20h2.00M120.2 1098.20h2.00M126.2 1098.20h2.00M156.2 1098.20h2.00M162.2 1098.20h2.00M176.2 1098.20h2.00M180.2 1098.20h2.00M210.2 1098.20h2.00M248.1 1098.20h2.00M344.1 1098.20h2.00M348.1 1098.20h2.00M354.1 1098.20h2.00M358.1 1098.20h2.00M404.1 1098.20h2.00M414.1 1098.20h2.00M444.1 1098.20h2.00M450.1 1098.20h2.00M456.1 1098.20h4.00M464.1 1098.20h2.00M480.1 1098.20h2.00M484.1 1098.20h2.00M490.1 1098.20h2.00M514.1 1098.20h2.00M524.0 1098.20h2.00M534.0 1098.20h2.00M582.0 1098.20h2.00M592.0 1098.20h6.00M604.0 1098.20h2.00M632.0 1098.20h2.00M642.0 1098.20h2.00M652.0 1098.20h2.00M672.0 1098.20h4.00M66.2 1111.00h2.00M76.2 1111.00h2.00M90.2 1111.00h2.00M100.2 1111.00h2.00M108.2 1111.00h4.00M118.2 1111.00h4.00M128.2 1111.00h2.00M134.2 1111.00h2.00M148.2 1111.00h2.00M160.2 1111.00h2.00M172.2 1111.00h2.00M196.2 1111.00h2.00M202.2 1111.00h2.00M282.1 1111.00h2.00M316.1 1111.00h2.00M326.1 1111.00h2.00M360.1 1111.00h2.00M366.1 1111.00h2.00M388.1 1111.00h4.00M432.1 1111.00h2.00M438.1 1111.00h2.00M500.1 1111.00h4.00M514.1 1111.00h2.00M528.0 1111.00h2.00M558.0 1111.00h2.00M596.0 1111.00h2.00M600.0 1111.00h2.00M618.0 1111.00h2.00M632.0 1111.00h2.00M654.0 1111.00h4.00M668.0 1111.00h2.00M60.2 1123.80h2.00M74.2 1123.80h2.00M132.2 1123.80h2.00M166.2 1123.80h2.00M176.2 1123.80h2.00M180.2 1123.80h2.00M202.2 1123.80h2.00M254.1 1123.80h2.00M278.1 1123.80h2.00M284.1 1123.80h2.00M296.1 1123.80h2.00M308.1 1123.80h4.00M318.1 1123.80h2.00M322.1 1123.80h2.00M340.1 1123.80h2.00M360.1 1123.80h2.00M374.1 1123.80h2.00M390.1 1123.80h2.00M394.1 1123.80h2.00M408.1 1123.80h2.00M414.1 1123.80h2.00M466.1 1123.80h2.00M478.1 1123.80h2.00M496.1 1123.80h2.00M504.1 1123.80h2.00M522.1 1123.80h2.00M546.0 1123.80h2.00M592.0 1123.80h4.00M606.0 1123.80h2.00M632.0 1123.80h4.00M648.0 1123.80h2.00M676.0 1123.80h2.00M66.2 1136.60h2.00M72.2 1136.60h2.00M106.2 1136.60h2.00M144.2 1136.60h2.00M154.2 1136.60h2.00M220.1 1136.60h2.00M236.1 1136.60h2.00M248.1 1136.60h2.00M258.1 1136.60h2.00M348.1 1136.60h2.00M366.1 1136.60h2.00M374.1 1136.60h2.00M400.1 1136.60h2.00M408.1 1136.60h2.00M420.1 1136.60h2.00M450.1 1136.60h2.00M466.1 1136.60h2.00M490.1 1136.60h2.00M494.1 1136.60h2.00M500.1 1136.60h2.00M538.0 1136.60h4.00M578.0 1136.60h2.00M598.0 1136.60h2.00M608.0 1136.60h2.00M622.0 1136.60h2.00M632.0 1136.60h2.00M182.2 1162.20h2.00M558.0 1162.20h2.00M294.1 1187.80h2.00M104.2 1200.60h4.00M190.2 1200.60h4.00M270.1 1200.60h2.00M388.1 1200.60h2.00M396.1 1200.60h2.00M400.1 1200.60h2.00M410.1 1200.60h2.00M420.1 1200.60h2.00M520.1 1200.60h2.00M618.0 1200.60h2.00M660.0 1200.60h2.00M298.1 1213.40h2.00M524.0 1213.40h2.00M82.2 1226.20h2.00M556.0 1226.20h2.00M114.2 1239.00h2.00M234.1 1239.00h2.00M260.1 1239.00h4.00M274.1 1239.00h2.00M422.1 1239.00h2.00M436.1 1239.00h2.00M492.1 1239.00h2.00M536.0 1239.00h2.00M578.0 1239.00h2.00M592.0 1239.00h2.00M640.0 1239.00h2.00M652.0 1239.00h2.00M70.2 1251.80h2.00M140.2 1251.80h2.00M152.2 1251.80h2.00M294.1 1251.80h2.00M306.1 1251.80h2.00M416.1 1251.80h2.00M476.1 1251.80h2.00M526.0 1251.80h2.00M532.0 1251.80h2.00M590.0 1251.80h2.00M676.0 1251.80h2.00M80.2 1264.60h2.00M166.2 1264.60h2.00M302.1 1264.60h2.00M500.1 1264.60h2.00M546.0 1264.60h2.00M330.1 1277.40h2.00M418.1 1277.40h2.00"/>
<path stroke="#f3e7a3" d="M218.1 778.20h2.00M370.1 778.20h2.00M458.1 778.20h2.00M522.1 778.20h2.00M528.0 778.20h2.00M566.0 778.20h2.00M86.2 791.00h2.00M304.1 791.00h2.00M334.1 791.00h2.00M422.1 791.00h2.00M488.1 791.00h2.00M508.1 791.00h2.00M518.1 791.00h2.00M582.0 791.00h2.00M648.0 791.00h2.00M672.0 791.00h2.00M100.2 816.60h2.00M84.2 829.40h2.00M126.2 829.40h2.00M170.2 829.40h2.00M290.1 829.40h2.00M320.1 829.40h2.00M70.2 842.20h2.00M94.2 842.20h2.00M132.2 842.20h2.00M196.2 842.20h2.00M232.1 842.20h2.00M242.1 842.20h2.00M306.1 842.20h2.00M392.1 842.20h2.00M520.1 842.20h2.00M636.0 842.20h2.00M658.0 842.20h2.00M670.0 842.20h2.00M84.2 867.80h2.00M164.2 867.80h2.00M112.2 880.60h2.00M134.2 880.60h2.00M158.2 880.60h2.00M164.2 880.60h2.00M204.2 880.60h2.00M218.1 880.60h2.00M258.1 880.60h2.00M268.1 880.60h2.00M332.1 880.60h2.00M346.1 880.60h2.00M376.1 880.60h2.00M410.1 880.60h2.00M424.1 880.60h2.00M430.1 880.60h2.00M508.1 880.60h2.00M670.0 880.60h2.00M146.2 893.40h2.00M152.2 893.40h2.00M178.2 893.40h2.00M190.2 893.40h2.00M204.2 893.40h2.00M240.1 893.40h2.00M246.1 893.40h2.00M270.1 893.40h2.00M284.1 893.40h2.00M288.1 893.40h2.00M316.1 893.40h2.00M340.1 893.40h2.00M458.1 893.40h2.00M630.0 893.40h2.00M94.2 906.20h2.00M194.2 906.20h2.00M206.2 906.20h2.00M232.1 906.20h2.00M252.1 906.20h2.00M362.1 906.20h2.00M636.0 906.20h2.00M624.0 957.40h2.00M658.0 970.20h2.00M204.2 995.80h2.00M346.1 995.80h2.00M556.0 995.80h2.00M72.2 1008.60h2.00M172.2 1008.60h2.00M194.2 1008.60h2.00M202.2 1008.60h2.00M240.1 1008.60h2.00M246.1 1008.60h2.00M270.1 1008.60h4.00M334.1 1008.60h2.00M370.1 1008.60h4.00M430.1 1008.60h2.00M450.1 1008.60h2.00M528.0 1008.60h2.00M546.0 1008.60h2.00M574.0 1008.60h2.00M618.0 1008.60h2.00M636.0 1008.60h2.00M674.0 1008.60h2.00M222.1 1021.40h2.00M252.1 1021.40h2.00M422.1 1021.40h2.00M540.0 1021.40h2.00M546.0 1021.40h2.00M550.0 1021.40h2.00M60.2 1034.20h2.00M80.2 1034.20h2.00M92.2 1034.20h2.00M100.2 1034.20h2.00M110.2 1034.20h2.00M124.2 1034.20h2.00M134.2 1034.20h4.00M146.2 1034.20h2.00M150.2 1034.20h2.00M164.2 1034.20h2.00M184.2 1034.20h2.00M214.2 1034.20h2.00M224.1 1034.20h2.00M298.1 1034.20h2.00M360.1 1034.20h2.00M366.1 1034.20h2.00M388.1 1034.20h2.00M400.1 1034.20h4.00M424.1 1034.20h2.00M466.1 1034.20h2.00M478.1 1034.20h2.00M492.1 1034.20h2.00M530.0 1034.20h2.00M548.0 1034.20h4.00M568.0 1034.20h2.00M580.0 1034.20h4.00M642.0 1034.20h2.00M658.0 1034.20h2.00M664.0 1034.20h2.00M670.0 1034.20h2.00M64.2 1047.00h2.00M84.2 1047.00h2.00M134.2 1047.00h4.00M168.2 1047.00h2.00M210.2 1047.00h2.00M242.1 1047.00h2.00M260.1 1047.00h2.00M268.1 1047.00h2.00M300.1 1047.00h2.00M326.1 1047.00h2.00M346.1 1047.00h4.00M360.1 1047.00h2.00M406.1 1047.00h2.00M454.1 1047.00h2.00M492.1 1047.00h2.00M538.0 1047.00h2.00M548.0 1047.00h2.00M560.0 1047.00h2.00M570.0 1047.00h2.00M574.0 1047.00h2.00M602.0 1047.00h4.00M614.0 1047.00h2.00M636.0 1047.00h2.00M640.0 1047.00h6.00M64.2 1059.80h2.00M70.2 1059.80h2.00M94.2 1059.80h4.00M106.2 1059.80h2.00M128.2 1059.80h2.00M132.2 1059.80h2.00M146.2 1059.80h2.00M176.2 1059.80h2.00M196.2 1059.80h2.00M206.2 1059.80h2.00M238.1 1059.80h2.00M268.1 1059.80h2.00M290.1 1059.80h2.00M294.1 1059.80h2.00M314.1 1059.80h2.00M330.1 1059.80h2.00M382.1 1059.80h2.00M406.1 1059.80h2.00M410.1 1059.80h2.00M430.1 1059.80h2.00M442.1 1059.80h2.00M530.0 1059.80h2.00M536.0 1059.80h2.00M540.0 1059.80h2.00M552.0 1059.80h2.00M556.0 1059.80h2.00M562.0 1059.80h2.00M588.0 1059.80h2.00M596.0 1059.80h2.00M640.0 1059.80h2.00M662.0 1059.80h2.00M666.0 1059.80h2.00M60.2 1072.60h2.00M70.2 1072.60h2.00M82.2 1072.60h4.00M92.2 1072.60h2.00M96.2 1072.60h4.00M110.2 1072.60h2.00M128.2 1072.60h2.00M134.2 1072.60h2.00M162.2 1072.60h2.00M166.2 1072.60h2.00M186.2 1072.60h2.00M206.2 1072.60h2.00M222.1 1072.60h2.00M242.1 1072.60h2.00M268.1 1072.60h2.00M294.1 1072.60h2.00M340.1 1072.60h2.00M370.1 1072.60h2.00M438.1 1072.60h2.00M448.1 1072.60h2.00M466.1 1072.60h2.00M498.1 1072.60h2.00M502.1 1072.60h2.00M524.0 1072.60h2.00M552.0 1072.60h2.00M584.0 1072.60h2.00M604.0 1072.60h2.00M620.0 1072.60h2.00M658.0 1072.60h2.00M672.0 1072.60h2.00M66.2 1085.40h2.00M80.2 1085.40h2.00M84.2 1085.40h2.00M120.2 1085.40h4.00M128.2 1085.40h2.00M136.2 1085.40h2.00M152.2 1085.40h2.00M166.2 1085.40h2.00M172.2 1085.40h2.00M188.2 1085.40h2.00M200.2 1085.40h2.00M218.1 1085.40h2.00M238.1 1085.40h2.00M292.1 1085.40h2.00M302.1 1085.40h4.00M318.1 1085.40h4.00M338.1 1085.40h2.00M350.1 1085.40h2.00M358.1 1085.40h2.00M372.1 1085.40h2.00M376.1 1085.40h2.00M390.1 1085.40h2.00M400.1 1085.40h4.00M436.1 1085.40h2.00M450.1 1085.40h2.00M458.1 1085.40h2.00M468.1 1085.40h2.00M486.1 1085.40h4.00M496.1 1085.40h2.00M522.1 1085.40h2.00M536.0 1085.40h2.00M546.0 1085.40h2.00M560.0 1085.40h2.00M582.0 1085.40h2.00M594.0 1085.40h2.00M630.0 1085.40h2.00M644.0 1085.40h4.00M676.0 1085.40h2.00M140.2 1098.20h2.00M170.2 1098.20h2.00M196.2 1098.20h2.00M214.2 1098.20h2.00M290.1 1098.20h2.00M394.1 1098.20h2.00M442.1 1098.20h2.00M500.1 1098.20h4.00M516.1 1098.20h2.00M536.0 1098.20h2.00M540.0 1098.20h2.00M546.0 1098.20h2.00M556.0 1098.20h2.00M626.0 1098.20h2.00M634.0 1098.20h2.00M656.0 1098.20h2.00M660.0 1098.20h2.00M64.2 1111.00h2.00M68.2 1111.00h2.00M96.2 1111.00h2.00M164.2 1111.00h2.00M170.2 1111.00h2.00M178.2 1111.00h2.00M300.1 1111.00h2.00M340.1 1111.00h2.00M368.1 1111.00h2.00M378.1 1111.00h2.00M394.1 1111.00h2.00M442.1 1111.00h2.00M456.1 1111.00h2.00M476.1 1111.00h2.00M540.0 1111.00h2.00M548.0 1111.00h2.00M612.0 1111.00h2.00M620.0 1111.00h2.00M634.0 1111.00h2.00M648.0 1111.00h2.00M658.0 1111.00h2.00M68.2 1123.80h4.00M98.2 1123.80h2.00M144.2 1123.80h4.00M162.2 1123.80h2.00M186.2 1123.80h4.00M208.2 1123.80h4.00M220.1 1123.80h2.00M238.1 1123.80h2.00M242.1 1123.80h2.00M290.1 1123.80h2.00M334.1 1123.80h2.00M346.1 1123.80h2.00M354.1 1123.80h2.00M382.1 1123.80h2.00M392.1 1123.80h2.00M402.1 1123.80h2.00M406.1 1123.80h2.00M438.1 1123.80h2.00M442.1 1123.80h2.00M454.1 1123.80h2.00M470.1 1123.80h2.00M488.1 1123.80h2.00M510.1 1123.80h2.00M518.1 1123.80h2.00M526.0 1123.80h2.00M552.0 1123.80h2.00M556.0 1123.80h2.00M584.0 1123.80h2.00M590.0 1123.80h2.00M636.0 1123.80h2.00M642.0 1123.80h2.00M60.2 1136.60h2.00M68.2 1136.60h4.00M112.2 1136.60h2.00M124.2 1136.60h2.00M140.2 1136.60h4.00M148.2 1136.60h2.00M158.2 1136.60h2.00M162.2 1136.60h2.00M182.2 1136.60h2.00M196.2 1136.60h2.00M206.2 1136.60h4.00M214.2 1136.60h2.00M218.1 1136.60h2.00M244.1 1136.60h4.00M250.1 1136.60h2.00M270.1 1136.60h2.00M284.1 1136.60h2.00M350.1 1136.60h2.00M384.1 1136.60h2.00M430.1 1136.60h2.00M434.1 1136.60h2.00M438.1 1136.60h2.00M486.1 1136.60h2.00M498.1 1136.60h2.00M514.1 1136.60h2.00M530.0 1136.60h2.00M544.0 1136.60h2.00M564.0 1136.60h2.00M610.0 1136.60h2.00M646.0 1136.60h2.00M658.0 1136.60h2.00M676.0 1136.60h2.00M138.2 1149.40h2.00M304.1 1149.40h2.00M60.2 1162.20h2.00M66.2 1162.20h2.00M108.2 1162.20h2.00M144.2 1162.20h2.00M180.2 1162.20h2.00M194.2 1162.20h2.00M214.2 1162.20h2.00M276.1 1162.20h4.00M368.1 1162.20h2.00M386.1 1162.20h2.00M390.1 1162.20h2.00M418.1 1162.20h4.00M436.1 1162.20h2.00M498.1 1162.20h2.00M552.0 1162.20h2.00M590.0 1162.20h2.00M630.0 1162.20h2.00M634.0 1162.20h2.00M220.1 1187.80h2.00M74.2 1200.60h4.00M134.2 1200.60h2.00M152.2 1200.60h2.00M156.2 1200.60h2.00M160.2 1200.60h2.00M174.2 1200.60h2.00M228.1 1200.60h2.00M232.1 1200.60h2.00M238.1 1200.60h2.00M242.1 1200.60h2.00M288.1 1200.60h2.00M320.1 1200.60h2.00M338.1 1200.60h2.00M374.1 1200.60h2.00M386.1 1200.60h2.00M418.1 1200.60h2.00M450.1 1200.60h2.00M462.1 1200.60h2.00M468.1 1200.60h2.00M474.1 1200.60h2.00M486.1 1200.60h2.00M530.0 1200.60h2.00M544.0 1200.60h4.00M646.0 1200.60h2.00M668.0 1200.60h2.00M66.2 1213.40h2.00M104.2 1213.40h2.00M152.2 1213.40h2.00M236.1 1213.40h2.00M342.1 1213.40h2.00M404.1 1213.40h2.00M448.1 1213.40h2.00M506.1 1213.40h2.00M514.1 1213.40h2.00M532.0 1213.40h2.00M536.0 1213.40h2.00M544.0 1213.40h2.00M560.0 1213.40h2.00M574.0 1213.40h2.00M662.0 1213.40h2.00M102.2 1226.20h2.00M150.2 1226.20h2.00M178.2 1226.20h2.00M188.2 1226.20h2.00M198.2 1226.20h2.00M210.2 1226.20h2.00M226.1 1226.20h2.00M246.1 1226.20h2.00M330.1 1226.20h2.00M386.1 1226.20h2.00M442.1 1226.20h2.00M474.1 1226.20h2.00M548.0 1226.20h2.00M646.0 1226.20h2.00M676.0 1226.20h2.00M64.2 1239.00h2.00M72.2 1239.00h2.00M80.2 1239.00h2.00M88.2 1239.00h2.00M126.2 1239.00h2.00M132.2 1239.00h2.00M144.2 1239.00h2.00M156.2 1239.00h2.00M210.2 1239.00h2.00M230.1 1239.00h2.00M242.1 1239.00h4.00M256.1 1239.00h2.00M290.1 1239.00h2.00M298.1 1239.00h2.00M320.1 1239.00h2.00M348.1 1239.00h2.00M380.1 1239.00h2.00M400.1 1239.00h2.00M408.1 1239.00h2.00M418.1 1239.00h2.00M452.1 1239.00h2.00M510.1 1239.00h2.00M588.0 1239.00h2.00M598.0 1239.00h4.00M608.0 1239.00h2.00M626.0 1239.00h2.00M642.0 1239.00h2.00M82.2 1251.80h2.00M100.2 1251.80h2.00M106.2 1251.80h2.00M148.2 1251.80h2.00M170.2 1251.80h2.00M176.2 1251.80h2.00M184.2 1251.80h2.00M190.2 1251.80h2.00M206.2 1251.80h2.00M238.1 1251.80h2.00M260.1 1251.80h2.00M326.1 1251.80h2.00M334.1 1251.80h2.00M352.1 1251.80h2.00M366.1 1251.80h2.00M384.1 1251.80h2.00M396.1 1251.80h4.00M402.1 1251.80h2.00M408.1 1251.80h2.00M420.1 1251.80h2.00M438.1 1251.80h2.00M444.1 1251.80h2.00M454.1 1251.80h2.00M466.1 1251.80h2.00M496.1 1251.80h2.00M506.1 1251.80h2.00M518.1 1251.80h2.00M530.0 1251.80h2.00M564.0 1251.80h2.00M576.0 1251.80h2.00M596.0 1251.80h2.00M604.0 1251.80h2.00M612.0 1251.80h2.00M626.0 1251.80h2.00M640.0 1251.80h2.00M648.0 1251.80h2.00M70.2 1264.60h2.00M86.2 1264.60h2.00M116.2 1264.60h2.00M142.2 1264.60h2.00M150.2 1264.60h2.00M170.2 1264.60h2.00M230.1 1264.60h2.00M254.1 1264.60h2.00M278.1 1264.60h2.00M306.1 1264.60h2.00M352.1 1264.60h2.00M360.1 1264.60h2.00M414.1 1264.60h2.00M460.1 1264.60h2.00M464.1 1264.60h2.00M492.1 1264.60h2.00M502.1 1264.60h2.00M522.1 1264.60h2.00M550.0 1264.60h2.00M586.0 1264.60h2.00M612.0 1264.60h2.00M626.0 1264.60h2.00M648.0 1264.60h2.00M672.0 1264.60h2.00M80.2 1277.40h4.00M114.2 1277.40h2.00M128.2 1277.40h2.00M162.2 1277.40h2.00M190.2 1277.40h2.00M208.2 1277.40h2.00M224.1 1277.40h2.00M236.1 1277.40h2.00M288.1 1277.40h2.00M314.1 1277.40h2.00M322.1 1277.40h2.00M344.1 1277.40h2.00M354.1 1277.40h2.00M370.1 1277.40h2.00M386.1 1277.40h2.00M404.1 1277.40h2.00M412.1 1277.40h2.00M428.1 1277.40h2.00M446.1 1277.40h2.00M452.1 1277.40h2.00M470.1 1277.40h2.00M478.1 1277.40h2.00M494.1 1277.40h2.00M538.0 1277.40h2.00M570.0 1277.40h2.00M574.0 1277.40h2.00M614.0 1277.40h2.00M662.0 1277.40h2.00"/>
<path stroke="#f4f1b6" d="M512.1 778.20h2.00M116.2 791.00h2.00M216.1 791.00h2.00M616.0 791.00h2.00M158.2 816.60h2.00M216.1 1008.60h2.00M524.0 1008.60h2.00M534.0 1008.60h2.00M196.2 1021.40h2.00M382.1 1021.40h2.00M154.2 1034.20h2.00M192.2 1034.20h2.00M238.1 1034.20h2.00M328.1 1034.20h2.00M406.1 1034.20h2.00M412.1 1034.20h2.00M538.0 1034.20h2.00M546.0 1034.20h2.00M584.0 1034.20h2.00M594.0 1034.20h2.00M600.0 1034.20h2.00M164.2 1047.00h2.00M120.2 1059.80h2.00M438.1 1059.80h2.00M450.1 1059.80h2.00M524.0 1059.80h2.00M624.0 1059.80h2.00M122.2 1072.60h2.00M194.2 1072.60h2.00M520.1 1072.60h2.00M62.2 1085.40h2.00M88.2 1085.40h2.00M114.2 1085.40h2.00M162.2 1085.40h2.00M232.1 1085.40h2.00M240.1 1085.40h2.00M246.1 1085.40h2.00M250.1 1085.40h2.00M322.1 1085.40h2.00M326.1 1085.40h4.00M466.1 1085.40h2.00M512.1 1085.40h2.00M600.0 1085.40h2.00M608.0 1085.40h2.00M620.0 1085.40h2.00M624.0 1085.40h2.00M666.0 1085.40h2.00M624.0 1098.20h2.00M270.1 1111.00h2.00M298.1 1111.00h2.00M506.1 1111.00h2.00M630.0 1111.00h2.00M204.2 1123.80h4.00M396.1 1123.80h2.00M448.1 1123.80h2.00M498.1 1123.80h2.00M520.1 1123.80h2.00M94.2 1136.60h2.00M146.2 1136.60h2.00M204.2 1136.60h2.00M210.2 1136.60h2.00M330.1 1136.60h2.00M356.1 1136.60h2.00M528.0 1136.60h2.00M570.0 1136.60h2.00M590.0 1136.60h2.00M628.0 1136.60h2.00M146.2 1149.40h2.00M280.1 1149.40h2.00M316.1 1149.40h2.00M328.1 1149.40h2.00M404.1 1149.40h2.00M432.1 1149.40h2.00M472.1 1149.40h2.00M504.1 1149.40h2.00M74.2 1162.20h2.00M80.2 1162.20h2.00M110.2 1162.20h4.00M124.2 1162.20h2.00M128.2 1162.20h2.00M136.2 1162.20h2.00M142.2 1162.20h2.00M156.2 1162.20h2.00M160.2 1162.20h2.00M176.2 1162.20h2.00M188.2 1162.20h2.00M264.1 1162.20h2.00M304.1 1162.20h2.00M322.1 1162.20h4.00M334.1 1162.20h4.00M352.1 1162.20h2.00M414.1 1162.20h2.00M440.1 1162.20h2.00M446.1 1162.20h2.00M466.1 1162.20h2.00M486.1 1162.20h4.00M494.1 1162.20h2.00M500.1 1162.20h2.00M534.0 1162.20h2.00M566.0 1162.20h2.00M588.0 1162.20h2.00M596.0 1162.20h2.00M610.0 1162.20h4.00M654.0 1162.20h2.00M76.2 1187.80h2.00M158.2 1187.80h2.00M208.2 1187.80h2.00M268.1 1187.80h2.00M504.1 1187.80h2.00M658.0 1187.80h2.00M86.2 1200.60h2.00M158.2 1200.60h2.00M172.2 1200.60h2.00M248.1 1200.60h2.00M252.1 1200.60h2.00M266.1 1200.60h2.00M296.1 1200.60h2.00M454.1 1200.60h2.00M480.1 1200.60h2.00M490.1 1200.60h2.00M516.1 1200.60h2.00M572.0 1200.60h2.00M598.0 1200.60h2.00M608.0 1200.60h2.00M616.0 1200.60h2.00M620.0 1200.60h2.00M640.0 1200.60h2.00M648.0 1200.60h2.00M658.0 1200.60h2.00M676.0 1200.60h2.00M60.2 1213.40h4.00M100.2 1213.40h4.00M106.2 1213.40h2.00M186.2 1213.40h2.00M194.2 1213.40h2.00M260.1 1213.40h2.00M264.1 1213.40h2.00M278.1 1213.40h2.00M302.1 1213.40h2.00M320.1 1213.40h2.00M376.1 1213.40h2.00M400.1 1213.40h2.00M412.1 1213.40h4.00M430.1 1213.40h2.00M474.1 1213.40h2.00M500.1 1213.40h2.00M538.0 1213.40h2.00M588.0 1213.40h2.00M618.0 1213.40h2.00M644.0 1213.40h2.00M80.2 1226.20h2.00M112.2 1226.20h2.00M120.2 1226.20h2.00M128.2 1226.20h2.00M156.2 1226.20h2.00M170.2 1226.20h2.00M174.2 1226.20h2.00M184.2 1226.20h2.00M230.1 1226.20h2.00M264.1 1226.20h2.00M288.1 1226.20h2.00M300.1 1226.20h2.00M308.1 1226.20h2.00M316.1 1226.20h10.00M366.1 1226.20h2.00M396.1 1226.20h2.00M438.1 1226.20h2.00M450.1 1226.20h4.00M466.1 1226.20h2.00M484.1 1226.20h2.00M488.1 1226.20h2.00M494.1 1226.20h2.00M500.1 1226.20h4.00M512.1 1226.20h2.00M532.0 1226.20h2.00M568.0 1226.20h2.00M576.0 1226.20h2.00M580.0 1226.20h2.00M588.0 1226.20h2.00M610.0 1226.20h2.00M616.0 1226.20h2.00M630.0 1226.20h2.00M638.0 1226.20h2.00M70.2 1239.00h2.00M120.2 1239.00h2.00M154.2 1239.00h2.00M178.2 1239.00h2.00M222.1 1239.00h2.00M236.1 1239.00h2.00M246.1 1239.00h2.00M258.1 1239.00h2.00M302.1 1239.00h2.00M314.1 1239.00h2.00M370.1 1239.00h2.00M384.1 1239.00h2.00M398.1 1239.00h2.00M412.1 1239.00h2.00M448.1 1239.00h2.00M456.1 1239.00h2.00M476.1 1239.00h2.00M482.1 1239.00h2.00M514.1 1239.00h2.00M528.0 1239.00h2.00M544.0 1239.00h2.00M586.0 1239.00h2.00M632.0 1239.00h2.00M660.0 1239.00h2.00M670.0 1239.00h4.00M68.2 1251.80h2.00M84.2 1251.80h2.00M92.2 1251.80h2.00M104.2 1251.80h2.00M168.2 1251.80h2.00M198.2 1251.80h2.00M216.1 1251.80h2.00M236.1 1251.80h2.00M244.1 1251.80h2.00M302.1 1251.80h4.00M346.1 1251.80h2.00M442.1 1251.80h2.00M450.1 1251.80h2.00M472.1 1251.80h2.00M488.1 1251.80h2.00M498.1 1251.80h2.00M508.1 1251.80h2.00M528.0 1251.80h2.00M550.0 1251.80h2.00M588.0 1251.80h2.00M660.0 1251.80h2.00M64.2 1264.60h2.00M88.2 1264.60h4.00M96.2 1264.60h2.00M102.2 1264.60h2.00M118.2 1264.60h2.00M124.2 1264.60h2.00M128.2 1264.60h2.00M134.2 1264.60h2.00M176.2 1264.60h2.00M182.2 1264.60h2.00M188.2 1264.60h2.00M196.2 1264.60h2.00M284.1 1264.60h4.00M322.1 1264.60h2.00M336.1 1264.60h2.00M374.1 1264.60h2.00M380.1 1264.60h2.00M384.1 1264.60h4.00M396.1 1264.60h2.00M412.1 1264.60h2.00M422.1 1264.60h2.00M438.1 1264.60h2.00M466.1 1264.60h2.00M506.1 1264.60h2.00M514.1 1264.60h2.00M528.0 1264.60h2.00M540.0 1264.60h2.00M606.0 1264.60h2.00M638.0 1264.60h2.00M644.0 1264.60h2.00M62.2 1277.40h2.00M76.2 1277.40h2.00M92.2 1277.40h2.00M96.2 1277.40h2.00M122.2 1277.40h2.00M134.2 1277.40h2.00M138.2 1277.40h2.00M158.2 1277.40h2.00M204.2 1277.40h2.00M210.2 1277.40h2.00M256.1 1277.40h2.00M268.1 1277.40h2.00M348.1 1277.40h2.00M396.1 1277.40h2.00M410.1 1277.40h2.00M414.1 1277.40h2.00M488.1 1277.40h4.00M532.0 1277.40h2.00M536.0 1277.40h2.00M550.0 1277.40h2.00M560.0 1277.40h2.00M568.0 1277.40h2.00M584.0 1277.40h4.00M590.0 1277.40h2.00M620.0 1277.40h2.00M650.0 1277.40h2.00M658.0 1277.40h2.00M666.0 1277.40h2.00M672.0 1277.40h2.00"/>
<path stroke="#f2e49e" d="M604.0 778.20h2.00M80.2 791.00h2.00M174.2 791.00h2.00M224.1 791.00h2.00M246.1 791.00h2.00M308.1 791.00h2.00M326.1 791.00h2.00M340.1 791.00h2.00M358.1 791.00h2.00M370.1 791.00h2.00M430.1 791.00h2.00M452.1 791.00h2.00M530.0 791.00h2.00M604.0 791.00h2.00M626.0 791.00h2.00M382.1 803.80h2.00M192.2 816.60h4.00M210.2 816.60h2.00M218.1 816.60h2.00M232.1 816.60h2.00M278.1 816.60h2.00M362.1 816.60h2.00M562.0 816.60h2.00M86.2 829.40h2.00M130.2 829.40h2.00M224.1 829.40h4.00M282.1 829.40h2.00M310.1 829.40h2.00M314.1 829.40h2.00M326.1 829.40h2.00M638.0 829.40h2.00M64.2 842.20h2.00M106.2 842.20h2.00M112.2 842.20h2.00M126.2 842.20h2.00M146.2 842.20h2.00M160.2 842.20h2.00M164.2 842.20h2.00M184.2 842.20h4.00M210.2 842.20h2.00M334.1 842.20h4.00M346.1 842.20h2.00M356.1 842.20h2.00M376.1 842.20h2.00M394.1 842.20h2.00M420.1 842.20h2.00M434.1 842.20h2.00M470.1 842.20h2.00M524.0 842.20h2.00M630.0 842.20h2.00M666.0 842.20h2.00M676.0 842.20h2.00M140.2 855.00h2.00M520.1 855.00h2.00M120.2 867.80h2.00M134.2 867.80h2.00M152.2 867.80h2.00M210.2 867.80h2.00M232.1 867.80h2.00M298.1 867.80h2.00M392.1 867.80h2.00M520.1 867.80h2.00M642.0 867.80h2.00M130.2 880.60h4.00M136.2 880.60h2.00M140.2 880.60h2.00M152.2 880.60h2.00M182.2 880.60h2.00M190.2 880.60h2.00M198.2 880.60h2.00M206.2 880.60h2.00M222.1 880.60h2.00M228.1 880.60h2.00M242.1 880.60h2.00M282.1 880.60h6.00M304.1 880.60h2.00M312.1 880.60h2.00M320.1 880.60h2.00M350.1 880.60h2.00M362.1 880.60h2.00M382.1 880.60h2.00M394.1 880.60h2.00M456.1 880.60h2.00M468.1 880.60h2.00M484.1 880.60h2.00M488.1 880.60h4.00M524.0 880.60h2.00M556.0 880.60h2.00M590.0 880.60h2.00M604.0 880.60h2.00M612.0 880.60h4.00M620.0 880.60h2.00M634.0 880.60h4.00M658.0 880.60h4.00M676.0 880.60h2.00M82.2 893.40h2.00M94.2 893.40h2.00M136.2 893.40h2.00M188.2 893.40h2.00M232.1 893.40h2.00M242.1 893.40h2.00M290.1 893.40h2.00M298.1 893.40h2.00M366.1 893.40h2.00M376.1 893.40h2.00M394.1 893.40h2.00M412.1 893.40h2.00M488.1 893.40h2.00M522.1 893.40h2.00M530.0 893.40h2.00M536.0 893.40h2.00M584.0 893.40h2.00M604.0 893.40h2.00M616.0 893.40h4.00M628.0 893.40h2.00M658.0 893.40h2.00M92.2 906.20h2.00M124.2 906.20h2.00M134.2 906.20h2.00M186.2 906.20h2.00M402.1 906.20h2.00M456.1 906.20h2.00M512.1 906.20h2.00M456.1 919.00h2.00M100.2 931.80h2.00M594.0 931.80h2.00M348.1 944.60h2.00M624.0 944.60h2.00M92.2 957.40h4.00M298.1 957.40h2.00M376.1 957.40h2.00M392.1 957.40h2.00M470.1 957.40h2.00M68.2 970.20h2.00M346.1 970.20h2.00M204.2 983.00h4.00M376.1 983.00h2.00M402.1 983.00h2.00M186.2 995.80h2.00M356.1 995.80h2.00M402.1 995.80h2.00M406.1 995.80h2.00M522.1 995.80h2.00M108.2 1008.60h2.00M114.2 1008.60h2.00M130.2 1008.60h2.00M198.2 1008.60h2.00M234.1 1008.60h2.00M260.1 1008.60h2.00M300.1 1008.60h2.00M308.1 1008.60h4.00M314.1 1008.60h2.00M354.1 1008.60h2.00M358.1 1008.60h2.00M406.1 1008.60h2.00M424.1 1008.60h2.00M432.1 1008.60h2.00M468.1 1008.60h2.00M486.1 1008.60h2.00M494.1 1008.60h4.00M508.1 1008.60h2.00M540.0 1008.60h2.00M576.0 1008.60h2.00M582.0 1008.60h2.00M600.0 1008.60h2.00M654.0 1008.60h2.00M326.1 1021.40h2.00M512.1 1021.40h2.00M542.0 1021.40h2.00M594.0 1021.40h2.00M66.2 1034.20h2.00M74.2 1034.20h2.00M84.2 1034.20h2.00M118.2 1034.20h2.00M122.2 1034.20h2.00M156.2 1034.20h4.00M174.2 1034.20h2.00M178.2 1034.20h2.00M212.2 1034.20h2.00M248.1 1034.20h2.00M272.1 1034.20h2.00M282.1 1034.20h2.00M286.1 1034.20h2.00M324.1 1034.20h2.00M334.1 1034.20h2.00M338.1 1034.20h2.00M346.1 1034.20h2.00M364.1 1034.20h2.00M384.1 1034.20h2.00M442.1 1034.20h4.00M456.1 1034.20h2.00M470.1 1034.20h2.00M498.1 1034.20h4.00M576.0 1034.20h2.00M604.0 1034.20h2.00M626.0 1034.20h10.00M640.0 1034.20h2.00M676.0 1034.20h2.00M70.2 1047.00h2.00M98.2 1047.00h2.00M112.2 1047.00h2.00M132.2 1047.00h2.00M142.2 1047.00h2.00M152.2 1047.00h2.00M158.2 1047.00h2.00M178.2 1047.00h2.00M186.2 1047.00h2.00M190.2 1047.00h2.00M218.1 1047.00h2.00M226.1 1047.00h2.00M230.1 1047.00h2.00M238.1 1047.00h2.00M246.1 1047.00h2.00M252.1 1047.00h2.00M258.1 1047.00h2.00M276.1 1047.00h2.00M286.1 1047.00h2.00M322.1 1047.00h2.00M334.1 1047.00h2.00M374.1 1047.00h2.00M402.1 1047.00h2.00M412.1 1047.00h2.00M450.1 1047.00h2.00M456.1 1047.00h2.00M460.1 1047.00h2.00M482.1 1047.00h2.00M490.1 1047.00h2.00M508.1 1047.00h2.00M518.1 1047.00h4.00M540.0 1047.00h2.00M556.0 1047.00h2.00M592.0 1047.00h2.00M612.0 1047.00h2.00M646.0 1047.00h2.00M658.0 1047.00h2.00M664.0 1047.00h2.00M122.2 1059.80h2.00M160.2 1059.80h4.00M166.2 1059.80h2.00M178.2 1059.80h2.00M182.2 1059.80h2.00M226.1 1059.80h2.00M232.1 1059.80h2.00M246.1 1059.80h2.00M260.1 1059.80h2.00M282.1 1059.80h2.00M306.1 1059.80h2.00M312.1 1059.80h2.00M316.1 1059.80h2.00M338.1 1059.80h2.00M350.1 1059.80h2.00M396.1 1059.80h2.00M428.1 1059.80h2.00M468.1 1059.80h4.00M482.1 1059.80h2.00M508.1 1059.80h2.00M518.1 1059.80h2.00M560.0 1059.80h2.00M564.0 1059.80h2.00M580.0 1059.80h2.00M606.0 1059.80h2.00M616.0 1059.80h4.00M628.0 1059.80h2.00M642.0 1059.80h2.00M664.0 1059.80h2.00M100.2 1072.60h2.00M136.2 1072.60h2.00M140.2 1072.60h4.00M160.2 1072.60h2.00M208.2 1072.60h2.00M226.1 1072.60h2.00M258.1 1072.60h2.00M276.1 1072.60h2.00M288.1 1072.60h2.00M298.1 1072.60h2.00M316.1 1072.60h2.00M322.1 1072.60h2.00M334.1 1072.60h2.00M352.1 1072.60h2.00M356.1 1072.60h2.00M360.1 1072.60h2.00M368.1 1072.60h2.00M382.1 1072.60h2.00M402.1 1072.60h2.00M406.1 1072.60h2.00M434.1 1072.60h2.00M456.1 1072.60h2.00M482.1 1072.60h4.00M494.1 1072.60h2.00M554.0 1072.60h2.00M560.0 1072.60h2.00M576.0 1072.60h2.00M614.0 1072.60h2.00M634.0 1072.60h2.00M96.2 1085.40h2.00M112.2 1085.40h2.00M148.2 1085.40h2.00M174.2 1085.40h2.00M190.2 1085.40h2.00M216.1 1085.40h2.00M236.1 1085.40h2.00M248.1 1085.40h2.00M260.1 1085.40h2.00M272.1 1085.40h2.00M280.1 1085.40h2.00M300.1 1085.40h2.00M334.1 1085.40h4.00M340.1 1085.40h2.00M344.1 1085.40h2.00M364.1 1085.40h4.00M388.1 1085.40h2.00M414.1 1085.40h2.00M430.1 1085.40h2.00M434.1 1085.40h2.00M440.1 1085.40h4.00M470.1 1085.40h2.00M474.1 1085.40h2.00M478.1 1085.40h2.00M482.1 1085.40h2.00M494.1 1085.40h2.00M498.1 1085.40h2.00M576.0 1085.40h2.00M580.0 1085.40h2.00M598.0 1085.40h2.00M604.0 1085.40h2.00M612.0 1085.40h6.00M628.0 1085.40h2.00M668.0 1085.40h2.00M62.2 1098.20h2.00M124.2 1098.20h2.00M136.2 1098.20h2.00M144.2 1098.20h2.00M206.2 1098.20h2.00M250.1 1098.20h2.00M262.1 1098.20h2.00M300.1 1098.20h2.00M310.1 1098.20h2.00M326.1 1098.20h2.00M334.1 1098.20h2.00M342.1 1098.20h2.00M346.1 1098.20h2.00M382.1 1098.20h2.00M392.1 1098.20h2.00M408.1 1098.20h2.00M422.1 1098.20h2.00M432.1 1098.20h2.00M468.1 1098.20h2.00M476.1 1098.20h2.00M498.1 1098.20h2.00M512.1 1098.20h2.00M548.0 1098.20h2.00M558.0 1098.20h2.00M580.0 1098.20h2.00M588.0 1098.20h2.00M612.0 1098.20h2.00M622.0 1098.20h2.00M636.0 1098.20h2.00M666.0 1098.20h2.00M82.2 1111.00h2.00M102.2 1111.00h2.00M106.2 1111.00h2.00M122.2 1111.00h2.00M126.2 1111.00h2.00M136.2 1111.00h2.00M140.2 1111.00h2.00M144.2 1111.00h2.00M162.2 1111.00h2.00M180.2 1111.00h4.00M190.2 1111.00h2.00M194.2 1111.00h2.00M210.2 1111.00h2.00M224.1 1111.00h2.00M228.1 1111.00h2.00M242.1 1111.00h2.00M306.1 1111.00h2.00M312.1 1111.00h2.00M334.1 1111.00h2.00M338.1 1111.00h2.00M342.1 1111.00h2.00M348.1 1111.00h2.00M352.1 1111.00h2.00M384.1 1111.00h2.00M396.1 1111.00h2.00M414.1 1111.00h2.00M440.1 1111.00h2.00M452.1 1111.00h2.00M468.1 1111.00h2.00M490.1 1111.00h2.00M512.1 1111.00h2.00M554.0 1111.00h4.00M560.0 1111.00h2.00M568.0 1111.00h2.00M574.0 1111.00h2.00M578.0 1111.00h2.00M662.0 1111.00h2.00M64.2 1123.80h2.00M80.2 1123.80h4.00M94.2 1123.80h2.00M100.2 1123.80h2.00M106.2 1123.80h2.00M122.2 1123.80h2.00M140.2 1123.80h2.00M152.2 1123.80h2.00M164.2 1123.80h2.00M172.2 1123.80h2.00M182.2 1123.80h2.00M196.2 1123.80h4.00M236.1 1123.80h2.00M240.1 1123.80h2.00M268.1 1123.80h4.00M298.1 1123.80h2.00M304.1 1123.80h2.00M316.1 1123.80h2.00M324.1 1123.80h2.00M348.1 1123.80h2.00M362.1 1123.80h2.00M370.1 1123.80h2.00M412.1 1123.80h2.00M416.1 1123.80h2.00M422.1 1123.80h4.00M430.1 1123.80h2.00M452.1 1123.80h2.00M474.1 1123.80h2.00M506.1 1123.80h2.00M512.1 1123.80h6.00M540.0 1123.80h2.00M564.0 1123.80h6.00M582.0 1123.80h2.00M610.0 1123.80h4.00M638.0 1123.80h2.00M650.0 1123.80h2.00M654.0 1123.80h2.00M666.0 1123.80h2.00M62.2 1136.60h2.00M82.2 1136.60h2.00M96.2 1136.60h2.00M116.2 1136.60h2.00M122.2 1136.60h2.00M126.2 1136.60h2.00M156.2 1136.60h2.00M164.2 1136.60h2.00M184.2 1136.60h2.00M194.2 1136.60h2.00M198.2 1136.60h2.00M224.1 1136.60h8.00M234.1 1136.60h2.00M238.1 1136.60h2.00M256.1 1136.60h2.00M264.1 1136.60h2.00M298.1 1136.60h2.00M302.1 1136.60h2.00M316.1 1136.60h4.00M340.1 1136.60h2.00M354.1 1136.60h2.00M358.1 1136.60h6.00M368.1 1136.60h2.00M388.1 1136.60h2.00M396.1 1136.60h2.00M412.1 1136.60h2.00M418.1 1136.60h2.00M444.1 1136.60h2.00M448.1 1136.60h2.00M482.1 1136.60h2.00M488.1 1136.60h2.00M566.0 1136.60h2.00M580.0 1136.60h2.00M592.0 1136.60h2.00M600.0 1136.60h2.00M630.0 1136.60h2.00M638.0 1136.60h2.00M644.0 1136.60h2.00M662.0 1136.60h2.00M672.0 1136.60h2.00M76.2 1162.20h2.00M148.2 1162.20h2.00M158.2 1162.20h2.00M262.1 1162.20h2.00M396.1 1162.20h2.00M416.1 1162.20h2.00M452.1 1162.20h2.00M510.1 1162.20h2.00M514.1 1162.20h2.00M546.0 1162.20h2.00M556.0 1162.20h2.00M570.0 1162.20h2.00M602.0 1162.20h2.00M652.0 1162.20h2.00M662.0 1162.20h2.00M88.2 1200.60h2.00M118.2 1200.60h2.00M128.2 1200.60h2.00M168.2 1200.60h2.00M182.2 1200.60h2.00M258.1 1200.60h2.00M262.1 1200.60h2.00M274.1 1200.60h2.00M278.1 1200.60h2.00M292.1 1200.60h2.00M300.1 1200.60h2.00M312.1 1200.60h2.00M324.1 1200.60h2.00M330.1 1200.60h2.00M350.1 1200.60h2.00M524.0 1200.60h2.00M558.0 1200.60h2.00M582.0 1200.60h2.00M586.0 1200.60h4.00M632.0 1200.60h2.00M652.0 1200.60h2.00M664.0 1200.60h2.00M74.2 1213.40h2.00M82.2 1213.40h2.00M204.2 1213.40h2.00M214.2 1213.40h2.00M274.1 1213.40h2.00M292.1 1213.40h2.00M336.1 1213.40h2.00M382.1 1213.40h4.00M410.1 1213.40h2.00M442.1 1213.40h2.00M454.1 1213.40h2.00M520.1 1213.40h2.00M594.0 1213.40h2.00M612.0 1213.40h2.00M658.0 1213.40h2.00M668.0 1213.40h2.00M674.0 1213.40h2.00M152.2 1226.20h4.00M180.2 1226.20h2.00M200.2 1226.20h4.00M332.1 1226.20h2.00M414.1 1226.20h2.00M456.1 1226.20h2.00M524.0 1226.20h2.00M644.0 1226.20h2.00M660.0 1226.20h2.00M674.0 1226.20h2.00M62.2 1239.00h2.00M68.2 1239.00h2.00M86.2 1239.00h2.00M100.2 1239.00h2.00M118.2 1239.00h2.00M136.2 1239.00h2.00M142.2 1239.00h2.00M150.2 1239.00h2.00M162.2 1239.00h2.00M202.2 1239.00h2.00M218.1 1239.00h2.00M266.1 1239.00h2.00M270.1 1239.00h2.00M286.1 1239.00h2.00M292.1 1239.00h2.00M308.1 1239.00h2.00M312.1 1239.00h2.00M322.1 1239.00h2.00M352.1 1239.00h2.00M360.1 1239.00h2.00M378.1 1239.00h2.00M388.1 1239.00h4.00M404.1 1239.00h2.00M424.1 1239.00h2.00M428.1 1239.00h2.00M440.1 1239.00h2.00M446.1 1239.00h2.00M488.1 1239.00h2.00M496.1 1239.00h2.00M500.1 1239.00h2.00M508.1 1239.00h2.00M518.1 1239.00h2.00M534.0 1239.00h2.00M538.0 1239.00h2.00M562.0 1239.00h2.00M576.0 1239.00h2.00M610.0 1239.00h2.00M634.0 1239.00h2.00M648.0 1239.00h2.00M654.0 1239.00h2.00M662.0 1239.00h2.00M76.2 1251.80h2.00M86.2 1251.80h2.00M116.2 1251.80h2.00M156.2 1251.80h2.00M166.2 1251.80h2.00M178.2 1251.80h4.00M224.1 1251.80h2.00M248.1 1251.80h2.00M252.1 1251.80h2.00M322.1 1251.80h2.00M332.1 1251.80h2.00M362.1 1251.80h2.00M380.1 1251.80h2.00M404.1 1251.80h2.00M414.1 1251.80h2.00M452.1 1251.80h2.00M482.1 1251.80h2.00M510.1 1251.80h2.00M544.0 1251.80h4.00M556.0 1251.80h2.00M598.0 1251.80h2.00M602.0 1251.80h2.00M616.0 1251.80h2.00M628.0 1251.80h2.00M662.0 1251.80h2.00M82.2 1264.60h2.00M154.2 1264.60h2.00M162.2 1264.60h2.00M172.2 1264.60h2.00M244.1 1264.60h2.00M262.1 1264.60h2.00M308.1 1264.60h2.00M494.1 1264.60h2.00M504.1 1264.60h2.00M538.0 1264.60h2.00M584.0 1264.60h2.00M596.0 1264.60h2.00M600.0 1264.60h2.00M660.0 1264.60h2.00M88.2 1277.40h2.00M144.2 1277.40h2.00M166.2 1277.40h2.00M176.2 1277.40h2.00M200.2 1277.40h2.00M216.1 1277.40h2.00M254.1 1277.40h2.00M266.1 1277.40h2.00M276.1 1277.40h2.00M302.1 1277.40h2.00M324.1 1277.40h4.00M336.1 1277.40h2.00M416.1 1277.40h2.00M450.1 1277.40h2.00M460.1 1277.40h2.00M496.1 1277.40h2.00M510.1 1277.40h2.00M540.0 1277.40h2.00M598.0 1277.40h2.00M602.0 1277.40h2.00M632.0 1277.40h2.00M646.0 1277.40h2.00"/>
<path stroke="#eff3d2" d="M208.2 791.00h2.00M290.1 1008.60h2.00M62.2 1149.40h4.00M74.2 1149.40h2.00M92.2 1149.40h2.00M102.2 1149.40h2.00M112.2 1149.40h2.00M120.2 1149.40h2.00M124.2 1149.40h2.00M136.2 1149.40h2.00M144.2 1149.40h2.00M166.2 1149.40h2.00M220.1 1149.40h2.00M252.1 1149.40h2.00M270.1 1149.40h2.00M308.1 1149.40h2.00M314.1 1149.40h2.00M322.1 1149.40h2.00M326.1 1149.40h2.00M362.1 1149.40h2.00M386.1 1149.40h2.00M398.1 1149.40h2.00M430.1 1149.40h2.00M438.1 1149.40h2.00M448.1 1149.40h2.00M454.1 1149.40h2.00M462.1 1149.40h2.00M480.1 1149.40h2.00M488.1 1149.40h2.00M500.1 1149.40h2.00M522.1 1149.40h2.00M528.0 1149.40h2.00M550.0 1149.40h2.00M570.0 1149.40h2.00M578.0 1149.40h4.00M588.0 1149.40h2.00M598.0 1149.40h2.00M646.0 1149.40h2.00M130.2 1162.20h4.00M202.2 1162.20h2.00M424.1 1162.20h2.00M508.1 1162.20h2.00M520.1 1162.20h2.00M542.0 1162.20h2.00M76.2 1175.00h2.00M100.2 1175.00h2.00M114.2 1175.00h2.00M138.2 1175.00h2.00M192.2 1175.00h2.00M236.1 1175.00h2.00M288.1 1175.00h2.00M300.1 1175.00h2.00M306.1 1175.00h2.00M350.1 1175.00h2.00M364.1 1175.00h2.00M380.1 1175.00h2.00M420.1 1175.00h4.00M442.1 1175.00h2.00M478.1 1175.00h2.00M510.1 1175.00h2.00M516.1 1175.00h2.00M526.0 1175.00h2.00M538.0 1175.00h2.00M550.0 1175.00h2.00M566.0 1175.00h2.00M572.0 1175.00h2.00M578.0 1175.00h2.00M612.0 1175.00h2.00M622.0 1175.00h2.00M660.0 1175.00h2.00M672.0 1175.00h2.00M110.2 1187.80h4.00M128.2 1187.80h2.00M166.2 1187.80h2.00M356.1 1187.80h4.00M380.1 1187.80h2.00M418.1 1187.80h2.00M440.1 1187.80h2.00M452.1 1187.80h2.00M456.1 1187.80h2.00M478.1 1187.80h2.00M486.1 1187.80h2.00M502.1 1187.80h2.00M556.0 1187.80h2.00M638.0 1187.80h2.00M662.0 1187.80h2.00M92.2 1200.60h2.00M286.1 1200.60h2.00M72.2 1213.40h2.00M122.2 1213.40h2.00M144.2 1213.40h2.00M172.2 1213.40h2.00M218.1 1213.40h2.00M238.1 1213.40h2.00M304.1 1213.40h2.00M340.1 1213.40h2.00M360.1 1213.40h2.00M426.1 1213.40h2.00M452.1 1213.40h2.00M494.1 1213.40h2.00M516.1 1213.40h2.00M116.2 1226.20h2.00M134.2 1226.20h2.00M204.2 1226.20h2.00M266.1 1226.20h2.00M304.1 1226.20h2.00M352.1 1226.20h2.00M372.1 1226.20h2.00M410.1 1226.20h2.00M604.0 1226.20h2.00M652.0 1226.20h2.00M84.2 1239.00h2.00M122.2 1264.60h2.00M282.1 1264.60h2.00M498.1 1264.60h2.00M508.1 1264.60h2.00M628.0 1264.60h2.00M402.1 1277.40h2.00M524.0 1277.40h2.00"/>
<path stroke="#f2f2bf" d="M266.1 791.00h2.00M512.1 791.00h2.00M566.0 791.00h2.00M168.2 1008.60h2.00M216.1 1021.40h2.00M574.0 1021.40h2.00M600.0 1021.40h2.00M72.2 1034.20h2.00M250.1 1034.20h2.00M330.1 1034.20h2.00M588.0 1034.20h2.00M624.0 1034.20h2.00M284.1 1072.60h2.00M534.0 1085.40h2.00M550.0 1085.40h2.00M614.0 1111.00h2.00M636.0 1111.00h2.00M602.0 1123.80h2.00M286.1 1136.60h2.00M402.1 1136.60h2.00M616.0 1136.60h2.00M114.2 1149.40h2.00M154.2 1149.40h2.00M160.2 1149.40h2.00M198.2 1149.40h2.00M238.1 1149.40h2.00M400.1 1149.40h2.00M460.1 1149.40h2.00M486.1 1149.40h2.00M594.0 1149.40h2.00M626.0 1149.40h2.00M662.0 1149.40h2.00M116.2 1162.20h2.00M134.2 1162.20h2.00M162.2 1162.20h2.00M200.2 1162.20h2.00M228.1 1162.20h2.00M232.1 1162.20h2.00M242.1 1162.20h4.00M248.1 1162.20h2.00M254.1 1162.20h2.00M266.1 1162.20h2.00M270.1 1162.20h2.00M290.1 1162.20h2.00M332.1 1162.20h2.00M358.1 1162.20h2.00M374.1 1162.20h2.00M428.1 1162.20h2.00M468.1 1162.20h2.00M492.1 1162.20h2.00M502.1 1162.20h2.00M550.0 1162.20h2.00M564.0 1162.20h2.00M624.0 1162.20h4.00M632.0 1162.20h2.00M638.0 1162.20h4.00M650.0 1162.20h2.00M674.0 1162.20h2.00M390.1 1175.00h2.00M60.2 1187.80h2.00M230.1 1187.80h2.00M256.1 1187.80h2.00M270.1 1187.80h2.00M286.1 1187.80h2.00M366.1 1187.80h2.00M426.1 1187.80h2.00M430.1 1187.80h2.00M454.1 1187.80h2.00M558.0 1187.80h2.00M604.0 1187.80h4.00M626.0 1187.80h2.00M70.2 1200.60h2.00M264.1 1200.60h2.00M334.1 1200.60h2.00M426.1 1200.60h4.00M458.1 1200.60h4.00M482.1 1200.60h2.00M492.1 1200.60h2.00M508.1 1200.60h2.00M534.0 1200.60h2.00M634.0 1200.60h4.00M76.2 1213.40h2.00M84.2 1213.40h8.00M110.2 1213.40h2.00M124.2 1213.40h4.00M140.2 1213.40h2.00M176.2 1213.40h2.00M228.1 1213.40h2.00M246.1 1213.40h2.00M318.1 1213.40h2.00M366.1 1213.40h2.00M408.1 1213.40h2.00M428.1 1213.40h2.00M432.1 1213.40h2.00M450.1 1213.40h2.00M478.1 1213.40h2.00M482.1 1213.40h2.00M528.0 1213.40h2.00M546.0 1213.40h2.00M556.0 1213.40h2.00M614.0 1213.40h2.00M620.0 1213.40h2.00M640.0 1213.40h2.00M648.0 1213.40h2.00M664.0 1213.40h4.00M64.2 1226.20h2.00M70.2 1226.20h4.00M108.2 1226.20h2.00M138.2 1226.20h2.00M212.2 1226.20h4.00M220.1 1226.20h4.00M228.1 1226.20h2.00M258.1 1226.20h6.00M312.1 1226.20h2.00M326.1 1226.20h2.00M336.1 1226.20h2.00M350.1 1226.20h2.00M378.1 1226.20h4.00M400.1 1226.20h2.00M406.1 1226.20h4.00M426.1 1226.20h2.00M430.1 1226.20h2.00M480.1 1226.20h2.00M490.1 1226.20h2.00M496.1 1226.20h4.00M542.0 1226.20h2.00M572.0 1226.20h2.00M592.0 1226.20h2.00M626.0 1226.20h2.00M650.0 1226.20h2.00M656.0 1226.20h4.00M662.0 1226.20h2.00M666.0 1226.20h2.00M66.2 1239.00h2.00M98.2 1239.00h2.00M104.2 1239.00h4.00M182.2 1239.00h2.00M186.2 1239.00h2.00M194.2 1239.00h2.00M248.1 1239.00h2.00M252.1 1239.00h2.00M264.1 1239.00h2.00M272.1 1239.00h2.00M276.1 1239.00h2.00M318.1 1239.00h2.00M342.1 1239.00h2.00M434.1 1239.00h2.00M438.1 1239.00h2.00M454.1 1239.00h2.00M466.1 1239.00h2.00M470.1 1239.00h2.00M564.0 1239.00h2.00M596.0 1239.00h2.00M604.0 1239.00h2.00M658.0 1239.00h2.00M108.2 1251.80h2.00M162.2 1251.80h2.00M272.1 1251.80h2.00M540.0 1251.80h2.00M554.0 1251.80h2.00M584.0 1251.80h2.00M622.0 1251.80h4.00M638.0 1251.80h2.00M92.2 1264.60h2.00M100.2 1264.60h2.00M110.2 1264.60h2.00M146.2 1264.60h2.00M174.2 1264.60h2.00M198.2 1264.60h2.00M234.1 1264.60h2.00M256.1 1264.60h2.00M288.1 1264.60h2.00M298.1 1264.60h2.00M318.1 1264.60h2.00M334.1 1264.60h2.00M348.1 1264.60h2.00M356.1 1264.60h2.00M434.1 1264.60h2.00M452.1 1264.60h2.00M462.1 1264.60h2.00M490.1 1264.60h2.00M512.1 1264.60h2.00M526.0 1264.60h2.00M530.0 1264.60h2.00M554.0 1264.60h2.00M560.0 1264.60h2.00M570.0 1264.60h2.00M582.0 1264.60h2.00M590.0 1264.60h2.00M614.0 1264.60h2.00M618.0 1264.60h4.00M640.0 1264.60h2.00M670.0 1264.60h2.00M100.2 1277.40h2.00M130.2 1277.40h2.00M142.2 1277.40h2.00M154.2 1277.40h2.00M164.2 1277.40h2.00M178.2 1277.40h2.00M196.2 1277.40h2.00M278.1 1277.40h2.00M284.1 1277.40h2.00M290.1 1277.40h2.00M320.1 1277.40h2.00M360.1 1277.40h2.00M368.1 1277.40h2.00M394.1 1277.40h2.00M424.1 1277.40h2.00M462.1 1277.40h2.00M466.1 1277.40h4.00M484.1 1277.40h2.00M512.1 1277.40h2.00M548.0 1277.40h2.00M556.0 1277.40h2.00M604.0 1277.40h2.00M616.0 1277.40h2.00M636.0 1277.40h2.00"/>
<path stroke="#f2f2c4" d="M642.0 791.00h2.00M324.1 1008.60h2.00M520.1 1021.40h2.00M520.1 1034.20h2.00M204.2 1047.00h2.00M454.1 1059.80h2.00M102.2 1085.40h2.00M170.2 1085.40h2.00M460.1 1085.40h2.00M80.2 1149.40h4.00M168.2 1149.40h2.00M172.2 1149.40h2.00M192.2 1149.40h2.00M224.1 1149.40h2.00M254.1 1149.40h4.00M260.1 1149.40h2.00M292.1 1149.40h2.00M296.1 1149.40h2.00M300.1 1149.40h2.00M352.1 1149.40h2.00M356.1 1149.40h2.00M364.1 1149.40h2.00M380.1 1149.40h2.00M394.1 1149.40h2.00M408.1 1149.40h2.00M422.1 1149.40h2.00M426.1 1149.40h4.00M436.1 1149.40h2.00M478.1 1149.40h2.00M510.1 1149.40h2.00M538.0 1149.40h2.00M542.0 1149.40h4.00M562.0 1149.40h2.00M62.2 1162.20h2.00M84.2 1162.20h2.00M88.2 1162.20h2.00M102.2 1162.20h2.00M146.2 1162.20h2.00M240.1 1162.20h2.00M246.1 1162.20h2.00M256.1 1162.20h4.00M274.1 1162.20h2.00M288.1 1162.20h2.00M326.1 1162.20h2.00M372.1 1162.20h2.00M384.1 1162.20h2.00M388.1 1162.20h2.00M422.1 1162.20h2.00M444.1 1162.20h2.00M460.1 1162.20h2.00M476.1 1162.20h2.00M482.1 1162.20h2.00M582.0 1162.20h2.00M594.0 1162.20h2.00M600.0 1162.20h2.00M676.0 1162.20h2.00M200.2 1175.00h2.00M250.1 1175.00h2.00M304.1 1175.00h2.00M426.1 1175.00h2.00M536.0 1175.00h2.00M668.0 1175.00h2.00M66.2 1187.80h2.00M108.2 1187.80h2.00M174.2 1187.80h2.00M180.2 1187.80h2.00M260.1 1187.80h2.00M276.1 1187.80h2.00M388.1 1187.80h2.00M416.1 1187.80h2.00M532.0 1187.80h2.00M576.0 1187.80h2.00M610.0 1187.80h2.00M642.0 1187.80h2.00M652.0 1187.80h2.00M668.0 1187.80h2.00M78.2 1200.60h2.00M112.2 1200.60h2.00M164.2 1200.60h2.00M202.2 1200.60h2.00M210.2 1200.60h2.00M342.1 1200.60h2.00M384.1 1200.60h2.00M406.1 1200.60h2.00M422.1 1200.60h2.00M430.1 1200.60h2.00M528.0 1200.60h2.00M562.0 1200.60h2.00M64.2 1213.40h2.00M116.2 1213.40h2.00M138.2 1213.40h2.00M142.2 1213.40h2.00M170.2 1213.40h2.00M182.2 1213.40h2.00M196.2 1213.40h2.00M210.2 1213.40h2.00M224.1 1213.40h2.00M266.1 1213.40h2.00M326.1 1213.40h4.00M356.1 1213.40h2.00M418.1 1213.40h2.00M434.1 1213.40h2.00M438.1 1213.40h2.00M444.1 1213.40h2.00M458.1 1213.40h2.00M466.1 1213.40h2.00M508.1 1213.40h4.00M578.0 1213.40h2.00M598.0 1213.40h2.00M624.0 1213.40h2.00M636.0 1213.40h2.00M86.2 1226.20h2.00M118.2 1226.20h2.00M132.2 1226.20h2.00M142.2 1226.20h2.00M160.2 1226.20h2.00M186.2 1226.20h2.00M216.1 1226.20h2.00M286.1 1226.20h2.00M370.1 1226.20h2.00M384.1 1226.20h2.00M422.1 1226.20h2.00M462.1 1226.20h2.00M470.1 1226.20h2.00M476.1 1226.20h2.00M492.1 1226.20h2.00M554.0 1226.20h2.00M574.0 1226.20h2.00M598.0 1226.20h2.00M620.0 1226.20h2.00M648.0 1226.20h2.00M206.2 1239.00h2.00M300.1 1239.00h2.00M336.1 1239.00h2.00M382.1 1239.00h2.00M520.1 1239.00h2.00M556.0 1239.00h2.00M612.0 1239.00h2.00M636.0 1239.00h4.00M132.2 1251.80h2.00M150.2 1251.80h2.00M196.2 1251.80h2.00M232.1 1251.80h2.00M330.1 1251.80h2.00M548.0 1251.80h2.00M68.2 1264.60h2.00M72.2 1264.60h2.00M84.2 1264.60h2.00M106.2 1264.60h2.00M132.2 1264.60h2.00M164.2 1264.60h2.00M194.2 1264.60h2.00M240.1 1264.60h2.00M248.1 1264.60h2.00M270.1 1264.60h2.00M346.1 1264.60h2.00M368.1 1264.60h2.00M382.1 1264.60h2.00M450.1 1264.60h2.00M456.1 1264.60h2.00M484.1 1264.60h2.00M488.1 1264.60h2.00M542.0 1264.60h2.00M548.0 1264.60h2.00M566.0 1264.60h2.00M616.0 1264.60h2.00M658.0 1264.60h2.00M664.0 1264.60h2.00M676.0 1264.60h2.00M94.2 1277.40h2.00M136.2 1277.40h2.00M182.2 1277.40h2.00M406.1 1277.40h2.00M434.1 1277.40h2.00M454.1 1277.40h4.00M492.1 1277.40h2.00M520.1 1277.40h4.00M676.0 1277.40h2.00"/>
<path stroke="#f1f2c9" d="M214.2 816.60h2.00M520.1 1008.60h2.00M490.1 1021.40h2.00M216.1 1034.20h2.00M540.0 1034.20h2.00M376.1 1072.60h2.00M194.2 1085.40h2.00M282.1 1085.40h2.00M86.2 1149.40h2.00M90.2 1149.40h2.00M116.2 1149.40h2.00M228.1 1149.40h2.00M236.1 1149.40h2.00M244.1 1149.40h2.00M266.1 1149.40h2.00M272.1 1149.40h2.00M294.1 1149.40h2.00M344.1 1149.40h2.00M358.1 1149.40h2.00M366.1 1149.40h2.00M370.1 1149.40h2.00M440.1 1149.40h2.00M536.0 1149.40h2.00M546.0 1149.40h2.00M592.0 1149.40h2.00M608.0 1149.40h2.00M634.0 1149.40h2.00M660.0 1149.40h2.00M92.2 1162.20h2.00M96.2 1162.20h2.00M114.2 1162.20h2.00M170.2 1162.20h2.00M192.2 1162.20h2.00M222.1 1162.20h2.00M260.1 1162.20h2.00M272.1 1162.20h2.00M310.1 1162.20h2.00M338.1 1162.20h2.00M442.1 1162.20h2.00M450.1 1162.20h2.00M478.1 1162.20h2.00M540.0 1162.20h2.00M548.0 1162.20h2.00M554.0 1162.20h2.00M608.0 1162.20h2.00M666.0 1162.20h2.00M230.1 1175.00h2.00M396.1 1175.00h2.00M404.1 1175.00h2.00M474.1 1175.00h2.00M496.1 1175.00h2.00M534.0 1175.00h2.00M648.0 1175.00h2.00M656.0 1175.00h2.00M674.0 1175.00h2.00M142.2 1187.80h2.00M278.1 1187.80h2.00M296.1 1187.80h2.00M370.1 1187.80h2.00M462.1 1187.80h2.00M494.1 1187.80h2.00M552.0 1187.80h2.00M572.0 1187.80h4.00M578.0 1187.80h2.00M582.0 1187.80h2.00M100.2 1200.60h2.00M142.2 1200.60h2.00M308.1 1200.60h2.00M328.1 1200.60h2.00M352.1 1200.60h2.00M362.1 1200.60h2.00M436.1 1200.60h4.00M476.1 1200.60h2.00M494.1 1200.60h2.00M642.0 1200.60h2.00M68.2 1213.40h2.00M78.2 1213.40h4.00M112.2 1213.40h2.00M128.2 1213.40h2.00M162.2 1213.40h4.00M174.2 1213.40h2.00M188.2 1213.40h2.00M212.2 1213.40h2.00M232.1 1213.40h2.00M316.1 1213.40h2.00M332.1 1213.40h2.00M378.1 1213.40h2.00M386.1 1213.40h2.00M476.1 1213.40h2.00M496.1 1213.40h2.00M522.1 1213.40h2.00M526.0 1213.40h2.00M580.0 1213.40h2.00M592.0 1213.40h2.00M610.0 1213.40h2.00M638.0 1213.40h2.00M652.0 1213.40h2.00M74.2 1226.20h2.00M110.2 1226.20h2.00M126.2 1226.20h2.00M176.2 1226.20h2.00M208.2 1226.20h2.00M218.1 1226.20h2.00M306.1 1226.20h2.00M310.1 1226.20h2.00M340.1 1226.20h2.00M344.1 1226.20h2.00M394.1 1226.20h2.00M418.1 1226.20h2.00M428.1 1226.20h2.00M460.1 1226.20h2.00M482.1 1226.20h2.00M510.1 1226.20h2.00M516.1 1226.20h2.00M528.0 1226.20h2.00M602.0 1226.20h2.00M628.0 1226.20h2.00M636.0 1226.20h2.00M122.2 1239.00h2.00M140.2 1239.00h2.00M184.2 1239.00h2.00M268.1 1239.00h2.00M350.1 1239.00h2.00M410.1 1239.00h2.00M498.1 1239.00h2.00M552.0 1239.00h2.00M582.0 1239.00h2.00M620.0 1239.00h2.00M630.0 1239.00h2.00M644.0 1239.00h2.00M290.1 1251.80h2.00M328.1 1251.80h2.00M374.1 1251.80h2.00M392.1 1251.80h2.00M66.2 1264.60h2.00M204.2 1264.60h2.00M300.1 1264.60h2.00M314.1 1264.60h2.00M340.1 1264.60h2.00M376.1 1264.60h2.00M440.1 1264.60h2.00M448.1 1264.60h2.00M470.1 1264.60h2.00M608.0 1264.60h2.00M152.2 1277.40h2.00M242.1 1277.40h2.00M346.1 1277.40h2.00M376.1 1277.40h2.00M482.1 1277.40h2.00M582.0 1277.40h2.00M626.0 1277.40h6.00M638.0 1277.40h2.00"/>
<path stroke="#f3f1ba" d="M62.2 1008.60h2.00M376.1 1008.60h2.00M542.0 1008.60h2.00M588.0 1008.60h2.00M624.0 1008.60h2.00M666.0 1008.60h2.00M670.0 1008.60h2.00M62.2 1034.20h2.00M488.1 1034.20h2.00M94.2 1047.00h2.00M402.1 1059.80h2.00M456.1 1059.80h2.00M612.0 1059.80h2.00M630.0 1059.80h2.00M164.2 1072.60h2.00M232.1 1072.60h2.00M124.2 1085.40h2.00M178.2 1085.40h2.00M374.1 1085.40h2.00M392.1 1085.40h4.00M448.1 1085.40h2.00M520.1 1085.40h2.00M524.0 1085.40h2.00M374.1 1098.20h2.00M520.1 1098.20h2.00M608.0 1098.20h2.00M240.1 1111.00h2.00M402.1 1111.00h2.00M532.0 1111.00h2.00M604.0 1111.00h2.00M92.2 1123.80h2.00M524.0 1123.80h2.00M560.0 1136.60h2.00M626.0 1136.60h2.00M200.2 1149.40h2.00M216.1 1149.40h2.00M226.1 1149.40h2.00M350.1 1149.40h2.00M418.1 1149.40h2.00M452.1 1149.40h2.00M474.1 1149.40h2.00M674.0 1149.40h2.00M150.2 1162.20h4.00M184.2 1162.20h2.00M196.2 1162.20h2.00M216.1 1162.20h2.00M230.1 1162.20h2.00M284.1 1162.20h4.00M344.1 1162.20h2.00M356.1 1162.20h2.00M376.1 1162.20h2.00M406.1 1162.20h2.00M432.1 1162.20h2.00M470.1 1162.20h2.00M490.1 1162.20h2.00M544.0 1162.20h2.00M586.0 1162.20h2.00M644.0 1162.20h4.00M94.2 1187.80h2.00M184.2 1187.80h2.00M306.1 1187.80h2.00M458.1 1187.80h2.00M596.0 1187.80h2.00M640.0 1187.80h2.00M68.2 1200.60h2.00M132.2 1200.60h2.00M140.2 1200.60h2.00M170.2 1200.60h2.00M184.2 1200.60h2.00M196.2 1200.60h2.00M216.1 1200.60h2.00M380.1 1200.60h2.00M394.1 1200.60h2.00M424.1 1200.60h2.00M488.1 1200.60h2.00M496.1 1200.60h2.00M512.1 1200.60h2.00M532.0 1200.60h2.00M538.0 1200.60h2.00M550.0 1200.60h2.00M560.0 1200.60h2.00M604.0 1200.60h2.00M610.0 1200.60h2.00M662.0 1200.60h2.00M114.2 1213.40h2.00M134.2 1213.40h2.00M166.2 1213.40h2.00M230.1 1213.40h2.00M256.1 1213.40h2.00M300.1 1213.40h2.00M312.1 1213.40h2.00M322.1 1213.40h4.00M350.1 1213.40h4.00M358.1 1213.40h2.00M374.1 1213.40h2.00M402.1 1213.40h2.00M440.1 1213.40h2.00M484.1 1213.40h2.00M488.1 1213.40h2.00M550.0 1213.40h2.00M562.0 1213.40h2.00M568.0 1213.40h2.00M582.0 1213.40h2.00M602.0 1213.40h4.00M656.0 1213.40h2.00M672.0 1213.40h2.00M62.2 1226.20h2.00M66.2 1226.20h2.00M78.2 1226.20h2.00M92.2 1226.20h2.00M114.2 1226.20h2.00M164.2 1226.20h2.00M172.2 1226.20h2.00M190.2 1226.20h4.00M224.1 1226.20h2.00M232.1 1226.20h2.00M236.1 1226.20h2.00M242.1 1226.20h2.00M252.1 1226.20h2.00M342.1 1226.20h2.00M364.1 1226.20h2.00M376.1 1226.20h2.00M392.1 1226.20h2.00M424.1 1226.20h2.00M432.1 1226.20h2.00M436.1 1226.20h2.00M446.1 1226.20h4.00M464.1 1226.20h2.00M504.1 1226.20h2.00M508.1 1226.20h2.00M518.1 1226.20h2.00M550.0 1226.20h4.00M560.0 1226.20h2.00M590.0 1226.20h2.00M600.0 1226.20h2.00M670.0 1226.20h4.00M92.2 1239.00h2.00M124.2 1239.00h2.00M168.2 1239.00h2.00M196.2 1239.00h2.00M288.1 1239.00h2.00M332.1 1239.00h2.00M346.1 1239.00h2.00M372.1 1239.00h2.00M394.1 1239.00h2.00M430.1 1239.00h2.00M450.1 1239.00h2.00M458.1 1239.00h2.00M472.1 1239.00h2.00M548.0 1239.00h2.00M566.0 1239.00h2.00M602.0 1239.00h2.00M616.0 1239.00h2.00M624.0 1239.00h2.00M650.0 1239.00h2.00M676.0 1239.00h2.00M72.2 1251.80h2.00M102.2 1251.80h2.00M222.1 1251.80h2.00M250.1 1251.80h2.00M270.1 1251.80h2.00M300.1 1251.80h2.00M310.1 1251.80h2.00M344.1 1251.80h2.00M376.1 1251.80h2.00M460.1 1251.80h2.00M478.1 1251.80h2.00M486.1 1251.80h2.00M522.1 1251.80h2.00M538.0 1251.80h2.00M600.0 1251.80h2.00M614.0 1251.80h2.00M630.0 1251.80h4.00M670.0 1251.80h2.00M76.2 1264.60h2.00M98.2 1264.60h2.00M112.2 1264.60h2.00M144.2 1264.60h2.00M158.2 1264.60h2.00M168.2 1264.60h2.00M178.2 1264.60h2.00M192.2 1264.60h2.00M200.2 1264.60h2.00M210.2 1264.60h4.00M218.1 1264.60h4.00M232.1 1264.60h2.00M242.1 1264.60h2.00M246.1 1264.60h2.00M276.1 1264.60h2.00M294.1 1264.60h2.00M310.1 1264.60h4.00M316.1 1264.60h2.00M332.1 1264.60h2.00M344.1 1264.60h2.00M362.1 1264.60h2.00M372.1 1264.60h2.00M398.1 1264.60h2.00M444.1 1264.60h2.00M468.1 1264.60h2.00M518.1 1264.60h2.00M536.0 1264.60h2.00M562.0 1264.60h2.00M572.0 1264.60h2.00M602.0 1264.60h4.00M622.0 1264.60h2.00M630.0 1264.60h6.00M650.0 1264.60h2.00M654.0 1264.60h2.00M662.0 1264.60h2.00M666.0 1264.60h2.00M64.2 1277.40h2.00M98.2 1277.40h2.00M102.2 1277.40h2.00M106.2 1277.40h2.00M132.2 1277.40h2.00M140.2 1277.40h2.00M146.2 1277.40h2.00M194.2 1277.40h2.00M220.1 1277.40h2.00M226.1 1277.40h2.00M240.1 1277.40h2.00M244.1 1277.40h2.00M248.1 1277.40h2.00M260.1 1277.40h2.00M308.1 1277.40h2.00M312.1 1277.40h2.00M316.1 1277.40h2.00M362.1 1277.40h2.00M366.1 1277.40h2.00M388.1 1277.40h2.00M392.1 1277.40h2.00M476.1 1277.40h2.00M528.0 1277.40h2.00M596.0 1277.40h2.00M670.0 1277.40h2.00"/>
<path stroke="#e9f0dd" d="M124.2 1008.60h2.00M94.2 1149.40h2.00M98.2 1149.40h2.00M106.2 1149.40h2.00M122.2 1149.40h2.00M130.2 1149.40h2.00M152.2 1149.40h2.00M162.2 1149.40h2.00M202.2 1149.40h2.00M230.1 1149.40h2.00M258.1 1149.40h2.00M268.1 1149.40h2.00M274.1 1149.40h2.00M288.1 1149.40h2.00M302.1 1149.40h2.00M312.1 1149.40h2.00M396.1 1149.40h2.00M402.1 1149.40h2.00M456.1 1149.40h2.00M476.1 1149.40h2.00M490.1 1149.40h2.00M512.1 1149.40h2.00M548.0 1149.40h2.00M560.0 1149.40h2.00M568.0 1149.40h2.00M614.0 1149.40h2.00M618.0 1149.40h2.00M622.0 1149.40h2.00M656.0 1149.40h2.00M664.0 1149.40h4.00M168.2 1162.20h2.00M236.1 1162.20h2.00M392.1 1162.20h2.00M64.2 1175.00h2.00M88.2 1175.00h2.00M94.2 1175.00h2.00M108.2 1175.00h2.00M116.2 1175.00h4.00M132.2 1175.00h2.00M142.2 1175.00h2.00M168.2 1175.00h2.00M182.2 1175.00h6.00M190.2 1175.00h2.00M198.2 1175.00h2.00M208.2 1175.00h2.00M262.1 1175.00h2.00M266.1 1175.00h2.00M296.1 1175.00h2.00M310.1 1175.00h2.00M314.1 1175.00h2.00M356.1 1175.00h2.00M360.1 1175.00h2.00M384.1 1175.00h2.00M388.1 1175.00h2.00M410.1 1175.00h6.00M418.1 1175.00h2.00M436.1 1175.00h2.00M504.1 1175.00h2.00M520.1 1175.00h2.00M528.0 1175.00h2.00M532.0 1175.00h2.00M548.0 1175.00h2.00M554.0 1175.00h2.00M562.0 1175.00h2.00M570.0 1175.00h2.00M584.0 1175.00h2.00M594.0 1175.00h2.00M598.0 1175.00h2.00M610.0 1175.00h2.00M628.0 1175.00h2.00M632.0 1175.00h2.00M640.0 1175.00h2.00M644.0 1175.00h2.00M650.0 1175.00h2.00M654.0 1175.00h2.00M664.0 1175.00h4.00M62.2 1187.80h2.00M116.2 1187.80h2.00M144.2 1187.80h2.00M152.2 1187.80h2.00M228.1 1187.80h2.00M234.1 1187.80h2.00M242.1 1187.80h2.00M266.1 1187.80h2.00M272.1 1187.80h4.00M280.1 1187.80h2.00M292.1 1187.80h2.00M340.1 1187.80h2.00M346.1 1187.80h2.00M374.1 1187.80h2.00M392.1 1187.80h2.00M400.1 1187.80h2.00M468.1 1187.80h2.00M474.1 1187.80h4.00M506.1 1187.80h4.00M526.0 1187.80h4.00M580.0 1187.80h2.00M586.0 1187.80h2.00M624.0 1187.80h2.00M628.0 1187.80h2.00M650.0 1187.80h2.00M656.0 1187.80h2.00M674.0 1187.80h2.00M116.2 1200.60h2.00M218.1 1200.60h2.00M132.2 1213.40h2.00M348.1 1213.40h2.00M406.1 1213.40h2.00M492.1 1213.40h2.00M376.1 1239.00h2.00M636.0 1264.60h2.00"/>
<path stroke="#f0f3ce" d="M548.0 1021.40h2.00M660.0 1021.40h2.00M542.0 1085.40h2.00M104.2 1149.40h2.00M118.2 1149.40h2.00M174.2 1149.40h4.00M180.2 1149.40h2.00M210.2 1149.40h2.00M214.2 1149.40h2.00M234.1 1149.40h2.00M242.1 1149.40h2.00M264.1 1149.40h2.00M286.1 1149.40h2.00M338.1 1149.40h2.00M348.1 1149.40h2.00M368.1 1149.40h2.00M414.1 1149.40h2.00M420.1 1149.40h2.00M442.1 1149.40h4.00M496.1 1149.40h2.00M502.1 1149.40h2.00M506.1 1149.40h2.00M518.1 1149.40h2.00M526.0 1149.40h2.00M532.0 1149.40h4.00M572.0 1149.40h2.00M586.0 1149.40h2.00M602.0 1149.40h2.00M632.0 1149.40h2.00M644.0 1149.40h2.00M648.0 1149.40h4.00M676.0 1149.40h2.00M186.2 1162.20h2.00M292.1 1162.20h2.00M298.1 1162.20h2.00M330.1 1162.20h2.00M394.1 1162.20h2.00M408.1 1162.20h2.00M412.1 1162.20h2.00M472.1 1162.20h2.00M620.0 1162.20h2.00M670.0 1162.20h2.00M62.2 1175.00h2.00M104.2 1175.00h2.00M150.2 1175.00h2.00M166.2 1175.00h2.00M176.2 1175.00h2.00M202.2 1175.00h2.00M214.2 1175.00h2.00M222.1 1175.00h2.00M292.1 1175.00h2.00M308.1 1175.00h2.00M328.1 1175.00h2.00M344.1 1175.00h2.00M352.1 1175.00h2.00M386.1 1175.00h2.00M432.1 1175.00h2.00M468.1 1175.00h2.00M482.1 1175.00h2.00M492.1 1175.00h2.00M542.0 1175.00h4.00M638.0 1175.00h2.00M652.0 1175.00h2.00M176.2 1187.80h2.00M182.2 1187.80h2.00M204.2 1187.80h2.00M210.2 1187.80h2.00M264.1 1187.80h2.00M308.1 1187.80h2.00M334.1 1187.80h2.00M338.1 1187.80h2.00M350.1 1187.80h2.00M378.1 1187.80h2.00M398.1 1187.80h2.00M420.1 1187.80h2.00M432.1 1187.80h4.00M470.1 1187.80h2.00M498.1 1187.80h2.00M510.1 1187.80h2.00M544.0 1187.80h2.00M570.0 1187.80h2.00M634.0 1187.80h2.00M648.0 1187.80h2.00M664.0 1187.80h2.00M122.2 1200.60h2.00M220.1 1200.60h2.00M230.1 1200.60h2.00M236.1 1200.60h2.00M246.1 1200.60h2.00M340.1 1200.60h2.00M370.1 1200.60h2.00M522.1 1200.60h2.00M564.0 1200.60h2.00M666.0 1200.60h2.00M98.2 1213.40h2.00M180.2 1213.40h2.00M222.1 1213.40h2.00M248.1 1213.40h2.00M294.1 1213.40h2.00M314.1 1213.40h2.00M338.1 1213.40h2.00M346.1 1213.40h2.00M470.1 1213.40h2.00M530.0 1213.40h2.00M616.0 1213.40h2.00M654.0 1213.40h2.00M122.2 1226.20h2.00M166.2 1226.20h2.00M234.1 1226.20h2.00M278.1 1226.20h2.00M328.1 1226.20h2.00M412.1 1226.20h2.00M468.1 1226.20h2.00M472.1 1226.20h2.00M546.0 1226.20h2.00M642.0 1226.20h2.00M356.1 1239.00h2.00M614.0 1239.00h2.00M62.2 1251.80h2.00M258.1 1251.80h2.00M520.1 1251.80h2.00M160.2 1264.60h2.00M206.2 1264.60h2.00M392.1 1264.60h2.00M402.1 1264.60h2.00M454.1 1264.60h2.00M458.1 1264.60h2.00M552.0 1264.60h2.00M556.0 1264.60h2.00M84.2 1277.40h2.00M458.1 1277.40h2.00M552.0 1277.40h2.00"/>
<path stroke="#edf3d7" d="M60.2 1149.40h2.00M68.2 1149.40h2.00M108.2 1149.40h2.00M126.2 1149.40h4.00M148.2 1149.40h4.00M188.2 1149.40h2.00M208.2 1149.40h2.00M222.1 1149.40h2.00M232.1 1149.40h2.00M282.1 1149.40h2.00M306.1 1149.40h2.00M320.1 1149.40h2.00M342.1 1149.40h2.00M374.1 1149.40h2.00M382.1 1149.40h2.00M390.1 1149.40h2.00M424.1 1149.40h2.00M464.1 1149.40h4.00M482.1 1149.40h2.00M492.1 1149.40h2.00M508.1 1149.40h2.00M540.0 1149.40h2.00M606.0 1149.40h2.00M610.0 1149.40h4.00M628.0 1149.40h2.00M652.0 1149.40h4.00M140.2 1162.20h2.00M250.1 1162.20h2.00M328.1 1162.20h2.00M80.2 1175.00h2.00M90.2 1175.00h2.00M144.2 1175.00h2.00M160.2 1175.00h2.00M174.2 1175.00h2.00M228.1 1175.00h2.00M254.1 1175.00h2.00M264.1 1175.00h2.00M312.1 1175.00h2.00M320.1 1175.00h2.00M324.1 1175.00h2.00M358.1 1175.00h2.00M362.1 1175.00h2.00M476.1 1175.00h2.00M480.1 1175.00h2.00M500.1 1175.00h2.00M546.0 1175.00h2.00M574.0 1175.00h2.00M586.0 1175.00h2.00M592.0 1175.00h2.00M626.0 1175.00h2.00M642.0 1175.00h2.00M662.0 1175.00h2.00M98.2 1187.80h2.00M104.2 1187.80h2.00M124.2 1187.80h2.00M192.2 1187.80h2.00M202.2 1187.80h2.00M250.1 1187.80h2.00M318.1 1187.80h2.00M348.1 1187.80h2.00M352.1 1187.80h2.00M386.1 1187.80h2.00M406.1 1187.80h2.00M410.1 1187.80h2.00M444.1 1187.80h2.00M480.1 1187.80h2.00M512.1 1187.80h2.00M630.0 1187.80h2.00M646.0 1187.80h2.00M144.2 1200.60h2.00M672.0 1200.60h2.00M92.2 1213.40h2.00M158.2 1213.40h2.00M184.2 1213.40h2.00M190.2 1213.40h2.00M208.2 1213.40h2.00M252.1 1213.40h2.00M306.1 1213.40h2.00M380.1 1213.40h2.00M422.1 1213.40h2.00M490.1 1213.40h2.00M634.0 1213.40h2.00M68.2 1226.20h2.00M194.2 1226.20h2.00M290.1 1226.20h2.00M302.1 1226.20h2.00M362.1 1226.20h2.00M458.1 1226.20h2.00M534.0 1226.20h2.00M634.0 1226.20h2.00M664.0 1226.20h2.00M94.2 1239.00h2.00M134.2 1239.00h2.00M152.2 1264.60h2.00M184.2 1264.60h2.00M588.0 1264.60h2.00M624.0 1264.60h2.00M186.2 1277.40h2.00M448.1 1277.40h2.00"/>
<path stroke="#ebf2da" d="M66.2 1149.40h2.00M70.2 1149.40h4.00M78.2 1149.40h2.00M100.2 1149.40h2.00M110.2 1149.40h2.00M142.2 1149.40h2.00M170.2 1149.40h2.00M178.2 1149.40h2.00M184.2 1149.40h2.00M190.2 1149.40h2.00M194.2 1149.40h2.00M206.2 1149.40h2.00M248.1 1149.40h4.00M262.1 1149.40h2.00M278.1 1149.40h2.00M298.1 1149.40h2.00M318.1 1149.40h2.00M324.1 1149.40h2.00M332.1 1149.40h6.00M354.1 1149.40h2.00M360.1 1149.40h2.00M388.1 1149.40h2.00M412.1 1149.40h2.00M416.1 1149.40h2.00M446.1 1149.40h2.00M556.0 1149.40h2.00M576.0 1149.40h2.00M596.0 1149.40h2.00M620.0 1149.40h2.00M640.0 1149.40h4.00M668.0 1149.40h2.00M122.2 1162.20h2.00M536.0 1162.20h2.00M60.2 1175.00h2.00M70.2 1175.00h4.00M112.2 1175.00h2.00M126.2 1175.00h4.00M134.2 1175.00h2.00M140.2 1175.00h2.00M156.2 1175.00h2.00M172.2 1175.00h2.00M216.1 1175.00h2.00M224.1 1175.00h2.00M234.1 1175.00h2.00M244.1 1175.00h2.00M248.1 1175.00h2.00M256.1 1175.00h2.00M280.1 1175.00h2.00M286.1 1175.00h2.00M302.1 1175.00h2.00M332.1 1175.00h2.00M354.1 1175.00h2.00M370.1 1175.00h4.00M398.1 1175.00h2.00M430.1 1175.00h2.00M440.1 1175.00h2.00M446.1 1175.00h2.00M464.1 1175.00h2.00M472.1 1175.00h2.00M494.1 1175.00h2.00M502.1 1175.00h2.00M506.1 1175.00h2.00M518.1 1175.00h2.00M646.0 1175.00h2.00M64.2 1187.80h2.00M68.2 1187.80h2.00M84.2 1187.80h2.00M154.2 1187.80h2.00M206.2 1187.80h2.00M226.1 1187.80h2.00M240.1 1187.80h2.00M244.1 1187.80h2.00M252.1 1187.80h4.00M288.1 1187.80h2.00M360.1 1187.80h4.00M396.1 1187.80h2.00M414.1 1187.80h2.00M436.1 1187.80h2.00M484.1 1187.80h2.00M530.0 1187.80h2.00M550.0 1187.80h2.00M562.0 1187.80h2.00M568.0 1187.80h2.00M602.0 1187.80h2.00M612.0 1187.80h2.00M632.0 1187.80h2.00M654.0 1187.80h2.00M166.2 1200.60h2.00M290.1 1200.60h2.00M168.2 1213.40h2.00M206.2 1213.40h2.00M234.1 1213.40h2.00M334.1 1213.40h2.00M394.1 1213.40h2.00M460.1 1213.40h2.00M498.1 1213.40h2.00M512.1 1213.40h2.00M534.0 1213.40h2.00M564.0 1213.40h2.00M256.1 1226.20h2.00M478.1 1226.20h2.00M186.2 1264.60h2.00M524.0 1264.60h2.00M206.2 1277.40h2.00M298.1 1277.40h2.00M170.2 1303.00h2.00M656.0 1303.00h2.00"/>
<path stroke="#e4eee3" d="M84.2 1149.40h2.00M88.2 1149.40h2.00M158.2 1149.40h2.00M186.2 1149.40h2.00M240.1 1149.40h2.00M330.1 1149.40h2.00M552.0 1149.40h2.00M584.0 1149.40h2.00M604.0 1149.40h2.00M638.0 1149.40h2.00M402.1 1162.20h2.00M66.2 1175.00h2.00M86.2 1175.00h2.00M98.2 1175.00h2.00M102.2 1175.00h2.00M106.2 1175.00h2.00M110.2 1175.00h2.00M122.2 1175.00h4.00M148.2 1175.00h2.00M170.2 1175.00h2.00M178.2 1175.00h2.00M218.1 1175.00h2.00M246.1 1175.00h2.00M258.1 1175.00h2.00M276.1 1175.00h2.00M282.1 1175.00h4.00M294.1 1175.00h2.00M318.1 1175.00h2.00M338.1 1175.00h2.00M376.1 1175.00h2.00M392.1 1175.00h4.00M400.1 1175.00h4.00M416.1 1175.00h2.00M424.1 1175.00h2.00M428.1 1175.00h2.00M438.1 1175.00h2.00M452.1 1175.00h2.00M460.1 1175.00h4.00M486.1 1175.00h6.00M498.1 1175.00h2.00M568.0 1175.00h2.00M580.0 1175.00h2.00M608.0 1175.00h2.00M74.2 1187.80h2.00M96.2 1187.80h2.00M118.2 1187.80h4.00M130.2 1187.80h2.00M136.2 1187.80h2.00M188.2 1187.80h4.00M214.2 1187.80h2.00M262.1 1187.80h2.00M336.1 1187.80h2.00M344.1 1187.80h2.00M382.1 1187.80h2.00M394.1 1187.80h2.00M404.1 1187.80h2.00M412.1 1187.80h2.00M422.1 1187.80h4.00M448.1 1187.80h2.00M460.1 1187.80h2.00M464.1 1187.80h4.00M522.1 1187.80h2.00M534.0 1187.80h2.00M542.0 1187.80h2.00M564.0 1187.80h2.00M584.0 1187.80h2.00M636.0 1187.80h2.00M672.0 1187.80h2.00M286.1 1213.40h2.00M290.1 1213.40h2.00M564.0 1226.20h2.00M94.2 1264.60h2.00M208.2 1303.00h2.00M432.1 1303.00h2.00M596.0 1303.00h2.00"/>
<path stroke="#dfecea" d="M96.2 1149.40h2.00M392.1 1149.40h2.00M434.1 1149.40h2.00M530.0 1149.40h2.00M68.2 1175.00h2.00M152.2 1175.00h2.00M206.2 1175.00h2.00M240.1 1175.00h2.00M298.1 1175.00h2.00M322.1 1175.00h2.00M336.1 1175.00h2.00M346.1 1175.00h4.00M406.1 1175.00h2.00M448.1 1175.00h2.00M552.0 1175.00h2.00M564.0 1175.00h2.00M602.0 1175.00h2.00M676.0 1175.00h2.00M106.2 1187.80h2.00M134.2 1187.80h2.00M148.2 1187.80h2.00M170.2 1187.80h2.00M194.2 1187.80h2.00M198.2 1187.80h2.00M314.1 1187.80h2.00M364.1 1187.80h2.00M438.1 1187.80h2.00M442.1 1187.80h2.00M70.2 1303.00h2.00M86.2 1303.00h2.00M304.1 1303.00h2.00M436.1 1303.00h2.00M446.1 1303.00h4.00M480.1 1303.00h2.00M494.1 1303.00h2.00M500.1 1303.00h2.00M632.0 1303.00h2.00"/>
<path stroke="#e2ede7" d="M132.2 1149.40h4.00M140.2 1149.40h2.00M182.2 1149.40h2.00M204.2 1149.40h2.00M246.1 1149.40h2.00M340.1 1149.40h2.00M376.1 1149.40h2.00M450.1 1149.40h2.00M514.1 1149.40h2.00M564.0 1149.40h2.00M624.0 1149.40h2.00M630.0 1149.40h2.00M78.2 1175.00h2.00M96.2 1175.00h2.00M120.2 1175.00h2.00M164.2 1175.00h2.00M194.2 1175.00h2.00M212.2 1175.00h2.00M220.1 1175.00h2.00M270.1 1175.00h2.00M316.1 1175.00h2.00M330.1 1175.00h2.00M342.1 1175.00h2.00M374.1 1175.00h2.00M378.1 1175.00h2.00M466.1 1175.00h2.00M470.1 1175.00h2.00M522.1 1175.00h2.00M560.0 1175.00h2.00M614.0 1175.00h2.00M618.0 1175.00h2.00M624.0 1175.00h2.00M630.0 1175.00h2.00M634.0 1175.00h4.00M70.2 1187.80h4.00M80.2 1187.80h4.00M88.2 1187.80h2.00M92.2 1187.80h2.00M126.2 1187.80h2.00M138.2 1187.80h2.00M150.2 1187.80h2.00M156.2 1187.80h2.00M172.2 1187.80h2.00M186.2 1187.80h2.00M238.1 1187.80h2.00M248.1 1187.80h2.00M342.1 1187.80h2.00M408.1 1187.80h2.00M446.1 1187.80h2.00M496.1 1187.80h2.00M514.1 1187.80h2.00M554.0 1187.80h2.00M590.0 1187.80h2.00M594.0 1187.80h2.00M614.0 1187.80h2.00M620.0 1187.80h2.00M644.0 1187.80h2.00M62.2 1303.00h2.00M222.1 1303.00h2.00M364.1 1303.00h2.00M378.1 1303.00h2.00M428.1 1303.00h2.00M490.1 1303.00h2.00M598.0 1303.00h2.00M668.0 1303.00h2.00"/>
<path stroke="#ddeaed" d="M156.2 1149.40h2.00M346.1 1149.40h2.00M410.1 1149.40h2.00M484.1 1149.40h2.00M82.2 1175.00h4.00M196.2 1175.00h2.00M268.1 1175.00h2.00M366.1 1175.00h2.00M444.1 1175.00h2.00M450.1 1175.00h2.00M484.1 1175.00h2.00M606.0 1175.00h2.00M616.0 1175.00h2.00M620.0 1175.00h2.00M100.2 1187.80h2.00M140.2 1187.80h2.00M246.1 1187.80h2.00M304.1 1187.80h2.00M402.1 1187.80h2.00M472.1 1187.80h2.00M482.1 1187.80h2.00M588.0 1187.80h2.00M666.0 1187.80h2.00M66.2 1303.00h2.00M78.2 1303.00h2.00M150.2 1303.00h2.00M200.2 1303.00h2.00M218.1 1303.00h2.00M224.1 1303.00h2.00M236.1 1303.00h2.00M266.1 1303.00h2.00M280.1 1303.00h2.00M398.1 1303.00h2.00M408.1 1303.00h2.00M426.1 1303.00h2.00M482.1 1303.00h2.00M512.1 1303.00h2.00M566.0 1303.00h2.00M570.0 1303.00h2.00M644.0 1303.00h2.00"/>
<path stroke="#e6efe0" d="M164.2 1149.40h2.00M196.2 1149.40h2.00M212.2 1149.40h2.00M218.1 1149.40h2.00M276.1 1149.40h2.00M284.1 1149.40h2.00M290.1 1149.40h2.00M310.1 1149.40h2.00M372.1 1149.40h2.00M378.1 1149.40h2.00M384.1 1149.40h2.00M458.1 1149.40h2.00M468.1 1149.40h4.00M498.1 1149.40h2.00M520.1 1149.40h2.00M524.0 1149.40h2.00M554.0 1149.40h2.00M574.0 1149.40h2.00M582.0 1149.40h2.00M590.0 1149.40h2.00M658.0 1149.40h2.00M670.0 1149.40h4.00M74.2 1175.00h2.00M130.2 1175.00h2.00M154.2 1175.00h2.00M158.2 1175.00h2.00M162.2 1175.00h2.00M180.2 1175.00h2.00M188.2 1175.00h2.00M204.2 1175.00h2.00M210.2 1175.00h2.00M226.1 1175.00h2.00M232.1 1175.00h2.00M238.1 1175.00h2.00M242.1 1175.00h2.00M252.1 1175.00h2.00M260.1 1175.00h2.00M272.1 1175.00h4.00M278.1 1175.00h2.00M290.1 1175.00h2.00M326.1 1175.00h2.00M334.1 1175.00h2.00M340.1 1175.00h2.00M368.1 1175.00h2.00M382.1 1175.00h2.00M408.1 1175.00h2.00M434.1 1175.00h2.00M454.1 1175.00h6.00M508.1 1175.00h2.00M512.1 1175.00h4.00M524.0 1175.00h2.00M530.0 1175.00h2.00M540.0 1175.00h2.00M558.0 1175.00h2.00M576.0 1175.00h2.00M588.0 1175.00h2.00M596.0 1175.00h2.00M600.0 1175.00h2.00M604.0 1175.00h2.00M670.0 1175.00h2.00M86.2 1187.80h2.00M122.2 1187.80h2.00M160.2 1187.80h6.00M168.2 1187.80h2.00M200.2 1187.80h2.00M218.1 1187.80h2.00M236.1 1187.80h2.00M258.1 1187.80h2.00M282.1 1187.80h2.00M300.1 1187.80h4.00M310.1 1187.80h2.00M316.1 1187.80h2.00M324.1 1187.80h2.00M332.1 1187.80h2.00M384.1 1187.80h2.00M428.1 1187.80h2.00M500.1 1187.80h2.00M516.1 1187.80h2.00M536.0 1187.80h2.00M566.0 1187.80h2.00M618.0 1187.80h2.00M676.0 1187.80h2.00M370.1 1213.40h2.00M430.1 1264.60h2.00M306.1 1303.00h2.00M464.1 1303.00h2.00M674.0 1303.00h2.00"/>
<path stroke="#d9e8ed" d="M406.1 1149.40h2.00M566.0 1149.40h2.00M616.0 1149.40h2.00M636.0 1149.40h2.00M212.2 1162.20h2.00M92.2 1175.00h2.00M136.2 1175.00h2.00M146.2 1175.00h2.00M582.0 1175.00h2.00M590.0 1175.00h2.00M102.2 1187.80h2.00M146.2 1187.80h2.00M196.2 1187.80h2.00M212.2 1187.80h2.00M232.1 1187.80h2.00M284.1 1187.80h2.00M290.1 1187.80h2.00M326.1 1187.80h4.00M518.1 1187.80h4.00M600.0 1187.80h2.00M660.0 1187.80h2.00M670.0 1187.80h2.00M74.2 1303.00h2.00M80.2 1303.00h2.00M120.2 1303.00h2.00M138.2 1303.00h2.00M142.2 1303.00h2.00M156.2 1303.00h2.00M160.2 1303.00h2.00M172.2 1303.00h2.00M202.2 1303.00h2.00M342.1 1303.00h4.00M390.1 1303.00h2.00M404.1 1303.00h2.00M418.1 1303.00h2.00M474.1 1303.00h2.00M526.0 1303.00h2.00M530.0 1303.00h2.00"/>
<path stroke="#cbdeea" d="M556.0 1175.00h2.00M298.1 1187.80h2.00M322.1 1187.80h2.00M538.0 1187.80h2.00M616.0 1187.80h2.00M82.2 1303.00h2.00M100.2 1303.00h2.00M110.2 1303.00h2.00M116.2 1303.00h2.00M186.2 1303.00h2.00M198.2 1303.00h2.00M238.1 1303.00h2.00M244.1 1303.00h2.00M264.1 1303.00h2.00M278.1 1303.00h2.00M292.1 1303.00h2.00M296.1 1303.00h2.00M328.1 1303.00h2.00M352.1 1303.00h2.00M472.1 1303.00h2.00M478.1 1303.00h2.00M496.1 1303.00h2.00M506.1 1303.00h4.00M516.1 1303.00h4.00M546.0 1303.00h2.00M590.0 1303.00h2.00M600.0 1303.00h2.00M640.0 1303.00h2.00"/>
<path stroke="#d4e5ec" d="M658.0 1175.00h2.00M114.2 1187.80h2.00M330.1 1187.80h2.00M376.1 1187.80h2.00M450.1 1187.80h2.00M490.1 1187.80h2.00M546.0 1187.80h2.00M608.0 1187.80h2.00M132.2 1303.00h2.00M148.2 1303.00h2.00M166.2 1303.00h4.00M254.1 1303.00h4.00M326.1 1303.00h2.00M336.1 1303.00h2.00M350.1 1303.00h2.00M414.1 1303.00h2.00M458.1 1303.00h2.00M502.1 1303.00h4.00M510.1 1303.00h2.00M576.0 1303.00h4.00M584.0 1303.00h2.00M654.0 1303.00h2.00"/>
<path stroke="#bcd5e7" d="M132.2 1187.80h2.00M112.2 1303.00h2.00M122.2 1303.00h2.00M140.2 1303.00h2.00M144.2 1303.00h2.00M162.2 1303.00h2.00M178.2 1303.00h2.00M214.2 1303.00h2.00M226.1 1303.00h2.00M240.1 1303.00h2.00M250.1 1303.00h2.00M268.1 1303.00h2.00M338.1 1303.00h2.00M366.1 1303.00h2.00M372.1 1303.00h2.00M394.1 1303.00h2.00M462.1 1303.00h2.00M476.1 1303.00h2.00M540.0 1303.00h2.00M564.0 1303.00h2.00M608.0 1303.00h2.00M646.0 1303.00h2.00M658.0 1303.00h2.00M192.2 1315.80h2.00M344.1 1315.80h2.00M432.1 1315.80h2.00M464.1 1315.80h2.00"/>
<path stroke="#b1cde3" d="M216.1 1187.80h2.00M222.1 1187.80h2.00M492.1 1187.80h2.00M90.2 1303.00h4.00M96.2 1303.00h2.00M176.2 1303.00h2.00M204.2 1303.00h2.00M300.1 1303.00h2.00M312.1 1303.00h2.00M354.1 1303.00h2.00M382.1 1303.00h2.00M440.1 1303.00h2.00M536.0 1303.00h4.00M558.0 1303.00h2.00M582.0 1303.00h2.00M586.0 1303.00h2.00M592.0 1303.00h2.00M602.0 1303.00h2.00M616.0 1303.00h2.00M620.0 1303.00h2.00M648.0 1303.00h2.00M660.0 1303.00h2.00M666.0 1303.00h2.00M90.2 1315.80h2.00M110.2 1315.80h2.00M114.2 1315.80h2.00M184.2 1315.80h2.00M216.1 1315.80h2.00M236.1 1315.80h2.00M254.1 1315.80h2.00M262.1 1315.80h2.00M270.1 1315.80h2.00M428.1 1315.80h2.00M436.1 1315.80h2.00M460.1 1315.80h2.00M474.1 1315.80h2.00M478.1 1315.80h2.00M492.1 1315.80h2.00M496.1 1315.80h2.00M572.0 1315.80h2.00M580.0 1315.80h2.00"/>
<path stroke="#c1d8e8" d="M320.1 1187.80h2.00M488.1 1187.80h2.00M72.2 1303.00h2.00M130.2 1303.00h2.00M180.2 1303.00h2.00M272.1 1303.00h2.00M284.1 1303.00h2.00M310.1 1303.00h2.00M322.1 1303.00h2.00M356.1 1303.00h6.00M412.1 1303.00h2.00M442.1 1303.00h2.00M454.1 1303.00h2.00M460.1 1303.00h2.00M486.1 1303.00h4.00M528.0 1303.00h2.00M572.0 1303.00h2.00M594.0 1303.00h2.00M626.0 1303.00h2.00M634.0 1303.00h2.00M652.0 1303.00h2.00M408.1 1315.80h2.00"/>
<path stroke="#cfe2eb" d="M354.1 1187.80h2.00M372.1 1187.80h2.00M524.0 1187.80h2.00M548.0 1187.80h2.00M622.0 1187.80h2.00M88.2 1303.00h2.00M102.2 1303.00h2.00M124.2 1303.00h2.00M136.2 1303.00h2.00M234.1 1303.00h2.00M290.1 1303.00h2.00M302.1 1303.00h2.00M314.1 1303.00h2.00M320.1 1303.00h2.00M324.1 1303.00h2.00M332.1 1303.00h4.00M388.1 1303.00h2.00M400.1 1303.00h2.00M420.1 1303.00h2.00M452.1 1303.00h2.00M468.1 1303.00h2.00M534.0 1303.00h2.00M542.0 1303.00h4.00M560.0 1303.00h2.00M650.0 1303.00h2.00M672.0 1303.00h2.00"/>
<path stroke="#c6dbe9" d="M540.0 1187.80h2.00M60.2 1303.00h2.00M76.2 1303.00h2.00M106.2 1303.00h2.00M114.2 1303.00h2.00M192.2 1303.00h2.00M210.2 1303.00h2.00M216.1 1303.00h2.00M230.1 1303.00h2.00M274.1 1303.00h2.00M318.1 1303.00h2.00M330.1 1303.00h2.00M362.1 1303.00h2.00M380.1 1303.00h2.00M386.1 1303.00h2.00M430.1 1303.00h2.00M438.1 1303.00h2.00M466.1 1303.00h2.00M548.0 1303.00h2.00M580.0 1303.00h2.00M642.0 1303.00h2.00M662.0 1303.00h4.00"/>
<path stroke="#7095c5" d="M60.2 1290.20h2.00M64.2 1290.20h2.00M138.2 1290.20h2.00M144.2 1290.20h2.00M150.2 1290.20h2.00M160.2 1290.20h2.00M198.2 1290.20h4.00M226.1 1290.20h2.00M264.1 1290.20h2.00M268.1 1290.20h2.00M298.1 1290.20h2.00M306.1 1290.20h2.00M324.1 1290.20h4.00M356.1 1290.20h4.00M384.1 1290.20h2.00M398.1 1290.20h2.00M420.1 1290.20h2.00M438.1 1290.20h2.00M452.1 1290.20h2.00M458.1 1290.20h2.00M494.1 1290.20h2.00M514.1 1290.20h2.00M526.0 1290.20h2.00M536.0 1290.20h2.00M544.0 1290.20h2.00M558.0 1290.20h2.00M572.0 1290.20h2.00M594.0 1290.20h4.00M600.0 1290.20h2.00M626.0 1290.20h2.00M632.0 1290.20h2.00M654.0 1290.20h2.00M624.0 1315.80h2.00"/>
<path stroke="#5f84bc" d="M62.2 1290.20h2.00M68.2 1290.20h2.00M74.2 1290.20h2.00M84.2 1290.20h2.00M96.2 1290.20h4.00M102.2 1290.20h2.00M110.2 1290.20h2.00M116.2 1290.20h4.00M122.2 1290.20h2.00M132.2 1290.20h2.00M152.2 1290.20h2.00M164.2 1290.20h4.00M184.2 1290.20h2.00M210.2 1290.20h2.00M220.1 1290.20h2.00M232.1 1290.20h2.00M252.1 1290.20h2.00M276.1 1290.20h2.00M286.1 1290.20h2.00M308.1 1290.20h2.00M320.1 1290.20h2.00M332.1 1290.20h2.00M342.1 1290.20h2.00M346.1 1290.20h2.00M370.1 1290.20h2.00M388.1 1290.20h2.00M400.1 1290.20h2.00M408.1 1290.20h2.00M422.1 1290.20h4.00M440.1 1290.20h2.00M450.1 1290.20h2.00M468.1 1290.20h2.00M492.1 1290.20h2.00M552.0 1290.20h2.00M588.0 1290.20h2.00M604.0 1290.20h2.00M610.0 1290.20h2.00M616.0 1290.20h2.00M636.0 1290.20h2.00M640.0 1290.20h4.00M670.0 1290.20h2.00"/>
<path stroke="#5577b4" d="M66.2 1290.20h2.00M126.2 1290.20h2.00M162.2 1290.20h2.00M186.2 1290.20h2.00M194.2 1290.20h2.00M240.1 1290.20h2.00M248.1 1290.20h2.00M262.1 1290.20h2.00M284.1 1290.20h2.00M288.1 1290.20h2.00M374.1 1290.20h4.00M392.1 1290.20h4.00M410.1 1290.20h2.00M482.1 1290.20h2.00M488.1 1290.20h2.00M508.1 1290.20h2.00M548.0 1290.20h2.00M568.0 1290.20h2.00M624.0 1290.20h2.00"/>
<path stroke="#658abf" d="M70.2 1290.20h2.00M82.2 1290.20h2.00M90.2 1290.20h2.00M100.2 1290.20h2.00M114.2 1290.20h2.00M130.2 1290.20h2.00M136.2 1290.20h2.00M142.2 1290.20h2.00M154.2 1290.20h4.00M168.2 1290.20h2.00M174.2 1290.20h2.00M202.2 1290.20h2.00M212.2 1290.20h2.00M216.1 1290.20h2.00M228.1 1290.20h2.00M242.1 1290.20h2.00M266.1 1290.20h2.00M274.1 1290.20h2.00M278.1 1290.20h2.00M292.1 1290.20h2.00M302.1 1290.20h2.00M310.1 1290.20h2.00M316.1 1290.20h2.00M336.1 1290.20h2.00M360.1 1290.20h2.00M364.1 1290.20h2.00M372.1 1290.20h2.00M386.1 1290.20h2.00M436.1 1290.20h2.00M448.1 1290.20h2.00M460.1 1290.20h4.00M470.1 1290.20h2.00M498.1 1290.20h4.00M506.1 1290.20h2.00M510.1 1290.20h4.00M516.1 1290.20h2.00M528.0 1290.20h2.00M540.0 1290.20h2.00M554.0 1290.20h4.00M564.0 1290.20h2.00M582.0 1290.20h2.00M598.0 1290.20h2.00M606.0 1290.20h4.00M628.0 1290.20h2.00M638.0 1290.20h2.00M646.0 1290.20h2.00M664.0 1290.20h6.00M158.2 1303.00h2.00"/>
<path stroke="#6a8fc2" d="M72.2 1290.20h2.00M76.2 1290.20h2.00M80.2 1290.20h2.00M124.2 1290.20h2.00M128.2 1290.20h2.00M140.2 1290.20h2.00M170.2 1290.20h2.00M180.2 1290.20h2.00M190.2 1290.20h2.00M208.2 1290.20h2.00M218.1 1290.20h2.00M222.1 1290.20h2.00M236.1 1290.20h2.00M244.1 1290.20h2.00M254.1 1290.20h8.00M270.1 1290.20h4.00M290.1 1290.20h2.00M294.1 1290.20h2.00M304.1 1290.20h2.00M314.1 1290.20h2.00M322.1 1290.20h2.00M328.1 1290.20h2.00M334.1 1290.20h2.00M344.1 1290.20h2.00M352.1 1290.20h4.00M366.1 1290.20h2.00M396.1 1290.20h2.00M416.1 1290.20h2.00M426.1 1290.20h2.00M430.1 1290.20h2.00M442.1 1290.20h6.00M480.1 1290.20h2.00M486.1 1290.20h2.00M490.1 1290.20h2.00M496.1 1290.20h2.00M532.0 1290.20h4.00M542.0 1290.20h2.00M562.0 1290.20h2.00M576.0 1290.20h6.00M586.0 1290.20h2.00M644.0 1290.20h2.00M650.0 1290.20h4.00M660.0 1290.20h4.00"/>
<path stroke="#769ac8" d="M78.2 1290.20h2.00M86.2 1290.20h4.00M108.2 1290.20h2.00M178.2 1290.20h2.00M230.1 1290.20h2.00M234.1 1290.20h2.00M238.1 1290.20h2.00M250.1 1290.20h2.00M296.1 1290.20h2.00M318.1 1290.20h2.00M338.1 1290.20h4.00M390.1 1290.20h2.00M412.1 1290.20h2.00M428.1 1290.20h2.00M454.1 1290.20h2.00M472.1 1290.20h2.00M502.1 1290.20h2.00M522.1 1290.20h2.00M530.0 1290.20h2.00M538.0 1290.20h2.00M592.0 1290.20h2.00M648.0 1290.20h2.00M212.2 1315.80h2.00M456.1 1315.80h2.00M548.0 1315.80h2.00"/>
<path stroke="#5071b0" d="M92.2 1290.20h4.00M196.2 1290.20h2.00M312.1 1290.20h2.00M348.1 1290.20h4.00M402.1 1290.20h2.00M560.0 1290.20h2.00"/>
<path stroke="#81a6ce" d="M104.2 1290.20h2.00M192.2 1290.20h2.00M380.1 1290.20h2.00M404.1 1290.20h2.00M504.1 1290.20h2.00M376.1 1303.00h2.00M196.2 1315.80h2.00M204.2 1315.80h2.00M334.1 1315.80h2.00M346.1 1315.80h2.00M356.1 1315.80h2.00M454.1 1315.80h2.00M476.1 1315.80h2.00M556.0 1315.80h2.00M630.0 1315.80h2.00M636.0 1315.80h2.00"/>
<path stroke="#5a7eb8" d="M106.2 1290.20h2.00M112.2 1290.20h2.00M120.2 1290.20h2.00M146.2 1290.20h4.00M158.2 1290.20h2.00M176.2 1290.20h2.00M188.2 1290.20h2.00M204.2 1290.20h2.00M246.1 1290.20h2.00M282.1 1290.20h2.00M300.1 1290.20h2.00M362.1 1290.20h2.00M368.1 1290.20h2.00M378.1 1290.20h2.00M382.1 1290.20h2.00M406.1 1290.20h2.00M418.1 1290.20h2.00M434.1 1290.20h2.00M456.1 1290.20h2.00M464.1 1290.20h4.00M476.1 1290.20h2.00M518.1 1290.20h2.00M524.0 1290.20h2.00M550.0 1290.20h2.00M566.0 1290.20h2.00M570.0 1290.20h2.00M574.0 1290.20h2.00M584.0 1290.20h2.00M590.0 1290.20h2.00M602.0 1290.20h2.00M614.0 1290.20h2.00M618.0 1290.20h2.00M622.0 1290.20h2.00M634.0 1290.20h2.00M656.0 1290.20h4.00M676.0 1290.20h2.00"/>
<path stroke="#4a6bac" d="M134.2 1290.20h2.00M182.2 1290.20h2.00M206.2 1290.20h2.00M330.1 1290.20h2.00M520.1 1290.20h2.00M612.0 1290.20h2.00M620.0 1290.20h2.00M630.0 1290.20h2.00"/>
<path stroke="#7ca0cb" d="M172.2 1290.20h2.00M214.2 1290.20h2.00M224.1 1290.20h2.00M280.1 1290.20h2.00M414.1 1290.20h2.00M432.1 1290.20h2.00M478.1 1290.20h2.00M546.0 1290.20h2.00M674.0 1290.20h2.00M392.1 1303.00h2.00M66.2 1315.80h2.00M94.2 1315.80h2.00M134.2 1315.80h2.00M362.1 1315.80h2.00M602.0 1315.80h4.00"/>
<path stroke="#87abd1" d="M474.1 1290.20h2.00M672.0 1290.20h2.00M246.1 1303.00h2.00M252.1 1303.00h2.00M258.1 1303.00h2.00M76.2 1315.80h2.00M122.2 1315.80h2.00M130.2 1315.80h2.00M146.2 1315.80h2.00M206.2 1315.80h2.00M246.1 1315.80h2.00M284.1 1315.80h2.00M348.1 1315.80h2.00M378.1 1315.80h2.00M392.1 1315.80h2.00M402.1 1315.80h2.00M558.0 1315.80h2.00M590.0 1315.80h2.00M638.0 1315.80h2.00M658.0 1315.80h2.00"/>
<path stroke="#405ea4" d="M484.1 1290.20h2.00"/>
<path stroke="#a5c3de" d="M64.2 1303.00h2.00M98.2 1303.00h2.00M154.2 1303.00h2.00M294.1 1303.00h2.00M348.1 1303.00h2.00M374.1 1303.00h2.00M384.1 1303.00h2.00M396.1 1303.00h2.00M416.1 1303.00h2.00M424.1 1303.00h2.00M434.1 1303.00h2.00M450.1 1303.00h2.00M520.1 1303.00h2.00M604.0 1303.00h2.00M630.0 1303.00h2.00M60.2 1315.80h2.00M108.2 1315.80h2.00M158.2 1315.80h2.00M166.2 1315.80h2.00M170.2 1315.80h2.00M180.2 1315.80h2.00M218.1 1315.80h2.00M230.1 1315.80h2.00M244.1 1315.80h2.00M248.1 1315.80h2.00M252.1 1315.80h2.00M266.1 1315.80h2.00M302.1 1315.80h2.00M312.1 1315.80h2.00M318.1 1315.80h2.00M328.1 1315.80h2.00M336.1 1315.80h2.00M352.1 1315.80h2.00M358.1 1315.80h2.00M366.1 1315.80h2.00M370.1 1315.80h2.00M384.1 1315.80h2.00M390.1 1315.80h2.00M400.1 1315.80h2.00M426.1 1315.80h2.00M430.1 1315.80h2.00M442.1 1315.80h2.00M510.1 1315.80h2.00M518.1 1315.80h2.00M534.0 1315.80h2.00M540.0 1315.80h2.00M554.0 1315.80h2.00M588.0 1315.80h2.00M592.0 1315.80h4.00M598.0 1315.80h2.00M612.0 1315.80h2.00M652.0 1315.80h2.00M656.0 1315.80h2.00M662.0 1315.80h4.00M668.0 1315.80h2.00M676.0 1315.80h2.00"/>
<path stroke="#abc8e1" d="M68.2 1303.00h2.00M126.2 1303.00h2.00M134.2 1303.00h2.00M220.1 1303.00h2.00M242.1 1303.00h2.00M260.1 1303.00h4.00M298.1 1303.00h2.00M316.1 1303.00h2.00M340.1 1303.00h2.00M422.1 1303.00h2.00M456.1 1303.00h2.00M470.1 1303.00h2.00M562.0 1303.00h2.00M618.0 1303.00h2.00M622.0 1303.00h2.00M670.0 1303.00h2.00M138.2 1315.80h2.00M198.2 1315.80h2.00M202.2 1315.80h2.00M260.1 1315.80h2.00M272.1 1315.80h2.00M330.1 1315.80h2.00M360.1 1315.80h2.00M368.1 1315.80h2.00M388.1 1315.80h2.00M420.1 1315.80h2.00M438.1 1315.80h2.00M452.1 1315.80h2.00M466.1 1315.80h2.00M472.1 1315.80h2.00M486.1 1315.80h2.00M504.1 1315.80h2.00M544.0 1315.80h4.00M616.0 1315.80h2.00M632.0 1315.80h2.00M648.0 1315.80h2.00M660.0 1315.80h2.00M674.0 1315.80h2.00"/>
<path stroke="#93b5d6" d="M84.2 1303.00h2.00M152.2 1303.00h2.00M444.1 1303.00h2.00M484.1 1303.00h2.00M522.1 1303.00h2.00M552.0 1303.00h2.00M588.0 1303.00h2.00M612.0 1303.00h2.00M82.2 1315.80h2.00M92.2 1315.80h2.00M98.2 1315.80h4.00M106.2 1315.80h2.00M132.2 1315.80h2.00M160.2 1315.80h2.00M174.2 1315.80h2.00M190.2 1315.80h2.00M194.2 1315.80h2.00M220.1 1315.80h2.00M224.1 1315.80h2.00M228.1 1315.80h2.00M238.1 1315.80h2.00M256.1 1315.80h4.00M282.1 1315.80h2.00M286.1 1315.80h2.00M296.1 1315.80h4.00M304.1 1315.80h2.00M372.1 1315.80h2.00M382.1 1315.80h2.00M404.1 1315.80h2.00M410.1 1315.80h2.00M422.1 1315.80h2.00M440.1 1315.80h2.00M444.1 1315.80h2.00M458.1 1315.80h2.00M490.1 1315.80h2.00M500.1 1315.80h2.00M506.1 1315.80h4.00M522.1 1315.80h2.00M536.0 1315.80h2.00M564.0 1315.80h8.00M576.0 1315.80h4.00M582.0 1315.80h2.00M586.0 1315.80h2.00M596.0 1315.80h2.00M614.0 1315.80h2.00M618.0 1315.80h4.00M628.0 1315.80h2.00M666.0 1315.80h2.00"/>
<path stroke="#9fbfdb" d="M94.2 1303.00h2.00M108.2 1303.00h2.00M146.2 1303.00h2.00M206.2 1303.00h2.00M212.2 1303.00h2.00M276.1 1303.00h2.00M368.1 1303.00h2.00M498.1 1303.00h2.00M532.0 1303.00h2.00M568.0 1303.00h2.00M606.0 1303.00h2.00M610.0 1303.00h2.00M624.0 1303.00h2.00M72.2 1315.80h2.00M78.2 1315.80h2.00M86.2 1315.80h4.00M102.2 1315.80h2.00M136.2 1315.80h2.00M144.2 1315.80h2.00M148.2 1315.80h4.00M168.2 1315.80h2.00M172.2 1315.80h2.00M176.2 1315.80h2.00M188.2 1315.80h2.00M200.2 1315.80h2.00M208.2 1315.80h4.00M222.1 1315.80h2.00M234.1 1315.80h2.00M250.1 1315.80h2.00M278.1 1315.80h2.00M308.1 1315.80h4.00M338.1 1315.80h4.00M374.1 1315.80h2.00M396.1 1315.80h2.00M406.1 1315.80h2.00M412.1 1315.80h2.00M424.1 1315.80h2.00M446.1 1315.80h2.00M462.1 1315.80h2.00M468.1 1315.80h2.00M498.1 1315.80h2.00M512.1 1315.80h2.00M516.1 1315.80h2.00M530.0 1315.80h4.00M538.0 1315.80h2.00M574.0 1315.80h2.00M608.0 1315.80h2.00M626.0 1315.80h2.00M634.0 1315.80h2.00M640.0 1315.80h2.00M654.0 1315.80h2.00M672.0 1315.80h2.00"/>
<path stroke="#b7d2e6" d="M104.2 1303.00h2.00M118.2 1303.00h2.00M182.2 1303.00h4.00M188.2 1303.00h4.00M194.2 1303.00h2.00M228.1 1303.00h2.00M232.1 1303.00h2.00M248.1 1303.00h2.00M270.1 1303.00h2.00M282.1 1303.00h2.00M370.1 1303.00h2.00M402.1 1303.00h2.00M492.1 1303.00h2.00M514.1 1303.00h2.00M550.0 1303.00h2.00M556.0 1303.00h2.00M574.0 1303.00h2.00M614.0 1303.00h2.00M628.0 1303.00h2.00M638.0 1303.00h2.00M116.2 1315.80h4.00M364.1 1315.80h2.00M380.1 1315.80h2.00M502.1 1315.80h2.00M542.0 1315.80h2.00"/>
<path stroke="#99bad9" d="M128.2 1303.00h2.00M196.2 1303.00h2.00M288.1 1303.00h2.00M308.1 1303.00h2.00M346.1 1303.00h2.00M410.1 1303.00h2.00M524.0 1303.00h2.00M70.2 1315.80h2.00M104.2 1315.80h2.00M120.2 1315.80h2.00M124.2 1315.80h2.00M128.2 1315.80h2.00M142.2 1315.80h2.00M156.2 1315.80h2.00M164.2 1315.80h2.00M182.2 1315.80h2.00M226.1 1315.80h2.00M268.1 1315.80h2.00M274.1 1315.80h4.00M280.1 1315.80h2.00M288.1 1315.80h8.00M300.1 1315.80h2.00M306.1 1315.80h2.00M316.1 1315.80h2.00M324.1 1315.80h4.00M332.1 1315.80h2.00M342.1 1315.80h2.00M354.1 1315.80h2.00M386.1 1315.80h2.00M394.1 1315.80h2.00M414.1 1315.80h2.00M434.1 1315.80h2.00M514.1 1315.80h2.00M520.1 1315.80h2.00M524.0 1315.80h4.00M550.0 1315.80h4.00M560.0 1315.80h2.00M584.0 1315.80h2.00M600.0 1315.80h2.00M610.0 1315.80h2.00M622.0 1315.80h2.00M644.0 1315.80h4.00M650.0 1315.80h2.00"/>
<path stroke="#8db0d3" d="M164.2 1303.00h2.00M174.2 1303.00h2.00M286.1 1303.00h2.00M406.1 1303.00h2.00M554.0 1303.00h2.00M636.0 1303.00h2.00M676.0 1303.00h2.00M62.2 1315.80h4.00M68.2 1315.80h2.00M74.2 1315.80h2.00M80.2 1315.80h2.00M84.2 1315.80h2.00M96.2 1315.80h2.00M112.2 1315.80h2.00M126.2 1315.80h2.00M140.2 1315.80h2.00M152.2 1315.80h4.00M162.2 1315.80h2.00M178.2 1315.80h2.00M186.2 1315.80h2.00M214.2 1315.80h2.00M232.1 1315.80h2.00M240.1 1315.80h4.00M264.1 1315.80h2.00M314.1 1315.80h2.00M320.1 1315.80h4.00M350.1 1315.80h2.00M376.1 1315.80h2.00M398.1 1315.80h2.00M416.1 1315.80h4.00M448.1 1315.80h4.00M470.1 1315.80h2.00M480.1 1315.80h6.00M488.1 1315.80h2.00M494.1 1315.80h2.00M528.0 1315.80h2.00M562.0 1315.80h2.00M606.0 1315.80h2.00M642.0 1315.80h2.00M670.0 1315.80h2.00"/>
</g>
<text transform="translate(679.20 691.20) scale(0.8464 1)" font-size="7.200" class="ss">HALLMARK_MYC_TARGETS_V1</text>
<text transform="translate(679.20 704.00) scale(0.8464 1)" font-size="7.200" class="ss">HALLMARK_OXIDATIVE_PHOSPHORYLATION</text>
<text transform="translate(679.20 716.80) scale(0.8464 1)" font-size="7.200" class="ss">HALLMARK_TGF_BETA_SIGNALING</text>
<text transform="translate(679.20 729.60) scale(0.8464 1)" font-size="7.200" class="ss">HALLMARK_PROTEIN_SECRETION</text>
<text transform="translate(679.20 742.40) scale(0.8464 1)" font-size="7.200" class="ss">HALLMARK_REACTIVE_OXYGEN_SPECIES_PATHWAY</text>
<text transform="translate(679.20 755.20) scale(0.8464 1)" font-size="7.200" class="ss">HALLMARK_MTORC1_SIGNALING</text>
<text transform="translate(679.20 768.00) scale(0.8464 1)" font-size="7.200" class="ss">HALLMARK_UNFOLDED_PROTEIN_RESPONSE</text>
<text transform="translate(679.20 780.80) scale(0.8464 1)" font-size="7.200" class="ss">HALLMARK_INTERFERON_ALPHA_RESPONSE</text>
<text transform="translate(679.20 793.60) scale(0.8464 1)" font-size="7.200" class="ss">HALLMARK_INTERFERON_GAMMA_RESPONSE</text>
<text transform="translate(679.20 806.40) scale(0.8464 1)" font-size="7.200" class="ss">HALLMARK_MYC_TARGETS_V2</text>
<text transform="translate(679.20 819.20) scale(0.8464 1)" font-size="7.200" class="ss">HALLMARK_E2F_TARGETS</text>
<text transform="translate(679.20 832.00) scale(0.8464 1)" font-size="7.200" class="ss">HALLMARK_G2M_CHECKPOINT</text>
<text transform="translate(679.20 844.80) scale(0.8464 1)" font-size="7.200" class="ss">HALLMARK_MITOTIC_SPINDLE</text>
<text transform="translate(679.20 857.60) scale(0.8464 1)" font-size="7.200" class="ss">HALLMARK_P53_PATHWAY</text>
<text transform="translate(679.20 870.40) scale(0.8464 1)" font-size="7.200" class="ss">HALLMARK_FATTY_ACID_METABOLISM</text>
<text transform="translate(679.20 883.20) scale(0.8464 1)" font-size="7.200" class="ss">HALLMARK_PI3K_AKT_MTOR_SIGNALING</text>
<text transform="translate(679.20 896.00) scale(0.8464 1)" font-size="7.200" class="ss">HALLMARK_GLYCOLYSIS</text>
<text transform="translate(679.20 908.80) scale(0.8464 1)" font-size="7.200" class="ss">HALLMARK_UV_RESPONSE_UP</text>
<text transform="translate(679.20 921.60) scale(0.8464 1)" font-size="7.200" class="ss">HALLMARK_CHOLESTEROL_HOMEOSTASIS</text>
<text transform="translate(679.20 934.40) scale(0.8464 1)" font-size="7.200" class="ss">HALLMARK_DNA_REPAIR</text>
<text transform="translate(679.20 947.20) scale(0.8464 1)" font-size="7.200" class="ss">HALLMARK_APOPTOSIS</text>
<text transform="translate(679.20 960.00) scale(0.8464 1)" font-size="7.200" class="ss">HALLMARK_TNFA_SIGNALING_VIA_NFKB</text>
<text transform="translate(679.20 972.80) scale(0.8464 1)" font-size="7.200" class="ss">HALLMARK_NOTCH_SIGNALING</text>
<text transform="translate(679.20 985.60) scale(0.8464 1)" font-size="7.200" class="ss">HALLMARK_ADIPOGENESIS</text>
<text transform="translate(679.20 998.40) scale(0.8464 1)" font-size="7.200" class="ss">HALLMARK_ANDROGEN_RESPONSE</text>
<text transform="translate(679.20 1011.20) scale(0.8464 1)" font-size="7.200" class="ss">HALLMARK_ANGIOGENESIS</text>
<text transform="translate(679.20 1024.00) scale(0.8464 1)" font-size="7.200" class="ss">HALLMARK_EPITHELIAL_MESENCHYMAL_TRANSITION</text>
<text transform="translate(679.20 1036.80) scale(0.8464 1)" font-size="7.200" class="ss">HALLMARK_IL6_JAK_STAT3_SIGNALING</text>
<text transform="translate(679.20 1049.60) scale(0.8464 1)" font-size="7.200" class="ss">HALLMARK_HYPOXIA</text>
<text transform="translate(679.20 1062.40) scale(0.8464 1)" font-size="7.200" class="ss">HALLMARK_ESTROGEN_RESPONSE_LATE</text>
<text transform="translate(679.20 1075.20) scale(0.8464 1)" font-size="7.200" class="ss">HALLMARK_PEROXISOME</text>
<text transform="translate(679.20 1088.00) scale(0.8464 1)" font-size="7.200" class="ss">HALLMARK_APICAL_JUNCTION</text>
<text transform="translate(679.20 1100.80) scale(0.8464 1)" font-size="7.200" class="ss">HALLMARK_UV_RESPONSE_DN</text>
<text transform="translate(679.20 1113.60) scale(0.8464 1)" font-size="7.200" class="ss">HALLMARK_ESTROGEN_RESPONSE_EARLY</text>
<text transform="translate(679.20 1126.40) scale(0.8464 1)" font-size="7.200" class="ss">HALLMARK_COMPLEMENT</text>
<text transform="translate(679.20 1139.20) scale(0.8464 1)" font-size="7.200" class="ss">HALLMARK_IL2_STAT5_SIGNALING</text>
<text transform="translate(679.20 1152.00) scale(0.8464 1)" font-size="7.200" class="ss">HALLMARK_APICAL_SURFACE</text>
<text transform="translate(679.20 1164.80) scale(0.8464 1)" font-size="7.200" class="ss">HALLMARK_MYOGENESIS</text>
<text transform="translate(679.20 1177.60) scale(0.8464 1)" font-size="7.200" class="ss">HALLMARK_BILE_ACID_METABOLISM</text>
<text transform="translate(679.20 1190.40) scale(0.8464 1)" font-size="7.200" class="ss">HALLMARK_HEDGEHOG_SIGNALING</text>
<text transform="translate(679.20 1203.20) scale(0.8464 1)" font-size="7.200" class="ss">HALLMARK_ALLOGRAFT_REJECTION</text>
<text transform="translate(679.20 1216.00) scale(0.8464 1)" font-size="7.200" class="ss">HALLMARK_INFLAMMATORY_RESPONSE</text>
<text transform="translate(679.20 1228.80) scale(0.8464 1)" font-size="7.200" class="ss">HALLMARK_KRAS_SIGNALING_UP</text>
<text transform="translate(679.20 1241.60) scale(0.8464 1)" font-size="7.200" class="ss">HALLMARK_WNT_BETA_CATENIN_SIGNALING</text>
<text transform="translate(679.20 1254.40) scale(0.8464 1)" font-size="7.200" class="ss">HALLMARK_COAGULATION</text>
<text transform="translate(679.20 1267.20) scale(0.8464 1)" font-size="7.200" class="ss">HALLMARK_HEME_METABOLISM</text>
<text transform="translate(679.20 1280.00) scale(0.8464 1)" font-size="7.200" class="ss">HALLMARK_XENOBIOTIC_METABOLISM</text>
<text transform="translate(679.20 1292.80) scale(0.8464 1)" font-size="7.200" class="ss">HALLMARK_KRAS_SIGNALING_DN</text>
<text transform="translate(679.20 1305.60) scale(0.8464 1)" font-size="7.200" class="ss">HALLMARK_PANCREAS_BETA_CELLS</text>
<text transform="translate(679.20 1318.40) scale(0.8464 1)" font-size="7.200" class="ss">HALLMARK_SPERMATOGENESIS</text>
<text transform="translate(679.45 678.60) scale(0.8000 1)" font-size="7.500" class="ss" font-weight="bold">group</text>
<path d="M28.4 800.1V1249.7M28.4 800.1H46.4M46.4 695.1V904.6M46.4 695.0H57M57 688.6V701.4M57 688.6H59.6M57 701.4H59.6M46.4 904.6H52.3M52.3 773.4V1036.2M52.3 773.4H55.2M55.2 726.2V856.0M52.3 1036.2H55.2M55.2 1015.0V1060.0M28.4 1249.7H42.3M42.3 1199.6V1299.5M42.3 1199.6H53.2M53.2 1168.0V1229.2M42.3 1299.5H53.2M53.2 1290.2V1309.4M53.2 1290.2H59.6M53.2 1309.4H57.4M57.4 1303.0V1315.8M57.4 1303.0H59.6M57.4 1315.8H59.6M55.2 726.2H58.4M58.4 714.2V727.0M58.4 714.2H59.6M58.4 727.0H59.6M55.2 746.2H58.0M58.4 739.8V752.6M58.4 739.8H59.6M58.4 752.6H59.6M58.0 746.2V765.4H59.6M55.2 784.6H58.2M58.2 778.2V791.0M58.2 778.2H59.6M58.2 791.0H59.6M55.2 816.6H57.6M57.6 803.8V842.2M57.6 803.8H59.6M57.6 829.4H59.6M58.6 816.6V829.4M58.6 816.6H59.6M58.6 829.4H59.6M57.6 842.2H59.6M55.2 856.0H56.8M56.8 855.0V944.6M56.8 855.0H59.6M56.8 867.8H59.6M56.8 880.6H59.6M56.8 893.4H59.6M56.8 906.2H59.6M56.8 919.0H59.6M56.8 931.8H59.6M56.8 944.6H59.6M52.3 963.8H56.5M56.5 951.0V995.8M56.5 957.4H59.6M56.5 970.2H59.6M56.5 983.0H59.6M56.5 995.8H59.6M55.2 1015.0H58.0M58.0 1008.6V1021.4M58.0 1008.6H59.6M58.0 1021.4H59.6M55.2 1060.0H56.6M56.6 1034.2V1136.6M56.6 1034.2H59.6M56.6 1047.0H59.6M56.6 1059.8H59.6M56.6 1072.6H59.6M56.6 1085.4H59.6M56.6 1098.2H59.6M56.6 1111.0H59.6M56.6 1123.8H59.6M56.6 1136.6H59.6M53.2 1168.0H56.0M56.0 1155.8V1181.4M57.8 1149.4V1162.2M57.8 1149.4H59.6M57.8 1162.2H59.6M56.0 1155.8H57.8M56.0 1181.4H57.8M57.8 1175.0V1187.8M57.8 1175.0H59.6M57.8 1187.8H59.6M53.2 1229.2H56.2M56.2 1200.6V1277.4M56.2 1200.6H59.6M56.2 1213.4H59.6M56.2 1226.2H59.6M56.2 1239.0H59.6M56.2 1251.8H59.6M56.2 1264.6H59.6M56.2 1277.4H59.6" stroke="#6e6e6e" stroke-width="0.95" fill="none"/>
<defs><linearGradient id="hm" x1="0" y1="1" x2="0" y2="0">
<stop offset="0.000" stop-color="#405ea4"/>
<stop offset="0.071" stop-color="#5f84bc"/>
<stop offset="0.160" stop-color="#8aaed2"/>
<stop offset="0.250" stop-color="#b8d2e6"/>
<stop offset="0.341" stop-color="#dceaee"/>
<stop offset="0.431" stop-color="#eef3d6"/>
<stop offset="0.520" stop-color="#f5f1b2"/>
<stop offset="0.610" stop-color="#f0da8e"/>
<stop offset="0.693" stop-color="#e6bc72"/>
<stop offset="0.762" stop-color="#dc9a62"/>
<stop offset="0.832" stop-color="#d47a52"/>
<stop offset="0.911" stop-color="#c55b40"/>
<stop offset="1.000" stop-color="#b0362c"/>
</linearGradient></defs>
<rect x="845.2" y="671.4" width="6.2" height="114.6" fill="url(#hm)"/>
<text transform="translate(853.75 693.40) scale(0.8500 1)" font-size="7.600" class="ss">0.6</text>
<text transform="translate(853.75 716.10) scale(0.8500 1)" font-size="7.600" class="ss">0.4</text>
<text transform="translate(853.75 738.80) scale(0.8500 1)" font-size="7.600" class="ss">0.2</text>
<text transform="translate(853.75 761.50) scale(0.8500 1)" font-size="7.600" class="ss">0</text>
<text transform="translate(853.68 784.20) scale(0.8500 1)" font-size="7.600" class="ss">−0.2</text>
<text transform="translate(868.64 677.30) scale(0.8500 1)" font-size="7.600" class="ss" font-weight="bold">group</text>
<rect x="868.4" y="680.0" width="9.1" height="10.6" fill="#93c0db"/>
<rect x="868.4" y="690.6" width="9.1" height="11.2" fill="#e8b5c1"/>
<text transform="translate(878.37 688.20) scale(0.8500 1)" font-size="7.600" class="ss">High risk</text>
<text transform="translate(878.37 699.00) scale(0.8500 1)" font-size="7.600" class="ss">Low risk</text>
<text transform="translate(19.53 1416.70) scale(0.9652 1)" font-size="39.571">C</text>
<g shape-rendering="crispEdges">
<rect x="49.7" y="1543.3" width="80.0" height="114.8" fill="#b5a6cd"/>
<rect x="209.7" y="1543.3" width="80.0" height="114.8" fill="#a597c4"/>
<rect x="369.7" y="1543.3" width="80.0" height="114.8" fill="#ae9fca"/>
<rect x="449.7" y="1543.3" width="80.0" height="114.8" fill="#a898c6"/>
<rect x="529.7" y="1543.3" width="80.0" height="114.8" fill="#b5a8cf"/>
<rect x="609.7" y="1543.3" width="80.0" height="114.8" fill="#d67b5e"/>
<rect x="689.7" y="1543.3" width="80.0" height="114.8" fill="#8579b5"/>
<rect x="769.7" y="1543.3" width="80.0" height="114.8" fill="#b6a8cf"/>
<rect x="129.7" y="1658.1" width="80.0" height="115.1" fill="#b1a3cb"/>
<rect x="209.7" y="1658.1" width="80.0" height="115.1" fill="#bdafd4"/>
<rect x="289.7" y="1658.1" width="80.0" height="115.1" fill="#b4a7ce"/>
<rect x="369.7" y="1658.1" width="80.0" height="115.1" fill="#baacd3"/>
<rect x="449.7" y="1658.1" width="80.0" height="115.1" fill="#beb0d5"/>
<rect x="609.7" y="1658.1" width="80.0" height="115.1" fill="#e8bfaa"/>
<rect x="689.7" y="1658.1" width="80.0" height="115.1" fill="#a595c4"/>
</g>
<path d="M82.35 1596.70v4.8M80.60 1598.10l3.5 2.0M80.60 1600.10l3.5 -2.0M87.25 1596.70v4.8M85.50 1598.10l3.5 2.0M85.50 1600.10l3.5 -2.0M92.15 1596.70v4.8M90.40 1598.10l3.5 2.0M90.40 1600.10l3.5 -2.0M97.05 1596.70v4.8M95.30 1598.10l3.5 2.0M95.30 1600.10l3.5 -2.0" stroke="#262626" stroke-width="1.05" stroke-linecap="round" fill="none"/>
<path d="M242.35 1596.70v4.8M240.60 1598.10l3.5 2.0M240.60 1600.10l3.5 -2.0M247.25 1596.70v4.8M245.50 1598.10l3.5 2.0M245.50 1600.10l3.5 -2.0M252.15 1596.70v4.8M250.40 1598.10l3.5 2.0M250.40 1600.10l3.5 -2.0M257.05 1596.70v4.8M255.30 1598.10l3.5 2.0M255.30 1600.10l3.5 -2.0" stroke="#262626" stroke-width="1.05" stroke-linecap="round" fill="none"/>
<path d="M402.35 1596.70v4.8M400.60 1598.10l3.5 2.0M400.60 1600.10l3.5 -2.0M407.25 1596.70v4.8M405.50 1598.10l3.5 2.0M405.50 1600.10l3.5 -2.0M412.15 1596.70v4.8M410.40 1598.10l3.5 2.0M410.40 1600.10l3.5 -2.0M417.05 1596.70v4.8M415.30 1598.10l3.5 2.0M415.30 1600.10l3.5 -2.0" stroke="#262626" stroke-width="1.05" stroke-linecap="round" fill="none"/>
<path d="M482.35 1596.70v4.8M480.60 1598.10l3.5 2.0M480.60 1600.10l3.5 -2.0M487.25 1596.70v4.8M485.50 1598.10l3.5 2.0M485.50 1600.10l3.5 -2.0M492.15 1596.70v4.8M490.40 1598.10l3.5 2.0M490.40 1600.10l3.5 -2.0M497.05 1596.70v4.8M495.30 1598.10l3.5 2.0M495.30 1600.10l3.5 -2.0" stroke="#262626" stroke-width="1.05" stroke-linecap="round" fill="none"/>
<path d="M562.35 1596.70v4.8M560.60 1598.10l3.5 2.0M560.60 1600.10l3.5 -2.0M567.25 1596.70v4.8M565.50 1598.10l3.5 2.0M565.50 1600.10l3.5 -2.0M572.15 1596.70v4.8M570.40 1598.10l3.5 2.0M570.40 1600.10l3.5 -2.0M577.05 1596.70v4.8M575.30 1598.10l3.5 2.0M575.30 1600.10l3.5 -2.0" stroke="#262626" stroke-width="1.05" stroke-linecap="round" fill="none"/>
<path d="M642.35 1596.70v4.8M640.60 1598.10l3.5 2.0M640.60 1600.10l3.5 -2.0M647.25 1596.70v4.8M645.50 1598.10l3.5 2.0M645.50 1600.10l3.5 -2.0M652.15 1596.70v4.8M650.40 1598.10l3.5 2.0M650.40 1600.10l3.5 -2.0M657.05 1596.70v4.8M655.30 1598.10l3.5 2.0M655.30 1600.10l3.5 -2.0" stroke="#262626" stroke-width="1.05" stroke-linecap="round" fill="none"/>
<path d="M722.35 1596.70v4.8M720.60 1598.10l3.5 2.0M720.60 1600.10l3.5 -2.0M727.25 1596.70v4.8M725.50 1598.10l3.5 2.0M725.50 1600.10l3.5 -2.0M732.15 1596.70v4.8M730.40 1598.10l3.5 2.0M730.40 1600.10l3.5 -2.0M737.05 1596.70v4.8M735.30 1598.10l3.5 2.0M735.30 1600.10l3.5 -2.0" stroke="#262626" stroke-width="1.05" stroke-linecap="round" fill="none"/>
<path d="M802.35 1596.70v4.8M800.60 1598.10l3.5 2.0M800.60 1600.10l3.5 -2.0M807.25 1596.70v4.8M805.50 1598.10l3.5 2.0M805.50 1600.10l3.5 -2.0M812.15 1596.70v4.8M810.40 1598.10l3.5 2.0M810.40 1600.10l3.5 -2.0M817.05 1596.70v4.8M815.30 1598.10l3.5 2.0M815.30 1600.10l3.5 -2.0" stroke="#262626" stroke-width="1.05" stroke-linecap="round" fill="none"/>
<path d="M162.35 1711.60v4.8M160.60 1713.00l3.5 2.0M160.60 1715.00l3.5 -2.0M167.25 1711.60v4.8M165.50 1713.00l3.5 2.0M165.50 1715.00l3.5 -2.0M172.15 1711.60v4.8M170.40 1713.00l3.5 2.0M170.40 1715.00l3.5 -2.0M177.05 1711.60v4.8M175.30 1713.00l3.5 2.0M175.30 1715.00l3.5 -2.0" stroke="#262626" stroke-width="1.05" stroke-linecap="round" fill="none"/>
<path d="M242.35 1711.60v4.8M240.60 1713.00l3.5 2.0M240.60 1715.00l3.5 -2.0M247.25 1711.60v4.8M245.50 1713.00l3.5 2.0M245.50 1715.00l3.5 -2.0M252.15 1711.60v4.8M250.40 1713.00l3.5 2.0M250.40 1715.00l3.5 -2.0M257.05 1711.60v4.8M255.30 1713.00l3.5 2.0M255.30 1715.00l3.5 -2.0" stroke="#262626" stroke-width="1.05" stroke-linecap="round" fill="none"/>
<path d="M322.35 1711.60v4.8M320.60 1713.00l3.5 2.0M320.60 1715.00l3.5 -2.0M327.25 1711.60v4.8M325.50 1713.00l3.5 2.0M325.50 1715.00l3.5 -2.0M332.15 1711.60v4.8M330.40 1713.00l3.5 2.0M330.40 1715.00l3.5 -2.0M337.05 1711.60v4.8M335.30 1713.00l3.5 2.0M335.30 1715.00l3.5 -2.0" stroke="#262626" stroke-width="1.05" stroke-linecap="round" fill="none"/>
<path d="M402.35 1711.60v4.8M400.60 1713.00l3.5 2.0M400.60 1715.00l3.5 -2.0M407.25 1711.60v4.8M405.50 1713.00l3.5 2.0M405.50 1715.00l3.5 -2.0M412.15 1711.60v4.8M410.40 1713.00l3.5 2.0M410.40 1715.00l3.5 -2.0M417.05 1711.60v4.8M415.30 1713.00l3.5 2.0M415.30 1715.00l3.5 -2.0" stroke="#262626" stroke-width="1.05" stroke-linecap="round" fill="none"/>
<path d="M482.35 1711.60v4.8M480.60 1713.00l3.5 2.0M480.60 1715.00l3.5 -2.0M487.25 1711.60v4.8M485.50 1713.00l3.5 2.0M485.50 1715.00l3.5 -2.0M492.15 1711.60v4.8M490.40 1713.00l3.5 2.0M490.40 1715.00l3.5 -2.0M497.05 1711.60v4.8M495.30 1713.00l3.5 2.0M495.30 1715.00l3.5 -2.0" stroke="#262626" stroke-width="1.05" stroke-linecap="round" fill="none"/>
<path d="M642.35 1711.60v4.8M640.60 1713.00l3.5 2.0M640.60 1715.00l3.5 -2.0M647.25 1711.60v4.8M645.50 1713.00l3.5 2.0M645.50 1715.00l3.5 -2.0M652.15 1711.60v4.8M650.40 1713.00l3.5 2.0M650.40 1715.00l3.5 -2.0M657.05 1711.60v4.8M655.30 1713.00l3.5 2.0M655.30 1715.00l3.5 -2.0" stroke="#262626" stroke-width="1.05" stroke-linecap="round" fill="none"/>
<path d="M722.35 1711.60v4.8M720.60 1713.00l3.5 2.0M720.60 1715.00l3.5 -2.0M727.25 1711.60v4.8M725.50 1713.00l3.5 2.0M725.50 1715.00l3.5 -2.0M732.15 1711.60v4.8M730.40 1713.00l3.5 2.0M730.40 1715.00l3.5 -2.0M737.05 1711.60v4.8M735.30 1713.00l3.5 2.0M735.30 1715.00l3.5 -2.0" stroke="#262626" stroke-width="1.05" stroke-linecap="round" fill="none"/>
<text transform="translate(2.13 1604.70) scale(0.8083 1)" font-size="11.781">ERCC6L</text>
<text transform="translate(15.62 1719.40) scale(0.8163 1)" font-size="11.912">MYB</text>
<g stroke="#222" stroke-width="1">
<path d="M89.7 1529.0V1532.0"/>
<path d="M169.7 1529.0V1532.0"/>
<path d="M249.7 1529.0V1532.0"/>
<path d="M329.7 1529.0V1532.0"/>
<path d="M409.7 1529.0V1532.0"/>
<path d="M489.7 1529.0V1532.0"/>
<path d="M569.7 1529.0V1532.0"/>
<path d="M649.7 1529.0V1532.0"/>
<path d="M729.7 1529.0V1532.0"/>
<path d="M809.7 1529.0V1532.0"/>
</g>
<text transform="translate(88.70 1526.5) scale(0.945 1.077) rotate(-45) translate(-0.10 0)" font-size="10.2">ADIPOGENESIS</text>
<text transform="translate(168.70 1526.5) scale(0.945 1.077) rotate(-45) translate(-0.10 0)" font-size="10.2">ANGIOGENESIS</text>
<text transform="translate(248.70 1526.5) scale(0.945 1.077) rotate(-45) translate(-0.10 0)" font-size="10.2">APICAL_JUNCTION</text>
<text transform="translate(328.70 1526.5) scale(0.945 1.077) rotate(-45) translate(-0.42 0)" font-size="10.2">COAGULATION</text>
<text transform="translate(408.70 1526.5) scale(0.945 1.077) rotate(-45) translate(-0.29 0)" font-size="10.2">EPITHELIAL_MESENCHYMAL_TRANSITION</text>
<text transform="translate(488.70 1526.5) scale(0.945 1.077) rotate(-45) translate(-0.29 0)" font-size="10.2">HYPOXIA</text>
<text transform="translate(568.70 1526.5) scale(0.945 1.077) rotate(-45) translate(-0.29 0)" font-size="10.2">KRAS_SIGNALING_UP</text>
<text transform="translate(648.70 1526.5) scale(0.945 1.077) rotate(-45) translate(-0.29 0)" font-size="10.2">MITOTIC_SPINDLE</text>
<text transform="translate(728.70 1526.5) scale(0.945 1.077) rotate(-45) translate(-0.29 0)" font-size="10.2">MYOGENESIS</text>
<text transform="translate(808.70 1526.5) scale(0.945 1.077) rotate(-45) translate(-0.29 0)" font-size="10.2">NOTCH_SIGNALING</text>
<text transform="translate(871.58 1568.00) scale(0.8200 1)" font-size="11.500">ns</text>
<text transform="translate(884.75 1568.00) scale(0.8200 1)" font-size="11.500">p &gt; 0.05</text>
<text transform="translate(871.34 1591.90) scale(0.8200 1)" font-size="11.500">*</text>
<text transform="translate(885.65 1591.90) scale(0.8200 1)" font-size="11.500">p &lt; 0.05</text>
<text transform="translate(871.34 1615.90) scale(0.8200 1)" font-size="11.500">**</text>
<text transform="translate(885.65 1615.90) scale(0.8200 1)" font-size="11.500">p &lt; 0.01</text>
<text transform="translate(871.34 1639.60) scale(0.8200 1)" font-size="11.500">***</text>
<text transform="translate(888.25 1639.60) scale(0.8200 1)" font-size="11.500">p &lt; 0.001</text>
<text transform="translate(871.31 1663.40) scale(0.9800 1)" font-size="9.800">Correlation</text>
<defs><linearGradient id="cg" x1="0" y1="1" x2="0" y2="0"><stop offset="0" stop-color="#27348b"/><stop offset="0.25" stop-color="#8d80bb"/><stop offset="0.5" stop-color="#ffffff"/><stop offset="0.75" stop-color="#e0937a"/><stop offset="1" stop-color="#c71f1f"/></linearGradient></defs>
<rect x="871.7" y="1670.5" width="15.3" height="86.5" fill="url(#cg)"/>
<path d="M871.7 1692.1h2.6M884.4 1692.1h2.6M871.7 1735.3h2.6M884.4 1735.3h2.6M871.7 1713.7h2.6M884.4 1713.7h2.6" stroke="#fff" stroke-width="0.8"/>
<text transform="translate(890.54 1673.60) scale(0.8500 1)" font-size="8.900">1.0</text>
<text transform="translate(890.91 1695.15) scale(0.8500 1)" font-size="8.900">0.5</text>
<text transform="translate(890.91 1716.70) scale(0.8500 1)" font-size="8.900">0.0</text>
<text transform="translate(890.82 1738.25) scale(0.8500 1)" font-size="8.900">−0.5</text>
<text transform="translate(890.82 1759.80) scale(0.8500 1)" font-size="8.900">−1.0</text>
</svg>
</body></html>
